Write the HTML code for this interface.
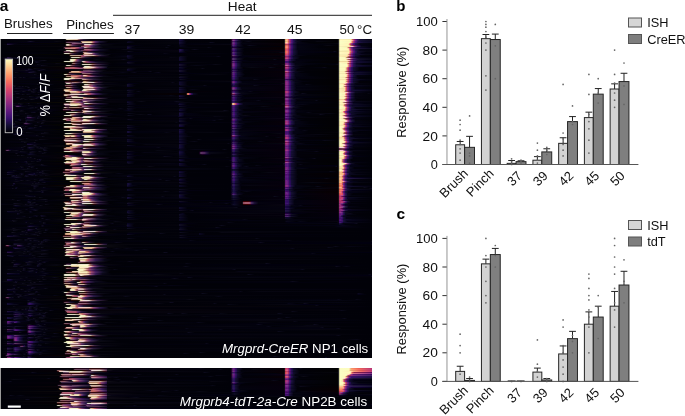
<!DOCTYPE html>
<html><head><meta charset="utf-8"><style>
html,body{margin:0;padding:0;background:#fff}
body{width:685px;height:416px;overflow:hidden;position:relative;font-family:"Liberation Sans",sans-serif}
.hm{position:absolute;overflow:hidden}
.hm i{display:block;height:1px}
svg{position:absolute;left:0;top:0;will-change:transform}
</style></head><body>
<div class="hm" style="left:1px;top:39px;width:371px;height:319px"><i style="background:linear-gradient(90deg,#010108 0.5px,#020209 47.5px,#080716 51.5px,#030309 56.5px,#010108 63.5px,#252119 64.5px,#bbb7aa 65.5px,#dfd7bd 66.5px,#d2c0a8 72.5px,#d1bea6 75.5px,#c7a39a 76.5px,#96726b 77.5px,#593751 79.5px,#21192d 82.5px,#040207 89.5px,#02020d 136.5px,#04030d 177.5px,#140a39 178.5px,#0a0527 181.5px,#02010a 184.5px,#010108 229.5px,#200024 230.5px,#3d1441 231.5px,#520c5f 232.5px,#4c0658 233.5px,#2a094f 234.5px,#050319 238.5px,#010108 250.5px,#050002 282.5px,#221d1f 283.5px,#d49b65 284.5px,#f0b681 285.5px,#ff9484 286.5px,#cd6252 287.5px,#9c3485 288.5px,#841d6e 289.5px,#4d1778 290.5px,#410b6c 291.5px,#21124b 292.5px,#060517 296.5px,#010108 309.5px,#020103 336.5px,#252426 337.5px,#d4ce95 338.5px,#f7f1b8 339.5px,#f4ebae 349.5px,#fab490 350.5px,#c17b56 351.5px,#ad3b75 352.5px,#93215b 353.5px,#591778 354.5px,#4b0a6b 355.5px,#281055 356.5px,#20094d 357.5px,#110b31 358.5px,#030115 366.5px,#020112 370.5px)"></i><i style="background:linear-gradient(90deg,#010108 0.5px,#02010c 13.5px,#020208 63.5px,#1e0b05 70.5px,#250505 77.5px,#180525 80.5px,#030308 99.5px,#05040e 177.5px,#190f3e 178.5px,#0e092b 181.5px,#03020b 184.5px,#010108 229.5px,#27002b 230.5px,#663d6a 231.5px,#813b8d 232.5px,#722c7e 233.5px,#46256a 234.5px,#180f38 237.5px,#060512 240.5px,#050002 282.5px,#252022 283.5px,#e5ac77 284.5px,#ffcb95 285.5px,#ffa797 286.5px,#d96e5e 287.5px,#a33c8d 288.5px,#8a2273 289.5px,#511b7c 290.5px,#430e6e 291.5px,#23154d 292.5px,#070617 296.5px,#010108 309.5px,#02010b 317.5px,#020103 336.5px,#272627 337.5px,#dbd59c 338.5px,#fffac1 339.5px,#fff9bb 349.5px,#ffdab6 350.5px,#f9b38f 351.5px,#d2609a 352.5px,#aa3872 353.5px,#6b298a 354.5px,#581677 355.5px,#30195d 356.5px,#181237 358.5px,#0a091a 370.5px)"></i><i style="background:linear-gradient(90deg,#010108 0.5px,#04040d 25.5px,#15112b 29.5px,#020209 34.5px,#02020d 52.5px,#090812 55.5px,#010106 63.5px,#1f0516 67.5px,#10041e 77.5px,#0c0318 78.5px,#20122c 79.5px,#9c7869 80.5px,#bb9787 81.5px,#be9b78 84.5px,#bc9a76 89.5px,#bd8372 90.5px,#a06555 91.5px,#8d446a 92.5px,#7c345a 93.5px,#592b67 94.5px,#211839 98.5px,#010106 107.5px,#02020a 125.5px,#08051f 127.5px,#010108 133.5px,#03030c 177.5px,#0e082d 178.5px,#010108 186.5px,#010108 229.5px,#1a0029 230.5px,#381646 231.5px,#490f67 232.5px,#430960 233.5px,#250c4d 234.5px,#1d0446 235.5px,#0d082a 236.5px,#010109 242.5px,#090817 247.5px,#010108 251.5px,#040002 282.5px,#211d1f 283.5px,#ce9e69 284.5px,#eaba85 285.5px,#fd9884 286.5px,#ca6551 287.5px,#9e3483 288.5px,#861c6b 289.5px,#4e1778 290.5px,#1a0b44 293.5px,#0f0b2a 294.5px,#010108 301.5px,#020209 313.5px,#070711 316.5px,#020103 336.5px,#262628 337.5px,#d7d89f 338.5px,#fbfcc4 339.5px,#faf4b8 349.5px,#ffac98 350.5px,#d0715d 351.5px,#a43b89 352.5px,#8a216f 353.5px,#501a7a 354.5px,#1c0c48 357.5px,#110b31 360.5px,#08061f 370.5px)"></i><i style="background:linear-gradient(90deg,#010108 0.5px,#030013 27.5px,#02010c 53.5px,#010106 63.5px,#180715 64.5px,#4f3d4a 65.5px,#65435a 66.5px,#64415b 73.5px,#2d2038 78.5px,#2a1c35 79.5px,#5d392d 80.5px,#e4c0af 81.5px,#f4dcb8 82.5px,#f4dab5 89.5px,#efc5b2 90.5px,#cc9180 91.5px,#9f577b 92.5px,#833a60 93.5px,#592b66 94.5px,#191031 98.5px,#010106 106.5px,#03030b 125.5px,#0d0a24 126.5px,#010108 134.5px,#05040d 177.5px,#150f34 178.5px,#0b0824 181.5px,#010109 185.5px,#03020a 207.5px,#0c0b1c 209.5px,#0a091a 211.5px,#010108 214.5px,#010108 229.5px,#1f002d 230.5px,#512f60 231.5px,#662c84 232.5px,#591f77 233.5px,#351c5d 234.5px,#2a1253 235.5px,#181335 236.5px,#03020d 241.5px,#040002 282.5px,#262224 283.5px,#e8b883 284.5px,#ffd9a3 285.5px,#ffb4a0 286.5px,#dd7864 287.5px,#a9408e 288.5px,#8e2573 289.5px,#541d7e 290.5px,#450e6f 291.5px,#25154f 292.5px,#070619 296.5px,#010108 307.5px,#020204 336.5px,#262628 337.5px,#d7d89f 338.5px,#fbfcc4 339.5px,#fef8bb 348.5px,#f5efb3 349.5px,#ffac99 350.5px,#d0715d 351.5px,#a33a88 352.5px,#89216e 353.5px,#501a7a 354.5px,#430d6d 355.5px,#24134f 356.5px,#130e31 362.5px,#0b0922 370.5px)"></i><i style="background:linear-gradient(90deg,#010108 0.5px,#02000a 5.5px,#0a0023 6.5px,#010108 18.5px,#070502 64.5px,#1c1407 67.5px,#2b060a 69.5px,#3b0a2f 70.5px,#7b486d 71.5px,#8b527b 73.5px,#734a5f 79.5px,#523c50 82.5px,#362821 89.5px,#380d1a 91.5px,#260727 93.5px,#040112 99.5px,#020209 126.5px,#04040c 177.5px,#130e2e 178.5px,#01010c 185.5px,#01010b 229.5px,#250032 230.5px,#592e66 231.5px,#73288b 232.5px,#661b7e 233.5px,#3b1a69 234.5px,#300f5e 235.5px,#1a133b 236.5px,#040411 240.5px,#070005 282.5px,#221a20 283.5px,#e27c80 284.5px,#fc9699 285.5px,#f381a5 286.5px,#c55377 287.5px,#843692 288.5px,#6e1f7c 289.5px,#3f1d6c 290.5px,#331160 291.5px,#1d153f 292.5px,#070616 296.5px,#010108 313.5px,#06050c 336.5px,#2a2930 337.5px,#d8d89f 338.5px,#fcfcc3 339.5px,#fcf3b6 347.5px,#ffa8a3 348.5px,#d96f69 349.5px,#a14194 350.5px,#862679 351.5px,#501e7b 352.5px,#23164b 354.5px,#070617 358.5px,#020109 370.5px)"></i><i style="background:linear-gradient(90deg,#010108 0.5px,#07050f 5.5px,#24153e 6.5px,#04030f 13.5px,#03020e 24.5px,#03020e 27.5px,#010106 63.5px,#26241d 64.5px,#c4c2b5 65.5px,#eae2cb 66.5px,#dad2bb 67.5px,#b2888c 68.5px,#83595f 69.5px,#5c284f 71.5px,#360925 75.5px,#1a051a 81.5px,#331d33 82.5px,#cdb7c7 83.5px,#ebdcdd 84.5px,#e6d7ca 88.5px,#c7b9ad 89.5px,#aa7f87 90.5px,#865b65 91.5px,#3d294e 94.5px,#0c0b15 100.5px,#010108 115.5px,#02020b 177.5px,#090424 178.5px,#02010d 184.5px,#070611 229.5px,#280035 230.5px,#4d235a 231.5px,#651a7d 232.5px,#5a0f72 233.5px,#331262 234.5px,#2a0959 235.5px,#140e35 236.5px,#02010e 241.5px,#070005 282.5px,#170f15 283.5px,#a64043 284.5px,#b65053 285.5px,#b54267 286.5px,#9d2b4f 287.5px,#681976 288.5px,#580a67 289.5px,#310f5e 290.5px,#290756 291.5px,#140b36 292.5px,#030213 296.5px,#010108 333.5px,#020108 336.5px,#26252c 337.5px,#d6d59d 338.5px,#faf9c1 339.5px,#fff6ba 346.5px,#f0e7aa 347.5px,#f18782 348.5px,#bd534e 349.5px,#8d2d80 350.5px,#77176a 351.5px,#451470 352.5px,#3b0a66 353.5px,#1e1045 354.5px,#050415 358.5px,#010108 370.5px)"></i><i style="background:linear-gradient(90deg,#010108 0.5px,#020106 63.5px,#281a15 64.5px,#aa9d92 65.5px,#d0b6a1 66.5px,#cab09b 67.5px,#926666 69.5px,#492f50 72.5px,#171123 77.5px,#100a18 79.5px,#2c0717 80.5px,#2b0716 81.5px,#4a0b1e 82.5px,#945266 83.5px,#b45b71 84.5px,#b25a74 87.5px,#a35a83 88.5px,#954c76 89.5px,#6d3b77 90.5px,#3c2259 92.5px,#090816 98.5px,#010108 113.5px,#010109 125.5px,#030017 127.5px,#010108 143.5px,#03020b 165.5px,#0a0919 167.5px,#010108 170.5px,#03020a 177.5px,#09081e 179.5px,#020108 186.5px,#020108 229.5px,#1a002f 230.5px,#45285a 231.5px,#55257d 232.5px,#14102e 236.5px,#020109 242.5px,#03020a 245.5px,#0c0b1c 248.5px,#010108 256.5px,#080003 282.5px,#1e1418 283.5px,#cf5f45 284.5px,#e4745a 285.5px,#e06073 286.5px,#be3f51 287.5px,#7e2784 288.5px,#6a1370 289.5px,#3b146b 290.5px,#320b62 291.5px,#1a113f 292.5px,#040413 296.5px,#010108 321.5px,#080712 326.5px,#020103 336.5px,#262627 337.5px,#dbd59c 338.5px,#fff9c1 339.5px,#fff4b7 347.5px,#fdc89f 348.5px,#c28d64 349.5px,#9b5965 350.5px,#81404b 351.5px,#732052 352.5px,#620f42 353.5px,#400b53 354.5px,#17003b 357.5px,#030215 360.5px,#020109 370.5px)"></i><i style="background:linear-gradient(90deg,#010108 0.5px,#07050a 63.5px,#300707 68.5px,#2e0606 69.5px,#28071d 70.5px,#0c0619 77.5px,#191220 79.5px,#744a5d 80.5px,#a15e72 83.5px,#af576d 85.5px,#a44c67 87.5px,#572562 90.5px,#1e1537 94.5px,#04040d 101.5px,#04040c 125.5px,#120e26 126.5px,#010108 134.5px,#02020a 177.5px,#07061c 179.5px,#010108 187.5px,#010108 229.5px,#3d0c64 232.5px,#17053f 235.5px,#0a0724 236.5px,#010108 243.5px,#010108 281.5px,#080003 282.5px,#21181c 283.5px,#e4755a 284.5px,#fd8e73 285.5px,#f7778a 286.5px,#cc4c5f 287.5px,#87318e 288.5px,#711b77 289.5px,#40186f 290.5px,#350e65 291.5px,#1d1341 292.5px,#050514 296.5px,#010108 319.5px,#020103 336.5px,#252526 337.5px,#d4ce95 338.5px,#f7f1b9 339.5px,#f4e9ad 347.5px,#ffd1a8 349.5px,#ffc3cf 350.5px,#fbb9c5 351.5px,#d380b3 352.5px,#a24f81 353.5px,#6c3880 354.5px,#341d59 356.5px,#0c0a1d 360.5px,#010108 370.5px)"></i><i style="background:linear-gradient(90deg,#010108 0.5px,#010106 61.5px,#1a0614 62.5px,#513e4a 63.5px,#84444c 64.5px,#8c494f 69.5px,#a75b54 70.5px,#ac5d57 73.5px,#9f5577 76.5px,#9a4f72 77.5px,#764177 78.5px,#44225a 81.5px,#4f3a4e 82.5px,#bba6b6 83.5px,#d2afa7 84.5px,#966677 86.5px,#815163 87.5px,#2d1f3f 92.5px,#04040b 102.5px,#04040d 125.5px,#140d34 126.5px,#160f36 127.5px,#02020e 131.5px,#03020a 163.5px,#0a0919 165.5px,#010108 168.5px,#020209 177.5px,#03030f 181.5px,#03020a 205.5px,#090817 207.5px,#010108 211.5px,#010108 229.5px,#240042 232.5px,#01010f 238.5px,#080002 282.5px,#22191d 283.5px,#e7795d 284.5px,#ff9276 285.5px,#fa7a8c 286.5px,#cd4e5f 287.5px,#89328e 288.5px,#731b77 289.5px,#411871 290.5px,#360e66 291.5px,#1d1442 292.5px,#050514 296.5px,#010108 318.5px,#020103 336.5px,#262628 337.5px,#d7d79e 338.5px,#fbfbc3 339.5px,#f7f5b7 345.5px,#f4bc94 346.5px,#be855e 347.5px,#b34672 348.5px,#9a2d59 349.5px,#66227c 350.5px,#59156f 351.5px,#34175c 352.5px,#100630 356.5px,#020013 368.5px,#020012 370.5px)"></i><i style="background:linear-gradient(90deg,#010108 0.5px,#010106 61.5px,#291523 63.5px,#b3747b 64.5px,#ca8a91 65.5px,#cf7f78 73.5px,#9e4759 75.5px,#762b4f 77.5px,#58235a 78.5px,#321049 81.5px,#2b162b 82.5px,#341e34 83.5px,#3e1b19 84.5px,#250725 89.5px,#040211 97.5px,#01000a 124.5px,#04030d 125.5px,#120b32 126.5px,#07041d 129.5px,#010108 135.5px,#010108 229.5px,#150025 230.5px,#3e294e 231.5px,#4c286a 232.5px,#131128 236.5px,#010108 243.5px,#080002 282.5px,#1e1518 283.5px,#cf6144 284.5px,#e4765a 285.5px,#e06172 286.5px,#bf3f51 287.5px,#802884 288.5px,#6b1370 289.5px,#3c146c 290.5px,#330a63 291.5px,#1a103f 292.5px,#040413 296.5px,#010108 327.5px,#020103 336.5px,#262627 337.5px,#d7d69e 338.5px,#fbfbc2 339.5px,#fdfabd 345.5px,#ffe4bc 346.5px,#ffcfa7 347.5px,#e477a3 348.5px,#b34672 349.5px,#74308a 350.5px,#371a5f 352.5px,#1c123c 357.5px,#0c0b1d 370.5px)"></i><i style="background:linear-gradient(90deg,#010108 0.5px,#020207 55.5px,#070710 59.5px,#040207 63.5px,#201b0a 66.5px,#211908 69.5px,#330812 72.5px,#130423 79.5px,#1d051d 81.5px,#3d0a24 82.5px,#8e5973 83.5px,#af647c 84.5px,#a75c76 87.5px,#411b58 93.5px,#130f26 99.5px,#010106 109.5px,#020209 119.5px,#080712 122.5px,#02000b 176.5px,#06040f 177.5px,#1e0e48 178.5px,#22124c 179.5px,#050317 183.5px,#020209 189.5px,#0c0a1c 193.5px,#01010a 198.5px,#010108 229.5px,#190031 230.5px,#3f2057 231.5px,#4f1c7c 232.5px,#451273 233.5px,#271751 234.5px,#1f0e48 235.5px,#110e2b 236.5px,#010108 242.5px,#090005 282.5px,#1c1118 283.5px,#cf4650 284.5px,#e15963 285.5px,#d04d7d 286.5px,#b43262 287.5px,#702486 288.5px,#5d1174 289.5px,#331563 290.5px,#2a0c5a 291.5px,#161037 292.5px,#040413 296.5px,#010108 327.5px,#020103 336.5px,#262628 337.5px,#d9d69d 338.5px,#fefbc2 339.5px,#fff9bc 346.5px,#f7ecb0 347.5px,#f88886 348.5px,#c35350 349.5px,#8d2e86 350.5px,#77186f 351.5px,#431571 352.5px,#380b67 353.5px,#1d1244 354.5px,#060517 358.5px,#02020c 370.5px)"></i><i style="background:linear-gradient(90deg,#010108 0.5px,#030308 55.5px,#03020e 57.5px,#07060a 63.5px,#2b2720 64.5px,#c1bdb1 65.5px,#e3dfc6 66.5px,#dbd3ba 69.5px,#ad8a7b 71.5px,#835560 73.5px,#372346 78.5px,#372246 79.5px,#563855 80.5px,#823750 85.5px,#78335f 89.5px,#441e5c 92.5px,#0d0a21 99.5px,#010106 109.5px,#02010c 137.5px,#06040f 177.5px,#1e0e48 178.5px,#21114b 179.5px,#040317 183.5px,#010108 189.5px,#010108 229.5px,#17002f 230.5px,#35164c 231.5px,#431071 232.5px,#3d0a6a 233.5px,#21104b 234.5px,#190943 235.5px,#0d0a27 236.5px,#010108 243.5px,#02010b 279.5px,#090005 282.5px,#1d1118 283.5px,#d04852 284.5px,#e35b65 285.5px,#d35080 286.5px,#b63363 287.5px,#712688 288.5px,#5e1274 289.5px,#331563 290.5px,#2b0d5b 291.5px,#171037 292.5px,#030211 297.5px,#020103 336.5px,#262527 337.5px,#d5d299 338.5px,#f9f5bd 339.5px,#f7ecaf 347.5px,#ff9a97 348.5px,#d0605e 349.5px,#95368e 350.5px,#7d1e75 351.5px,#471a75 352.5px,#3b0d69 353.5px,#1f1345 354.5px,#060517 358.5px,#03020d 370.5px)"></i><i style="background:linear-gradient(90deg,#010108 0.5px,#010106 61.5px,#1a0714 62.5px,#55424d 63.5px,#7a5567 65.5px,#7d5769 67.5px,#87716f 68.5px,#e1ccc6 69.5px,#e9e3cc 70.5px,#e0dac3 71.5px,#cba79e 72.5px,#9d7972 73.5px,#6a4359 75.5px,#2f2140 78.5px,#1f172a 81.5px,#371313 82.5px,#320809 85.5px,#2b071c 86.5px,#090218 93.5px,#010108 111.5px,#03030b 125.5px,#100d21 127.5px,#010108 133.5px,#05040e 177.5px,#1b123a 178.5px,#0f0b28 181.5px,#03020b 184.5px,#010108 229.5px,#3b0b5e 232.5px,#16033d 235.5px,#0a0623 236.5px,#010108 243.5px,#09000b 282.5px,#1f1422 283.5px,#da5e4c 284.5px,#ef7461 285.5px,#e5617c 286.5px,#c23f59 287.5px,#7e2a89 288.5px,#691574 289.5px,#3a166a 290.5px,#310c61 291.5px,#19113d 292.5px,#030211 297.5px,#03020a 331.5px,#0c0b1c 333.5px,#020103 336.5px,#252325 337.5px,#d2c78e 338.5px,#f4e9b0 339.5px,#f6e8aa 347.5px,#ffc1a2 348.5px,#e18a6c 349.5px,#b4468f 350.5px,#962870 351.5px,#591f81 352.5px,#490f71 353.5px,#271652 354.5px,#1e0d49 355.5px,#110e2c 356.5px,#060512 365.5px,#04040f 370.5px)"></i><i style="background:linear-gradient(90deg,#010108 0.5px,#02010c 9.5px,#020208 57.5px,#010106 61.5px,#2e081d 64.5px,#251011 69.5px,#191406 71.5px,#270505 73.5px,#160520 76.5px,#080213 80.5px,#1c1427 81.5px,#987370 82.5px,#b7928e 83.5px,#ba908c 84.5px,#5b4161 88.5px,#141120 94.5px,#010106 105.5px,#010109 125.5px,#01000f 129.5px,#03020b 177.5px,#0b032b 178.5px,#010108 186.5px,#010108 229.5px,#1a002c 230.5px,#492c5b 231.5px,#5a2a7d 232.5px,#161230 236.5px,#020109 242.5px,#03020a 277.5px,#0b0a1b 280.5px,#120614 282.5px,#271b29 283.5px,#db604d 284.5px,#ef7461 285.5px,#e5617c 286.5px,#c23f59 287.5px,#7d2a89 288.5px,#691574 289.5px,#3a166a 290.5px,#310c61 291.5px,#19113d 292.5px,#030211 297.5px,#01000c 335.5px,#020103 336.5px,#272627 337.5px,#ded39a 338.5px,#fff8bf 339.5px,#fff1b4 347.5px,#ffb394 348.5px,#cc7657 349.5px,#a83a82 350.5px,#8e2068 351.5px,#52187a 352.5px,#450b6d 353.5px,#24134e 354.5px,#1c0a46 355.5px,#0f0b2a 356.5px,#01000d 364.5px,#01010c 370.5px)"></i><i style="background:linear-gradient(90deg,#010108 0.5px,#02020d 30.5px,#010106 61.5px,#23231b 62.5px,#b9b9ac 63.5px,#dadac2 64.5px,#d3d1ba 67.5px,#ba9892 68.5px,#86635f 69.5px,#4b2d47 71.5px,#261733 73.5px,#060409 78.5px,#090207 81.5px,#522518 82.5px,#e8bba9 83.5px,#f3d8b9 84.5px,#f2d1bd 87.5px,#f2d0cd 89.5px,#efc0cb 90.5px,#b58591 91.5px,#864e80 92.5px,#44245d 94.5px,#0f0b23 98.5px,#02010c 105.5px,#02020a 161.5px,#080716 163.5px,#010108 169.5px,#03020e 210.5px,#03020e 213.5px,#010108 229.5px,#1b0031 230.5px,#422158 231.5px,#531c7e 232.5px,#481273 233.5px,#291753 234.5px,#200e4b 235.5px,#120e2d 236.5px,#020109 242.5px,#090006 282.5px,#1d121a 283.5px,#d14858 284.5px,#e45c6b 285.5px,#d25184 286.5px,#b53468 287.5px,#702689 288.5px,#5d1376 289.5px,#331663 290.5px,#2a0d5a 291.5px,#171138 292.5px,#02020f 297.5px,#020103 336.5px,#262627 337.5px,#dbd49b 338.5px,#fff8bf 339.5px,#ffedba 346.5px,#ffe0ad 347.5px,#fb8aa8 348.5px,#c45271 349.5px,#833491 350.5px,#6c1d7b 351.5px,#3c1c6a 352.5px,#31115f 353.5px,#1c143f 354.5px,#020113 360.5px,#01000d 370.5px)"></i><i style="background:linear-gradient(90deg,#010108 0.5px,#050501 62.5px,#131105 67.5px,#2b0908 69.5px,#250722 70.5px,#0e0c11 78.5px,#0e080c 80.5px,#1f191d 81.5px,#946758 82.5px,#b58878 83.5px,#b78775 86.5px,#a67564 87.5px,#6f3f4e 91.5px,#642d60 92.5px,#271b41 96.5px,#090914 103.5px,#0c0a15 107.5px,#010108 110.5px,#02020d 131.5px,#010108 229.5px,#19002f 230.5px,#39184f 231.5px,#491274 232.5px,#420b6d 233.5px,#24124e 234.5px,#1c0946 235.5px,#0e0a29 236.5px,#010108 243.5px,#090005 282.5px,#1b1018 283.5px,#c73e4e 284.5px,#d95060 285.5px,#c8477b 286.5px,#ae2d61 287.5px,#6b2184 288.5px,#590f72 289.5px,#301460 290.5px,#280c58 291.5px,#150f36 292.5px,#02020f 297.5px,#020103 336.5px,#252426 337.5px,#d4cc93 338.5px,#f7efb6 339.5px,#f8efb1 345.5px,#ffdba8 346.5px,#cba572 347.5px,#c3516f 348.5px,#a1304e 349.5px,#6b1c79 350.5px,#5a0b69 351.5px,#31105e 352.5px,#280856 353.5px,#150d38 354.5px,#080715 364.5px,#050511 370.5px)"></i><i style="background:linear-gradient(90deg,#010108 0.5px,#010106 67.5px,#241812 68.5px,#9a8e83 69.5px,#bda58f 70.5px,#c1a08e 78.5px,#b49483 79.5px,#b6687f 80.5px,#a1526a 81.5px,#9c5d76 82.5px,#e3a4ba 83.5px,#e2bcc2 84.5px,#ceb4a6 92.5px,#7c525e 95.5px,#291e3a 100.5px,#010106 108.5px,#030211 125.5px,#0d092a 126.5px,#010108 133.5px,#010109 177.5px,#01010a 183.5px,#010108 229.5px,#1e0125 230.5px,#56395d 231.5px,#6a387b 232.5px,#1b1536 236.5px,#03030e 241.5px,#070009 282.5px,#180e1a 283.5px,#a73876 284.5px,#b74886 285.5px,#a74395 286.5px,#8f2c7e 287.5px,#572480 288.5px,#47146f 289.5px,#271850 290.5px,#080718 294.5px,#010108 306.5px,#020106 336.5px,#262429 337.5px,#d8c991 338.5px,#fbecb3 339.5px,#ffeaad 345.5px,#ffd6b6 346.5px,#ffc6a5 347.5px,#e478a9 348.5px,#b34778 349.5px,#73318d 350.5px,#5e1b77 351.5px,#341b5f 352.5px,#2a1155 353.5px,#191337 354.5px,#04030f 359.5px,#010108 370.5px)"></i><i style="background:linear-gradient(90deg,#010108 0.5px,#010106 67.5px,#2f1609 71.5px,#39190c 79.5px,#8b3c55 80.5px,#94455e 81.5px,#7b3d56 83.5px,#512b37 85.5px,#23120a 91.5px,#28060d 95.5px,#12041f 98.5px,#010108 110.5px,#060514 124.5px,#080716 125.5px,#120d2f 126.5px,#020109 132.5px,#03030a 177.5px,#0e0c1e 179.5px,#010108 187.5px,#03020e 214.5px,#0a0819 217.5px,#010108 220.5px,#010108 229.5px,#370547 232.5px,#160037 235.5px,#030113 238.5px,#010108 279.5px,#130915 283.5px,#8b1c5a 284.5px,#962765 285.5px,#872376 286.5px,#761265 287.5px,#44116d 288.5px,#16073f 291.5px,#0c0825 292.5px,#010108 299.5px,#030207 336.5px,#2a282d 337.5px,#d9ca91 338.5px,#fbecb3 339.5px,#f4dfa2 345.5px,#eca888 346.5px,#b77353 347.5px,#a4396a 348.5px,#8b1f50 349.5px,#561470 350.5px,#4a0763 351.5px,#260d51 352.5px,#1f064a 353.5px,#0f092d 354.5px,#010109 360.5px,#010108 370.5px)"></i><i style="background:linear-gradient(90deg,#010108 0.5px,#080418 5.5px,#291443 6.5px,#2c1847 7.5px,#080717 11.5px,#010106 62.5px,#020104 68.5px,#212122 69.5px,#b8b7a0 70.5px,#d8d6bf 71.5px,#d4d0ba 77.5px,#c4a49b 78.5px,#93736c 79.5px,#603c55 81.5px,#251d35 84.5px,#04030b 91.5px,#03030c 125.5px,#0c0922 126.5px,#010108 134.5px,#020209 167.5px,#070613 169.5px,#04030c 177.5px,#100b2f 178.5px,#010108 186.5px,#010108 229.5px,#2b0449 232.5px,#04011b 237.5px,#020209 245.5px,#04040e 249.5px,#080008 282.5px,#160c16 283.5px,#a62a5a 284.5px,#b43868 285.5px,#a3337c 286.5px,#8f1f68 287.5px,#551879 288.5px,#480b6c 289.5px,#261252 290.5px,#1e0a4a 291.5px,#100c2d 292.5px,#010108 299.5px,#020203 336.5px,#262628 337.5px,#d6d79e 338.5px,#fbfbc3 339.5px,#faf9bc 343.5px,#fed8a8 344.5px,#c49e6d 345.5px,#a0656a 346.5px,#83494e 347.5px,#591e3c 349.5px,#4d0b4a 350.5px,#430240 351.5px,#240343 352.5px,#040119 356.5px,#01000d 370.5px)"></i><i style="background:linear-gradient(90deg,#010108 0.5px,#0d0028 7.5px,#010010 11.5px,#120f27 15.5px,#01010c 24.5px,#040406 68.5px,#22200f 71.5px,#181306 77.5px,#230504 79.5px,#220618 80.5px,#070218 85.5px,#010106 101.5px,#02020b 125.5px,#08061f 127.5px,#010108 133.5px,#04030c 177.5px,#110c30 178.5px,#010108 186.5px,#010108 229.5px,#160027 230.5px,#422b52 231.5px,#512a6f 232.5px,#14112a 236.5px,#010108 243.5px,#080008 282.5px,#190f19 283.5px,#b63a6a 284.5px,#c74b7b 285.5px,#b5448e 286.5px,#9d2c75 287.5px,#5f2284 288.5px,#4e1173 289.5px,#2a1657 290.5px,#220e4f 291.5px,#140f30 292.5px,#020109 298.5px,#020103 336.5px,#262628 337.5px,#d7d79f 338.5px,#fcfcc3 339.5px,#fdfcbf 343.5px,#ffe8b8 345.5px,#ffd5da 346.5px,#fcc0df 348.5px,#c488a6 349.5px,#92508e 350.5px,#753371 351.5px,#492868 352.5px,#1b1139 355.5px,#0e0c23 357.5px,#060512 370.5px)"></i><i style="background:linear-gradient(90deg,#010108 0.5px,#010104 67.5px,#262613 68.5px,#c6c7ae 69.5px,#ebebbd 70.5px,#eae0b3 73.5px,#e49d9b 74.5px,#a55e5f 75.5px,#6e376e 76.5px,#30184c 78.5px,#070612 82.5px,#030208 91.5px,#0a0914 95.5px,#010106 101.5px,#05050e 119.5px,#0d0b1d 122.5px,#01010a 126.5px,#04030d 177.5px,#130d32 178.5px,#010108 186.5px,#010108 229.5px,#180026 230.5px,#462e54 231.5px,#572c72 232.5px,#15122d 236.5px,#020109 242.5px,#03030a 271.5px,#0b0a1a 273.5px,#010108 276.5px,#05000b 282.5px,#100916 283.5px,#721b6e 284.5px,#7c2578 285.5px,#702181 286.5px,#611272 287.5px,#371465 288.5px,#2e0b5c 289.5px,#170f3a 290.5px,#020210 295.5px,#020103 336.5px,#262628 337.5px,#d8d79f 338.5px,#fcfcc3 339.5px,#fff5b9 344.5px,#e9dca0 345.5px,#cf907d 346.5px,#a66754 347.5px,#953f62 348.5px,#7b2548 349.5px,#591262 350.5px,#4d0757 351.5px,#2c0c56 352.5px,#110e2a 358.5px,#080716 370.5px)"></i><i style="background:linear-gradient(90deg,#010108 0.5px,#03020e 36.5px,#0f0d1b 43.5px,#010108 46.5px,#040307 62.5px,#101012 67.5px,#353521 68.5px,#d5d5bc 69.5px,#f9facb 70.5px,#f9f0c3 72.5px,#e0d5a8 73.5px,#cc8584 74.5px,#9f5858 75.5px,#723b72 76.5px,#382154 78.5px,#1f1a33 80.5px,#040309 89.5px,#04030c 177.5px,#100a2f 178.5px,#010108 186.5px,#010108 229.5px,#30054b 232.5px,#110034 235.5px,#05011c 237.5px,#010108 248.5px,#05000b 282.5px,#110a17 283.5px,#792275 284.5px,#852d80 285.5px,#782a8a 286.5px,#671979 287.5px,#3b1869 288.5px,#310e5f 289.5px,#1a123d 290.5px,#030211 295.5px,#020103 336.5px,#262627 337.5px,#d6d69d 338.5px,#fafac1 339.5px,#fff5b9 345.5px,#ffdcc9 346.5px,#ffd1be 347.5px,#f7a1c4 348.5px,#bd678a 349.5px,#853f8f 350.5px,#401f69 352.5px,#0f0b2d 356.5px,#020113 365.5px,#020110 370.5px)"></i><i style="background:linear-gradient(90deg,#010108 0.5px,#010108 3.5px,#1a0014 5.5px,#2c002f 6.5px,#2a002e 7.5px,#09001f 8.5px,#010109 16.5px,#02020a 21.5px,#030112 23.5px,#010109 25.5px,#120f1f 27.5px,#01000a 29.5px,#03030a 33.5px,#0b081d 34.5px,#010108 41.5px,#010106 61.5px,#23231b 62.5px,#b9b9ac 63.5px,#dadac2 64.5px,#e4e1c8 71.5px,#d3b0a3 72.5px,#a38074 73.5px,#6a4158 75.5px,#2b1f3c 78.5px,#241835 79.5px,#3a3537 80.5px,#c1bbb9 81.5px,#f1cbc6 82.5px,#dfb2ad 83.5px,#c17488 84.5px,#9c4e65 85.5px,#4d1d54 88.5px,#0e0523 94.5px,#010106 107.5px,#010109 125.5px,#030019 127.5px,#01010b 137.5px,#010108 229.5px,#1f002e 230.5px,#502d5f 231.5px,#652a84 232.5px,#581d77 233.5px,#331b5d 234.5px,#291153 235.5px,#171234 236.5px,#03020e 241.5px,#04000d 282.5px,#0a0513 283.5px,#440b6b 284.5px,#41136f 286.5px,#390b67 287.5px,#1e1145 288.5px,#050415 292.5px,#010108 312.5px,#030103 336.5px,#232123 337.5px,#ceba82 338.5px,#eedaa2 339.5px,#eed89b 345.5px,#f0b792 346.5px,#bd845f 347.5px,#af446f 348.5px,#922752 349.5px,#5d1773 350.5px,#4f0965 351.5px,#290f54 352.5px,#120a34 355.5px,#07061b 370.5px)"></i><i style="background:linear-gradient(90deg,#010108 0.5px,#010108 3.5px,#20031a 4.5px,#5a3d54 5.5px,#6d3e71 6.5px,#59295d 7.5px,#261b3c 8.5px,#090717 10.5px,#03030a 17.5px,#040213 22.5px,#0c0a1b 23.5px,#010109 25.5px,#010109 33.5px,#0f0c22 35.5px,#010108 39.5px,#050501 62.5px,#121305 69.5px,#1b1807 71.5px,#2f0c07 72.5px,#2b0906 73.5px,#29071a 74.5px,#160524 77.5px,#0a031d 79.5px,#090408 80.5px,#1f1a1d 81.5px,#794c4b 82.5px,#845756 83.5px,#92445b 85.5px,#874371 86.5px,#84416e 87.5px,#4b2e5e 90.5px,#161226 97.5px,#010106 109.5px,#04040c 125.5px,#140f29 126.5px,#010108 134.5px,#02020a 177.5px,#070613 180.5px,#010108 211.5px,#010108 229.5px,#1b002a 230.5px,#391648 231.5px,#4b106a 232.5px,#440963 233.5px,#260d4f 234.5px,#1e0548 235.5px,#0e092b 236.5px,#010109 242.5px,#04000d 282.5px,#0b0614 283.5px,#4a1171 284.5px,#471975 286.5px,#3d0f6b 287.5px,#211548 288.5px,#060516 292.5px,#010108 307.5px,#030103 336.5px,#272527 337.5px,#e4d097 338.5px,#fff4bc 339.5px,#fff3b6 345.5px,#ffe1bc 346.5px,#ffd0ab 347.5px,#e97ea9 348.5px,#b54a75 349.5px,#77318c 350.5px,#611b77 351.5px,#351b60 352.5px,#150e37 355.5px,#07061b 370.5px)"></i><i style="background:linear-gradient(90deg,#010108 0.5px,#03030a 15.5px,#03020e 17.5px,#04030d 19.5px,#0f0c21 20.5px,#020209 23.5px,#04040c 27.5px,#100e1e 28.5px,#010108 31.5px,#03020e 43.5px,#03020a 53.5px,#0a0913 55.5px,#010105 64.5px,#020104 69.5px,#250d0f 70.5px,#7d6563 71.5px,#9d7070 72.5px,#936766 73.5px,#664761 74.5px,#2c213c 76.5px,#0b0b08 80.5px,#1a1707 85.5px,#1c1106 89.5px,#2a0605 91.5px,#150420 96.5px,#010108 111.5px,#03020f 125.5px,#0d0b1e 127.5px,#010108 134.5px,#02010a 177.5px,#05001e 178.5px,#010108 190.5px,#010108 229.5px,#27002a 230.5px,#57295b 231.5px,#732282 232.5px,#661576 233.5px,#3b146a 234.5px,#310a61 235.5px,#18103b 236.5px,#040311 240.5px,#06000b 282.5px,#110a16 283.5px,#7c1f6d 284.5px,#882a78 285.5px,#7b2684 286.5px,#6a1573 287.5px,#3c146b 288.5px,#330b62 289.5px,#1b1140 290.5px,#040413 294.5px,#010108 333.5px,#020108 336.5px,#26252d 337.5px,#d7d89f 338.5px,#fbfcc4 339.5px,#f4f2b5 345.5px,#efa087 346.5px,#ba6b52 347.5px,#9f3479 348.5px,#851a60 349.5px,#4d1572 350.5px,#410967 351.5px,#21104a 352.5px,#090524 355.5px,#02010c 362.5px,#01010a 370.5px)"></i><i style="background:linear-gradient(90deg,#010108 0.5px,#04030c 19.5px,#0d0a1f 20.5px,#010108 23.5px,#04030c 35.5px,#0d0c1a 36.5px,#02020a 40.5px,#040307 64.5px,#0d0c0e 69.5px,#2d0606 73.5px,#1e051c 74.5px,#03010f 79.5px,#232320 80.5px,#b9b9b0 81.5px,#dcdac4 82.5px,#ddd2bc 88.5px,#977069 91.5px,#533551 95.5px,#1f162f 101.5px,#010106 108.5px,#01000e 129.5px,#05040d 177.5px,#1a1232 178.5px,#0f0b23 181.5px,#010108 186.5px,#03020e 210.5px,#0a0915 214.5px,#010108 222.5px,#010108 229.5px,#28002b 230.5px,#5d2f61 231.5px,#7a2989 232.5px,#6c1b7c 233.5px,#3f186e 234.5px,#340d63 235.5px,#1b123e 236.5px,#040412 240.5px,#02020a 271.5px,#080716 273.5px,#010108 279.5px,#130b17 283.5px,#832674 284.5px,#903280 285.5px,#822e8b 286.5px,#6f1b78 287.5px,#40186f 288.5px,#360e64 289.5px,#1d1342 290.5px,#050514 294.5px,#010108 319.5px,#03020e 334.5px,#0b0a11 336.5px,#28272e 337.5px,#d7d89f 338.5px,#fbfcc4 339.5px,#fefbbe 345.5px,#ffd4bb 346.5px,#ee9f86 347.5px,#bd5398 348.5px,#9b3075 349.5px,#5d2482 350.5px,#4b1370 351.5px,#281751 352.5px,#0e0b2a 355.5px,#04030f 361.5px,#02020b 370.5px)"></i><i style="background:linear-gradient(90deg,#010108 0.5px,#050310 39.5px,#100d1f 40.5px,#010108 47.5px,#010106 63.5px,#24221c 64.5px,#bab8ad 65.5px,#dbd9c2 66.5px,#decbb8 68.5px,#ac9988 69.5px,#8b616e 70.5px,#6f4553 71.5px,#2c1e3b 74.5px,#080810 80.5px,#23231d 83.5px,#281608 89.5px,#310706 91.5px,#21061f 94.5px,#050215 103.5px,#010108 111.5px,#02020c 129.5px,#05040d 177.5px,#16102d 178.5px,#010109 186.5px,#070714 195.5px,#010108 206.5px,#010108 229.5px,#28002c 230.5px,#5f3264 231.5px,#7b2c8d 232.5px,#6d1e7f 233.5px,#3f1b6e 234.5px,#340f63 235.5px,#1c143e 236.5px,#050411 240.5px,#060008 282.5px,#1a121c 283.5px,#b2517e 284.5px,#c66491 285.5px,#b7599d 286.5px,#993b7f 287.5px,#602f7d 288.5px,#2d1b53 290.5px,#0a091a 294.5px,#010108 305.5px,#020204 336.5px,#262628 337.5px,#d7d89f 338.5px,#fbfcc4 339.5px,#fdfcbf 345.5px,#ffdfb3 346.5px,#dca377 347.5px,#c24c89 348.5px,#a12b68 349.5px,#602082 350.5px,#4e0e71 351.5px,#291556 352.5px,#150f36 355.5px,#08071a 370.5px)"></i><i style="background:linear-gradient(90deg,#010108 0.5px,#03020f 18.5px,#03030b 20.5px,#03020e 27.5px,#02010e 38.5px,#0b0904 64.5px,#191707 67.5px,#2c0712 71.5px,#1c0521 73.5px,#04030b 80.5px,#05050d 81.5px,#302f29 82.5px,#c8c7bc 83.5px,#e9e9d0 84.5px,#e7e7cc 87.5px,#e4d2b9 88.5px,#9d716d 91.5px,#482f52 96.5px,#0e0c1a 105.5px,#010106 107.5px,#02010a 177.5px,#05001c 179.5px,#010108 189.5px,#010108 229.5px,#25002a 230.5px,#522557 231.5px,#6c1c7e 232.5px,#601172 233.5px,#371266 234.5px,#2e095c 235.5px,#160e39 236.5px,#030310 240.5px,#060008 282.5px,#100711 283.5px,#751341 284.5px,#75175b 286.5px,#680b4e 287.5px,#3d0c5a 288.5px,#090523 292.5px,#010108 300.5px,#020103 336.5px,#262628 337.5px,#d7d79f 338.5px,#fbfcc3 339.5px,#fafabc 345.5px,#ffd9ad 346.5px,#d89f73 347.5px,#bf4a86 348.5px,#9e2966 349.5px,#5e1e81 350.5px,#4d0d70 351.5px,#281455 352.5px,#0f0830 355.5px,#040316 370.5px)"></i><i style="background:linear-gradient(90deg,#010108 0.5px,#060105 62.5px,#130d12 63.5px,#83374b 64.5px,#954258 67.5px,#9d4656 68.5px,#b15a69 69.5px,#b55b68 72.5px,#591b3f 78.5px,#451434 80.5px,#5d2b4b 81.5px,#debaab 82.5px,#f6e1d1 83.5px,#f6e4c0 85.5px,#f5dec0 89.5px,#f5dad3 90.5px,#efc4cb 92.5px,#955c79 95.5px,#553860 98.5px,#161126 105.5px,#05050a 106.5px,#04040c 177.5px,#120e2d 178.5px,#010108 186.5px,#010108 229.5px,#1c0030 230.5px,#452359 231.5px,#571d81 232.5px,#4d1376 233.5px,#2b1756 234.5px,#220e4e 235.5px,#130f2e 236.5px,#020109 242.5px,#080813 250.5px,#010108 266.5px,#0c0b1c 269.5px,#010108 275.5px,#070009 282.5px,#170e19 283.5px,#a63370 284.5px,#b6437f 285.5px,#a53d8f 286.5px,#8f2779 287.5px,#56207f 288.5px,#47106f 289.5px,#261650 290.5px,#070618 294.5px,#010108 305.5px,#03020e 320.5px,#0a0819 323.5px,#010108 326.5px,#020103 336.5px,#262527 337.5px,#d5d39a 338.5px,#f9f7be 339.5px,#faf7b9 343.5px,#ffe4b0 344.5px,#eec08d 345.5px,#dc6492 346.5px,#b33b69 347.5px,#6f2889 348.5px,#5a1475 349.5px,#30175e 350.5px,#260e54 351.5px,#151032 352.5px,#03020b 358.5px,#010108 370.5px)"></i><i style="background:linear-gradient(90deg,#010108 0.5px,#040211 26.5px,#0e0d1b 27.5px,#010108 31.5px,#0a0915 33.5px,#020209 41.5px,#060105 62.5px,#181116 63.5px,#9b4f62 64.5px,#ae6174 65.5px,#b35965 73.5px,#9f597b 77.5px,#8c5b79 80.5px,#7d4c6b 81.5px,#7d594e 82.5px,#a88376 83.5px,#b58e6d 86.5px,#a67b60 89.5px,#5a2e3b 93.5px,#350a34 97.5px,#060217 104.5px,#010106 109.5px,#03020a 125.5px,#0a0919 127.5px,#010108 137.5px,#02020b 177.5px,#080423 178.5px,#07051f 181.5px,#010108 184.5px,#03030a 199.5px,#0b0a1a 201.5px,#010108 204.5px,#010108 229.5px,#1a002f 230.5px,#3c1a50 231.5px,#4d1376 232.5px,#450b6f 233.5px,#251251 234.5px,#1d0a49 235.5px,#0f0b2b 236.5px,#010108 242.5px,#070009 282.5px,#140b16 283.5px,#972460 284.5px,#a3306d 285.5px,#942d7e 286.5px,#811a6b 287.5px,#4c1674 288.5px,#190943 291.5px,#0e0a28 292.5px,#010108 299.5px,#010108 335.5px,#020103 336.5px,#262628 337.5px,#d9d69e 338.5px,#fdfbc2 339.5px,#fefbbd 343.5px,#ffe3af 344.5px,#d9ab77 345.5px,#c8507e 346.5px,#a52d5c 347.5px,#651e80 348.5px,#540d6e 349.5px,#2c1359 350.5px,#230a51 351.5px,#120d2f 352.5px,#01010a 358.5px,#010108 370.5px)"></i><i style="background:linear-gradient(90deg,#010108 0.5px,#03020e 8.5px,#0a0819 11.5px,#010108 14.5px,#09011b 26.5px,#1d162f 27.5px,#140e2b 29.5px,#04030d 32.5px,#040115 38.5px,#100e1d 42.5px,#010108 45.5px,#0d050d 81.5px,#25061f 83.5px,#160524 91.5px,#010107 104.5px,#04040d 125.5px,#130e2f 126.5px,#07061c 129.5px,#010108 135.5px,#02010a 177.5px,#05001e 178.5px,#010108 190.5px,#010108 229.5px,#2d0a55 232.5px,#04021a 237.5px,#010108 246.5px,#05000b 282.5px,#0f0816 283.5px,#6c1a6e 284.5px,#772479 285.5px,#6c2082 286.5px,#5c1172 287.5px,#341463 288.5px,#2b0b5a 289.5px,#160f38 290.5px,#02010a 296.5px,#020103 336.5px,#262627 337.5px,#d6d59c 338.5px,#faf9c1 339.5px,#fbfabc 343.5px,#ffe3b1 344.5px,#e1b381 345.5px,#ce5585 346.5px,#aa3060 347.5px,#672183 348.5px,#540f71 349.5px,#2c145a 350.5px,#230c51 351.5px,#130e30 352.5px,#01010a 358.5px,#010108 370.5px)"></i><i style="background:linear-gradient(90deg,#010108 0.5px,#090814 23.5px,#120f24 25.5px,#05001b 28.5px,#010108 35.5px,#131025 38.5px,#020010 42.5px,#050207 69.5px,#0f090d 78.5px,#160f16 81.5px,#593751 82.5px,#633f5a 87.5px,#1c172b 94.5px,#020106 106.5px,#03020b 125.5px,#0b0627 126.5px,#010108 133.5px,#05040d 177.5px,#1a1232 178.5px,#0f0b23 181.5px,#010108 186.5px,#010108 229.5px,#13002a 230.5px,#37224d 231.5px,#43206b 232.5px,#0a0820 237.5px,#010108 243.5px,#05000b 282.5px,#110a17 283.5px,#732075 284.5px,#7e2c80 285.5px,#732789 286.5px,#621678 287.5px,#381866 288.5px,#2e0e5d 289.5px,#19113a 290.5px,#02020b 296.5px,#020103 336.5px,#262627 337.5px,#d7d69e 338.5px,#fcfbc2 339.5px,#fcfabd 343.5px,#ffe2af 344.5px,#e6b886 345.5px,#d35a89 346.5px,#ac3262 347.5px,#682385 348.5px,#561072 349.5px,#2d155a 350.5px,#240c52 351.5px,#130e31 352.5px,#03020e 357.5px,#010108 370.5px)"></i><i style="background:linear-gradient(90deg,#010108 0.5px,#040014 27.5px,#0f0c22 32.5px,#01010a 35.5px,#050205 67.5px,#260505 68.5px,#421d15 69.5px,#d3a181 70.5px,#ecbd9c 71.5px,#e9b492 77.5px,#ac5d54 79.5px,#8f4268 80.5px,#873a60 81.5px,#7e3e72 83.5px,#623e61 91.5px,#26193a 95.5px,#05040c 102.5px,#03020e 146.5px,#0b091b 149.5px,#010108 151.5px,#05040d 177.5px,#17112e 178.5px,#010108 186.5px,#010108 229.5px,#400d64 232.5px,#39075e 233.5px,#180441 235.5px,#0b0725 236.5px,#010108 243.5px,#070008 282.5px,#1b121c 283.5px,#b9527a 284.5px,#cc658e 285.5px,#be599d 286.5px,#9f3a7e 287.5px,#642d84 288.5px,#2e1a57 290.5px,#0a091b 294.5px,#010108 304.5px,#020103 336.5px,#252426 337.5px,#d4cd94 338.5px,#f7f0b7 339.5px,#fbeeb1 342.5px,#ede0a3 343.5px,#d2937f 344.5px,#a46651 345.5px,#90385e 346.5px,#771f45 347.5px,#531060 348.5px,#480555 349.5px,#25094b 350.5px,#090228 353.5px,#020110 370.5px)"></i><i style="background:linear-gradient(90deg,#010108 0.5px,#04030b 13.5px,#0d0c19 14.5px,#010108 18.5px,#060216 26.5px,#1c1435 28.5px,#02010a 36.5px,#040104 66.5px,#181518 67.5px,#906b60 68.5px,#a78175 69.5px,#bd8b6c 71.5px,#bf8969 77.5px,#ca7b71 78.5px,#bd6d64 79.5px,#9c5075 80.5px,#501950 85.5px,#1c062a 92.5px,#070514 99.5px,#010108 115.5px,#070615 121.5px,#010108 128.5px,#0a0819 133.5px,#010108 136.5px,#010108 151.5px,#0a0819 157.5px,#010108 160.5px,#020109 177.5px,#04001b 179.5px,#010108 190.5px,#010108 203.5px,#03020d 227.5px,#010108 229.5px,#1b002e 230.5px,#492b5c 231.5px,#5b287f 232.5px,#151130 236.5px,#020109 242.5px,#070008 282.5px,#120913 283.5px,#851d46 284.5px,#872265 286.5px,#761155 287.5px,#450f65 288.5px,#0b0727 292.5px,#010109 299.5px,#020103 336.5px,#262627 337.5px,#dbd49b 338.5px,#fff8bf 339.5px,#fff6b9 343.5px,#ffddc8 344.5px,#ffd2bd 345.5px,#f9a1c7 346.5px,#bd658b 347.5px,#823e8f 348.5px,#3c2062 350.5px,#160f34 353.5px,#060615 370.5px)"></i><i style="background:linear-gradient(90deg,#010108 0.5px,#03030a 23.5px,#04030b 41.5px,#0d0c1a 42.5px,#010108 46.5px,#050501 62.5px,#160f05 65.5px,#270505 67.5px,#26061d 68.5px,#100818 75.5px,#0e0810 79.5px,#2b0f1a 80.5px,#755a62 81.5px,#93636a 82.5px,#895d6c 88.5px,#342443 92.5px,#070610 99.5px,#020209 125.5px,#020109 133.5px,#03020e 141.5px,#010109 177.5px,#010010 181.5px,#020209 219.5px,#02010c 223.5px,#010108 229.5px,#1e002f 230.5px,#452057 231.5px,#59197f 232.5px,#4f0f74 233.5px,#2c145a 234.5px,#230b51 235.5px,#120e30 236.5px,#010108 243.5px,#06000a 282.5px,#140b17 283.5px,#8d2670 284.5px,#9a337d 285.5px,#8c2f8a 286.5px,#791c77 287.5px,#471875 288.5px,#3b0c69 289.5px,#1f1346 290.5px,#060516 294.5px,#010108 309.5px,#020103 336.5px,#252426 337.5px,#d3cb92 338.5px,#f5edb5 339.5px,#f4eaac 343.5px,#f3c298 344.5px,#bc8b62 345.5px,#b04a6a 346.5px,#912b4b 347.5px,#611770 348.5px,#530861 349.5px,#2b0e56 350.5px,#23054e 351.5px,#100931 352.5px,#030313 370.5px)"></i><i style="background:linear-gradient(90deg,#010108 0.5px,#040211 32.5px,#0e0d1c 33.5px,#010108 36.5px,#010106 61.5px,#23231b 62.5px,#b9b9ac 63.5px,#dcd5bd 64.5px,#c6bea8 65.5px,#86605f 67.5px,#4a304f 70.5px,#150f19 77.5px,#100a12 79.5px,#380913 83.5px,#2a0611 89.5px,#0f0420 92.5px,#010106 106.5px,#04030b 177.5px,#0f0c21 178.5px,#010108 188.5px,#070611 213.5px,#010108 229.5px,#1e0030 230.5px,#482359 231.5px,#5c1c82 232.5px,#511177 233.5px,#2d155b 234.5px,#240d52 235.5px,#130f31 236.5px,#010108 244.5px,#06000a 282.5px,#130b17 283.5px,#8c246e 284.5px,#98317b 285.5px,#8a2d88 286.5px,#771a75 287.5px,#451774 288.5px,#3a0c69 289.5px,#1e1345 290.5px,#050515 294.5px,#010108 310.5px,#020103 336.5px,#272627 337.5px,#dcd49b 338.5px,#fff9c0 339.5px,#fff8bb 343.5px,#ffddb4 345.5px,#fe98b8 346.5px,#c25c7c 347.5px,#833891 348.5px,#6a2079 349.5px,#3b1d65 350.5px,#150e35 353.5px,#050515 370.5px)"></i><i style="background:linear-gradient(90deg,#010108 0.5px,#030211 16.5px,#03020e 19.5px,#040211 42.5px,#0f0d1c 43.5px,#010108 46.5px,#040307 62.5px,#300d07 66.5px,#2e0806 68.5px,#3d170c 69.5px,#a4564c 70.5px,#b5645a 72.5px,#b55c60 77.5px,#ae5973 78.5px,#aa556f 79.5px,#854673 80.5px,#854773 81.5px,#e9bbaf 82.5px,#f2d0c3 83.5px,#efc5b5 84.5px,#da9e90 85.5px,#b66271 86.5px,#974252 87.5px,#4d1840 90.5px,#0e0322 96.5px,#010106 108.5px,#03020e 118.5px,#03020e 121.5px,#010109 177.5px,#01010a 182.5px,#010108 229.5px,#1a002f 230.5px,#3a184f 231.5px,#4b1275 232.5px,#440b6e 233.5px,#251250 234.5px,#1d0948 235.5px,#0e0b2a 236.5px,#010108 243.5px,#06000a 282.5px,#150c18 283.5px,#932c76 284.5px,#a13a84 285.5px,#923690 286.5px,#7e227c 287.5px,#4a1c78 288.5px,#3d0f6b 289.5px,#211548 290.5px,#060616 294.5px,#010108 309.5px,#020103 336.5px,#262628 337.5px,#d8d79e 338.5px,#fdfbc3 339.5px,#fff5bb 344.5px,#f2e0a7 345.5px,#ee7988 346.5px,#bb4655 347.5px,#7c2987 348.5px,#671471 349.5px,#371566 350.5px,#2d0c5d 351.5px,#171038 352.5px,#040411 356.5px,#010108 370.5px)"></i><i style="background:linear-gradient(90deg,#010108 0.5px,#02010e 19.5px,#03020e 25.5px,#010105 63.5px,#25140e 64.5px,#8e7d74 65.5px,#b28f7e 66.5px,#b79182 69.5px,#df9286 70.5px,#dc8b81 75.5px,#b96064 77.5px,#943f5a 79.5px,#753764 80.5px,#743663 81.5px,#976960 82.5px,#a66b5e 85.5px,#af5a6a 87.5px,#a15b7c 88.5px,#8c577d 90.5px,#3f2a50 94.5px,#0b0b15 102.5px,#010108 114.5px,#020209 134.5px,#03030a 177.5px,#0c0a1d 179.5px,#010108 188.5px,#010108 229.5px,#1c0031 230.5px,#442259 231.5px,#551d80 232.5px,#4b1275 233.5px,#2a1755 234.5px,#210e4c 235.5px,#120e2d 236.5px,#020109 242.5px,#06000a 282.5px,#120a16 283.5px,#841d67 284.5px,#902973 285.5px,#822680 286.5px,#71156f 287.5px,#41136e 288.5px,#370964 289.5px,#1c1042 290.5px,#040414 294.5px,#010108 318.5px,#020103 336.5px,#262627 337.5px,#d6d59c 338.5px,#faf9c0 339.5px,#fff1b7 344.5px,#f3e2a8 345.5px,#f58190 346.5px,#bf4b5a 347.5px,#7f2c8a 348.5px,#691674 349.5px,#381667 350.5px,#2e0c5d 351.5px,#171138 352.5px,#040310 356.5px,#010108 370.5px)"></i><i style="background:linear-gradient(90deg,#010108 0.5px,#050212 12.5px,#100e1d 13.5px,#010108 16.5px,#100d1d 19.5px,#04030e 21.5px,#0f0d20 22.5px,#010108 25.5px,#090915 33.5px,#030213 35.5px,#090818 39.5px,#010108 42.5px,#050501 62.5px,#1e1c08 67.5px,#211b08 68.5px,#3a341f 69.5px,#bea17b 70.5px,#d3b68f 71.5px,#cc9b80 72.5px,#b07f66 73.5px,#995152 75.5px,#60263a 79.5px,#240d36 86.5px,#03020b 99.5px,#020209 125.5px,#050510 128.5px,#04040c 177.5px,#140f2a 178.5px,#010108 187.5px,#010108 229.5px,#160031 230.5px,#33174e 231.5px,#401371 232.5px,#390c6a 233.5px,#1f1246 234.5px,#050413 238.5px,#010108 269.5px,#05000b 282.5px,#110a17 283.5px,#752074 284.5px,#802b7f 285.5px,#752888 286.5px,#641777 287.5px,#391768 288.5px,#2f0d5f 289.5px,#19123c 290.5px,#030211 295.5px,#020103 336.5px,#252526 337.5px,#d4ce95 338.5px,#f8f1b8 339.5px,#f3e9ac 343.5px,#e7ad8d 344.5px,#b47959 345.5px,#a43e69 346.5px,#87214d 347.5px,#56136c 348.5px,#490760 349.5px,#250c4e 350.5px,#1d0546 351.5px,#0d082a 352.5px,#010109 358.5px,#010108 370.5px)"></i><i style="background:linear-gradient(90deg,#010108 0.5px,#070614 7.5px,#02000f 12.5px,#03020c 21.5px,#030013 23.5px,#03020e 26.5px,#020112 35.5px,#010106 61.5px,#25251d 62.5px,#c5c5b8 63.5px,#e9e9ce 64.5px,#e7e1c6 69.5px,#f5e0b8 71.5px,#ecbea3 73.5px,#d99190 74.5px,#c18797 78.5px,#6c406a 83.5px,#2b1d3d 88.5px,#05040c 99.5px,#020109 177.5px,#04001a 179.5px,#010108 191.5px,#010108 229.5px,#160031 230.5px,#351950 231.5px,#421573 232.5px,#3b0e6c 233.5px,#201448 234.5px,#050414 238.5px,#010108 264.5px,#05000b 282.5px,#100916 283.5px,#711c70 284.5px,#7c267a 285.5px,#702383 286.5px,#601373 287.5px,#361466 288.5px,#2d0b5d 289.5px,#18103a 290.5px,#030211 295.5px,#020103 336.5px,#262627 337.5px,#dad49b 338.5px,#fff8bf 339.5px,#fff7ba 343.5px,#ffe2c1 344.5px,#ffd2b2 345.5px,#ed87b2 346.5px,#b6507b 347.5px,#76348c 348.5px,#5f1d76 349.5px,#341c5d 350.5px,#291153 351.5px,#171234 352.5px,#03020d 357.5px,#010108 370.5px)"></i><i style="background:linear-gradient(90deg,#010108 0.5px,#02010f 5.5px,#03020e 19.5px,#010108 37.5px,#100c25 39.5px,#02000e 41.5px,#010106 61.5px,#25251d 62.5px,#c5c5b8 63.5px,#e9e9cf 64.5px,#dfddc4 67.5px,#b99594 68.5px,#896566 69.5px,#503651 71.5px,#211c29 74.5px,#0e0b10 79.5px,#2e1d18 80.5px,#9b8a81 81.5px,#be9d8b 82.5px,#bc948a 84.5px,#a0786f 85.5px,#75495c 87.5px,#2b1e3d 92.5px,#05050d 102.5px,#03030b 177.5px,#100e22 179.5px,#010108 186.5px,#010108 229.5px,#0f0029 230.5px,#2b1a45 231.5px,#34195f 232.5px,#2e1359 233.5px,#1b143b 234.5px,#050410 238.5px,#03020a 251.5px,#0b0a1a 253.5px,#010108 259.5px,#090411 283.5px,#3f0755 284.5px,#350555 287.5px,#16023d 289.5px,#0a0524 290.5px,#010108 298.5px,#020103 336.5px,#242325 337.5px,#d2c48c 338.5px,#f3e6ad 339.5px,#f5e7a9 343.5px,#ffcfa0 344.5px,#d0996a 345.5px,#bd497c 346.5px,#9d285c 347.5px,#5d1b7c 348.5px,#4d0b6d 349.5px,#271253 350.5px,#1f0a4b 351.5px,#100c2e 352.5px,#050511 365.5px,#04040f 370.5px)"></i><i style="background:linear-gradient(90deg,#010108 0.5px,#070614 4.5px,#03030b 11.5px,#03020a 37.5px,#0b0820 38.5px,#010108 46.5px,#050501 62.5px,#141105 67.5px,#250506 68.5px,#230504 69.5px,#17041b 70.5px,#030106 79.5px,#300f08 83.5px,#2f0706 85.5px,#1d051e 89.5px,#02010c 99.5px,#010109 177.5px,#010011 181.5px,#03020a 225.5px,#010108 229.5px,#270c52 232.5px,#22074d 233.5px,#110a31 234.5px,#010109 240.5px,#04000b 282.5px,#0e0a16 283.5px,#5d2573 284.5px,#68307d 285.5px,#4e1d6d 287.5px,#2f1b56 288.5px,#0a091b 292.5px,#010109 301.5px,#020103 336.5px,#272527 337.5px,#dfd199 338.5px,#fff6bd 339.5px,#fff6b8 343.5px,#ffe2b4 344.5px,#f6bf91 345.5px,#d66195 346.5px,#ab376a 347.5px,#682687 348.5px,#541273 349.5px,#2c1758 350.5px,#230e4f 351.5px,#130f30 352.5px,#010010 359.5px,#01010c 370.5px)"></i><i style="background:linear-gradient(90deg,#010108 0.5px,#03020e 10.5px,#03020e 26.5px,#040107 63.5px,#23050e 64.5px,#2a0605 75.5px,#19051a 79.5px,#100309 80.5px,#2e2127 81.5px,#aa8d69 82.5px,#c1a47f 83.5px,#c09b7e 84.5px,#a17b60 85.5px,#4e3b45 88.5px,#2c2527 91.5px,#261310 93.5px,#270617 95.5px,#140421 97.5px,#010108 104.5px,#03020a 133.5px,#03020d 135.5px,#03020b 177.5px,#090524 178.5px,#010108 187.5px,#060610 229.5px,#290033 230.5px,#51265c 231.5px,#691e7f 232.5px,#5d1273 233.5px,#351364 234.5px,#2c0a5b 235.5px,#160f37 236.5px,#02020f 241.5px,#06000b 282.5px,#110916 283.5px,#7a1e6f 284.5px,#85297a 285.5px,#782585 286.5px,#671475 287.5px,#3b146b 288.5px,#310b61 289.5px,#19113d 290.5px,#050415 294.5px,#010108 310.5px,#020103 336.5px,#262628 337.5px,#d7d79f 338.5px,#fcfcc3 339.5px,#fbfabc 343.5px,#ffd6a8 344.5px,#c4986a 345.5px,#b74772 346.5px,#982853 347.5px,#5d1877 348.5px,#4e0968 349.5px,#271053 350.5px,#1f084b 351.5px,#0f0a2c 352.5px,#020109 358.5px,#010108 370.5px)"></i><i style="background:linear-gradient(90deg,#010108 0.5px,#03030b 37.5px,#0b0a17 38.5px,#010108 44.5px,#040106 62.5px,#110e13 63.5px,#6b4554 64.5px,#845d6b 65.5px,#835b6d 68.5px,#724c56 70.5px,#9b767e 71.5px,#a67c76 74.5px,#4e314d 79.5px,#55484d 80.5px,#c9bcbd 81.5px,#f4dbb4 82.5px,#f3d6b8 85.5px,#f3d3d1 86.5px,#ded7d3 91.5px,#ddcbc1 92.5px,#aa978f 93.5px,#855e72 94.5px,#684257 95.5px,#382243 97.5px,#0a0912 102.5px,#010108 118.5px,#03020a 169.5px,#0a0818 171.5px,#010108 174.5px,#04030c 177.5px,#120d2d 178.5px,#010108 186.5px,#01010b 229.5px,#250030 230.5px,#572c62 231.5px,#712687 232.5px,#64197a 233.5px,#3a1868 234.5px,#2f0d5e 235.5px,#19123a 236.5px,#02020f 241.5px,#06000c 282.5px,#120a17 283.5px,#7f2375 284.5px,#8b2f81 285.5px,#7d2b8b 286.5px,#6c1979 287.5px,#3d176d 288.5px,#340d64 289.5px,#1c1340 290.5px,#09081a 294.5px,#010108 301.5px,#020103 336.5px,#262628 337.5px,#d6d79e 338.5px,#fbfbc3 339.5px,#fcfbbe 343.5px,#ffd7a9 345.5px,#ea7aa5 346.5px,#b54570 347.5px,#722d8c 348.5px,#5d1877 349.5px,#31195c 350.5px,#270f53 351.5px,#151132 352.5px,#020109 358.5px,#010108 370.5px)"></i><i style="background:linear-gradient(90deg,#010108 0.5px,#030111 22.5px,#04020f 27.5px,#030206 63.5px,#2b2620 64.5px,#c2bdb2 65.5px,#e4dec8 66.5px,#e2dcc5 67.5px,#dcbeb2 68.5px,#a18378 69.5px,#78526a 70.5px,#362241 73.5px,#0b0912 78.5px,#14130c 82.5px,#2c1b0b 86.5px,#360a0e 89.5px,#230828 92.5px,#03010f 101.5px,#010109 125.5px,#030019 127.5px,#010108 140.5px,#04030c 177.5px,#100a2f 178.5px,#010108 186.5px,#010108 229.5px,#13002d 230.5px,#351f4f 231.5px,#411d6e 232.5px,#391466 233.5px,#221746 234.5px,#060614 238.5px,#010108 261.5px,#02020a 279.5px,#130b1c 283.5px,#822271 284.5px,#8e2e7d 285.5px,#802a88 286.5px,#6e1876 287.5px,#3f166f 288.5px,#350c65 289.5px,#1c1242 290.5px,#050514 294.5px,#010108 303.5px,#020103 336.5px,#252426 337.5px,#d5cb92 338.5px,#f8eeb5 339.5px,#ffdaaa 343.5px,#ffaabf 344.5px,#d07085 345.5px,#914297 346.5px,#75257b 347.5px,#41206a 348.5px,#34135d 349.5px,#1c153c 350.5px,#050412 354.5px,#020109 370.5px)"></i><i style="background:linear-gradient(90deg,#010108 0.5px,#02020b 24.5px,#03020f 32.5px,#04030c 35.5px,#0d0c1a 36.5px,#01010a 40.5px,#04030b 43.5px,#0d0c19 44.5px,#090814 47.5px,#090817 49.5px,#010108 53.5px,#030207 63.5px,#1d1707 67.5px,#270a06 69.5px,#27071c 70.5px,#070213 75.5px,#020106 81.5px,#24231b 82.5px,#bebdb0 83.5px,#e1dfc6 84.5px,#e0cfb9 86.5px,#8e6263 89.5px,#382446 94.5px,#080712 103.5px,#010108 123.5px,#04040c 125.5px,#14102a 126.5px,#010108 133.5px,#04030d 177.5px,#120d31 178.5px,#010108 186.5px,#010108 229.5px,#310d5f 232.5px,#2c0759 233.5px,#170c3b 234.5px,#030211 238.5px,#06000f 282.5px,#120a1b 283.5px,#832371 284.5px,#8f2f7e 285.5px,#812b89 286.5px,#6f1977 287.5px,#401770 288.5px,#360c65 289.5px,#1c1242 290.5px,#050414 294.5px,#02020a 303.5px,#080716 305.5px,#010108 311.5px,#020103 336.5px,#262527 337.5px,#dbd198 338.5px,#fff5bc 339.5px,#fff4b6 341.5px,#ffd7a6 342.5px,#c99b6a 343.5px,#b6556a 344.5px,#943349 345.5px,#69196e 346.5px,#59095e 347.5px,#2e0e58 348.5px,#26054f 349.5px,#100930 350.5px,#02020f 355.5px,#010109 370.5px)"></i><i style="background:linear-gradient(90deg,#010108 0.5px,#010108 9.5px,#120f1f 11.5px,#010109 16.5px,#010108 54.5px,#040105 62.5px,#130f14 63.5px,#754a54 64.5px,#875861 66.5px,#7b5469 70.5px,#382746 72.5px,#080810 76.5px,#050501 80.5px,#2a1a12 82.5px,#68584e 83.5px,#7f5f60 84.5px,#7e5b5c 87.5px,#8d4c57 88.5px,#884752 89.5px,#843e69 90.5px,#7c3560 91.5px,#552762 92.5px,#120b27 96.5px,#020108 104.5px,#04040d 125.5px,#130e31 126.5px,#08061d 129.5px,#010108 135.5px,#03020a 177.5px,#0c0a1d 179.5px,#010108 188.5px,#03030a 201.5px,#0b0a1a 203.5px,#010108 206.5px,#010108 229.5px,#090022 230.5px,#21134a 232.5px,#03020d 238.5px,#03020a 251.5px,#0c0b1c 253.5px,#010108 259.5px,#05000b 282.5px,#0f0815 283.5px,#6d166b 284.5px,#772074 285.5px,#6b1d7e 286.5px,#5c0e6f 287.5px,#341263 288.5px,#2b095a 289.5px,#160e38 290.5px,#020210 295.5px,#020203 336.5px,#262628 337.5px,#d7d79f 338.5px,#fbfcc3 339.5px,#fcfcbe 341.5px,#ffdfb3 343.5px,#ffacc5 344.5px,#ca6d86 345.5px,#8b3e94 346.5px,#712479 347.5px,#3f2068 348.5px,#1b143a 350.5px,#0a091f 353.5px,#04030e 370.5px)"></i><i style="background:linear-gradient(90deg,#010108 0.5px,#050213 12.5px,#0f0d1d 13.5px,#010109 15.5px,#0d0b19 18.5px,#040211 20.5px,#0f0d1c 21.5px,#04030c 23.5px,#0d0b19 24.5px,#01010b 28.5px,#04030b 37.5px,#0c0b18 38.5px,#02010a 42.5px,#110e1f 44.5px,#010108 47.5px,#050106 63.5px,#28060a 64.5px,#32070f 69.5px,#0f041f 73.5px,#010107 79.5px,#23231b 80.5px,#bbbbae 81.5px,#f1e1d3 82.5px,#f5dad6 87.5px,#e9adb5 88.5px,#c2818b 89.5px,#8d4671 91.5px,#663873 92.5px,#301b4a 95.5px,#0b0a15 100.5px,#010108 115.5px,#03020c 125.5px,#0d082a 126.5px,#010108 133.5px,#010109 177.5px,#020110 181.5px,#010108 229.5px,#090022 230.5px,#1d1437 231.5px,#22134a 232.5px,#03030d 238.5px,#05000b 282.5px,#120b18 283.5px,#7c2579 284.5px,#883185 285.5px,#7b2d8e 286.5px,#691b7c 287.5px,#3c1a6b 288.5px,#310f60 289.5px,#1b133e 290.5px,#050513 294.5px,#010108 326.5px,#020203 336.5px,#262628 337.5px,#d7d89f 338.5px,#fbfcc4 339.5px,#f9f9bb 341.5px,#fbcfa3 342.5px,#bf9367 343.5px,#ae5069 344.5px,#8e3049 345.5px,#64176c 346.5px,#55085d 347.5px,#2c0d55 348.5px,#23044c 349.5px,#10092f 350.5px,#040319 353.5px,#01010b 370.5px)"></i><i style="background:linear-gradient(90deg,#010108 0.5px,#030111 13.5px,#030115 19.5px,#010108 25.5px,#110e1f 27.5px,#01000a 29.5px,#04030c 37.5px,#0f0d1c 38.5px,#04030c 41.5px,#0c0a1d 42.5px,#010108 48.5px,#020105 63.5px,#261710 64.5px,#9b8c81 65.5px,#bea38d 66.5px,#bc978d 68.5px,#936e66 69.5px,#513049 71.5px,#281837 73.5px,#05040b 78.5px,#050407 80.5px,#2e2e2f 81.5px,#d6c3b3 82.5px,#f8e7d6 83.5px,#f0c8c3 91.5px,#ad6d7f 93.5px,#763e6e 95.5px,#492a59 97.5px,#161425 102.5px,#010106 108.5px,#04030c 177.5px,#120d2e 178.5px,#02020a 185.5px,#010108 229.5px,#280028 230.5px,#572857 231.5px,#73207d 232.5px,#671471 233.5px,#3c1269 234.5px,#320960 235.5px,#180f3c 236.5px,#040311 240.5px,#05000b 282.5px,#110916 283.5px,#751d71 284.5px,#7f277b 285.5px,#732485 286.5px,#631375 287.5px,#381468 288.5px,#2f0b5f 289.5px,#18103b 290.5px,#020210 295.5px,#020103 336.5px,#272627 337.5px,#ded39a 338.5px,#fff8bf 339.5px,#fbe6aa 343.5px,#ff8e94 344.5px,#c5545a 345.5px,#852f8b 346.5px,#6e1773 347.5px,#3a1769 348.5px,#2f0c5e 349.5px,#181138 350.5px,#040310 354.5px,#010108 370.5px)"></i><i style="background:linear-gradient(90deg,#010108 0.5px,#040211 12.5px,#100d23 15.5px,#010108 25.5px,#05040d 33.5px,#100e1d 34.5px,#010109 37.5px,#03020b 41.5px,#0a081a 42.5px,#010108 50.5px,#0a090d 63.5px,#2c1108 67.5px,#2d0906 69.5px,#24061e 70.5px,#060214 75.5px,#060609 81.5px,#362319 82.5px,#786558 83.5px,#926b66 84.5px,#926663 91.5px,#753549 93.5px,#592152 94.5px,#1b0932 98.5px,#010106 106.5px,#03020b 177.5px,#0b0627 178.5px,#010109 185.5px,#010108 229.5px,#2a002a 230.5px,#643564 231.5px,#822f8c 232.5px,#73207d 233.5px,#441b72 234.5px,#380f66 235.5px,#1d1441 236.5px,#050412 240.5px,#05000b 282.5px,#110a17 283.5px,#782075 284.5px,#842c80 285.5px,#78288a 286.5px,#661778 287.5px,#3b176b 288.5px,#310d61 289.5px,#1a123d 290.5px,#030211 295.5px,#020103 336.5px,#252325 337.5px,#d1c68e 338.5px,#f4e9b0 339.5px,#f1dca0 343.5px,#f58389 344.5px,#bf4e54 345.5px,#822c87 346.5px,#6b1470 347.5px,#381567 348.5px,#2e0b5d 349.5px,#171037 350.5px,#030310 354.5px,#010108 370.5px)"></i><i style="background:linear-gradient(90deg,#010108 0.5px,#030016 26.5px,#131023 28.5px,#01000a 30.5px,#110e23 32.5px,#010108 35.5px,#020209 37.5px,#100d26 39.5px,#02010c 41.5px,#020108 61.5px,#28150a 62.5px,#948172 63.5px,#bb9571 64.5px,#bf916d 67.5px,#cf836f 68.5px,#c67a66 69.5px,#a35572 70.5px,#8c3d5b 71.5px,#663066 72.5px,#261340 76.5px,#120826 79.5px,#0f0b0f 80.5px,#363234 81.5px,#cfcba2 82.5px,#f2efc4 83.5px,#f3d5c3 87.5px,#f4d7d7 88.5px,#ecd1da 92.5px,#caafb9 93.5px,#8f6588 94.5px,#663c61 95.5px,#3c2952 96.5px,#090815 100.5px,#010108 113.5px,#010109 125.5px,#030018 127.5px,#010108 140.5px,#070611 152.5px,#05040d 177.5px,#160f36 178.5px,#0c0926 181.5px,#010108 186.5px,#070615 191.5px,#010108 199.5px,#010108 229.5px,#1c0026 230.5px,#50355a 231.5px,#633479 232.5px,#191433 236.5px,#03030e 241.5px,#05000b 282.5px,#120b18 283.5px,#7d267a 284.5px,#893286 285.5px,#7c2e8e 286.5px,#6a1c7c 287.5px,#3d1a6b 288.5px,#321060 289.5px,#1c143e 290.5px,#050513 294.5px,#020103 336.5px,#252426 337.5px,#d6cc93 338.5px,#f9efb6 339.5px,#f6e2a6 343.5px,#fb8692 344.5px,#c34e5a 345.5px,#802d8b 346.5px,#691674 347.5px,#371766 348.5px,#2d0d5c 349.5px,#17103a 350.5px,#080521 354.5px,#020211 370.5px)"></i><i style="background:linear-gradient(90deg,#010108 0.5px,#04030d 15.5px,#040210 17.5px,#060414 22.5px,#07031a 26.5px,#120e25 27.5px,#03020c 31.5px,#0a071c 32.5px,#010108 36.5px,#0d0a22 39.5px,#02010c 41.5px,#06060d 61.5px,#372419 62.5px,#d1bead 63.5px,#f5e1bb 64.5px,#f4dbb6 66.5px,#eec6a1 67.5px,#c77c67 69.5px,#ac5e7b 70.5px,#9b4d6b 71.5px,#7a4479 72.5px,#271d3b 78.5px,#211836 79.5px,#3b3739 80.5px,#c7c3c0 81.5px,#f3efc4 82.5px,#f3efc4 83.5px,#f2dcb3 84.5px,#b68777 86.5px,#9c6d5e 87.5px,#513744 91.5px,#402634 93.5px,#380e34 95.5px,#1c0933 97.5px,#05050d 102.5px,#04040c 125.5px,#130f28 126.5px,#010108 134.5px,#03020c 177.5px,#0d062d 178.5px,#010108 186.5px,#010108 229.5px,#340549 232.5px,#140036 235.5px,#020112 238.5px,#05000b 282.5px,#0f0815 283.5px,#6c1569 284.5px,#751e72 285.5px,#691c7c 286.5px,#5b0e6e 287.5px,#341162 288.5px,#2b0959 289.5px,#160e38 290.5px,#020110 295.5px,#020103 336.5px,#262527 337.5px,#dad097 338.5px,#fdf3ba 339.5px,#f6e2a6 343.5px,#f07b87 344.5px,#bb4653 345.5px,#7b2887 346.5px,#651271 347.5px,#341464 348.5px,#2b0b5a 349.5px,#171039 350.5px,#050514 370.5px)"></i><i style="background:linear-gradient(90deg,#010108 0.5px,#040213 12.5px,#100e21 14.5px,#030210 20.5px,#110f21 22.5px,#020108 25.5px,#04040c 29.5px,#100d1e 30.5px,#01000d 36.5px,#050313 40.5px,#120f1f 41.5px,#010109 43.5px,#050306 62.5px,#282628 63.5px,#b09985 64.5px,#c9b29e 65.5px,#d4b697 68.5px,#f4dbbb 69.5px,#f2d5b1 74.5px,#da927c 76.5px,#bd7660 77.5px,#ab5867 78.5px,#9a4757 79.5px,#8c4268 80.5px,#a75d82 81.5px,#935f7d 86.5px,#36244a 90.5px,#060510 97.5px,#010109 125.5px,#080718 128.5px,#010108 134.5px,#0a0919 137.5px,#010108 140.5px,#04030c 177.5px,#0f0a2d 178.5px,#040006 186.5px,#010108 229.5px,#16002d 230.5px,#311347 231.5px,#3f0e68 232.5px,#390862 233.5px,#1e0e45 234.5px,#040315 238.5px,#03020e 246.5px,#0a0819 249.5px,#010108 252.5px,#080008 282.5px,#170d18 283.5px,#a62d68 284.5px,#b53c76 285.5px,#a43887 286.5px,#8f2373 287.5px,#551c7d 288.5px,#460d6f 289.5px,#251450 290.5px,#1d0c48 291.5px,#100d2c 292.5px,#020109 298.5px,#020103 336.5px,#262526 337.5px,#d6cf96 338.5px,#faf2ba 339.5px,#ffe8ae 342.5px,#dec48a 343.5px,#ba7770 344.5px,#94504a 345.5px,#7d2e56 346.5px,#671840 347.5px,#480c55 348.5px,#3d024b 349.5px,#1e0642 350.5px,#07061c 354.5px,#03020c 370.5px)"></i><i style="background:linear-gradient(90deg,#010108 0.5px,#020012 23.5px,#010109 29.5px,#0d0b1d 32.5px,#010108 35.5px,#0c0b18 37.5px,#020010 40.5px,#050305 63.5px,#1e0704 64.5px,#220905 67.5px,#3d1f0c 68.5px,#ab8c70 69.5px,#caa682 70.5px,#cea280 75.5px,#de967f 76.5px,#d8917a 77.5px,#ca7785 78.5px,#ab5867 79.5px,#7e345a 81.5px,#430f31 87.5px,#18062d 91.5px,#03020a 98.5px,#03030a 125.5px,#0c0a21 127.5px,#010108 133.5px,#04030c 177.5px,#110c2f 178.5px,#03020a 185.5px,#03020a 191.5px,#010108 229.5px,#19002f 230.5px,#412457 231.5px,#51207b 232.5px,#471670 233.5px,#291950 234.5px,#080718 238.5px,#02010d 247.5px,#080008 282.5px,#170d18 283.5px,#a52d67 284.5px,#b43b76 285.5px,#a33787 286.5px,#8e2272 287.5px,#541b7d 288.5px,#460d6e 289.5px,#251450 290.5px,#1d0c48 291.5px,#100d2c 292.5px,#010109 299.5px,#010108 335.5px,#020103 336.5px,#262527 337.5px,#d8d198 338.5px,#fcf5bc 339.5px,#ffecb2 343.5px,#ffd4cd 344.5px,#ffcbc4 345.5px,#f4a4cd 346.5px,#b66790 347.5px,#7c4089 348.5px,#381f5c 350.5px,#0b091f 354.5px,#01010c 365.5px,#01010a 370.5px)"></i><i style="background:linear-gradient(90deg,#010108 0.5px,#050212 14.5px,#100e1e 15.5px,#120e21 17.5px,#010109 19.5px,#03020b 25.5px,#030112 27.5px,#010108 35.5px,#010106 61.5px,#260505 65.5px,#230e06 68.5px,#382219 69.5px,#735154 70.5px,#7e5b5d 75.5px,#62454b 77.5px,#392c30 79.5px,#261e17 81.5px,#3a231b 82.5px,#796258 83.5px,#996760 84.5px,#a55759 87.5px,#a5506a 88.5px,#a24d68 89.5px,#894775 90.5px,#3c1d58 94.5px,#0b091c 101.5px,#02010b 108.5px,#020109 125.5px,#040018 127.5px,#010108 140.5px,#070002 184.5px,#1e161a 185.5px,#ce6951 186.5px,#db755e 187.5px,#8d3a86 188.5px,#671460 189.5px,#28154f 190.5px,#1b0842 191.5px,#0a091e 192.5px,#010108 197.5px,#010108 229.5px,#2f0122 230.5px,#7e5072 231.5px,#a05091 232.5px,#8c3c7d 233.5px,#593074 234.5px,#291a4b 236.5px,#080715 240.5px,#010108 259.5px,#06000b 282.5px,#120a17 283.5px,#802170 284.5px,#8c2c7c 285.5px,#7e2987 286.5px,#6c1775 287.5px,#3e166e 288.5px,#340c64 289.5px,#1b1140 290.5px,#050413 294.5px,#03030b 299.5px,#0d0b1d 301.5px,#010108 306.5px,#020203 336.5px,#262628 337.5px,#d7d79f 338.5px,#fbfcc3 339.5px,#faf5b8 343.5px,#ffada7 344.5px,#d57069 345.5px,#9a3f94 346.5px,#7d2277 347.5px,#451d71 348.5px,#380f64 349.5px,#1c133f 350.5px,#040411 354.5px,#020209 365.5px,#070714 367.5px,#010108 370.5px)"></i><i style="background:linear-gradient(90deg,#010108 0.5px,#050212 10.5px,#100d1d 11.5px,#02000f 14.5px,#040211 20.5px,#0e0d1b 21.5px,#010109 24.5px,#0c0a1b 26.5px,#010108 30.5px,#050212 36.5px,#100d1d 37.5px,#010109 39.5px,#010106 61.5px,#271611 62.5px,#9a8980 63.5px,#bf9e8c 64.5px,#ba9789 67.5px,#b8a395 68.5px,#e4cebf 69.5px,#f4d4d2 71.5px,#e3d6d4 78.5px,#d2cabd 80.5px,#efd8ca 83.5px,#ecbbb1 85.5px,#be7071 87.5px,#98435e 89.5px,#7b3967 90.5px,#331550 95.5px,#0b0a18 102.5px,#030208 107.5px,#02020d 111.5px,#04040c 125.5px,#120e27 126.5px,#010108 134.5px,#070002 184.5px,#1e161a 185.5px,#ce6951 186.5px,#db755e 187.5px,#8d3a86 188.5px,#671460 189.5px,#28154f 190.5px,#1b0842 191.5px,#0a091e 192.5px,#010108 197.5px,#010108 229.5px,#250018 230.5px,#421435 231.5px,#5b0c4c 232.5px,#540545 233.5px,#30064b 234.5px,#06031b 238.5px,#010108 249.5px,#06000b 282.5px,#120a17 283.5px,#822372 284.5px,#8e2f7e 285.5px,#802b8a 286.5px,#6e1977 287.5px,#3f176f 288.5px,#350c65 289.5px,#1c1341 290.5px,#050414 294.5px,#020203 336.5px,#262628 337.5px,#d7d89f 338.5px,#fbfcc4 339.5px,#f5efb3 343.5px,#f48e88 344.5px,#bb554f 345.5px,#872c81 346.5px,#701469 347.5px,#3c1368 348.5px,#31095e 349.5px,#180f3a 350.5px,#030310 354.5px,#010108 370.5px)"></i><i style="background:linear-gradient(90deg,#010108 0.5px,#010106 61.5px,#261f17 62.5px,#b4ada0 63.5px,#dac9b2 64.5px,#d2c1aa 65.5px,#8d6264 67.5px,#5e3c55 69.5px,#3c2218 74.5px,#320c1c 77.5px,#1f0a29 79.5px,#04030a 94.5px,#03020b 125.5px,#0a0821 126.5px,#010108 134.5px,#03030e 167.5px,#080716 169.5px,#010108 175.5px,#04030d 177.5px,#110932 178.5px,#03020a 185.5px,#03020a 191.5px,#010108 229.5px,#18002a 230.5px,#432a55 231.5px,#532875 232.5px,#14112c 236.5px,#020109 242.5px,#05000b 282.5px,#140c19 283.5px,#872e7e 284.5px,#943c8c 285.5px,#863993 286.5px,#72257f 287.5px,#43216d 288.5px,#0f0d25 292.5px,#050511 298.5px,#020103 336.5px,#262628 337.5px,#d9d69e 338.5px,#fdfbc2 339.5px,#fff2b8 343.5px,#ffc3c5 344.5px,#de8385 345.5px,#a04699 346.5px,#81277a 347.5px,#472171 348.5px,#381262 349.5px,#1e153f 350.5px,#050411 354.5px,#010108 370.5px)"></i><i style="background:linear-gradient(90deg,#010108 0.5px,#03020d 13.5px,#04030c 27.5px,#0f0d1c 28.5px,#010108 33.5px,#0d0c1a 38.5px,#020109 41.5px,#0a0301 62.5px,#221107 65.5px,#2d0607 67.5px,#23061d 68.5px,#3a1833 69.5px,#b58f96 70.5px,#d4aeb4 71.5px,#c5ab9c 75.5px,#785260 77.5px,#533e5b 78.5px,#120e18 83.5px,#030108 95.5px,#03020a 125.5px,#090720 126.5px,#010108 134.5px,#05040e 177.5px,#170f38 178.5px,#0c0827 181.5px,#02020a 184.5px,#010108 229.5px,#350a57 232.5px,#05021e 237.5px,#010108 244.5px,#05000b 282.5px,#0e0613 283.5px,#640c5c 284.5px,#60136d 286.5px,#550862 287.5px,#2f0d59 288.5px,#270551 289.5px,#130935 290.5px,#020110 295.5px,#010108 335.5px,#020103 336.5px,#262527 337.5px,#d5d39a 338.5px,#f9f7be 339.5px,#ffecb2 342.5px,#ddc98f 343.5px,#cf7475 344.5px,#a4494a 345.5px,#7c2275 346.5px,#670d60 347.5px,#361061 348.5px,#2c0657 349.5px,#140b35 350.5px,#03020f 354.5px,#010108 370.5px)"></i><i style="background:linear-gradient(90deg,#010108 0.5px,#040212 14.5px,#131022 16.5px,#02010a 19.5px,#03020a 24.5px,#020015 34.5px,#0e0c1d 36.5px,#01010b 42.5px,#010105 63.5px,#1c0813 64.5px,#5c4750 65.5px,#764e5e 66.5px,#784f60 69.5px,#89726d 70.5px,#e1cac3 71.5px,#e8e5ca 72.5px,#e1d8c1 80.5px,#d2cab4 81.5px,#c58c7c 82.5px,#9a6152 83.5px,#4c2a34 86.5px,#271008 91.5px,#2a0605 93.5px,#13041e 98.5px,#010108 111.5px,#020109 177.5px,#05001b 179.5px,#010108 190.5px,#010108 229.5px,#1a0031 230.5px,#3f1f56 231.5px,#4f1b7c 232.5px,#451172 233.5px,#261650 234.5px,#1e0e48 235.5px,#110d2b 236.5px,#020110 241.5px,#0a0410 283.5px,#4a054b 284.5px,#3e024e 287.5px,#220546 288.5px,#020115 293.5px,#010108 320.5px,#020103 336.5px,#262627 337.5px,#d7d69d 338.5px,#fcfac1 339.5px,#fdf5b9 343.5px,#ffc6b9 344.5px,#e28a7d 345.5px,#a74797 346.5px,#872777 347.5px,#4b2076 348.5px,#3c1167 349.5px,#1f1543 350.5px,#050512 354.5px,#03020a 359.5px,#03020d 361.5px,#010108 370.5px)"></i><i style="background:linear-gradient(90deg,#010108 0.5px,#05050e 19.5px,#110f1f 20.5px,#02020a 24.5px,#070610 33.5px,#120f24 35.5px,#040112 37.5px,#040308 63.5px,#31081b 66.5px,#2b1413 71.5px,#1f1607 80.5px,#372e1d 81.5px,#ce9585 82.5px,#e5ac9a 83.5px,#daa9af 84.5px,#bea89a 91.5px,#936b6a 93.5px,#523450 97.5px,#191526 104.5px,#010107 107.5px,#02020c 129.5px,#04040c 177.5px,#140f2a 178.5px,#010108 187.5px,#010108 229.5px,#18002f 230.5px,#37184e 231.5px,#471273 232.5px,#3f0b6c 233.5px,#22124c 234.5px,#1a0a45 235.5px,#0e0b28 236.5px,#030211 240.5px,#04000b 282.5px,#120c18 283.5px,#773278 284.5px,#843f86 285.5px,#773c87 286.5px,#3e2263 288.5px,#0e0c20 292.5px,#010108 303.5px,#020103 336.5px,#262627 337.5px,#d6d59c 338.5px,#fbf9c0 339.5px,#fff7bb 342.5px,#f2eaae 343.5px,#ea9285 344.5px,#b25a4c 345.5px,#8b2a7b 346.5px,#731363 347.5px,#3d1268 348.5px,#33085e 349.5px,#170d3b 350.5px,#030310 354.5px,#010108 370.5px)"></i><i style="background:linear-gradient(90deg,#010108 0.5px,#040211 18.5px,#0f0d1c 19.5px,#010109 22.5px,#0d0b19 24.5px,#010108 27.5px,#121020 30.5px,#02010a 34.5px,#020104 62.5px,#222223 63.5px,#babaa4 64.5px,#dadac3 65.5px,#d4d2b9 69.5px,#cfaba0 70.5px,#d6a2a7 75.5px,#c49aa5 78.5px,#9e7480 79.5px,#864e74 80.5px,#431b44 86.5px,#070411 98.5px,#010108 148.5px,#01010a 229.5px,#17002f 230.5px,#33154b 231.5px,#420f6d 232.5px,#3c0967 233.5px,#200f49 234.5px,#190842 235.5px,#0c0926 236.5px,#010108 243.5px,#02020d 273.5px,#05000b 282.5px,#120b18 283.5px,#7f287c 284.5px,#8c3589 285.5px,#7f3191 286.5px,#6c1e7e 287.5px,#3e1c6c 288.5px,#331161 289.5px,#1d153f 290.5px,#040311 295.5px,#030103 336.5px,#222022 337.5px,#cbb27a 338.5px,#ebd199 339.5px,#edd194 341.5px,#f3c093 342.5px,#c59365 343.5px,#b54773 344.5px,#942753 345.5px,#591775 346.5px,#4b0966 347.5px,#240f4f 348.5px,#1c0746 349.5px,#0d0928 350.5px,#010108 356.5px,#010108 370.5px)"></i><i style="background:linear-gradient(90deg,#010108 0.5px,#010108 54.5px,#040406 63.5px,#21210e 66.5px,#22200d 69.5px,#411d17 70.5px,#724e46 71.5px,#864f54 72.5px,#754048 75.5px,#421828 79.5px,#4a123a 80.5px,#6f375e 81.5px,#7e4476 82.5px,#5c3e5e 90.5px,#211632 95.5px,#04030b 103.5px,#02020b 229.5px,#1b0033 230.5px,#412359 231.5px,#511f7c 232.5px,#471472 233.5px,#281852 234.5px,#200f49 235.5px,#120f2c 236.5px,#020109 242.5px,#03020e 254.5px,#0a091a 257.5px,#010108 260.5px,#05000b 282.5px,#0f0714 283.5px,#6a1266 284.5px,#731b6f 285.5px,#671979 286.5px,#590b6b 287.5px,#321060 288.5px,#290757 289.5px,#140c36 290.5px,#02010a 296.5px,#03030a 313.5px,#0b0a1b 315.5px,#010108 317.5px,#030103 336.5px,#272527 337.5px,#e7ce96 338.5px,#fff2ba 339.5px,#ffe8bb 342.5px,#ffd9ac 343.5px,#e97ba7 344.5px,#b44672 345.5px,#6f2d8b 346.5px,#591775 347.5px,#2e1959 348.5px,#240f4e 349.5px,#14102f 350.5px,#02020c 355.5px,#010108 370.5px)"></i><i style="background:linear-gradient(90deg,#010108 0.5px,#010109 27.5px,#020106 63.5px,#24221c 64.5px,#bab8ad 65.5px,#dbd9c3 66.5px,#f1cdc4 71.5px,#e6a2a3 72.5px,#c5797b 73.5px,#95405f 75.5px,#371446 80.5px,#4d295a 81.5px,#be9fa8 82.5px,#d5b7be 83.5px,#d1b4af 84.5px,#b49692 85.5px,#865f78 86.5px,#674059 87.5px,#361f43 89.5px,#090610 94.5px,#03020b 125.5px,#090523 126.5px,#010108 134.5px,#0b0a17 140.5px,#010108 145.5px,#03020e 172.5px,#0d0b1e 175.5px,#010108 184.5px,#010108 229.5px,#100029 230.5px,#271341 231.5px,#30115b 232.5px,#2a0b55 233.5px,#180d38 234.5px,#02010a 240.5px,#05000b 282.5px,#100815 283.5px,#6f176c 284.5px,#792176 285.5px,#6d1e7f 286.5px,#5e0f70 287.5px,#351264 288.5px,#2c095b 289.5px,#160e39 290.5px,#020210 295.5px,#020103 336.5px,#272627 337.5px,#dcd59c 338.5px,#fff9c0 339.5px,#fff6ba 341.5px,#ffe0cf 342.5px,#ffddcb 343.5px,#ffc7de 344.5px,#d191a8 345.5px,#995294 346.5px,#783173 347.5px,#462668 348.5px,#160e34 351.5px,#0a081c 353.5px,#04030e 370.5px)"></i><i style="background:linear-gradient(90deg,#010108 0.5px,#0b0904 64.5px,#181607 67.5px,#341d13 68.5px,#7a6357 69.5px,#996a64 70.5px,#a75b5e 73.5px,#a85372 74.5px,#8b5182 78.5px,#7d4475 79.5px,#4d2a5b 81.5px,#4b2c39 82.5px,#412424 85.5px,#220b2f 88.5px,#05030b 96.5px,#04030c 125.5px,#110d2b 126.5px,#010108 133.5px,#02010d 173.5px,#090816 180.5px,#010108 194.5px,#010108 229.5px,#12002c 230.5px,#35214f 231.5px,#40216b 232.5px,#381963 233.5px,#231843 234.5px,#060514 238.5px,#010108 268.5px,#05000b 282.5px,#120a17 283.5px,#7b2478 284.5px,#873084 285.5px,#7b2c8d 286.5px,#691b7c 287.5px,#3c196b 288.5px,#320f61 289.5px,#1b133e 290.5px,#050513 294.5px,#010108 328.5px,#020103 336.5px,#252426 337.5px,#d3cc93 338.5px,#f6efb6 339.5px,#fbecb0 340.5px,#eadb9f 341.5px,#c78e7d 342.5px,#9d6553 343.5px,#83445a 344.5px,#6a2a40 345.5px,#571052 346.5px,#4b0446 347.5px,#260648 348.5px,#040216 352.5px,#01010b 370.5px)"></i><i style="background:linear-gradient(90deg,#010108 0.5px,#080813 11.5px,#050212 16.5px,#100e1e 17.5px,#010108 23.5px,#050212 26.5px,#100e1e 27.5px,#010109 29.5px,#03030b 35.5px,#0c0b18 36.5px,#010108 41.5px,#010106 61.5px,#1c0a0e 62.5px,#5d4b4d 63.5px,#785356 64.5px,#6e4b51 67.5px,#704f43 68.5px,#b29183 69.5px,#c6a17c 70.5px,#c39b78 77.5px,#916059 79.5px,#844063 80.5px,#722e52 81.5px,#654469 82.5px,#d7b5d6 83.5px,#e0dad4 84.5px,#ded5c9 86.5px,#cac2b6 87.5px,#9d7b76 89.5px,#644360 92.5px,#221836 99.5px,#010106 108.5px,#010109 125.5px,#09081e 128.5px,#010108 135.5px,#030210 177.5px,#0b0528 178.5px,#010108 186.5px,#080712 211.5px,#010108 229.5px,#331b05 230.5px,#c1a993 231.5px,#ffb28e 232.5px,#db8b68 233.5px,#b14585 234.5px,#912565 235.5px,#511b78 236.5px,#410c69 237.5px,#201348 238.5px,#050413 242.5px,#010108 279.5px,#100815 283.5px,#74196a 284.5px,#7e2375 285.5px,#71207f 286.5px,#621070 287.5px,#371266 288.5px,#2e095d 289.5px,#170f3b 290.5px,#020211 295.5px,#020103 336.5px,#272627 337.5px,#dcd39a 338.5px,#fff8bf 339.5px,#fff7b9 341.5px,#ffdeb4 343.5px,#ffbbd3 344.5px,#ce7b93 345.5px,#8f4495 346.5px,#712677 347.5px,#3e2166 348.5px,#0b0924 352.5px,#01000e 363.5px,#01010c 370.5px)"></i><i style="background:linear-gradient(90deg,#010108 0.5px,#040212 18.5px,#0e0c1c 19.5px,#010108 22.5px,#010106 61.5px,#2e1d20 62.5px,#c8b7b5 63.5px,#f4d4d3 64.5px,#f4d5d5 67.5px,#f4d9c8 68.5px,#f7e3d1 69.5px,#f7e5be 70.5px,#f5dfba 77.5px,#f3d6ca 78.5px,#f0c8bd 79.5px,#bf7c9d 80.5px,#8b476a 81.5px,#563459 82.5px,#49284e 83.5px,#312b2c 84.5px,#251c17 87.5px,#2d0a0a 89.5px,#170521 94.5px,#0e0422 99.5px,#010106 109.5px,#03030b 125.5px,#0d0a22 126.5px,#010108 135.5px,#03010f 176.5px,#151032 178.5px,#010109 185.5px,#010108 229.5px,#331c05 230.5px,#c1a993 231.5px,#ffb28f 232.5px,#db8c68 233.5px,#b14586 234.5px,#912566 235.5px,#511b78 236.5px,#420c69 237.5px,#201348 238.5px,#050413 242.5px,#010108 279.5px,#130b18 283.5px,#812678 284.5px,#8e3385 285.5px,#812f8e 286.5px,#6e1d7c 287.5px,#3f1a6e 288.5px,#340f63 289.5px,#1c1440 290.5px,#060514 294.5px,#070615 301.5px,#010108 309.5px,#020103 336.5px,#252426 337.5px,#d3ca91 338.5px,#f6edb4 339.5px,#f7ecae 341.5px,#fdd1a6 342.5px,#bd9167 343.5px,#a34f68 344.5px,#833048 345.5px,#5f1566 346.5px,#510657 347.5px,#290b50 348.5px,#0e0b26 352.5px,#04040f 370.5px)"></i><i style="background:linear-gradient(90deg,#010108 0.5px,#03020e 10.5px,#0b0a18 13.5px,#240031 16.5px,#0c0025 19.5px,#020012 21.5px,#04020f 26.5px,#0c0b18 27.5px,#020209 33.5px,#040211 38.5px,#050312 40.5px,#050307 62.5px,#1b181c 63.5px,#67465a 64.5px,#755067 67.5px,#806c6b 68.5px,#dfccc8 69.5px,#eae8cd 70.5px,#ece4ca 74.5px,#dbd4ba 75.5px,#ab8779 77.5px,#7c435e 80.5px,#50143c 85.5px,#180b30 90.5px,#03030b 99.5px,#010109 125.5px,#01000e 129.5px,#02020a 177.5px,#04001a 179.5px,#010108 191.5px,#010108 229.5px,#1c0030 230.5px,#45255a 231.5px,#582080 232.5px,#4e1576 233.5px,#2d1855 234.5px,#080619 238.5px,#010108 248.5px,#070008 282.5px,#110812 283.5px,#7d1647 284.5px,#871f51 285.5px,#7c1a63 286.5px,#6d0c54 287.5px,#3f0d61 288.5px,#0a0624 292.5px,#02010a 299.5px,#020103 336.5px,#252526 337.5px,#d4ce96 338.5px,#f7f2b9 339.5px,#f5eeb0 341.5px,#fcbd98 342.5px,#bc7d58 343.5px,#a43875 344.5px,#871b59 345.5px,#4b1470 346.5px,#3f0764 347.5px,#1d0f44 348.5px,#0a0625 351.5px,#020210 370.5px)"></i><i style="background:linear-gradient(90deg,#010108 0.5px,#02010b 5.5px,#02010e 13.5px,#170128 14.5px,#432c53 15.5px,#572e65 16.5px,#532a60 17.5px,#301e49 18.5px,#0f0c1f 20.5px,#060314 23.5px,#01000d 26.5px,#050312 39.5px,#040211 41.5px,#050207 62.5px,#28071d 64.5px,#261315 69.5px,#1e1c08 73.5px,#211908 75.5px,#2f0a07 77.5px,#2d0711 79.5px,#430b27 80.5px,#925873 81.5px,#aa6485 82.5px,#905479 85.5px,#462d5a 88.5px,#100e1e 94.5px,#010106 107.5px,#03030a 125.5px,#0d0b1e 127.5px,#010108 134.5px,#04030c 177.5px,#120e28 178.5px,#01010a 186.5px,#010108 229.5px,#1a002f 230.5px,#3e1d52 231.5px,#501777 232.5px,#470e6e 233.5px,#281350 234.5px,#070619 238.5px,#010108 248.5px,#03020e 258.5px,#0a0915 262.5px,#010108 270.5px,#070008 282.5px,#1a111b 283.5px,#b24a7c 284.5px,#c45d8e 285.5px,#b5539c 286.5px,#993780 287.5px,#5e2c80 288.5px,#2c1a53 290.5px,#09081a 294.5px,#020108 303.5px,#020103 336.5px,#262627 337.5px,#dbd59c 338.5px,#fffac1 339.5px,#fff9bc 341.5px,#ffe0bb 342.5px,#fbbc97 343.5px,#cf63a0 344.5px,#a33774 345.5px,#5e2783 346.5px,#4a136f 347.5px,#26174d 348.5px,#100c2b 351.5px,#040411 370.5px)"></i><i style="background:linear-gradient(90deg,#010108 0.5px,#02010e 27.5px,#0d0b1a 31.5px,#04030f 33.5px,#100e1f 34.5px,#010108 37.5px,#05040d 41.5px,#100e1e 42.5px,#010108 45.5px,#010106 61.5px,#24201a 62.5px,#b4b0a4 63.5px,#d7bdaf 64.5px,#9b8276 65.5px,#724e62 66.5px,#664257 67.5px,#a07c73 68.5px,#ad897b 72.5px,#a58074 77.5px,#7b515b 79.5px,#533a4e 82.5px,#3a2329 87.5px,#3b0d22 89.5px,#19052a 93.5px,#020109 102.5px,#010109 125.5px,#020110 128.5px,#010109 177.5px,#020111 181.5px,#010108 229.5px,#180031 230.5px,#36184f 231.5px,#441374 232.5px,#3d0c6d 233.5px,#21124b 234.5px,#050515 238.5px,#010108 255.5px,#05000b 282.5px,#140d19 283.5px,#893380 284.5px,#98418e 285.5px,#893f93 286.5px,#752a7e 287.5px,#46246d 288.5px,#100e25 292.5px,#010108 299.5px,#010108 335.5px,#020103 336.5px,#262627 337.5px,#d7d69e 338.5px,#fbfbc2 339.5px,#faf2b6 343.5px,#ffabaa 344.5px,#d06867 345.5px,#8f3791 346.5px,#731c76 347.5px,#3b1a6a 348.5px,#300e5e 349.5px,#181238 350.5px,#040410 354.5px,#010108 370.5px)"></i><i style="background:linear-gradient(90deg,#010108 0.5px,#03030b 25.5px,#09081a 29.5px,#04030e 33.5px,#020206 61.5px,#280e07 64.5px,#240617 67.5px,#290605 69.5px,#27060a 79.5px,#1e0517 81.5px,#351b31 82.5px,#cbb1c1 83.5px,#e6d4d9 84.5px,#e2cbcb 86.5px,#a07284 88.5px,#835668 89.5px,#392349 93.5px,#0b0a14 100.5px,#010108 115.5px,#090817 119.5px,#010108 123.5px,#03030b 125.5px,#0e0c20 126.5px,#010108 135.5px,#03030b 177.5px,#0e0c20 179.5px,#010108 187.5px,#010108 229.5px,#180031 230.5px,#3b1c54 231.5px,#491779 232.5px,#400f70 233.5px,#24154d 234.5px,#060515 238.5px,#010108 253.5px,#03020e 264.5px,#03020e 267.5px,#05000b 282.5px,#0d0512 283.5px,#5e0755 284.5px,#590e63 286.5px,#50055a 287.5px,#2c0a53 288.5px,#06041b 292.5px,#010108 302.5px,#020103 336.5px,#262627 337.5px,#d7d69e 338.5px,#fbfbc2 339.5px,#f4ecb0 343.5px,#ee8685 344.5px,#b54e4d 345.5px,#7f2781 346.5px,#68106a 347.5px,#341363 348.5px,#2a0958 349.5px,#130d33 350.5px,#02020e 355.5px,#010109 370.5px)"></i><i style="background:linear-gradient(90deg,#010108 0.5px,#02020a 17.5px,#030113 19.5px,#010108 35.5px,#110e1f 37.5px,#010109 39.5px,#030213 45.5px,#030106 60.5px,#110d13 61.5px,#643f51 62.5px,#734c5e 65.5px,#3a2241 69.5px,#49192e 70.5px,#0c0320 76.5px,#040112 79.5px,#2d0606 82.5px,#360a0e 85.5px,#280922 86.5px,#05020e 94.5px,#03020d 125.5px,#0a0920 127.5px,#010108 133.5px,#04030c 177.5px,#0f082f 178.5px,#010108 186.5px,#010108 229.5px,#180031 230.5px,#381951 231.5px,#471476 232.5px,#400c6f 233.5px,#23134d 234.5px,#1b0b45 235.5px,#0f0c28 236.5px,#010108 242.5px,#05000b 282.5px,#0e0714 283.5px,#631167 284.5px,#601778 286.5px,#540b6b 287.5px,#2f105c 288.5px,#270855 289.5px,#130c34 290.5px,#02010a 296.5px,#020103 336.5px,#242325 337.5px,#d1c68d 338.5px,#f3e8af 339.5px,#ffe3aa 342.5px,#f4d79f 343.5px,#ed7791 344.5px,#b8435d 345.5px,#722988 346.5px,#5b1272 347.5px,#2d165a 348.5px,#161035 350.5px,#080717 363.5px,#050512 370.5px)"></i><i style="background:linear-gradient(90deg,#010108 0.5px,#010108 17.5px,#100e1d 20.5px,#010108 23.5px,#050411 43.5px,#030213 45.5px,#040107 61.5px,#210510 62.5px,#15041d 68.5px,#250d2d 69.5px,#905f72 70.5px,#9b6a7d 71.5px,#432e53 74.5px,#100d1d 79.5px,#2c151b 80.5px,#7b6567 81.5px,#a67a75 82.5px,#a57979 84.5px,#966a6b 85.5px,#45324f 88.5px,#0c0a15 94.5px,#010108 121.5px,#07051c 127.5px,#010108 133.5px,#05040e 177.5px,#150e35 178.5px,#0b0825 181.5px,#010109 185.5px,#03030b 221.5px,#0c0b1c 223.5px,#010108 228.5px,#010108 229.5px,#190031 230.5px,#3b1b53 231.5px,#4a1679 232.5px,#420e70 233.5px,#24144e 234.5px,#1c0c46 235.5px,#0f0c29 236.5px,#010108 243.5px,#05000b 282.5px,#110b18 283.5px,#78257c 284.5px,#843188 285.5px,#772e8e 286.5px,#651c7d 287.5px,#3a1b67 288.5px,#2f105d 289.5px,#1b143c 290.5px,#030310 295.5px,#020103 336.5px,#272627 337.5px,#ded39a 338.5px,#fff7bf 339.5px,#ffebb3 342.5px,#f0d49b 343.5px,#e16b85 344.5px,#b03b55 345.5px,#6c2383 346.5px,#570e6e 347.5px,#2b1358 348.5px,#220b4f 349.5px,#110c31 350.5px,#020013 357.5px,#01010d 370.5px)"></i><i style="background:linear-gradient(90deg,#010108 0.5px,#04030c 13.5px,#0f0d1b 14.5px,#010108 17.5px,#0c0b18 19.5px,#010108 25.5px,#030113 33.5px,#010108 37.5px,#0c0a1a 40.5px,#03020a 45.5px,#090817 47.5px,#010108 52.5px,#050501 64.5px,#181607 73.5px,#191106 75.5px,#270505 77.5px,#210515 79.5px,#1f0508 80.5px,#47282f 81.5px,#eac0a4 82.5px,#f4dcbf 83.5px,#f5d9d9 84.5px,#ead7dd 87.5px,#d3c8c1 89.5px,#956f70 91.5px,#503657 94.5px,#151322 100.5px,#010106 109.5px,#02020a 125.5px,#05040f 128.5px,#020109 177.5px,#040019 179.5px,#010108 187.5px,#080712 221.5px,#010108 229.5px,#370f66 232.5px,#310960 233.5px,#190e3f 234.5px,#040313 238.5px,#06000b 282.5px,#130b18 283.5px,#81287b 284.5px,#8e3487 285.5px,#803090 286.5px,#6e1e7d 287.5px,#3f1c6d 288.5px,#341062 289.5px,#1d1440 290.5px,#060514 294.5px,#02010c 305.5px,#020103 336.5px,#272627 337.5px,#ded39a 338.5px,#fff8bf 339.5px,#fae6aa 341.5px,#ed8286 342.5px,#b94e53 343.5px,#7e2984 344.5px,#66126c 345.5px,#331460 346.5px,#280a56 347.5px,#130d33 348.5px,#040313 365.5px,#03030f 370.5px)"></i><i style="background:linear-gradient(90deg,#010108 0.5px,#03030b 29.5px,#0a091b 30.5px,#100d20 33.5px,#010109 35.5px,#03020a 37.5px,#100e21 39.5px,#010109 44.5px,#030309 63.5px,#23231c 64.5px,#b9b9ac 65.5px,#dadac2 66.5px,#ddd5bf 74.5px,#c8c0ab 75.5px,#8e6864 77.5px,#633e54 79.5px,#634349 80.5px,#a18285 81.5px,#bf967b 82.5px,#4c3944 86.5px,#2c2120 89.5px,#2e080c 91.5px,#1a0522 94.5px,#010106 106.5px,#010108 131.5px,#04030c 177.5px,#110e26 178.5px,#010108 186.5px,#020209 190.5px,#010108 229.5px,#15002f 230.5px,#371e51 231.5px,#431b72 232.5px,#3b136a 233.5px,#221647 234.5px,#060515 238.5px,#010108 264.5px,#06000b 282.5px,#0f0815 283.5px,#6e1568 284.5px,#781e71 285.5px,#6c1c7b 286.5px,#5d0d6d 287.5px,#341163 288.5px,#2c085a 289.5px,#160d39 290.5px,#020210 295.5px,#02020d 304.5px,#090817 307.5px,#010108 311.5px,#020103 336.5px,#252325 337.5px,#d1c78e 338.5px,#f4e9b0 339.5px,#f5e1a5 341.5px,#ff9ca1 342.5px,#ca5f64 343.5px,#88348e 344.5px,#6e1973 345.5px,#381965 346.5px,#2c0e5a 347.5px,#161035 348.5px,#07061c 354.5px,#02020e 370.5px)"></i><i style="background:linear-gradient(90deg,#010108 0.5px,#040310 11.5px,#030210 13.5px,#04030c 23.5px,#0f0d1b 24.5px,#010108 28.5px,#010108 37.5px,#0e0a22 40.5px,#010108 43.5px,#02010c 51.5px,#040406 64.5px,#27120f 69.5px,#390c08 71.5px,#350910 73.5px,#270926 74.5px,#080511 80.5px,#220f23 82.5px,#523f51 83.5px,#61405c 85.5px,#483150 90.5px,#13111f 98.5px,#010108 113.5px,#03020a 125.5px,#0b0a1b 127.5px,#010108 135.5px,#010108 151.5px,#05040e 177.5px,#1a0f40 178.5px,#0e092d 181.5px,#040314 183.5px,#010108 200.5px,#010108 229.5px,#190030 230.5px,#391950 231.5px,#491376 232.5px,#410b6e 233.5px,#23124e 234.5px,#1b0a45 235.5px,#0e0b29 236.5px,#010108 242.5px,#04000c 282.5px,#0c0614 283.5px,#560d69 284.5px,#531475 286.5px,#490a6b 287.5px,#271054 288.5px,#20084d 289.5px,#100b2e 290.5px,#010109 296.5px,#070611 329.5px,#020103 336.5px,#252526 337.5px,#d4ce95 338.5px,#f7f1b9 339.5px,#f8f1b3 341.5px,#ffe1ad 342.5px,#d9b884 343.5px,#c95979 344.5px,#a03151 345.5px,#621c7a 346.5px,#500b68 347.5px,#261151 348.5px,#1d0848 349.5px,#0e0a29 350.5px,#040410 362.5px,#03020c 370.5px)"></i><i style="background:linear-gradient(90deg,#010108 0.5px,#03020f 10.5px,#04030f 16.5px,#010108 37.5px,#151129 40.5px,#010108 42.5px,#040307 62.5px,#101011 67.5px,#331d1a 68.5px,#8b7670 69.5px,#ab7e76 70.5px,#a07477 72.5px,#885c60 73.5px,#4d2f4a 75.5px,#1b1628 78.5px,#0c0915 81.5px,#1d051a 86.5px,#040214 97.5px,#010109 125.5px,#010109 131.5px,#0a0914 139.5px,#03030a 145.5px,#0d0b1d 147.5px,#0b091b 149.5px,#010108 151.5px,#05040e 177.5px,#180d3e 178.5px,#0d072b 181.5px,#030213 183.5px,#010108 204.5px,#010108 229.5px,#1a0031 230.5px,#3f1f56 231.5px,#4f197d 232.5px,#461073 233.5px,#271651 234.5px,#1e0d49 235.5px,#110e2c 236.5px,#020209 242.5px,#04000c 282.5px,#0f0917 283.5px,#671e7a 284.5px,#712985 285.5px,#561778 287.5px,#30195d 288.5px,#271054 289.5px,#161134 290.5px,#02020a 296.5px,#03020a 317.5px,#0d0b1c 319.5px,#010108 324.5px,#020103 336.5px,#262627 337.5px,#dbd59c 338.5px,#fff9c0 339.5px,#ffeab6 342.5px,#fddca8 343.5px,#f383a3 344.5px,#b9496a 345.5px,#722d8a 346.5px,#5b1573 347.5px,#2d1857 348.5px,#230e4e 349.5px,#120f2e 350.5px,#01010e 356.5px,#01010a 370.5px)"></i><i style="background:linear-gradient(90deg,#010108 0.5px,#030210 12.5px,#100e1d 16.5px,#010108 19.5px,#04030d 25.5px,#100a24 26.5px,#010108 32.5px,#060510 39.5px,#131021 40.5px,#03020f 42.5px,#120f1f 44.5px,#010108 47.5px,#010106 61.5px,#23231b 62.5px,#b9b9ac 63.5px,#dadac2 64.5px,#dad7bf 69.5px,#bc9693 70.5px,#886261 71.5px,#4b2d49 73.5px,#251832 75.5px,#050408 80.5px,#131305 88.5px,#280608 95.5px,#14041e 98.5px,#010108 111.5px,#03030b 125.5px,#0e0c1f 127.5px,#010108 134.5px,#050412 177.5px,#160f35 178.5px,#181237 179.5px,#04030f 183.5px,#010108 229.5px,#150030 230.5px,#32184e 231.5px,#3e1470 232.5px,#380e69 233.5px,#1e1344 234.5px,#050514 238.5px,#0b0a16 244.5px,#010108 250.5px,#04000c 282.5px,#0f0917 283.5px,#64227a 284.5px,#6e2c84 285.5px,#531b74 287.5px,#301a59 288.5px,#0a091c 292.5px,#010108 301.5px,#010109 321.5px,#020103 336.5px,#262527 337.5px,#d4d198 338.5px,#f8f4bb 339.5px,#feeeb3 340.5px,#e6d79b 341.5px,#c98479 342.5px,#9e594e 343.5px,#852968 344.5px,#6d1150 345.5px,#3d0f5d 346.5px,#100433 349.5px,#08061f 352.5px,#02020e 370.5px)"></i><i style="background:linear-gradient(90deg,#010108 0.5px,#03030b 21.5px,#03020e 23.5px,#06050f 25.5px,#150f29 26.5px,#03020a 31.5px,#050312 36.5px,#0f0d1c 37.5px,#02010b 39.5px,#050501 62.5px,#151105 68.5px,#141105 69.5px,#2d0709 71.5px,#240723 72.5px,#0a080d 80.5px,#302e31 81.5px,#c8c9b2 82.5px,#e8e9d1 83.5px,#e0ddc5 91.5px,#d8c2af 92.5px,#9a6f76 94.5px,#82575f 95.5px,#2f203f 100.5px,#100e1c 105.5px,#010106 107.5px,#010109 131.5px,#03010f 176.5px,#0e082d 178.5px,#01000c 183.5px,#020209 211.5px,#070613 213.5px,#010108 229.5px,#140030 230.5px,#31164c 231.5px,#3c126e 232.5px,#360c68 233.5px,#1d1243 234.5px,#030212 239.5px,#04000c 282.5px,#0b0512 283.5px,#4a0860 284.5px,#3f0761 287.5px,#210c4b 288.5px,#050417 292.5px,#010108 307.5px,#020103 336.5px,#262627 337.5px,#dad69d 338.5px,#fefac2 339.5px,#fff5ba 341.5px,#ffd8cd 342.5px,#ffbbaf 343.5px,#c76baa 344.5px,#9b3f7d 345.5px,#5b2d7b 346.5px,#461866 347.5px,#251848 348.5px,#0e0a27 351.5px,#030310 370.5px)"></i><i style="background:linear-gradient(90deg,#010108 0.5px,#010109 23.5px,#17112a 25.5px,#432254 26.5px,#401f52 29.5px,#170d2e 31.5px,#03030d 35.5px,#0a071c 36.5px,#010108 42.5px,#010105 61.5px,#29060c 65.5px,#260505 69.5px,#451f0d 70.5px,#bf997b 71.5px,#e4b089 72.5px,#d9a5aa 76.5px,#d49fa5 77.5px,#bc829b 78.5px,#995f7a 79.5px,#83667a 80.5px,#dbbecf 81.5px,#e8e6d6 82.5px,#ece5d2 88.5px,#dad3c0 89.5px,#b99393 90.5px,#8e686a 91.5px,#3d2b49 94.5px,#0a0812 100.5px,#010108 125.5px,#02010a 177.5px,#020011 180.5px,#010108 229.5px,#2c0953 232.5px,#04021a 237.5px,#010108 246.5px,#05000d 282.5px,#0f0917 283.5px,#63207a 284.5px,#6e2b85 285.5px,#531a75 287.5px,#2f1a59 288.5px,#271151 289.5px,#161233 290.5px,#050412 294.5px,#020103 336.5px,#262628 337.5px,#d9d69d 338.5px,#fefbc2 339.5px,#fff9bc 341.5px,#ffe1cd 342.5px,#ffdcc8 343.5px,#ffcde3 344.5px,#e1a9bf 345.5px,#a7619b 346.5px,#7e3872 347.5px,#4a2969 348.5px,#160e33 351.5px,#050510 354.5px,#010108 370.5px)"></i><i style="background:linear-gradient(90deg,#010108 0.5px,#03020e 10.5px,#04030c 23.5px,#0f0922 24.5px,#07011a 25.5px,#170028 27.5px,#04040e 35.5px,#110e22 36.5px,#01010b 39.5px,#040308 61.5px,#2b151e 62.5px,#715c61 63.5px,#8f626e 64.5px,#855866 67.5px,#896564 68.5px,#b79391 69.5px,#d9b394 71.5px,#e4b089 72.5px,#d5a17a 73.5px,#9c5c52 75.5px,#622945 78.5px,#3c1f35 80.5px,#302e24 83.5px,#1c1509 89.5px,#270506 91.5px,#1d051b 92.5px,#03010b 100.5px,#04030b 177.5px,#100d23 178.5px,#03020a 187.5px,#0a0919 189.5px,#010108 192.5px,#02010b 211.5px,#010108 229.5px,#130029 230.5px,#38234e 231.5px,#44216c 232.5px,#0b0820 237.5px,#010108 243.5px,#02020d 256.5px,#0b0513 283.5px,#4c0863 284.5px,#480f6b 286.5px,#400763 287.5px,#230d4c 288.5px,#1b0645 289.5px,#0d082a 290.5px,#010109 297.5px,#020103 336.5px,#262527 337.5px,#d5d299 338.5px,#f9f5bd 339.5px,#f0e8ac 341.5px,#ce9682 342.5px,#9e6652 343.5px,#7a4157 344.5px,#61293f 345.5px,#560f49 346.5px,#49033c 347.5px,#240443 348.5px,#030114 352.5px,#010108 370.5px)"></i><i style="background:linear-gradient(90deg,#010108 0.5px,#0b0a16 4.5px,#010108 10.5px,#040211 16.5px,#0f0d1c 17.5px,#120d28 19.5px,#05040e 20.5px,#010109 23.5px,#0c0725 26.5px,#02020a 36.5px,#020104 60.5px,#222223 61.5px,#bcbaa5 62.5px,#e0dfc9 63.5px,#efc7bc 64.5px,#ba8e85 65.5px,#9d4e6e 66.5px,#60253e 68.5px,#733750 69.5px,#e8b192 70.5px,#efc8a7 71.5px,#e5a484 73.5px,#b86158 75.5px,#742d43 79.5px,#582c41 80.5px,#6f4357 81.5px,#d0c9a1 82.5px,#e9e2b9 83.5px,#ebd8ae 84.5px,#c7b58c 85.5px,#a77b6f 86.5px,#885d52 87.5px,#642d3c 89.5px,#32103d 92.5px,#070218 98.5px,#0c0a1d 101.5px,#010109 104.5px,#03030b 125.5px,#100d21 127.5px,#010108 133.5px,#03020b 177.5px,#090524 178.5px,#01000b 186.5px,#02020d 216.5px,#090817 219.5px,#010108 223.5px,#010108 229.5px,#22002f 230.5px,#532c60 231.5px,#6b2689 232.5px,#5e197d 233.5px,#351963 234.5px,#2b0f59 235.5px,#181237 236.5px,#02020e 241.5px,#05000b 282.5px,#0c0512 283.5px,#570658 284.5px,#520e64 286.5px,#4a055c 287.5px,#290a51 288.5px,#050319 292.5px,#010108 304.5px,#020103 336.5px,#262628 337.5px,#d7d79f 338.5px,#fbfcc3 339.5px,#fdf1b8 342.5px,#e6daa1 343.5px,#c88176 344.5px,#985147 345.5px,#7f2266 346.5px,#690c50 347.5px,#370d5c 348.5px,#2d0352 349.5px,#120834 350.5px,#02020d 354.5px,#010108 370.5px)"></i><i style="background:linear-gradient(90deg,#010108 0.5px,#02000f 17.5px,#130e29 19.5px,#05040e 20.5px,#03020a 23.5px,#141127 25.5px,#110f24 30.5px,#020109 34.5px,#040212 40.5px,#0f0d1c 42.5px,#010108 45.5px,#040406 61.5px,#131205 63.5px,#3e120d 64.5px,#81544e 65.5px,#a15171 66.5px,#955a71 68.5px,#ad7289 69.5px,#c48e6f 70.5px,#d67f75 75.5px,#c47d90 78.5px,#a77a8d 80.5px,#f0c4d5 81.5px,#f6eec5 82.5px,#f8eabf 85.5px,#f3d3c4 87.5px,#e7b0bb 88.5px,#bd8692 89.5px,#834a72 91.5px,#55325e 93.5px,#1b172c 98.5px,#010106 108.5px,#010109 125.5px,#01000f 129.5px,#04030c 177.5px,#110d2c 178.5px,#010108 185.5px,#03020e 210.5px,#0a091a 213.5px,#010108 215.5px,#010108 229.5px,#1f002d 230.5px,#451d52 231.5px,#5a1679 232.5px,#510c70 233.5px,#2d115b 234.5px,#240852 235.5px,#120c31 236.5px,#010109 242.5px,#05000b 282.5px,#130c19 283.5px,#7e2e80 284.5px,#8c3b8d 285.5px,#7d398f 286.5px,#6a267c 287.5px,#3f2168 288.5px,#0e0c22 292.5px,#010108 300.5px,#020103 336.5px,#262628 337.5px,#d7d79f 338.5px,#fbfcc3 339.5px,#fff7bd 343.5px,#ffd8cd 344.5px,#ffb9ae 345.5px,#c165a8 346.5px,#94377a 347.5px,#522978 348.5px,#3f1564 349.5px,#211742 350.5px,#050410 354.5px,#010108 370.5px)"></i><i style="background:linear-gradient(90deg,#010108 0.5px,#04030c 13.5px,#0e0c1a 14.5px,#010108 18.5px,#02000a 23.5px,#110b25 25.5px,#06030f 26.5px,#0a070b 67.5px,#0c0709 68.5px,#252021 69.5px,#a8887b 70.5px,#c0a091 71.5px,#c0998d 78.5px,#926568 80.5px,#a87c76 82.5px,#9e716f 87.5px,#492e4b 91.5px,#140f20 97.5px,#010106 109.5px,#05040d 177.5px,#17112e 178.5px,#010108 186.5px,#010108 229.5px,#160034 230.5px,#321550 231.5px,#3f106f 232.5px,#390a69 233.5px,#1e1047 234.5px,#050414 238.5px,#010108 261.5px,#070009 282.5px,#150c17 283.5px,#95286e 284.5px,#a3357b 285.5px,#933189 286.5px,#7f1d75 287.5px,#4b1878 288.5px,#3e0c6b 289.5px,#21144a 290.5px,#060516 294.5px,#010108 308.5px,#020103 336.5px,#262526 337.5px,#d7cf96 338.5px,#fbf2b9 339.5px,#ffe4b2 343.5px,#ffcfd8 344.5px,#fbb8c1 345.5px,#bb69a8 346.5px,#8d3b7a 347.5px,#512b72 348.5px,#180f38 351.5px,#040414 354.5px,#010109 370.5px)"></i><i style="background:linear-gradient(90deg,#010108 0.5px,#080710 23.5px,#16102a 24.5px,#04020d 27.5px,#03030b 35.5px,#0d0b1c 36.5px,#010109 39.5px,#0e0c1b 41.5px,#010108 44.5px,#040307 62.5px,#161112 69.5px,#35150b 70.5px,#2d0606 80.5px,#370a0c 87.5px,#240928 90.5px,#03030b 102.5px,#020209 173.5px,#070714 175.5px,#01010a 177.5px,#04001b 179.5px,#010108 190.5px,#03020e 216.5px,#03020e 219.5px,#03020a 229.5px,#1e013c 230.5px,#3c1e59 231.5px,#481978 232.5px,#40116f 233.5px,#24164c 234.5px,#060515 238.5px,#010108 253.5px,#070009 282.5px,#150b17 283.5px,#95286d 284.5px,#a2357b 285.5px,#933189 286.5px,#7f1d75 287.5px,#4b1978 288.5px,#3e0c6b 289.5px,#201349 290.5px,#060516 294.5px,#010108 308.5px,#020103 336.5px,#262526 337.5px,#d8d097 338.5px,#fbf3ba 339.5px,#fdf4b5 341.5px,#ffddac 342.5px,#c59e6c 343.5px,#9d5b64 344.5px,#7d3b44 345.5px,#681656 346.5px,#590746 347.5px,#2e084f 348.5px,#0b012b 351.5px,#050414 354.5px,#02020a 370.5px)"></i><i style="background:linear-gradient(90deg,#010108 0.5px,#010109 11.5px,#120d26 13.5px,#05040c 14.5px,#010108 21.5px,#15011e 22.5px,#3e2a46 23.5px,#522c5e 24.5px,#4f295b 25.5px,#0b071e 29.5px,#010108 32.5px,#05040c 39.5px,#120f20 40.5px,#010108 43.5px,#010106 61.5px,#23231b 62.5px,#b9b9ac 63.5px,#dadac2 64.5px,#d7d6be 69.5px,#d5b69b 70.5px,#9c6962 72.5px,#86534c 73.5px,#4a2f38 76.5px,#361a1d 79.5px,#582c2e 80.5px,#dfb4b1 81.5px,#f3d3d1 82.5px,#dcd9cd 91.5px,#ddd0c1 92.5px,#896064 95.5px,#322242 100.5px,#100e1d 105.5px,#010106 107.5px,#010109 177.5px,#04001a 179.5px,#010108 191.5px,#010108 229.5px,#18002c 230.5px,#412856 231.5px,#512676 232.5px,#13102c 236.5px,#010108 244.5px,#06000a 282.5px,#160d19 283.5px,#9a3279 284.5px,#a94188 285.5px,#993d94 286.5px,#84277f 287.5px,#4e2179 288.5px,#24174a 290.5px,#070617 294.5px,#010108 308.5px,#020103 336.5px,#262527 337.5px,#d8d198 338.5px,#fcf5bc 339.5px,#fef4b6 341.5px,#ffcfb4 342.5px,#e39479 343.5px,#aa4795 344.5px,#882472 345.5px,#461d72 346.5px,#370f64 347.5px,#1b133c 348.5px,#040314 352.5px,#01010a 370.5px)"></i><i style="background:linear-gradient(90deg,#010108 0.5px,#04040c 11.5px,#110c26 12.5px,#010109 15.5px,#010108 21.5px,#1b0026 25.5px,#01010b 30.5px,#050501 62.5px,#131205 69.5px,#43240e 70.5px,#c7a88d 71.5px,#ecbab0 72.5px,#d6bbc0 77.5px,#d2b6b4 78.5px,#9e7272 80.5px,#41323c 86.5px,#22150d 93.5px,#2c060b 95.5px,#180521 98.5px,#020206 109.5px,#05040c 177.5px,#16102c 178.5px,#010108 187.5px,#010108 229.5px,#360b5b 232.5px,#05021e 237.5px,#010108 246.5px,#06000a 282.5px,#110915 283.5px,#80185f 284.5px,#8a236a 285.5px,#7d2078 286.5px,#6c1067 287.5px,#3e1069 288.5px,#340760 289.5px,#1a0e41 290.5px,#040414 294.5px,#010108 319.5px,#020103 336.5px,#262526 337.5px,#d7d097 338.5px,#faf3ba 339.5px,#f7edaf 341.5px,#feaf93 342.5px,#bf7055 343.5px,#963280 344.5px,#791664 345.5px,#3d1469 346.5px,#31085e 347.5px,#160e37 348.5px,#080718 352.5px,#02020b 370.5px)"></i><i style="background:linear-gradient(90deg,#010108 0.5px,#010108 11.5px,#030019 15.5px,#010109 32.5px,#100d1d 34.5px,#010108 37.5px,#030013 39.5px,#050501 62.5px,#141205 68.5px,#251b09 73.5px,#330b07 75.5px,#2f081c 76.5px,#0c071b 84.5px,#010106 102.5px,#02020d 111.5px,#04030b 125.5px,#0f0c22 126.5px,#010108 134.5px,#05040e 177.5px,#1b103f 178.5px,#0f0a2c 181.5px,#03020b 184.5px,#010108 229.5px,#1d002e 230.5px,#431f55 231.5px,#56197c 232.5px,#4c0f72 233.5px,#2a1457 234.5px,#220b4f 235.5px,#120d2e 236.5px,#01010b 242.5px,#04000e 282.5px,#0c0817 283.5px,#45116e 284.5px,#421970 286.5px,#380f66 287.5px,#201445 288.5px,#060515 292.5px,#010108 308.5px,#020103 336.5px,#252426 337.5px,#d3ca91 338.5px,#f5edb4 339.5px,#ffdfa9 342.5px,#eec691 343.5px,#d45f90 344.5px,#a63162 345.5px,#5c2180 346.5px,#490e6d 347.5px,#22144a 348.5px,#080521 351.5px,#01010e 361.5px,#01010b 370.5px)"></i><i style="background:linear-gradient(90deg,#010108 0.5px,#020109 11.5px,#19142e 14.5px,#060511 19.5px,#0f0d1c 20.5px,#05040d 23.5px,#110e1f 24.5px,#010108 27.5px,#02020a 37.5px,#110f22 39.5px,#010109 41.5px,#010106 61.5px,#25241c 62.5px,#c3c3b5 63.5px,#e7e6cc 64.5px,#e8dec4 72.5px,#d3c9b0 73.5px,#9b726a 75.5px,#4d314d 79.5px,#140f23 85.5px,#010106 96.5px,#020109 125.5px,#040117 127.5px,#010108 142.5px,#04030d 177.5px,#140938 178.5px,#0a0527 181.5px,#02010a 184.5px,#010108 229.5px,#1d002f 230.5px,#462258 231.5px,#5a1c7f 232.5px,#4f1174 233.5px,#2c1559 234.5px,#230d50 235.5px,#130e30 236.5px,#02010d 241.5px,#03000e 282.5px,#0a0514 283.5px,#400b69 284.5px,#340b62 287.5px,#1c1041 288.5px,#050414 292.5px,#010108 315.5px,#020103 336.5px,#272627 337.5px,#ddd49b 338.5px,#fff9c0 339.5px,#fff9bb 341.5px,#ffe8b3 342.5px,#e5be89 343.5px,#cb5787 344.5px,#a12d5d 345.5px,#591e7d 346.5px,#470c6b 347.5px,#211348 348.5px,#0c0925 351.5px,#03030e 370.5px)"></i><i style="background:linear-gradient(90deg,#010108 0.5px,#03020e 10.5px,#100d1e 12.5px,#02010a 21.5px,#070417 23.5px,#010109 25.5px,#07051f 29.5px,#050214 32.5px,#100e1f 33.5px,#01000e 36.5px,#010106 61.5px,#261b14 62.5px,#a99d92 63.5px,#ceb7a0 64.5px,#dab696 68.5px,#e2bd9d 69.5px,#dc9785 71.5px,#cf8c94 73.5px,#ae8484 79.5px,#4d304f 83.5px,#1c152b 87.5px,#050307 94.5px,#04040c 125.5px,#130f28 126.5px,#010108 134.5px,#010108 229.5px,#380b56 232.5px,#15013a 235.5px,#090522 236.5px,#010108 244.5px,#05000b 282.5px,#120b18 283.5px,#7a297d 284.5px,#863689 285.5px,#78338c 286.5px,#66227a 287.5px,#3c1e65 288.5px,#0d0b25 292.5px,#010108 298.5px,#020203 336.5px,#262628 337.5px,#d7d89f 338.5px,#fbfcc4 339.5px,#fff3ba 341.5px,#ffc6cf 342.5px,#da808a 343.5px,#944499 344.5px,#732378 345.5px,#3b1f64 346.5px,#2d1157 347.5px,#171333 348.5px,#04030e 352.5px,#010108 370.5px)"></i><i style="background:linear-gradient(90deg,#010108 0.5px,#02010d 18.5px,#04030c 21.5px,#0f0d1f 22.5px,#010109 25.5px,#100d28 28.5px,#02010e 34.5px,#010106 61.5px,#200905 65.5px,#200905 67.5px,#45210d 68.5px,#bc9778 69.5px,#ce8877 70.5px,#ad6758 71.5px,#6d3343 74.5px,#3b1014 79.5px,#1e0c2d 84.5px,#040309 103.5px,#020109 125.5px,#040019 127.5px,#010108 139.5px,#010108 229.5px,#190029 230.5px,#472d57 231.5px,#582b77 232.5px,#16112f 236.5px,#02020c 241.5px,#05000b 282.5px,#0c0613 283.5px,#5b0a5e 284.5px,#56116a 286.5px,#4d0861 287.5px,#2a0c53 288.5px,#0b0823 292.5px,#010108 298.5px,#020203 336.5px,#262628 337.5px,#d7d89f 338.5px,#fbfcc4 339.5px,#fff0b7 340.5px,#d9c68d 341.5px,#c26871 342.5px,#963c46 343.5px,#6a1a6f 344.5px,#58085d 345.5px,#290d53 346.5px,#20044a 347.5px,#0d0828 348.5px,#010109 354.5px,#010108 370.5px)"></i><i style="background:linear-gradient(90deg,#010108 0.5px,#03030f 13.5px,#0a081e 14.5px,#030210 17.5px,#030211 19.5px,#03020f 34.5px,#050501 62.5px,#121305 67.5px,#363316 68.5px,#cdcaa7 69.5px,#efe8ba 70.5px,#e8e1b6 73.5px,#e5cfa7 74.5px,#996f5d 77.5px,#775051 79.5px,#86555b 80.5px,#eab9bb 81.5px,#eadcc5 82.5px,#f1e3cb 83.5px,#ebebbd 86.5px,#eceabc 89.5px,#f3d6ba 91.5px,#f3d1cf 92.5px,#e8c5c3 93.5px,#ac7989 95.5px,#644265 98.5px,#1b132c 105.5px,#06050c 106.5px,#03020a 125.5px,#0a0819 127.5px,#010108 137.5px,#060411 177.5px,#180f3b 178.5px,#0d0929 181.5px,#03020b 184.5px,#010108 229.5px,#260c51 232.5px,#21074b 233.5px,#110931 234.5px,#02010e 239.5px,#07000a 282.5px,#130b17 283.5px,#8c236b 284.5px,#993078 285.5px,#892c85 286.5px,#771a72 287.5px,#451672 288.5px,#3a0b67 289.5px,#1e1246 290.5px,#050415 294.5px,#02010c 301.5px,#020203 336.5px,#262628 337.5px,#d7d89f 338.5px,#fbfcc4 339.5px,#fff8bd 340.5px,#ebe2a7 341.5px,#d37e78 342.5px,#a04b45 343.5px,#772071 344.5px,#620a5b 345.5px,#300f59 346.5px,#26054f 347.5px,#0f092d 348.5px,#020212 352.5px,#01010a 370.5px)"></i><i style="background:linear-gradient(90deg,#010108 0.5px,#02010e 12.5px,#08061b 15.5px,#010109 27.5px,#050412 35.5px,#010106 61.5px,#23231b 62.5px,#b9b9ac 63.5px,#dadac2 64.5px,#e9e6c3 69.5px,#f5e0b7 75.5px,#f3d1ce 78.5px,#edc6c4 79.5px,#905f64 81.5px,#837461 82.5px,#ebdcc5 83.5px,#f9facb 84.5px,#f1f0c1 89.5px,#a68268 91.5px,#643143 94.5px,#2c0a30 98.5px,#070219 105.5px,#010107 107.5px,#010109 131.5px,#040310 177.5px,#120935 178.5px,#090525 181.5px,#01010a 185.5px,#010108 229.5px,#0f0028 230.5px,#2b1a44 231.5px,#33195e 232.5px,#2d1358 233.5px,#1c143b 234.5px,#050411 238.5px,#07000a 282.5px,#140b18 283.5px,#912870 284.5px,#9e357d 285.5px,#8f328a 286.5px,#7c1e77 287.5px,#491976 288.5px,#3c0d69 289.5px,#201447 290.5px,#060515 294.5px,#02020d 300.5px,#090817 303.5px,#010108 307.5px,#020203 336.5px,#262628 337.5px,#d7d89f 338.5px,#fbfcc4 339.5px,#fff8bd 341.5px,#ffcdc8 342.5px,#e9948e 343.5px,#a44d9e 344.5px,#802879 345.5px,#42216c 346.5px,#33125d 347.5px,#1a1438 348.5px,#07061a 351.5px,#040311 366.5px,#02020b 370.5px)"></i><i style="background:linear-gradient(90deg,#010108 0.5px,#050213 18.5px,#100e1e 19.5px,#010109 21.5px,#040307 62.5px,#110f15 71.5px,#0f090d 80.5px,#2d282a 81.5px,#e3bd9f 82.5px,#f6e3c4 83.5px,#f4d7c6 91.5px,#f0c8cc 92.5px,#ca969c 93.5px,#9b5c88 94.5px,#7c3d6b 95.5px,#552e6a 96.5px,#241241 99.5px,#0a081a 102.5px,#010106 109.5px,#04030d 125.5px,#140c36 126.5px,#160e37 127.5px,#02020f 131.5px,#05040e 177.5px,#1a0f3f 178.5px,#0e092c 181.5px,#03020c 184.5px,#010108 229.5px,#13002c 230.5px,#36204e 231.5px,#421e6e 232.5px,#3a1565 233.5px,#231747 234.5px,#060614 238.5px,#010108 258.5px,#04000d 282.5px,#0b0614 283.5px,#480e6f 284.5px,#451774 286.5px,#3c0d6a 287.5px,#201347 288.5px,#060516 292.5px,#010108 307.5px,#020105 336.5px,#26262a 337.5px,#dcd59c 338.5px,#fff9c1 339.5px,#fff9bb 341.5px,#ffe6c3 342.5px,#ffd4b1 343.5px,#df7bb0 344.5px,#a74278 345.5px,#602c82 346.5px,#49166c 347.5px,#251848 348.5px,#08071d 351.5px,#010108 358.5px,#010108 370.5px)"></i><i style="background:linear-gradient(90deg,#010108 0.5px,#040210 24.5px,#0d0c1a 25.5px,#010108 34.5px,#03020f 42.5px,#0c0b18 43.5px,#010108 48.5px,#040307 63.5px,#110f15 71.5px,#080205 80.5px,#1e181b 81.5px,#9f7a5e 82.5px,#b59073 83.5px,#b48c6c 89.5px,#75424a 93.5px,#6b2c5a 94.5px,#5f204f 95.5px,#431c59 96.5px,#110f20 102.5px,#010106 109.5px,#04030d 125.5px,#140c36 126.5px,#160e38 127.5px,#02020f 131.5px,#02020d 162.5px,#080716 165.5px,#010108 171.5px,#05030e 177.5px,#160b3b 178.5px,#0b0629 181.5px,#02020b 184.5px,#060610 209.5px,#010108 229.5px,#300c5c 232.5px,#2b0656 233.5px,#160a3a 234.5px,#030211 238.5px,#04000d 282.5px,#0b0614 283.5px,#470d6e 284.5px,#441572 286.5px,#3b0d6a 287.5px,#201347 288.5px,#060516 292.5px,#010108 307.5px,#040307 336.5px,#27262a 337.5px,#d4cd94 338.5px,#f6efb7 339.5px,#f4ebae 341.5px,#f2bd9a 342.5px,#b17b58 343.5px,#9a366b 344.5px,#7d194e 345.5px,#441167 346.5px,#38055b 347.5px,#170b3b 348.5px,#02020e 352.5px,#010108 370.5px)"></i><i style="background:linear-gradient(90deg,#010108 0.5px,#030012 13.5px,#0f0c25 16.5px,#04001b 18.5px,#0d0a24 19.5px,#01010a 22.5px,#03020b 30.5px,#04040c 39.5px,#0f0d1c 40.5px,#010108 49.5px,#020103 62.5px,#222122 63.5px,#bbb9a6 64.5px,#dcdac6 65.5px,#d8d5c0 69.5px,#cdb4a0 70.5px,#976a6f 72.5px,#82555b 73.5px,#342244 78.5px,#151119 88.5px,#010108 114.5px,#04030c 177.5px,#100c2c 178.5px,#010108 186.5px,#010108 229.5px,#14002f 230.5px,#32184c 231.5px,#3e146c 232.5px,#370e66 233.5px,#1f1344 234.5px,#050413 238.5px,#010108 268.5px,#080712 278.5px,#04000c 282.5px,#0b0614 283.5px,#4d0c6b 284.5px,#4a1374 286.5px,#410a6b 287.5px,#22114c 288.5px,#050417 292.5px,#010108 305.5px,#020103 336.5px,#252527 337.5px,#d4cf96 338.5px,#f7f2b9 339.5px,#efe5a9 341.5px,#cf9280 342.5px,#9b5e4c 343.5px,#80305b 344.5px,#671742 345.5px,#410c57 346.5px,#160639 348.5px,#02010d 352.5px,#010108 370.5px)"></i><i style="background:linear-gradient(90deg,#010108 0.5px,#010108 11.5px,#141129 14.5px,#14102b 19.5px,#02020b 23.5px,#03020d 33.5px,#040305 62.5px,#2a281c 66.5px,#211e0f 69.5px,#31070d 73.5px,#1a0522 76.5px,#130a23 81.5px,#010106 109.5px,#03020b 177.5px,#0b0727 178.5px,#010108 187.5px,#010108 229.5px,#14002f 230.5px,#32184c 231.5px,#3e156c 232.5px,#370e66 233.5px,#1f1244 234.5px,#050514 238.5px,#010108 266.5px,#04000c 282.5px,#0d0816 283.5px,#581877 284.5px,#561f80 286.5px,#200f4b 289.5px,#130f2e 290.5px,#020109 296.5px,#070611 317.5px,#020103 336.5px,#262628 337.5px,#dbd59d 338.5px,#fffac1 339.5px,#fff8bc 341.5px,#ffdfcd 342.5px,#ffd3c1 343.5px,#f2a2cd 344.5px,#af5f8a 345.5px,#6e3984 346.5px,#541f69 347.5px,#2b1b4e 348.5px,#060511 352.5px,#010108 370.5px)"></i><i style="background:linear-gradient(90deg,#010108 0.5px,#050212 34.5px,#100e1d 35.5px,#010108 38.5px,#010106 61.5px,#241811 62.5px,#9c9085 63.5px,#cbb38b 64.5px,#cfb58c 67.5px,#daa58b 69.5px,#cfb48d 71.5px,#d6aa88 72.5px,#b98e6d 73.5px,#a05673 74.5px,#853b59 75.5px,#572d67 76.5px,#24153f 79.5px,#373136 80.5px,#b4aeaf 81.5px,#d5cead 82.5px,#e3dcad 87.5px,#e4cfa2 89.5px,#e29987 90.5px,#ba6f5f 91.5px,#9a4b6e 92.5px,#87375b 93.5px,#642d66 94.5px,#281344 98.5px,#010106 107.5px,#03030b 125.5px,#0d0b22 126.5px,#010108 134.5px,#04030c 177.5px,#100a30 178.5px,#010108 187.5px,#010108 229.5px,#2c0028 230.5px,#73456e 231.5px,#914391 232.5px,#803280 233.5px,#502a71 234.5px,#1c103d 237.5px,#070614 240.5px,#02010b 252.5px,#06000b 282.5px,#130b18 283.5px,#852777 284.5px,#923483 285.5px,#842f8e 286.5px,#711d7b 287.5px,#411a70 288.5px,#360f65 289.5px,#1d1442 290.5px,#060514 294.5px,#010108 316.5px,#020103 336.5px,#262627 337.5px,#dad69d 338.5px,#fefac2 339.5px,#ffeabc 341.5px,#ffc2d8 342.5px,#cd7b92 343.5px,#8a4695 344.5px,#6a2674 345.5px,#361f5c 346.5px,#16112e 348.5px,#03030b 352.5px,#010108 370.5px)"></i><i style="background:linear-gradient(90deg,#010108 0.5px,#040210 40.5px,#0e0c1a 41.5px,#010108 44.5px,#020206 61.5px,#0e0202 62.5px,#352921 63.5px,#d8c098 64.5px,#f5e0b6 65.5px,#f2d8ae 67.5px,#b17b63 69.5px,#e8cea5 70.5px,#f5dfb6 71.5px,#f1d2ae 72.5px,#d6ab89 73.5px,#a85d7b 74.5px,#823857 75.5px,#502661 76.5px,#1c0c37 79.5px,#140e15 80.5px,#181118 81.5px,#3d361a 82.5px,#d9d3b1 83.5px,#fbf5c6 84.5px,#f7e9bb 88.5px,#dfca9d 89.5px,#df9483 90.5px,#be7463 91.5px,#a55578 92.5px,#944468 93.5px,#733c74 94.5px,#251b3d 100.5px,#0e0c1c 105.5px,#010106 107.5px,#020109 125.5px,#050219 127.5px,#010108 136.5px,#04040d 177.5px,#140e34 178.5px,#090819 183.5px,#010108 192.5px,#010108 229.5px,#24001f 230.5px,#42143e 231.5px,#590c5a 232.5px,#530553 233.5px,#2f0950 234.5px,#05031b 238.5px,#010108 249.5px,#03020a 263.5px,#0a0818 265.5px,#010108 268.5px,#06000b 282.5px,#110916 283.5px,#791b6b 284.5px,#842575 285.5px,#762280 286.5px,#661270 287.5px,#3a1369 288.5px,#31095f 289.5px,#190f3d 290.5px,#040312 294.5px,#020103 336.5px,#252527 337.5px,#d4d098 338.5px,#f8f4bb 339.5px,#ffdcae 340.5px,#bc996b 341.5px,#a45369 342.5px,#812f46 343.5px,#581463 344.5px,#4a0554 345.5px,#210a47 346.5px,#030211 350.5px,#010108 370.5px)"></i><i style="background:linear-gradient(90deg,#010108 0.5px,#03020b 60.5px,#0a040d 63.5px,#34070c 64.5px,#2d070f 75.5px,#1c051d 77.5px,#070218 81.5px,#272122 82.5px,#bbb4b1 83.5px,#ded5bf 84.5px,#dcd2b8 89.5px,#dcc4af 90.5px,#946875 92.5px,#794c5a 93.5px,#332344 96.5px,#07060f 103.5px,#03030c 177.5px,#0e0a29 178.5px,#010108 186.5px,#02010b 229.5px,#150030 230.5px,#32164d 231.5px,#3f1270 232.5px,#390b6a 233.5px,#1f1246 234.5px,#050414 238.5px,#010108 273.5px,#070614 277.5px,#080008 282.5px,#160c17 283.5px,#a42c66 284.5px,#b23a75 285.5px,#a13686 286.5px,#8d2171 287.5px,#541b7c 288.5px,#460d6e 289.5px,#251450 290.5px,#1d0c48 291.5px,#100d2c 292.5px,#010108 299.5px,#030102 336.5px,#252224 337.5px,#d7be85 338.5px,#f9dfa6 339.5px,#f6d99c 341.5px,#ffb59f 342.5px,#c9745e 343.5px,#933589 344.5px,#76186b 345.5px,#381666 346.5px,#2c0a5a 347.5px,#140e33 348.5px,#020012 354.5px,#01010c 370.5px)"></i><i style="background:linear-gradient(90deg,#010108 0.5px,#040311 24.5px,#0d0c1a 25.5px,#010108 28.5px,#060109 62.5px,#1c161e 63.5px,#875a5d 64.5px,#99696b 66.5px,#8f626d 74.5px,#382647 78.5px,#1c1618 82.5px,#2c2527 83.5px,#291f0c 88.5px,#2d1508 91.5px,#2d0711 93.5px,#1b0520 95.5px,#02010e 101.5px,#03030b 177.5px,#0d0928 178.5px,#010108 186.5px,#01010b 229.5px,#160031 230.5px,#371a51 231.5px,#441675 232.5px,#3c0f6d 233.5px,#221549 234.5px,#060515 238.5px,#010108 271.5px,#080008 282.5px,#170d18 283.5px,#a62e68 284.5px,#b53c77 285.5px,#a33888 286.5px,#8f2373 287.5px,#551c7d 288.5px,#470d6f 289.5px,#251450 290.5px,#070618 294.5px,#010108 305.5px,#030102 336.5px,#252325 337.5px,#dbc289 338.5px,#fde4ab 339.5px,#ffe3a6 341.5px,#ffc1ab 342.5px,#cf7b64 343.5px,#96398c 344.5px,#781a6d 345.5px,#391867 346.5px,#2d0b5a 347.5px,#161035 348.5px,#090818 358.5px,#04040f 370.5px)"></i><i style="background:linear-gradient(90deg,#010108 0.5px,#05040c 17.5px,#110e20 18.5px,#03020a 23.5px,#04030f 25.5px,#04030b 37.5px,#0c0b18 38.5px,#010108 48.5px,#010106 61.5px,#230c0b 62.5px,#755e5a 63.5px,#9b6c66 64.5px,#44313a 71.5px,#361a17 75.5px,#270727 78.5px,#170526 81.5px,#2e2135 82.5px,#c2b5c3 83.5px,#ded9d1 84.5px,#d4d0be 91.5px,#b69394 92.5px,#7f5c60 93.5px,#553b5a 94.5px,#1d132d 97.5px,#030308 102.5px,#04030c 125.5px,#100c2b 126.5px,#010108 133.5px,#04040d 177.5px,#130e30 178.5px,#010108 186.5px,#03020a 195.5px,#0a0918 197.5px,#010108 201.5px,#050410 229.5px,#0e022a 230.5px,#231740 231.5px,#281753 232.5px,#23124d 233.5px,#161132 234.5px,#02020d 239.5px,#05000b 282.5px,#0e0714 283.5px,#611067 284.5px,#5e1776 286.5px,#520b6a 287.5px,#2e105a 288.5px,#250852 289.5px,#130c33 290.5px,#02010a 296.5px,#010108 335.5px,#020103 336.5px,#252426 337.5px,#d3cc93 338.5px,#f6efb6 339.5px,#f8efb1 341.5px,#ffd2ae 342.5px,#e6a27f 343.5px,#b14c95 344.5px,#8b256e 345.5px,#461d72 346.5px,#370e62 347.5px,#1a123a 348.5px,#04030e 352.5px,#010108 370.5px)"></i><i style="background:linear-gradient(90deg,#010108 0.5px,#04030b 33.5px,#0d0b19 34.5px,#010109 37.5px,#010106 61.5px,#331c1a 62.5px,#cfb8b1 63.5px,#f3d4cb 64.5px,#eedbde 71.5px,#e7dbd5 73.5px,#e0c3bb 74.5px,#9f7080 76.5px,#865667 77.5px,#462f54 80.5px,#3b2e41 82.5px,#423548 83.5px,#28261a 88.5px,#1e190e 91.5px,#26060a 93.5px,#1b0521 94.5px,#020109 101.5px,#0c0b13 107.5px,#03020e 111.5px,#03020b 125.5px,#0b0726 126.5px,#010108 133.5px,#03020b 177.5px,#0b0628 178.5px,#010108 187.5px,#01010c 229.5px,#1e0d49 232.5px,#1a0944 233.5px,#0e092a 234.5px,#010108 241.5px,#05000b 282.5px,#110a17 283.5px,#74247a 284.5px,#802f86 285.5px,#732d8c 286.5px,#621b7a 287.5px,#381b64 288.5px,#2e115a 289.5px,#1a133b 290.5px,#030310 295.5px,#02020d 320.5px,#090817 323.5px,#020103 336.5px,#272627 337.5px,#dcd59c 338.5px,#fff9c0 339.5px,#fff7b9 341.5px,#ffcaa6 342.5px,#c78360 343.5px,#a03a84 344.5px,#7f1a63 345.5px,#3f166a 346.5px,#32095d 347.5px,#160e36 348.5px,#02020c 352.5px,#010108 370.5px)"></i><i style="background:linear-gradient(90deg,#010108 0.5px,#03020e 10.5px,#03030b 19.5px,#0c0b18 20.5px,#010108 29.5px,#010108 54.5px,#060207 62.5px,#201c1f 63.5px,#845a61 64.5px,#96686f 66.5px,#9b6b6f 75.5px,#8a5f70 76.5px,#2f223d 80.5px,#443751 81.5px,#c2bfae 82.5px,#dddbc8 83.5px,#ded7c1 86.5px,#cec6b1 87.5px,#8e6764 89.5px,#482f50 92.5px,#161124 97.5px,#020206 107.5px,#04040c 125.5px,#130f28 126.5px,#010108 134.5px,#04030c 177.5px,#110931 178.5px,#010108 186.5px,#090817 193.5px,#010108 197.5px,#010108 229.5px,#24064b 232.5px,#02010d 238.5px,#020209 255.5px,#080716 259.5px,#010108 264.5px,#060009 282.5px,#180f1b 283.5px,#a43f7c 284.5px,#b54f8d 285.5px,#a44998 286.5px,#8d3180 287.5px,#552979 288.5px,#201146 291.5px,#0d0a25 293.5px,#010109 299.5px,#020203 336.5px,#262628 337.5px,#d7d89f 338.5px,#fbfcc4 339.5px,#fff4bf 342.5px,#f8e6b1 343.5px,#f78ca6 344.5px,#b84c66 345.5px,#6d2b88 346.5px,#551370 347.5px,#281750 348.5px,#090524 351.5px,#010010 359.5px,#01010c 370.5px)"></i><i style="background:linear-gradient(90deg,#010108 0.5px,#040211 22.5px,#0f0d1c 23.5px,#010108 26.5px,#070416 32.5px,#120f20 33.5px,#010009 35.5px,#050106 63.5px,#280609 64.5px,#34070a 71.5px,#270611 77.5px,#16041e 79.5px,#0d031c 81.5px,#121005 82.5px,#1b1407 87.5px,#2b0605 89.5px,#26061b 90.5px,#0d031f 95.5px,#010106 107.5px,#010109 125.5px,#030018 127.5px,#010108 140.5px,#05040d 177.5px,#160e36 178.5px,#0c0827 181.5px,#010108 186.5px,#010108 229.5px,#110027 230.5px,#332049 231.5px,#3d1f64 232.5px,#0a081d 237.5px,#010108 244.5px,#07000a 282.5px,#100713 283.5px,#76104e 284.5px,#7f1956 285.5px,#721665 286.5px,#650a59 287.5px,#390d5d 288.5px,#090521 292.5px,#03020a 299.5px,#02010c 303.5px,#020203 336.5px,#262628 337.5px,#d7d89f 338.5px,#fbfcc4 339.5px,#feecb6 342.5px,#e5d39d 343.5px,#d26680 344.5px,#a1354f 345.5px,#5e1d79 346.5px,#4b0a66 347.5px,#21114a 348.5px,#0f0b2a 351.5px,#04040f 370.5px)"></i><i style="background:linear-gradient(90deg,#010108 0.5px,#010108 17.5px,#010109 25.5px,#06001e 26.5px,#010109 40.5px,#03020f 43.5px,#010106 63.5px,#311d0e 64.5px,#c6b29e 65.5px,#f0cca7 66.5px,#eec4b5 69.5px,#e4bcad 70.5px,#836260 72.5px,#4a3941 74.5px,#1c180e 79.5px,#200b05 81.5px,#2c1711 82.5px,#634e46 83.5px,#785455 84.5px,#7c5051 89.5px,#8a414f 91.5px,#883b63 92.5px,#82365d 93.5px,#5f2a63 94.5px,#1d0d36 98.5px,#020106 106.5px,#02020d 129.5px,#02010a 177.5px,#06001e 179.5px,#010108 189.5px,#03020a 225.5px,#090817 227.5px,#010108 229.5px,#3b0d64 232.5px,#060320 237.5px,#010109 243.5px,#060610 281.5px,#1a1123 283.5px,#982d74 284.5px,#a53a81 285.5px,#95368e 286.5px,#81227a 287.5px,#4c1c79 288.5px,#3f0f6b 289.5px,#22154a 290.5px,#060616 294.5px,#090818 299.5px,#010108 304.5px,#020203 336.5px,#262628 337.5px,#d7d89f 338.5px,#fbfcc4 339.5px,#ffe8b4 340.5px,#c9ae7a 341.5px,#a9656c 342.5px,#864148 343.5px,#68195f 344.5px,#57084d 345.5px,#280a4d 346.5px,#0d072c 349.5px,#070614 357.5px,#03020c 370.5px)"></i><i style="background:linear-gradient(90deg,#010108 0.5px,#04040c 25.5px,#180e30 26.5px,#1b1134 29.5px,#0a0819 32.5px,#020109 41.5px,#010106 63.5px,#2a1508 64.5px,#9a8674 65.5px,#c39a76 66.5px,#be9571 67.5px,#8c5c51 69.5px,#8e655a 70.5px,#f1cdbd 71.5px,#f7e1db 72.5px,#f4e3e5 75.5px,#e1ddcc 79.5px,#bda999 81.5px,#ead5c8 82.5px,#f7e4d6 83.5px,#f4d6d3 88.5px,#edc0bd 89.5px,#be7580 91.5px,#92466c 93.5px,#713c75 94.5px,#2f1f48 98.5px,#010106 107.5px,#020209 141.5px,#070611 144.5px,#05040d 177.5px,#181130 178.5px,#0e0a21 181.5px,#010108 186.5px,#010108 229.5px,#18002e 230.5px,#422658 231.5px,#52237a 232.5px,#13102d 236.5px,#020109 242.5px,#070010 282.5px,#130a1c 283.5px,#8c2168 284.5px,#982e75 285.5px,#8a2a82 286.5px,#771870 287.5px,#451571 288.5px,#3a0a67 289.5px,#1e1146 290.5px,#050415 294.5px,#010108 327.5px,#020203 336.5px,#262628 337.5px,#d7d89f 338.5px,#fbfcc4 339.5px,#ffefba 341.5px,#ffd2d8 342.5px,#eba7ad 343.5px,#a8599f 344.5px,#7e2f75 345.5px,#422466 346.5px,#110b30 349.5px,#020112 353.5px,#01010a 370.5px)"></i><i style="background:linear-gradient(90deg,#010108 0.5px,#04030c 31.5px,#110e23 33.5px,#010109 36.5px,#0b090c 65.5px,#1f0b06 69.5px,#4d2b12 70.5px,#eac8a9 71.5px,#f7e9bd 72.5px,#f5dfbd 75.5px,#edbdb9 76.5px,#db9b98 77.5px,#a65f7e 79.5px,#875181 80.5px,#8a5485 81.5px,#cbb1b3 82.5px,#dcc2c4 83.5px,#d5c1ad 90.5px,#cab6a3 91.5px,#7f565e 93.5px,#472b4b 95.5px,#191626 98.5px,#020106 106.5px,#04030b 125.5px,#100d23 126.5px,#010108 135.5px,#05040e 177.5px,#170e3b 178.5px,#0b0728 181.5px,#02020a 184.5px,#010108 229.5px,#220029 230.5px,#461b4e 231.5px,#5d1372 232.5px,#540a69 233.5px,#300f5c 234.5px,#280753 235.5px,#130b33 236.5px,#01010d 241.5px,#05000c 282.5px,#100917 283.5px,#6f1f79 284.5px,#792a83 285.5px,#6e278a 286.5px,#5d167a 287.5px,#341863 288.5px,#2b0f5a 289.5px,#181238 290.5px,#02020a 296.5px,#010108 315.5px,#020103 336.5px,#272627 337.5px,#ddd49b 338.5px,#fff8bf 339.5px,#fff6ba 341.5px,#ffded1 342.5px,#ffcdc0 343.5px,#d37cb4 344.5px,#9a427b 345.5px,#562d76 346.5px,#401761 347.5px,#201740 348.5px,#040312 352.5px,#010108 370.5px)"></i><i style="background:linear-gradient(90deg,#010108 0.5px,#03020b 21.5px,#0f0d20 23.5px,#03020b 25.5px,#050311 27.5px,#0a0917 35.5px,#01010b 40.5px,#0c0a0d 65.5px,#0f0b0d 67.5px,#321e18 68.5px,#9e8a80 69.5px,#c3a184 70.5px,#d0af85 73.5px,#cea585 74.5px,#b18869 75.5px,#8e4e4e 77.5px,#7f3858 78.5px,#70294b 79.5px,#4f194b 81.5px,#3f252d 82.5px,#221207 89.5px,#270609 93.5px,#19051f 94.5px,#010108 102.5px,#010109 125.5px,#020010 128.5px,#05040e 177.5px,#160d3a 178.5px,#0b0728 181.5px,#02020a 184.5px,#010108 229.5px,#26002e 230.5px,#5f3466 231.5px,#792f8e 232.5px,#6b2180 233.5px,#3f1e6b 234.5px,#33125e 235.5px,#1c143d 236.5px,#03020f 241.5px,#05000c 282.5px,#0e0715 283.5px,#63146d 284.5px,#611a7e 286.5px,#540d70 287.5px,#2e125d 288.5px,#260a54 289.5px,#130d33 290.5px,#02010a 296.5px,#020103 336.5px,#252425 337.5px,#d2c990 338.5px,#f5ecb3 339.5px,#ecdea2 341.5px,#c88a7d 342.5px,#96594b 343.5px,#7d265e 344.5px,#650e46 345.5px,#340b55 346.5px,#0b022b 349.5px,#050413 352.5px,#020109 370.5px)"></i><i style="background:linear-gradient(90deg,#010108 0.5px,#050312 19.5px,#110e1f 20.5px,#020209 23.5px,#010108 25.5px,#1b1436 28.5px,#03030d 34.5px,#0e0c1a 36.5px,#040212 38.5px,#0f0d1d 39.5px,#040210 42.5px,#0d0b19 43.5px,#010108 47.5px,#010106 61.5px,#150804 63.5px,#441b0c 64.5px,#b0886c 65.5px,#d39b77 66.5px,#e19a88 71.5px,#d498a2 72.5px,#cf949d 73.5px,#663f60 77.5px,#2e1e3e 81.5px,#332024 83.5px,#350d14 85.5px,#140422 91.5px,#010107 105.5px,#03020e 154.5px,#0a0819 157.5px,#010108 160.5px,#050411 177.5px,#171038 178.5px,#0d0926 181.5px,#02020a 184.5px,#010108 229.5px,#200028 230.5px,#401748 231.5px,#55106a 232.5px,#4e0963 233.5px,#2c0d55 234.5px,#23044c 235.5px,#10082f 236.5px,#010109 242.5px,#05000c 282.5px,#100917 283.5px,#6f1e76 284.5px,#7a2981 285.5px,#6e2589 286.5px,#5e1578 287.5px,#341664 288.5px,#2b0e5b 289.5px,#181138 290.5px,#02020a 296.5px,#040006 336.5px,#262228 337.5px,#e2b4c3 338.5px,#ffd7e5 339.5px,#ffd4e4 341.5px,#ffc1d9 342.5px,#d890a9 343.5px,#974c9a 344.5px,#712774 345.5px,#39205e 346.5px,#2a1250 347.5px,#15112e 348.5px,#03030d 352.5px,#010107 370.5px)"></i><i style="background:linear-gradient(90deg,#010108 0.5px,#040211 18.5px,#030012 21.5px,#010108 25.5px,#0c0528 28.5px,#01010b 34.5px,#0e0c1b 40.5px,#010108 49.5px,#010106 61.5px,#261913 62.5px,#a2958b 63.5px,#d4ab8e 64.5px,#e8b08b 67.5px,#e6ad87 69.5px,#d7907e 70.5px,#a76050 71.5px,#7c404d 72.5px,#440f27 75.5px,#180524 79.5px,#100420 80.5px,#2a1a3a 81.5px,#b6a4a3 82.5px,#c7b4b3 83.5px,#966f72 85.5px,#503353 89.5px,#1c152c 95.5px,#010106 107.5px,#02010e 176.5px,#080714 177.5px,#0f072f 178.5px,#010109 185.5px,#010108 229.5px,#25002d 230.5px,#5e3566 231.5px,#77328c 232.5px,#69247d 233.5px,#3e1f67 234.5px,#0c0b20 238.5px,#010108 246.5px,#05000c 282.5px,#0f0815 283.5px,#691870 284.5px,#73227a 285.5px,#671e82 286.5px,#581073 287.5px,#311361 288.5px,#290b58 289.5px,#150f36 290.5px,#02010a 296.5px,#030005 336.5px,#100c12 337.5px,#673948 338.5px,#764454 341.5px,#833b54 342.5px,#7c344c 343.5px,#601663 344.5px,#500553 345.5px,#230a49 346.5px,#1a0140 347.5px,#090522 348.5px,#01010a 354.5px,#010107 370.5px)"></i><i style="background:linear-gradient(90deg,#010108 0.5px,#010108 3.5px,#1d0022 7.5px,#06001b 8.5px,#02000f 13.5px,#050212 20.5px,#100d1d 21.5px,#02020b 23.5px,#040310 28.5px,#0c0b18 29.5px,#010108 35.5px,#04040d 41.5px,#100c24 42.5px,#010108 46.5px,#010106 61.5px,#200a13 62.5px,#6b555c 63.5px,#8a5e69 64.5px,#8a5e6b 67.5px,#af5468 70.5px,#843252 73.5px,#4f1537 76.5px,#2c0721 81.5px,#120420 87.5px,#010106 107.5px,#03020b 177.5px,#08061f 179.5px,#010108 186.5px,#060513 193.5px,#010108 220.5px,#0a0919 223.5px,#010108 226.5px,#010108 229.5px,#12002e 230.5px,#30194c 231.5px,#3a176a 232.5px,#341164 233.5px,#1d1441 234.5px,#050413 238.5px,#06000a 282.5px,#120916 283.5px,#821d68 284.5px,#8d2873 285.5px,#7f247f 286.5px,#6e136e 287.5px,#3f126d 288.5px,#360963 289.5px,#1b0f41 290.5px,#040414 294.5px,#010108 321.5px,#030005 336.5px,#0e0a11 337.5px,#603042 338.5px,#6c364a 341.5px,#66194f 342.5px,#560a3f 343.5px,#2d0749 344.5px,#080025 347.5px,#01000d 350.5px,#000007 370.5px)"></i><i style="background:linear-gradient(90deg,#010108 0.5px,#010108 3.5px,#1c031b 4.5px,#50374f 5.5px,#603765 6.5px,#4d2452 7.5px,#211936 8.5px,#060612 10.5px,#0f0d1b 15.5px,#010109 18.5px,#01010a 41.5px,#100d24 43.5px,#010108 47.5px,#010106 61.5px,#340817 64.5px,#370b1b 67.5px,#561326 68.5px,#9f5c6c 69.5px,#be6376 70.5px,#985e7d 77.5px,#62425f 83.5px,#292035 88.5px,#03030a 98.5px,#02020a 153.5px,#080813 156.5px,#010108 174.5px,#03020b 177.5px,#0a0820 178.5px,#010108 187.5px,#010108 229.5px,#11002d 230.5px,#2a1446 231.5px,#341164 232.5px,#2e0b5f 233.5px,#190f3c 234.5px,#040312 238.5px,#06000a 282.5px,#140c18 283.5px,#902b76 284.5px,#9e3984 285.5px,#8f3590 286.5px,#7b217c 287.5px,#491c76 288.5px,#3c0f69 289.5px,#201547 290.5px,#060616 294.5px,#010108 310.5px,#040006 336.5px,#252127 337.5px,#dbacbd 338.5px,#fcccde 339.5px,#f6bfd3 341.5px,#94487d 343.5px,#553072 344.5px,#3e195b 345.5px,#20173d 346.5px,#080618 349.5px,#020209 370.5px)"></i><i style="background:linear-gradient(90deg,#010108 0.5px,#050212 18.5px,#100e1e 19.5px,#0b0a18 21.5px,#010108 27.5px,#0c0a1d 31.5px,#010109 36.5px,#100e1d 38.5px,#010108 41.5px,#010106 61.5px,#23231b 62.5px,#b9b9ac 63.5px,#dadac2 64.5px,#e0dec6 69.5px,#e0cdb7 70.5px,#aa7d7d 72.5px,#926566 73.5px,#7b5469 76.5px,#4d304f 79.5px,#594543 80.5px,#c6b2ac 81.5px,#e0cea4 82.5px,#d7c59d 87.5px,#c69485 88.5px,#915f52 89.5px,#6c3263 90.5px,#541b4c 91.5px,#2c1746 92.5px,#060510 96.5px,#04030c 125.5px,#120e25 126.5px,#010108 134.5px,#04030d 177.5px,#140b39 178.5px,#0a0627 181.5px,#02010a 184.5px,#010108 197.5px,#1e0026 201.5px,#0b0026 205.5px,#01000e 209.5px,#010108 229.5px,#0d0025 230.5px,#271a3f 231.5px,#2e1a56 232.5px,#281450 233.5px,#191334 234.5px,#03030e 239.5px,#05000c 282.5px,#0f0916 283.5px,#6a1a73 284.5px,#74247e 285.5px,#692185 286.5px,#5a1276 287.5px,#321561 288.5px,#290c58 289.5px,#161036 290.5px,#02010a 296.5px,#03020e 312.5px,#0a0819 315.5px,#010108 318.5px,#020103 336.5px,#252425 337.5px,#d2ca91 338.5px,#f5ecb3 339.5px,#f6ecae 341.5px,#ffd6b2 342.5px,#f8c29d 343.5px,#c862a2 344.5px,#963170 345.5px,#4d2375 346.5px,#3a1063 347.5px,#1b143b 348.5px,#04030e 352.5px,#010108 370.5px)"></i><i style="background:linear-gradient(90deg,#010108 0.5px,#060415 23.5px,#010108 27.5px,#110e1f 29.5px,#010108 35.5px,#040211 42.5px,#0d0c1a 43.5px,#01000b 46.5px,#050501 62.5px,#141205 68.5px,#2b060b 74.5px,#18051c 79.5px,#362121 80.5px,#d6c1bb 81.5px,#f7e8bd 82.5px,#f6e5bc 87.5px,#f1ccbb 88.5px,#ce9c8d 89.5px,#8e5584 90.5px,#6a3161 91.5px,#392453 92.5px,#080813 96.5px,#010108 112.5px,#010109 125.5px,#030017 127.5px,#010108 139.5px,#060513 143.5px,#010108 175.5px,#05040e 177.5px,#19103e 178.5px,#0e092b 181.5px,#03020b 184.5px,#010108 197.5px,#17021f 198.5px,#442f4c 199.5px,#5b3063 200.5px,#4c255a 203.5px,#261441 205.5px,#080816 208.5px,#010108 229.5px,#1b0642 232.5px,#16023e 233.5px,#0a0526 234.5px,#010109 241.5px,#05000c 282.5px,#0f0816 283.5px,#691a73 284.5px,#73247d 285.5px,#682184 286.5px,#591175 287.5px,#311561 288.5px,#290c58 289.5px,#150f36 290.5px,#02020a 296.5px,#020103 336.5px,#272627 337.5px,#ddd49b 338.5px,#fff8c0 339.5px,#fff7b9 341.5px,#ffd2ad 342.5px,#bd8662 343.5px,#9c3776 344.5px,#7c1757 345.5px,#3c1365 346.5px,#300658 347.5px,#130c32 348.5px,#02010c 352.5px,#010108 370.5px)"></i><i style="background:linear-gradient(90deg,#010108 0.5px,#010108 13.5px,#110e1f 15.5px,#010009 17.5px,#030112 27.5px,#0a0723 29.5px,#010109 34.5px,#040210 40.5px,#0d0c19 41.5px,#010108 45.5px,#030308 79.5px,#23131b 80.5px,#625258 81.5px,#7b5a5f 82.5px,#693a48 85.5px,#3d184a 89.5px,#0c091e 94.5px,#010106 109.5px,#02020a 125.5px,#080421 126.5px,#010108 134.5px,#05040d 177.5px,#160e37 178.5px,#0b0825 181.5px,#010109 185.5px,#010108 197.5px,#17021f 198.5px,#442f4c 199.5px,#5b3063 200.5px,#4c255a 203.5px,#261441 205.5px,#090815 208.5px,#010108 226.5px,#010108 229.5px,#1d0544 232.5px,#02010c 238.5px,#05000c 282.5px,#100916 283.5px,#6b1c76 284.5px,#762780 285.5px,#6b2488 286.5px,#5b1478 287.5px,#321661 288.5px,#290d59 289.5px,#171137 290.5px,#02020a 296.5px,#02010c 331.5px,#020103 336.5px,#262628 337.5px,#d7d79f 338.5px,#fcfcc3 339.5px,#f2ebaf 341.5px,#df7c86 342.5px,#a6424c 343.5px,#672079 344.5px,#520a63 345.5px,#24104b 346.5px,#1a0641 347.5px,#0b0822 348.5px,#01010a 354.5px,#010108 370.5px)"></i><i style="background:linear-gradient(90deg,#010108 0.5px,#010108 25.5px,#100d28 28.5px,#010108 36.5px,#030308 71.5px,#010106 79.5px,#2d1d25 80.5px,#c7b7ba 81.5px,#f4d7d7 82.5px,#f4d5d6 83.5px,#ecbcc6 84.5px,#bf909b 85.5px,#9c628a 86.5px,#522d5e 89.5px,#1e1536 93.5px,#0a0917 97.5px,#010108 110.5px,#04030c 125.5px,#110d2a 126.5px,#010108 133.5px,#04030d 177.5px,#110a33 178.5px,#080523 181.5px,#010109 185.5px,#010108 197.5px,#1e0026 201.5px,#0b0026 205.5px,#01010a 210.5px,#010108 229.5px,#0e0025 230.5px,#2a1b41 231.5px,#321b59 232.5px,#2c1553 233.5px,#0c0b1e 236.5px,#010108 244.5px,#05000c 282.5px,#0f0815 283.5px,#661770 284.5px,#6f207a 285.5px,#641d81 286.5px,#560f73 287.5px,#2f145f 288.5px,#270b56 289.5px,#150f35 290.5px,#02010a 296.5px,#020103 336.5px,#262628 337.5px,#d6d79e 338.5px,#fbfbc2 339.5px,#fbf4b8 341.5px,#ffabb5 342.5px,#c9656f 343.5px,#803992 344.5px,#621a73 345.5px,#2e1a55 346.5px,#220e49 347.5px,#100d27 348.5px,#03030d 352.5px,#010108 370.5px)"></i><i style="background:linear-gradient(90deg,#010108 0.5px,#04030c 15.5px,#0f0d1b 16.5px,#04040c 19.5px,#100e1d 20.5px,#010109 24.5px,#04030f 27.5px,#040107 61.5px,#350f23 63.5px,#b36970 64.5px,#c77c83 65.5px,#b86880 66.5px,#974761 67.5px,#6f3163 68.5px,#3b184e 70.5px,#0a041c 75.5px,#06020c 80.5px,#1e1922 81.5px,#734e61 82.5px,#82586b 84.5px,#6a445b 87.5px,#291f3a 90.5px,#05050c 96.5px,#03020b 104.5px,#03020b 107.5px,#020109 125.5px,#030017 127.5px,#010108 146.5px,#01000c 167.5px,#03030b 177.5px,#0e0b26 178.5px,#010108 186.5px,#010108 229.5px,#18103a 232.5px,#02020b 238.5px,#05000c 282.5px,#0f0916 283.5px,#671d78 284.5px,#712782 285.5px,#561677 287.5px,#30185d 288.5px,#280f54 289.5px,#161135 290.5px,#02020a 296.5px,#020103 336.5px,#252325 337.5px,#d2c78e 338.5px,#f4e9b0 339.5px,#f5e9ab 341.5px,#ffd0a3 343.5px,#ffa8ca 344.5px,#bc6385 345.5px,#713789 346.5px,#551b6d 347.5px,#291a4c 348.5px,#08061c 351.5px,#02010c 356.5px,#01010a 370.5px)"></i><i style="background:linear-gradient(90deg,#010108 0.5px,#03030b 39.5px,#03020f 41.5px,#030106 60.5px,#100d12 61.5px,#623c4e 62.5px,#714b5d 63.5px,#984e56 64.5px,#9a4a63 67.5px,#87497b 68.5px,#7b3d6f 69.5px,#5b376c 70.5px,#161220 77.5px,#0b0610 81.5px,#250615 82.5px,#230616 87.5px,#09031b 91.5px,#010106 102.5px,#04030b 125.5px,#100d24 126.5px,#010108 135.5px,#03030a 161.5px,#0d0b1d 163.5px,#010108 172.5px,#02020a 177.5px,#080520 178.5px,#010108 188.5px,#010108 229.5px,#160e38 232.5px,#02020a 238.5px,#05000c 282.5px,#0d0714 283.5px,#5a106b 284.5px,#581778 286.5px,#4d0c6d 287.5px,#2a1157 288.5px,#21094e 289.5px,#110c2f 290.5px,#02010a 296.5px,#020103 336.5px,#272527 337.5px,#ded39a 338.5px,#fff7be 339.5px,#fff7b9 341.5px,#ffdcaf 342.5px,#c49467 343.5px,#a1486a 344.5px,#7d2446 345.5px,#4b1162 346.5px,#3d0355 347.5px,#18093b 348.5px,#030117 351.5px,#010109 368.5px,#03030c 370.5px)"></i><i style="background:linear-gradient(90deg,#010108 0.5px,#04030b 25.5px,#0d0c1a 26.5px,#050213 28.5px,#120f1f 29.5px,#010109 31.5px,#02010b 45.5px,#0a0409 62.5px,#1e191c 63.5px,#956c5b 64.5px,#b28978 65.5px,#b78b6e 69.5px,#b49e7b 70.5px,#f0dab4 71.5px,#eeeec0 72.5px,#efe2b6 74.5px,#b68372 76.5px,#966354 77.5px,#8a4458 78.5px,#783247 79.5px,#602455 80.5px,#381e3b 82.5px,#39203c 83.5px,#2a2622 84.5px,#18160a 89.5px,#290609 93.5px,#15041d 97.5px,#010108 111.5px,#03030c 125.5px,#0e0b27 126.5px,#010108 133.5px,#04030b 177.5px,#0f0c22 178.5px,#010108 188.5px,#020209 223.5px,#070611 226.5px,#010108 229.5px,#160030 230.5px,#35174e 231.5px,#421372 232.5px,#3b0c6b 233.5px,#201248 234.5px,#050414 238.5px,#010108 261.5px,#05000a 282.5px,#140d19 283.5px,#86367c 284.5px,#94458a 285.5px,#86428c 286.5px,#712e78 287.5px,#462669 288.5px,#100e24 292.5px,#010108 299.5px,#010108 335.5px,#030103 336.5px,#262425 337.5px,#dac78e 338.5px,#fdeab1 339.5px,#ffeaac 341.5px,#ffccaa 342.5px,#d88d6b 343.5px,#9e3f8e 344.5px,#7b1b6a 345.5px,#391865 346.5px,#2c0b58 347.5px,#130f2f 348.5px,#02020a 352.5px,#010108 370.5px)"></i><i style="background:linear-gradient(90deg,#010108 0.5px,#03020d 23.5px,#050212 32.5px,#100e1d 33.5px,#010109 35.5px,#03020a 54.5px,#090308 63.5px,#542b1c 64.5px,#eec5b1 65.5px,#f6e1c2 66.5px,#f9f0c9 71.5px,#faf3c7 74.5px,#f9efc3 75.5px,#f3d3c1 76.5px,#ecbaa8 77.5px,#ad677a 79.5px,#8c507f 80.5px,#7b3f6f 81.5px,#705671 82.5px,#d3b9d1 83.5px,#dcd9cf 84.5px,#d6d5c2 89.5px,#cdb4a4 90.5px,#956a71 92.5px,#7f555d 93.5px,#332242 98.5px,#010106 108.5px,#03020b 125.5px,#0a0623 126.5px,#010108 134.5px,#010109 177.5px,#020112 180.5px,#010108 229.5px,#170031 230.5px,#371a51 231.5px,#441574 232.5px,#3d0e6d 233.5px,#211449 234.5px,#050514 238.5px,#010108 258.5px,#0b0410 283.5px,#54044a 284.5px,#4f0b56 286.5px,#47034e 287.5px,#27064a 288.5px,#050319 292.5px,#010108 305.5px,#03020e 310.5px,#0b091b 313.5px,#010108 315.5px,#030103 336.5px,#252325 337.5px,#d7c48b 338.5px,#f9e6ad 339.5px,#f7e0a3 341.5px,#ffbf9d 342.5px,#cf8462 343.5px,#993a89 344.5px,#771867 345.5px,#361663 346.5px,#2a0957 347.5px,#110d2d 348.5px,#02010a 352.5px,#010108 370.5px)"></i><i style="background:linear-gradient(90deg,#010108 0.5px,#02020d 13.5px,#03020e 18.5px,#04030c 35.5px,#0f0c1d 36.5px,#080516 37.5px,#120e28 38.5px,#010109 41.5px,#020104 62.5px,#222223 63.5px,#bcbca5 64.5px,#e7e6ce 65.5px,#eee9cf 69.5px,#f8eabe 72.5px,#f5dfb6 74.5px,#e6bb93 75.5px,#b6726f 76.5px,#8f4c4a 77.5px,#6b2d51 78.5px,#3a143d 80.5px,#310b34 81.5px,#380b10 82.5px,#3a0c0b 85.5px,#250824 89.5px,#04030e 99.5px,#04030d 177.5px,#110934 178.5px,#080424 181.5px,#02010a 184.5px,#01000e 229.5px,#180035 230.5px,#391a56 231.5px,#481577 232.5px,#400d6f 233.5px,#23144d 234.5px,#1b0c44 235.5px,#0f0c28 236.5px,#010108 243.5px,#04000c 282.5px,#0b0513 283.5px,#490a67 284.5px,#45116e 286.5px,#3d0866 287.5px,#200f4a 288.5px,#050416 292.5px,#010108 306.5px,#020103 336.5px,#262628 337.5px,#d6d79e 338.5px,#fbfbc2 339.5px,#ffd7b6 340.5px,#d1916f 341.5px,#a14391 342.5px,#7d1f6d 343.5px,#3b1a66 344.5px,#2c0c58 345.5px,#130e2f 346.5px,#02020a 350.5px,#010108 370.5px)"></i><i style="background:linear-gradient(90deg,#010108 0.5px,#020010 37.5px,#0c0821 39.5px,#03030b 40.5px,#040406 63.5px,#201f0b 66.5px,#1e1908 68.5px,#332e1a 69.5px,#b2956f 70.5px,#d0b38b 71.5px,#d8ad85 75.5px,#e19d99 76.5px,#d89490 77.5px,#ab6d8f 78.5px,#8d4f72 79.5px,#674169 80.5px,#633d64 81.5px,#996c6f 82.5px,#a97b76 84.5px,#a47671 85.5px,#523450 89.5px,#161023 95.5px,#010106 107.5px,#05040e 177.5px,#180f3a 178.5px,#0d0929 181.5px,#03020b 184.5px,#020209 227.5px,#080715 229.5px,#1e003a 230.5px,#391a56 231.5px,#471476 232.5px,#3f0d6f 233.5px,#22134c 234.5px,#1a0b44 235.5px,#0e0b27 236.5px,#010108 243.5px,#04000c 282.5px,#0d0816 283.5px,#591a77 284.5px,#622381 285.5px,#491472 287.5px,#291853 288.5px,#21104b 289.5px,#13102f 290.5px,#020109 296.5px,#020103 336.5px,#262628 337.5px,#d7d79f 338.5px,#fcfcc3 339.5px,#ffd7b5 340.5px,#cb8a69 341.5px,#983a88 342.5px,#771967 343.5px,#371662 344.5px,#2a0a55 345.5px,#110d2d 346.5px,#020109 350.5px,#010108 370.5px)"></i><i style="background:linear-gradient(90deg,#010108 0.5px,#030011 15.5px,#03020e 22.5px,#120e26 25.5px,#05040d 26.5px,#04030b 29.5px,#0d0b19 30.5px,#010109 34.5px,#0e0c1a 36.5px,#010108 40.5px,#050501 62.5px,#0f0f08 63.5px,#362c10 64.5px,#b8ae8e 65.5px,#dcc39a 66.5px,#c4ac84 67.5px,#a4796d 68.5px,#885d53 69.5px,#866e5a 70.5px,#dfc7b0 71.5px,#eee0b2 72.5px,#f1d0ab 75.5px,#f0c7bf 76.5px,#eec0b9 77.5px,#d899af 78.5px,#a6677e 79.5px,#79477d 80.5px,#633269 81.5px,#603857 82.5px,#9a728e 83.5px,#ad8081 84.5px,#a2767a 90.5px,#8d6166 91.5px,#684867 92.5px,#2c1b40 95.5px,#07070e 100.5px,#03020b 125.5px,#090524 126.5px,#010108 134.5px,#03020a 177.5px,#0b091b 179.5px,#010108 189.5px,#020109 229.5px,#120028 230.5px,#34214a 231.5px,#3f1f66 232.5px,#0a081e 237.5px,#010108 244.5px,#06000a 282.5px,#0c0511 283.5px,#5f0647 284.5px,#5a0d58 286.5px,#52054f 287.5px,#2d084f 288.5px,#06031c 292.5px,#010108 302.5px,#020103 336.5px,#262628 337.5px,#d8d79f 338.5px,#fbfac1 339.5px,#ffcfac 340.5px,#bb805d 341.5px,#93347c 342.5px,#74155d 343.5px,#35145d 344.5px,#290751 345.5px,#120a2c 346.5px,#01000d 351.5px,#010108 370.5px)"></i><i style="background:linear-gradient(90deg,#010108 0.5px,#050213 14.5px,#120f1f 15.5px,#010109 17.5px,#050118 24.5px,#0c0920 25.5px,#01000a 27.5px,#010106 61.5px,#23231b 62.5px,#babaad 63.5px,#eae0be 64.5px,#f4eac8 65.5px,#f6e5bb 67.5px,#f4d7c8 69.5px,#f7e5cd 71.5px,#f5e6b9 73.5px,#e6be99 74.5px,#ba916e 75.5px,#87524e 77.5px,#793a53 78.5px,#682943 79.5px,#4e1c54 80.5px,#3a1332 82.5px,#391131 83.5px,#3c0e13 84.5px,#2c0608 91.5px,#230625 92.5px,#140528 95.5px,#02010d 98.5px,#04030c 125.5px,#110d2b 126.5px,#010108 133.5px,#010109 177.5px,#01010a 183.5px,#010108 229.5px,#27074d 232.5px,#030117 237.5px,#010108 245.5px,#02020d 253.5px,#06000b 282.5px,#170f1b 283.5px,#953c7d 284.5px,#a54c8d 285.5px,#954893 286.5px,#7f327c 287.5px,#4e2970 288.5px,#1e1140 291.5px,#080716 294.5px,#010108 310.5px,#020103 336.5px,#262627 337.5px,#d7d69e 338.5px,#fbfbc2 339.5px,#ffdfbb 340.5px,#ecb18d 341.5px,#b658a0 342.5px,#8e3078 343.5px,#4a2972 344.5px,#391760 345.5px,#1c1536 346.5px,#060517 349.5px,#010108 370.5px)"></i><i style="background:linear-gradient(90deg,#010108 0.5px,#02020a 23.5px,#090817 25.5px,#010108 36.5px,#060207 62.5px,#201c20 63.5px,#865c62 64.5px,#986b71 66.5px,#9d6b70 69.5px,#be6569 70.5px,#b65f6c 72.5px,#81354f 75.5px,#461b4e 78.5px,#411649 79.5px,#30282c 80.5px,#25110a 85.5px,#2c060d 87.5px,#170522 90.5px,#010109 103.5px,#03030b 125.5px,#0e0c1f 127.5px,#010108 133.5px,#060513 166.5px,#04030f 177.5px,#140d34 178.5px,#0a0723 181.5px,#010109 185.5px,#010108 229.5px,#180030 230.5px,#3b1d53 231.5px,#4a1878 232.5px,#410f6f 233.5px,#24154d 234.5px,#060616 238.5px,#010108 250.5px,#03020a 281.5px,#171027 283.5px,#611875 284.5px,#5e1d81 286.5px,#501073 287.5px,#2c1559 288.5px,#230d50 289.5px,#130e31 290.5px,#02010a 296.5px,#020203 336.5px,#262628 337.5px,#d7d89f 338.5px,#fbfcc4 339.5px,#ffe2b4 343.5px,#ffc1d3 344.5px,#d58c9e 345.5px,#8c4a93 346.5px,#67256e 347.5px,#321e55 348.5px,#120f28 350.5px,#03020c 354.5px,#010108 370.5px)"></i><i style="background:linear-gradient(90deg,#010108 0.5px,#040211 26.5px,#0d0b19 27.5px,#010108 31.5px,#05040d 39.5px,#120f20 40.5px,#010108 43.5px,#050105 63.5px,#270506 64.5px,#2f0706 68.5px,#44131b 69.5px,#b55c60 70.5px,#c56c70 71.5px,#b1647d 75.5px,#9a5884 76.5px,#6a3f71 78.5px,#764b7c 79.5px,#c9c1c0 80.5px,#dfd7d5 81.5px,#dad7ca 83.5px,#d5c1b3 84.5px,#9b7078 86.5px,#835861 87.5px,#322143 92.5px,#06060d 102.5px,#010109 125.5px,#010109 131.5px,#04030f 177.5px,#100930 178.5px,#010108 186.5px,#03020e 200.5px,#0a091a 203.5px,#010108 206.5px,#010108 229.5px,#17002f 230.5px,#36184e 231.5px,#441372 232.5px,#3e0c6b 233.5px,#22124b 234.5px,#1a0a43 235.5px,#0d0a27 236.5px,#010108 243.5px,#010108 281.5px,#0f071f 283.5px,#5f1673 284.5px,#5d1d80 286.5px,#500f73 287.5px,#2c1559 288.5px,#230d50 289.5px,#130e31 290.5px,#02010a 296.5px,#0a0818 299.5px,#010108 302.5px,#020203 336.5px,#262628 337.5px,#d7d89f 338.5px,#fbfcc4 339.5px,#fbfabd 341.5px,#ffe0b2 342.5px,#c5a577 343.5px,#9f5668 344.5px,#793042 345.5px,#54125b 346.5px,#45034c 347.5px,#1c0840 348.5px,#06041c 350.5px,#010109 358.5px,#010108 370.5px)"></i><i style="background:linear-gradient(90deg,#010108 0.5px,#03020e 24.5px,#03020e 38.5px,#0b0a1c 41.5px,#010108 47.5px,#010106 67.5px,#24100f 68.5px,#826e69 69.5px,#a87a7b 70.5px,#906364 71.5px,#422747 75.5px,#1c1527 79.5px,#242213 84.5px,#181607 89.5px,#28060f 93.5px,#19051e 95.5px,#02010b 103.5px,#04030c 177.5px,#120e25 178.5px,#010108 187.5px,#010108 229.5px,#20002f 230.5px,#4d275c 231.5px,#622185 232.5px,#561579 233.5px,#30175e 234.5px,#270e55 235.5px,#151033 236.5px,#02020e 241.5px,#02020a 253.5px,#080716 255.5px,#010108 261.5px,#050010 282.5px,#130c1e 283.5px,#5d1776 284.5px,#5a1d81 286.5px,#4d0f74 287.5px,#2a1557 288.5px,#210d4e 289.5px,#130e30 290.5px,#02010a 296.5px,#020010 335.5px,#020104 336.5px,#272628 337.5px,#ded39b 338.5px,#fff8bf 339.5px,#ffeeb7 340.5px,#edd098 341.5px,#d06290 342.5px,#9f315f 343.5px,#521e78 344.5px,#3f0c65 345.5px,#1a113b 346.5px,#040316 349.5px,#010108 370.5px)"></i><i style="background:linear-gradient(90deg,#010108 0.5px,#04020f 18.5px,#0c0b18 19.5px,#010108 23.5px,#050214 26.5px,#151124 28.5px,#080417 29.5px,#0a0819 31.5px,#010108 34.5px,#01000c 43.5px,#010106 67.5px,#310707 71.5px,#29071d 72.5px,#0d0518 79.5px,#090610 80.5px,#28252e 81.5px,#bfbdac 82.5px,#dedccb 83.5px,#dcdac4 89.5px,#dbc7b6 90.5px,#ac9989 91.5px,#8e6471 92.5px,#744a59 93.5px,#332343 96.5px,#070710 103.5px,#010108 145.5px,#0b0a16 148.5px,#010108 154.5px,#010109 177.5px,#030017 179.5px,#010108 196.5px,#020209 223.5px,#070613 225.5px,#010108 229.5px,#1e002e 230.5px,#441f54 231.5px,#59177c 232.5px,#4f0e72 233.5px,#2c135a 234.5px,#230a51 235.5px,#120d30 236.5px,#02010d 241.5px,#0a091a 245.5px,#010108 248.5px,#04000f 282.5px,#0d0718 283.5px,#5a1372 284.5px,#581a7e 286.5px,#4b0d72 287.5px,#281455 288.5px,#200c4d 289.5px,#120d2f 290.5px,#02020a 296.5px,#03020a 333.5px,#0a0919 335.5px,#040305 336.5px,#252326 337.5px,#d2c78f 338.5px,#f4eab1 339.5px,#ffe4ac 340.5px,#f1d49c 341.5px,#d46694 342.5px,#a03160 343.5px,#531f78 344.5px,#3f0c65 345.5px,#1a113c 346.5px,#040316 349.5px,#010108 370.5px)"></i><i style="background:linear-gradient(90deg,#010108 0.5px,#05040d 19.5px,#100d21 20.5px,#010109 23.5px,#05040d 29.5px,#100e1d 30.5px,#010108 33.5px,#020104 69.5px,#2e0814 70.5px,#866069 71.5px,#b2667a 72.5px,#af6479 77.5px,#9b5a80 78.5px,#623467 81.5px,#262333 88.5px,#030308 100.5px,#010108 229.5px,#13002e 230.5px,#2d1448 231.5px,#381168 232.5px,#320b62 233.5px,#1b1040 234.5px,#040312 238.5px,#05000b 282.5px,#100916 283.5px,#721d72 284.5px,#7d277d 285.5px,#712486 286.5px,#601376 287.5px,#371567 288.5px,#2e0c5e 289.5px,#18113a 290.5px,#040413 294.5px,#01000f 301.5px,#030103 336.5px,#262325 337.5px,#ddc48b 338.5px,#ffe7ae 339.5px,#ffe3a6 341.5px,#ffadac 342.5px,#c16261 343.5px,#7a2e8a 344.5px,#5d126d 345.5px,#281651 346.5px,#1d0b46 347.5px,#0c0a23 348.5px,#010108 353.5px,#010108 370.5px)"></i><i style="background:linear-gradient(90deg,#010108 0.5px,#03020a 12.5px,#040115 20.5px,#04040c 25.5px,#100e21 26.5px,#01010a 29.5px,#050212 34.5px,#100e1e 35.5px,#010109 37.5px,#030307 63.5px,#100e11 69.5px,#350f1c 70.5px,#6e4852 71.5px,#93475c 72.5px,#8e4359 77.5px,#311643 82.5px,#05020e 95.5px,#050511 188.5px,#010108 229.5px,#14002f 230.5px,#321a4d 231.5px,#3e176e 232.5px,#360f66 233.5px,#1f1444 234.5px,#050514 238.5px,#010108 268.5px,#05000b 282.5px,#100916 283.5px,#741e74 284.5px,#7e297e 285.5px,#722588 286.5px,#621477 287.5px,#371568 288.5px,#2f0d5f 289.5px,#19113b 290.5px,#040413 294.5px,#070615 301.5px,#010108 308.5px,#030103 336.5px,#242224 337.5px,#d5bc83 338.5px,#f6dda4 339.5px,#f3d497 341.5px,#f99a99 342.5px,#b55655 343.5px,#732883 344.5px,#590e69 345.5px,#25144f 346.5px,#1b0944 347.5px,#0b0922 348.5px,#010108 353.5px,#010108 370.5px)"></i><i style="background:linear-gradient(90deg,#010108 0.5px,#01000e 13.5px,#03020f 18.5px,#0c0b18 22.5px,#010109 34.5px,#040104 62.5px,#221e21 63.5px,#ce9c95 64.5px,#ebbab2 65.5px,#eab0ab 66.5px,#b67f89 68.5px,#ecb7bf 69.5px,#f3d6c4 71.5px,#f3d7b2 73.5px,#f2d1b7 75.5px,#f2cfd3 78.5px,#e7c3c8 79.5px,#864b6f 81.5px,#6e5072 82.5px,#d5b8d5 83.5px,#e0d8d6 84.5px,#d6d3c5 89.5px,#c4a5a2 90.5px,#90706f 91.5px,#553451 93.5px,#1e182e 96.5px,#020208 103.5px,#050512 178.5px,#010108 229.5px,#140c35 232.5px,#02010a 238.5px,#05000c 282.5px,#110a18 283.5px,#70257d 284.5px,#7b3088 285.5px,#5e1d7a 287.5px,#361c61 288.5px,#2c1257 289.5px,#1a1439 290.5px,#02020a 296.5px,#020103 336.5px,#252426 337.5px,#d4cb92 338.5px,#f6eeb5 339.5px,#ffdaa8 340.5px,#c7a16f 341.5px,#ad4d72 342.5px,#85244a 343.5px,#491368 344.5px,#3a0459 345.5px,#160b38 346.5px,#050418 349.5px,#020109 370.5px)"></i><i style="background:linear-gradient(90deg,#010108 0.5px,#04030e 11.5px,#0d0c1a 12.5px,#010108 16.5px,#03020d 30.5px,#04030c 35.5px,#0d0c1a 36.5px,#010108 39.5px,#0a0915 41.5px,#010108 51.5px,#040104 62.5px,#151114 63.5px,#804f4a 64.5px,#905e59 65.5px,#945553 67.5px,#7d4652 69.5px,#775548 70.5px,#b99787 71.5px,#cca480 72.5px,#c2937b 74.5px,#aa7b64 75.5px,#68434d 79.5px,#5b2146 81.5px,#402245 82.5px,#422447 83.5px,#30282c 85.5px,#211e16 89.5px,#29090c 91.5px,#230621 92.5px,#070218 97.5px,#010106 109.5px,#010108 229.5px,#1a123c 232.5px,#02020b 238.5px,#05000c 282.5px,#0c0613 283.5px,#550a62 284.5px,#51116e 286.5px,#480864 287.5px,#270d52 288.5px,#20054b 289.5px,#0f092e 290.5px,#010109 296.5px,#020103 336.5px,#262627 337.5px,#dcd39a 338.5px,#fff7bf 339.5px,#ffe3b0 341.5px,#f998be 342.5px,#b25177 343.5px,#642f83 344.5px,#4a1469 345.5px,#211743 346.5px,#060419 349.5px,#01010a 360.5px,#010108 370.5px)"></i><i style="background:linear-gradient(90deg,#010108 0.5px,#020109 5.5px,#04001a 7.5px,#010108 21.5px,#04040c 23.5px,#0f0d1d 24.5px,#020109 31.5px,#050214 40.5px,#110e20 41.5px,#010109 43.5px,#050106 61.5px,#27060d 62.5px,#310813 65.5px,#2f0711 67.5px,#461124 68.5px,#ab7686 69.5px,#c68797 70.5px,#bc7d8e 71.5px,#633e70 74.5px,#261c3c 78.5px,#05050b 86.5px,#020209 125.5px,#02020c 129.5px,#04030c 177.5px,#100832 178.5px,#010108 186.5px,#010108 229.5px,#12002f 230.5px,#2d154a 231.5px,#371269 232.5px,#310c63 233.5px,#1b113f 234.5px,#050515 238.5px,#010108 253.5px,#05000c 282.5px,#0f0917 283.5px,#691e79 284.5px,#732984 285.5px,#672688 286.5px,#581678 287.5px,#31185e 288.5px,#280f55 289.5px,#171135 290.5px,#02020a 296.5px,#03020a 327.5px,#0a0919 329.5px,#040002 336.5px,#262223 337.5px,#e5b780 338.5px,#ffd8a1 339.5px,#ffc398 341.5px,#da75a8 342.5px,#a13c6f 343.5px,#532778 344.5px,#3e1163 345.5px,#1b143b 346.5px,#030212 350.5px,#010109 370.5px)"></i><i style="background:linear-gradient(90deg,#010108 0.5px,#05040d 5.5px,#17112d 6.5px,#010108 14.5px,#040212 34.5px,#0b0a18 36.5px,#060413 37.5px,#131025 38.5px,#010108 44.5px,#040105 60.5px,#130f14 61.5px,#744a57 62.5px,#885866 64.5px,#743f50 69.5px,#66273b 71.5px,#551b48 72.5px,#160d2d 78.5px,#0a0816 82.5px,#100f12 92.5px,#010108 120.5px,#05040e 177.5px,#170f38 178.5px,#0c0927 181.5px,#02020a 184.5px,#010108 229.5px,#13002f 230.5px,#2f174c 231.5px,#39146b 232.5px,#330e65 233.5px,#1c1341 234.5px,#050414 238.5px,#010108 258.5px,#080712 267.5px,#05000c 282.5px,#0d0714 283.5px,#5a106b 284.5px,#571678 286.5px,#4c0b6d 287.5px,#2a1157 288.5px,#21094f 289.5px,#110c30 290.5px,#02010a 296.5px,#010108 335.5px,#040002 336.5px,#221e20 337.5px,#d1a36c 338.5px,#efc18a 339.5px,#f6b086 340.5px,#ca855a 341.5px,#a64074 342.5px,#821d50 343.5px,#401465 344.5px,#320557 345.5px,#130b33 346.5px,#070616 351.5px,#02020a 370.5px)"></i><i style="background:linear-gradient(90deg,#010108 0.5px,#02010a 5.5px,#040019 7.5px,#010108 17.5px,#0d091f 20.5px,#010108 23.5px,#06011b 31.5px,#110c2c 33.5px,#040313 34.5px,#050213 40.5px,#100e1e 41.5px,#010108 48.5px,#0d090b 63.5px,#2b0906 64.5px,#2b0713 67.5px,#100420 70.5px,#070511 78.5px,#06050f 81.5px,#24231e 82.5px,#b9b9ae 83.5px,#dadac3 84.5px,#dadac2 91.5px,#dbc9b7 92.5px,#a08d7e 93.5px,#755368 94.5px,#58374c 95.5px,#372747 96.5px,#0b0a14 100.5px,#010108 113.5px,#080716 117.5px,#010108 123.5px,#03020b 177.5px,#090622 178.5px,#010108 187.5px,#010108 229.5px,#1b002e 230.5px,#3c194e 231.5px,#4e1273 232.5px,#460a6c 233.5px,#261052 234.5px,#1f084a 235.5px,#0f0b2c 236.5px,#010108 242.5px,#04000c 282.5px,#0e0816 283.5px,#5f1b79 284.5px,#692583 285.5px,#4e1475 287.5px,#2c1857 288.5px,#24104f 289.5px,#151031 290.5px,#020209 296.5px,#050002 336.5px,#231f20 337.5px,#dca46e 338.5px,#fac38c 339.5px,#fcbd83 341.5px,#ff9b9d 342.5px,#ca6063 343.5px,#7b328c 344.5px,#5e146f 345.5px,#281750 346.5px,#1d0c45 347.5px,#0d0b24 348.5px,#02010e 355.5px,#010109 370.5px)"></i><i style="background:linear-gradient(90deg,#010108 0.5px,#05040d 5.5px,#151029 6.5px,#02020a 12.5px,#050411 19.5px,#120f25 20.5px,#010108 23.5px,#060216 26.5px,#1c1434 28.5px,#0b0727 33.5px,#070515 35.5px,#070205 62.5px,#2a2526 63.5px,#b08e80 64.5px,#b29083 65.5px,#7c5261 67.5px,#3d2e4c 70.5px,#090714 78.5px,#070602 82.5px,#131305 89.5px,#1a0804 93.5px,#1e0513 95.5px,#140526 97.5px,#02010b 100.5px,#02020a 125.5px,#050510 128.5px,#04030c 177.5px,#0e0b28 178.5px,#010108 186.5px,#010108 229.5px,#1e0030 230.5px,#4a275c 231.5px,#5e2283 232.5px,#521678 233.5px,#2e185a 234.5px,#250f50 235.5px,#141031 236.5px,#020109 242.5px,#04000c 282.5px,#0b0613 283.5px,#500c6a 284.5px,#4c1373 286.5px,#43096a 287.5px,#24104f 288.5px,#1c0847 289.5px,#0f0a2b 290.5px,#010108 297.5px,#050002 336.5px,#231f20 337.5px,#dca56e 338.5px,#fbc38d 339.5px,#fabb81 341.5px,#ee8587 342.5px,#b34a4c 343.5px,#6c237d 344.5px,#540b65 345.5px,#23124b 346.5px,#180740 347.5px,#0a0820 348.5px,#02020b 367.5px,#02020a 370.5px)"></i><i style="background:linear-gradient(90deg,#010108 0.5px,#010108 9.5px,#141029 12.5px,#06021a 14.5px,#120e26 15.5px,#070515 16.5px,#04030b 23.5px,#0e0a21 24.5px,#03020e 28.5px,#0e0c1b 31.5px,#05040e 33.5px,#100d1d 34.5px,#010108 37.5px,#090814 39.5px,#03030b 43.5px,#0b0a17 44.5px,#010108 49.5px,#010106 61.5px,#23231b 62.5px,#babaae 63.5px,#e5e3c9 64.5px,#dcdbc3 73.5px,#ddc8b7 74.5px,#9d8879 75.5px,#724e64 76.5px,#492f50 78.5px,#2a1a26 82.5px,#2e1f2a 83.5px,#2a180d 86.5px,#27060b 89.5px,#1b0521 90.5px,#020108 98.5px,#040410 125.5px,#06021f 127.5px,#010108 133.5px,#03030c 177.5px,#0e082c 178.5px,#010108 186.5px,#010108 229.5px,#350c5d 232.5px,#06031d 237.5px,#010108 244.5px,#03020e 257.5px,#04000c 282.5px,#0c0714 283.5px,#56106f 284.5px,#54177b 286.5px,#480b6f 287.5px,#271254 288.5px,#1f0a4c 289.5px,#110c2e 290.5px,#02010a 296.5px,#040002 336.5px,#262123 337.5px,#e6b57e 338.5px,#ffd6a0 339.5px,#ffc6a9 340.5px,#f7a789 341.5px,#b0539f 342.5px,#832673 343.5px,#3d1f67 344.5px,#2d0f57 345.5px,#14102e 346.5px,#02020a 350.5px,#010108 370.5px)"></i><i style="background:linear-gradient(90deg,#010108 0.5px,#010108 9.5px,#100d23 11.5px,#010109 22.5px,#120e25 25.5px,#03010e 28.5px,#050501 62.5px,#221f0d 67.5px,#20200e 73.5px,#261107 75.5px,#28071c 76.5px,#1a0a29 81.5px,#372833 82.5px,#b7a8af 83.5px,#d7c4b8 84.5px,#d2c0af 87.5px,#bd9a9c 88.5px,#8c686c 89.5px,#4b3150 91.5px,#181423 94.5px,#020207 102.5px,#040310 125.5px,#130f2d 126.5px,#010108 133.5px,#03020a 171.5px,#090817 173.5px,#01000a 176.5px,#04040d 177.5px,#130d31 178.5px,#010108 186.5px,#010108 229.5px,#16002b 230.5px,#3c2452 231.5px,#4a2272 232.5px,#110f29 236.5px,#010108 243.5px,#04000c 282.5px,#0e0816 283.5px,#5e1876 284.5px,#5c2083 286.5px,#4e1175 287.5px,#2b1658 288.5px,#230e50 289.5px,#140f31 290.5px,#02010a 296.5px,#040002 336.5px,#221e1f 337.5px,#d1a069 338.5px,#eebd87 339.5px,#f6a689 340.5px,#bc6c4f 341.5px,#8a2d79 342.5px,#6c0f5c 343.5px,#30115a 344.5px,#24054e 345.5px,#0d0927 346.5px,#010109 351.5px,#010108 370.5px)"></i><i style="background:linear-gradient(90deg,#02010a 0.5px,#050314 12.5px,#16112c 15.5px,#02020b 21.5px,#010106 63.5px,#262210 64.5px,#bbb79f 65.5px,#e0d8aa 66.5px,#e1d7a9 71.5px,#eec8a2 73.5px,#eab3ae 74.5px,#d19390 75.5px,#9a5473 77.5px,#7b4777 78.5px,#855180 79.5px,#d2c4b2 80.5px,#efe1ce 81.5px,#f5e7b9 82.5px,#f9f0c0 87.5px,#f5debd 89.5px,#f1cbce 90.5px,#915576 93.5px,#6c4670 94.5px,#2a1e3e 98.5px,#010106 107.5px,#020209 125.5px,#030210 129.5px,#010109 177.5px,#01010a 183.5px,#010108 229.5px,#12002e 230.5px,#301a4c 231.5px,#3a186b 232.5px,#341164 233.5px,#1e1441 234.5px,#09071f 237.5px,#030210 241.5px,#04000f 282.5px,#0d0718 283.5px,#561475 284.5px,#551b7f 286.5px,#480f72 287.5px,#271553 288.5px,#1f0d4b 289.5px,#120e2e 290.5px,#020109 296.5px,#010108 335.5px,#050002 336.5px,#231e20 337.5px,#d5a36c 338.5px,#f3c08a 339.5px,#ffb386 340.5px,#de9265 341.5px,#a74189 342.5px,#811b62 343.5px,#3b1569 344.5px,#100135 347.5px,#05001d 354.5px,#01000f 370.5px)"></i><i style="background:linear-gradient(90deg,#01010a 0.5px,#030011 13.5px,#01000d 19.5px,#03020f 38.5px,#0a0915 44.5px,#010108 51.5px,#010106 63.5px,#2b2714 64.5px,#d5d1b8 65.5px,#fbf6c6 66.5px,#f9efc0 71.5px,#e9c29c 72.5px,#bc9471 73.5px,#a66866 74.5px,#8e504f 75.5px,#7e3857 76.5px,#6e2848 77.5px,#531f50 78.5px,#4b1849 79.5px,#524436 80.5px,#c3b5a3 81.5px,#dfd2a4 82.5px,#e5d5a6 87.5px,#e0be9e 88.5px,#ac8b6c 89.5px,#8c5c62 90.5px,#724249 91.5px,#53173a 93.5px,#200932 96.5px,#02010e 103.5px,#03020e 164.5px,#03020e 167.5px,#03020a 177.5px,#0b091a 179.5px,#020109 187.5px,#010108 229.5px,#321063 232.5px,#2d0a5d 233.5px,#180e3b 234.5px,#040217 238.5px,#010108 249.5px,#050010 282.5px,#100a1b 283.5px,#541172 284.5px,#51177b 286.5px,#460c70 287.5px,#261352 288.5px,#1e0c4a 289.5px,#100c2c 290.5px,#010109 297.5px,#02020d 322.5px,#090817 325.5px,#010108 329.5px,#050002 336.5px,#252022 337.5px,#e2b079 338.5px,#ffd099 339.5px,#ffc397 340.5px,#f3a77b 341.5px,#b34d95 342.5px,#872269 343.5px,#40196d 344.5px,#25164a 346.5px,#090818 368.5px,#080716 370.5px)"></i><i style="background:linear-gradient(90deg,#010108 0.5px,#03030b 13.5px,#0b0a18 14.5px,#02010d 17.5px,#02000f 21.5px,#03020f 32.5px,#0b0a17 33.5px,#010109 37.5px,#0b081d 39.5px,#100e1f 41.5px,#02010a 43.5px,#010106 63.5px,#25251d 64.5px,#c5c5b8 65.5px,#e9e9cf 66.5px,#eae5ca 70.5px,#dad5bb 71.5px,#a78476 73.5px,#7f525e 75.5px,#372443 80.5px,#392645 81.5px,#4e4647 82.5px,#cfc6c3 83.5px,#ebe6cb 84.5px,#e3dec4 85.5px,#cea99d 86.5px,#a27e73 87.5px,#6e455c 89.5px,#312141 92.5px,#05050c 100.5px,#010109 125.5px,#01000f 129.5px,#03020e 156.5px,#0b091b 159.5px,#010108 161.5px,#01000d 167.5px,#05040d 177.5px,#160f35 178.5px,#0b0824 181.5px,#010109 185.5px,#010108 229.5px,#150031 230.5px,#34194f 231.5px,#401571 232.5px,#390e6b 233.5px,#1f1446 234.5px,#050413 238.5px,#010108 269.5px,#04000c 282.5px,#0d0715 283.5px,#58106e 284.5px,#56177b 286.5px,#4a0b6f 287.5px,#281255 288.5px,#200a4d 289.5px,#110c2f 290.5px,#020109 296.5px,#050002 336.5px,#252022 337.5px,#e3ab75 338.5px,#ffc993 339.5px,#ffa194 340.5px,#c45f52 341.5px,#7d2b81 342.5px,#600f65 343.5px,#291351 344.5px,#0f0b2a 346.5px,#03020e 352.5px,#020109 370.5px)"></i><i style="background:linear-gradient(90deg,#010108 0.5px,#040214 18.5px,#100e1d 20.5px,#010108 23.5px,#0e0c1a 26.5px,#010108 30.5px,#04040c 37.5px,#0f0c21 38.5px,#010108 45.5px,#050501 64.5px,#231e0a 71.5px,#331008 73.5px,#21092a 78.5px,#170524 81.5px,#150c10 82.5px,#1d1518 83.5px,#1f1a08 85.5px,#2f0a07 87.5px,#300820 88.5px,#100421 93.5px,#010106 104.5px,#03030b 125.5px,#100d21 127.5px,#010108 133.5px,#03020a 163.5px,#0c0b1c 165.5px,#010108 170.5px,#03020c 177.5px,#0e072d 178.5px,#010108 186.5px,#010108 229.5px,#150030 230.5px,#31164d 231.5px,#3d126e 232.5px,#370c68 233.5px,#1e1244 234.5px,#040413 238.5px,#010108 281.5px,#0e0816 283.5px,#621b78 284.5px,#6c2482 285.5px,#521377 287.5px,#2d175a 288.5px,#240e52 289.5px,#151032 290.5px,#02020a 296.5px,#050002 336.5px,#221d1f 337.5px,#d59d67 338.5px,#f3ba84 339.5px,#ff9f91 340.5px,#d46f62 341.5px,#8c3b91 342.5px,#6b1a70 343.5px,#301a58 344.5px,#100b2a 346.5px,#04030f 352.5px,#020109 370.5px)"></i><i style="background:linear-gradient(90deg,#010108 0.5px,#03020f 12.5px,#0d0b1a 15.5px,#020209 19.5px,#040211 32.5px,#0e0c1a 33.5px,#010109 35.5px,#020013 43.5px,#010106 67.5px,#23231b 68.5px,#b9b9ac 69.5px,#dadac2 70.5px,#dbd6bf 78.5px,#ccc7af 79.5px,#a18071 81.5px,#a57b72 89.5px,#513756 92.5px,#1d182b 96.5px,#030308 104.5px,#020109 177.5px,#05001c 179.5px,#010108 189.5px,#010108 229.5px,#0d002a 230.5px,#241441 231.5px,#2a135a 232.5px,#250e54 233.5px,#150f34 234.5px,#02020e 239.5px,#05000c 282.5px,#0f0816 283.5px,#671973 284.5px,#71237d 285.5px,#662084 286.5px,#571175 287.5px,#30155f 288.5px,#280c57 289.5px,#150f35 290.5px,#020109 296.5px,#050002 336.5px,#231e20 337.5px,#da9e68 338.5px,#f8bc86 339.5px,#ffa987 341.5px,#ee92b6 342.5px,#bf6387 343.5px,#703c85 344.5px,#511d66 345.5px,#261949 346.5px,#07051f 349.5px,#01010d 358.5px,#01010a 370.5px)"></i><i style="background:linear-gradient(90deg,#010108 0.5px,#050212 36.5px,#100e1e 37.5px,#010109 39.5px,#100d21 43.5px,#010109 45.5px,#050501 68.5px,#121305 75.5px,#151005 79.5px,#330b07 82.5px,#2f0606 89.5px,#17051e 93.5px,#01010a 101.5px,#020209 125.5px,#050510 128.5px,#05040d 177.5px,#16102d 178.5px,#010108 186.5px,#010108 229.5px,#0d002a 230.5px,#241441 231.5px,#2b135a 232.5px,#250e55 233.5px,#151035 234.5px,#02020e 239.5px,#05000c 282.5px,#0f0816 283.5px,#671973 284.5px,#71237d 285.5px,#662084 286.5px,#571175 287.5px,#30155f 288.5px,#280c57 289.5px,#150f35 290.5px,#020109 296.5px,#080813 311.5px,#050002 336.5px,#231e20 337.5px,#dea26c 338.5px,#fcc08b 339.5px,#ffab89 340.5px,#c6704e 341.5px,#95395d 342.5px,#761a3d 343.5px,#420e57 344.5px,#150838 346.5px,#080817 352.5px,#03030c 370.5px)"></i><i style="background:linear-gradient(90deg,#010108 0.5px,#05040d 11.5px,#16102e 12.5px,#150f2d 13.5px,#05040c 14.5px,#060513 23.5px,#040211 30.5px,#0d0c1a 31.5px,#03030c 33.5px,#0d0b1d 34.5px,#010108 41.5px,#020107 79.5px,#251411 80.5px,#918079 81.5px,#c48d81 82.5px,#da8c83 85.5px,#d6867f 87.5px,#bb6577 88.5px,#953f53 89.5px,#672858 90.5px,#321242 92.5px,#07021a 97.5px,#010106 109.5px,#04040d 125.5px,#140d37 126.5px,#160f39 127.5px,#02020f 131.5px,#03020a 177.5px,#0c0a1c 179.5px,#010108 188.5px,#010108 229.5px,#1c0845 232.5px,#180441 233.5px,#0b0627 234.5px,#010108 241.5px,#05000c 282.5px,#0f0816 283.5px,#671a75 284.5px,#71247f 285.5px,#662185 286.5px,#571276 287.5px,#30165f 288.5px,#280d57 289.5px,#161035 290.5px,#02020a 296.5px,#010108 335.5px,#070002 336.5px,#20181b 337.5px,#d97a50 338.5px,#f2936a 339.5px,#f58083 340.5px,#ca5457 341.5px,#782d89 342.5px,#5b106d 343.5px,#26164d 344.5px,#1a0a41 345.5px,#0b0920 346.5px,#020109 352.5px,#010108 370.5px)"></i><i style="background:linear-gradient(90deg,#010108 0.5px,#04030c 11.5px,#090321 12.5px,#010109 15.5px,#090815 37.5px,#010108 48.5px,#040307 68.5px,#0d0c0f 73.5px,#06040a 79.5px,#190806 81.5px,#460f0a 82.5px,#915a50 83.5px,#b2635c 84.5px,#b2625c 87.5px,#b15c6e 88.5px,#ae586b 89.5px,#935482 90.5px,#814271 91.5px,#5b3a69 92.5px,#211b33 96.5px,#04040a 104.5px,#04040d 125.5px,#150d37 126.5px,#160f39 127.5px,#02020f 131.5px,#03020a 155.5px,#03020d 157.5px,#010108 229.5px,#0c0025 230.5px,#26193f 231.5px,#2d1956 232.5px,#281351 233.5px,#191335 234.5px,#03020d 239.5px,#05000c 282.5px,#0e0815 283.5px,#641772 284.5px,#6d207b 285.5px,#621d82 286.5px,#540f74 287.5px,#2e145d 288.5px,#260c55 289.5px,#140e33 290.5px,#02010a 296.5px,#070002 336.5px,#221a1d 337.5px,#e18259 338.5px,#fc9d73 339.5px,#fc878a 340.5px,#c54f52 341.5px,#722884 342.5px,#580d69 343.5px,#23144b 344.5px,#180840 345.5px,#0a081f 346.5px,#010108 352.5px,#010108 370.5px)"></i><i style="background:linear-gradient(90deg,#010108 0.5px,#050213 10.5px,#110e1f 11.5px,#010109 13.5px,#04030b 29.5px,#0d0b19 30.5px,#0b091c 35.5px,#010108 38.5px,#0b0201 64.5px,#1c0c05 67.5px,#3d2d11 68.5px,#d3c3a2 69.5px,#f4e5b8 70.5px,#f2e2b5 71.5px,#eec6a0 72.5px,#cea37d 73.5px,#c67072 74.5px,#ac565a 75.5px,#8e446e 76.5px,#813761 77.5px,#471f5e 80.5px,#471d4f 82.5px,#754c7b 83.5px,#875475 85.5px,#80526a 91.5px,#2e2042 96.5px,#020206 106.5px,#05040d 125.5px,#150f32 126.5px,#08061c 129.5px,#010108 137.5px,#03030b 177.5px,#0d0a28 178.5px,#010108 186.5px,#010108 229.5px,#0d0028 230.5px,#281943 231.5px,#2f185c 232.5px,#2a1357 233.5px,#191338 234.5px,#03020f 239.5px,#060610 247.5px,#06000b 282.5px,#120a17 283.5px,#7f2273 284.5px,#8a2e7f 285.5px,#7e2b89 286.5px,#6c1978 287.5px,#3e176d 288.5px,#340d63 289.5px,#1b1240 290.5px,#050413 294.5px,#010108 313.5px,#080002 336.5px,#20171a 337.5px,#da6d4c 338.5px,#f28564 339.5px,#fa7c6e 340.5px,#ea6c5e 341.5px,#933b90 342.5px,#6f176c 343.5px,#2f185a 344.5px,#220b4d 345.5px,#0f0b2c 346.5px,#020113 352.5px,#01010b 370.5px)"></i><i style="background:linear-gradient(90deg,#010108 0.5px,#02000e 31.5px,#120e24 33.5px,#010108 38.5px,#08070b 63.5px,#2c231c 64.5px,#b2a89d 65.5px,#d4c4ad 66.5px,#e5d5a9 71.5px,#eec59f 72.5px,#d4a983 73.5px,#cd7779 74.5px,#b25c60 75.5px,#944974 76.5px,#863b66 77.5px,#4a2362 80.5px,#4c2254 83.5px,#40102a 88.5px,#070219 99.5px,#010108 111.5px,#03020b 125.5px,#0c0629 126.5px,#01010b 132.5px,#03030b 177.5px,#0d0927 178.5px,#010108 187.5px,#010108 229.5px,#240d51 232.5px,#1f074b 233.5px,#100a2e 234.5px,#010109 240.5px,#06000b 282.5px,#110a16 283.5px,#7b1f70 284.5px,#862a7b 285.5px,#7a2785 286.5px,#681574 287.5px,#3b156b 288.5px,#320b61 289.5px,#1a113e 290.5px,#040413 294.5px,#05050e 307.5px,#03020a 313.5px,#0b0a1a 316.5px,#010108 321.5px,#080003 336.5px,#21171b 337.5px,#de7150 338.5px,#f68968 339.5px,#fb7d6f 340.5px,#db5d4f 341.5px,#893286 342.5px,#6a1267 343.5px,#2c1557 344.5px,#130f2f 346.5px,#04030e 370.5px)"></i><i style="background:linear-gradient(90deg,#010108 0.5px,#01010a 13.5px,#0b0820 15.5px,#010109 17.5px,#03020d 23.5px,#010108 31.5px,#0a081a 33.5px,#01000c 36.5px,#04040c 41.5px,#0f0d1f 42.5px,#020109 45.5px,#010106 61.5px,#200912 62.5px,#695257 63.5px,#8b5b65 64.5px,#92656c 71.5px,#3a2245 77.5px,#2c1434 80.5px,#493150 81.5px,#dbb7bb 82.5px,#f3d3d7 83.5px,#f0cacb 87.5px,#b2707f 89.5px,#7e3e6e 91.5px,#3d2259 94.5px,#0c0a1d 101.5px,#010106 109.5px,#010108 196.5px,#010108 229.5px,#21114d 232.5px,#1c0c48 233.5px,#100c2d 234.5px,#010108 240.5px,#04000c 282.5px,#0a0513 283.5px,#450a64 284.5px,#3a0961 287.5px,#1e0e47 288.5px,#050416 292.5px,#010108 307.5px,#090209 336.5px,#272027 337.5px,#ea986c 338.5px,#ffb488 339.5px,#ff9a89 340.5px,#c65a49 341.5px,#87286e 342.5px,#6b0c52 343.5px,#2d0f54 344.5px,#220349 345.5px,#0c0826 346.5px,#02010b 351.5px,#03030b 361.5px,#0b091a 363.5px,#01010a 367.5px,#020012 370.5px)"></i><i style="background:linear-gradient(90deg,#010108 0.5px,#040211 10.5px,#0f0d1c 11.5px,#03030c 13.5px,#0d0a22 14.5px,#0d0b22 15.5px,#03030b 16.5px,#010108 31.5px,#0c0a1c 33.5px,#01010a 35.5px,#040114 42.5px,#010106 61.5px,#30070d 64.5px,#2d071c 73.5px,#0f0420 79.5px,#1f0727 80.5px,#563e5c 81.5px,#76525a 82.5px,#7c565b 87.5px,#894858 88.5px,#7d3c4d 89.5px,#6c2c5c 90.5px,#21143d 96.5px,#020206 106.5px,#020209 125.5px,#050510 128.5px,#010108 229.5px,#0a0025 230.5px,#20153b 231.5px,#251551 232.5px,#20104c 233.5px,#130f30 234.5px,#020109 240.5px,#04000c 282.5px,#0d0816 283.5px,#561b74 284.5px,#5f247d 285.5px,#46156e 287.5px,#281750 288.5px,#080719 292.5px,#010108 303.5px,#070611 319.5px,#060006 336.5px,#1f181f 337.5px,#cf7d51 338.5px,#e8966a 339.5px,#f68a79 340.5px,#eb7f6e 341.5px,#b7589e 342.5px,#8c2d73 343.5px,#412268 344.5px,#161230 346.5px,#03020c 350.5px,#03030c 367.5px,#0c0b1d 370.5px)"></i><i style="background:linear-gradient(90deg,#010108 0.5px,#03020e 43.5px,#010106 61.5px,#270e11 63.5px,#8b3a4a 64.5px,#944663 67.5px,#8b7562 68.5px,#e5cfb8 69.5px,#ebebbd 70.5px,#eee8ba 72.5px,#e0daac 73.5px,#a68164 75.5px,#743b4f 78.5px,#652c40 79.5px,#551d51 80.5px,#4d1c54 82.5px,#703f76 83.5px,#6f4a6a 88.5px,#281d3b 94.5px,#020206 106.5px,#04030c 125.5px,#0e0b28 126.5px,#010108 133.5px,#03030b 177.5px,#0e0c21 178.5px,#010108 188.5px,#010108 229.5px,#090023 230.5px,#21134b 232.5px,#1c0e46 233.5px,#110d2c 234.5px,#02010c 240.5px,#03000f 282.5px,#0b0716 283.5px,#2f095b 284.5px,#260852 287.5px,#130c34 288.5px,#02010a 294.5px,#080003 336.5px,#1e1418 337.5px,#d35a46 338.5px,#e8705b 339.5px,#e46667 340.5px,#c44748 341.5px,#7d2675 342.5px,#620b5b 343.5px,#291052 344.5px,#100d26 348.5px,#04040f 370.5px)"></i><i style="background:linear-gradient(90deg,#010108 0.5px,#03020d 23.5px,#05040d 27.5px,#110e1e 28.5px,#010108 31.5px,#04030c 39.5px,#0e0c1b 40.5px,#010108 47.5px,#010106 61.5px,#250c0f 62.5px,#7b6263 63.5px,#b76774 64.5px,#a25470 66.5px,#a65875 67.5px,#ddc7b1 68.5px,#f6e1c9 69.5px,#f5f5c6 71.5px,#f7f1c3 73.5px,#f4dcbc 75.5px,#f4d5d0 76.5px,#f2cec9 77.5px,#dda4b3 78.5px,#ad7486 79.5px,#713a6c 81.5px,#370d34 86.5px,#0a051e 96.5px,#010106 108.5px,#03020b 125.5px,#0a0724 126.5px,#010108 134.5px,#020109 177.5px,#030112 180.5px,#010108 229.5px,#20134b 232.5px,#040315 237.5px,#010108 277.5px,#090615 283.5px,#381264 284.5px,#2f115c 287.5px,#1b143c 288.5px,#030311 293.5px,#080003 336.5px,#20161b 337.5px,#e06753 338.5px,#f77f6a 339.5px,#f7797a 340.5px,#eb6e6f 341.5px,#9e4797 342.5px,#782271 343.5px,#351c5f 344.5px,#120d30 346.5px,#020014 351.5px,#01010c 370.5px)"></i><i style="background:linear-gradient(90deg,#010108 0.5px,#03020d 26.5px,#0f0d1d 29.5px,#03020d 32.5px,#0d0b19 38.5px,#050218 40.5px,#0e0b21 41.5px,#01000a 43.5px,#0a070c 63.5px,#110f13 69.5px,#44211a 70.5px,#c19d92 71.5px,#e5a394 72.5px,#d28375 73.5px,#a24e5c 75.5px,#581c43 79.5px,#39213a 80.5px,#3a223a 81.5px,#2b2721 82.5px,#181608 87.5px,#230508 89.5px,#17051e 90.5px,#010107 98.5px,#03020a 161.5px,#0b0a1a 164.5px,#010108 169.5px,#04030c 177.5px,#110d2b 178.5px,#010108 186.5px,#010108 229.5px,#1d1047 232.5px,#190b42 233.5px,#090624 235.5px,#010108 240.5px,#080716 245.5px,#010108 251.5px,#02010b 259.5px,#04000c 282.5px,#0a0513 283.5px,#490865 284.5px,#3e0865 287.5px,#200e4a 288.5px,#190743 289.5px,#0d0928 290.5px,#010108 297.5px,#080002 336.5px,#1f1519 337.5px,#d76249 338.5px,#eb765d 339.5px,#d15880 340.5px,#a93057 341.5px,#531f77 342.5px,#3f0c64 343.5px,#191139 344.5px,#060518 347.5px,#020109 370.5px)"></i><i style="background:linear-gradient(90deg,#010108 0.5px,#01000d 39.5px,#110d24 41.5px,#01000a 43.5px,#070509 69.5px,#320f08 70.5px,#8e6b61 71.5px,#bf7163 72.5px,#bc6e61 73.5px,#bb6774 74.5px,#9e6287 78.5px,#84496e 79.5px,#70586f 80.5px,#dec6d9 81.5px,#ebe8db 82.5px,#e0ddc9 87.5px,#856367 89.5px,#452d4b 91.5px,#13111d 94.5px,#040309 99.5px,#020209 125.5px,#02020d 129.5px,#02020a 177.5px,#080321 178.5px,#010108 188.5px,#010108 229.5px,#090023 230.5px,#1e1538 231.5px,#23154c 232.5px,#1d1047 233.5px,#070718 236.5px,#010108 243.5px,#04000c 282.5px,#0e0916 283.5px,#5d1d79 284.5px,#672783 285.5px,#4d1774 287.5px,#2c1956 288.5px,#23114d 289.5px,#151131 290.5px,#020209 296.5px,#080002 336.5px,#20171b 337.5px,#e06a52 338.5px,#f57f67 339.5px,#da6188 340.5px,#ac335b 341.5px,#542078 342.5px,#400c64 343.5px,#191139 344.5px,#040317 347.5px,#010108 370.5px)"></i><i style="background:linear-gradient(90deg,#010108 0.5px,#02010b 61.5px,#1d0814 62.5px,#5e4952 63.5px,#7a4f5f 64.5px,#6c4457 67.5px,#472e43 70.5px,#4a373f 72.5px,#27221b 79.5px,#4b3d25 80.5px,#dfd1b4 81.5px,#fbf9c8 82.5px,#f7edc0 89.5px,#f2d2b8 90.5px,#e3b198 91.5px,#ba6c87 92.5px,#954663 93.5px,#67326d 94.5px,#371953 96.5px,#0a061d 101.5px,#010106 109.5px,#010108 120.5px,#010109 177.5px,#030018 179.5px,#010108 193.5px,#010108 229.5px,#370d5f 232.5px,#090621 236.5px,#010108 244.5px,#05000c 282.5px,#0f0816 283.5px,#661a75 284.5px,#70247f 285.5px,#652186 286.5px,#561277 287.5px,#30165e 288.5px,#270d55 289.5px,#151034 290.5px,#02010d 296.5px,#090004 336.5px,#1d1219 337.5px,#d54e51 338.5px,#e96365 339.5px,#e85a6f 340.5px,#d34459 341.5px,#792b85 342.5px,#5c0e68 343.5px,#24144d 344.5px,#190841 345.5px,#0a081e 346.5px,#010108 352.5px,#010108 370.5px)"></i><i style="background:linear-gradient(90deg,#010108 0.5px,#03030b 13.5px,#03020f 15.5px,#03020f 22.5px,#04040c 24.5px,#03030a 39.5px,#03020e 41.5px,#03020a 58.5px,#0a0913 61.5px,#17040e 63.5px,#2f0716 64.5px,#230622 69.5px,#3f273b 70.5px,#d5bdcc 71.5px,#f1dee1 72.5px,#e0dbce 79.5px,#d7c9ac 81.5px,#f2efbf 82.5px,#f6ecc0 88.5px,#e2d8ac 89.5px,#d3a188 90.5px,#ad7b63 91.5px,#9f516d 92.5px,#8c3e5b 93.5px,#67336e 94.5px,#261b40 98.5px,#010106 107.5px,#03020a 125.5px,#090818 127.5px,#020209 135.5px,#04040c 177.5px,#130f28 178.5px,#010108 187.5px,#010108 229.5px,#17002c 230.5px,#3f2554 231.5px,#4d2375 232.5px,#120f2a 236.5px,#020108 242.5px,#05000c 282.5px,#0e0815 283.5px,#621671 284.5px,#601c80 286.5px,#520f73 287.5px,#2d145c 288.5px,#250b54 289.5px,#140e33 290.5px,#03020f 295.5px,#090004 336.5px,#1d1118 337.5px,#d0494c 338.5px,#e45d60 339.5px,#e6586d 340.5px,#da4b60 341.5px,#7f318b 342.5px,#60126c 343.5px,#27164f 344.5px,#1b0a43 345.5px,#0b091f 346.5px,#010108 351.5px,#010108 370.5px)"></i><i style="background:linear-gradient(90deg,#010108 0.5px,#05040d 23.5px,#100d20 24.5px,#020014 28.5px,#03020a 39.5px,#03020a 58.5px,#0a0913 61.5px,#040206 62.5px,#1c1a1c 63.5px,#a18978 64.5px,#baa290 65.5px,#c7ae97 71.5px,#c5a293 72.5px,#a88477 73.5px,#805764 75.5px,#45304f 79.5px,#58424b 80.5px,#bda8ad 81.5px,#ecbaac 82.5px,#e8aba1 85.5px,#cf8a9d 86.5px,#b46e83 87.5px,#834f77 89.5px,#41284e 93.5px,#100e1d 101.5px,#010106 109.5px,#03020a 125.5px,#0a091a 127.5px,#010108 135.5px,#05040e 177.5px,#160f38 178.5px,#0c0826 181.5px,#02020a 184.5px,#010108 229.5px,#1c133e 232.5px,#02020b 238.5px,#04000c 282.5px,#0b0513 283.5px,#4d0a67 284.5px,#4a1170 286.5px,#420967 287.5px,#230f4e 288.5px,#1c0746 289.5px,#0e0a2a 290.5px,#010109 296.5px,#080007 336.5px,#1a0f19 337.5px,#b93a68 338.5px,#ca4b79 339.5px,#b84d8d 340.5px,#b24787 341.5px,#723d82 342.5px,#541f64 343.5px,#271a46 344.5px,#0c0b1d 346.5px,#040410 350.5px,#010108 370.5px)"></i><i style="background:linear-gradient(90deg,#010108 0.5px,#01010a 23.5px,#110f23 28.5px,#070517 32.5px,#110f21 33.5px,#010109 35.5px,#050206 63.5px,#1e0704 64.5px,#330f08 73.5px,#1f0b2b 78.5px,#230e2f 79.5px,#27111c 80.5px,#39232d 81.5px,#965b50 82.5px,#a8665e 84.5px,#a26159 85.5px,#874258 86.5px,#6e2940 87.5px,#4f1b45 88.5px,#1c062b 92.5px,#02010c 103.5px,#03020a 159.5px,#0a0919 161.5px,#010108 164.5px,#04030d 177.5px,#120a34 178.5px,#090523 181.5px,#010109 185.5px,#010108 229.5px,#160d39 232.5px,#02010a 238.5px,#03020e 254.5px,#03020e 257.5px,#03020a 271.5px,#0c0b1c 273.5px,#010108 279.5px,#0e0916 283.5px,#601d79 284.5px,#6a2783 285.5px,#501775 287.5px,#2d1958 288.5px,#24104f 289.5px,#151132 290.5px,#02020a 296.5px,#080007 336.5px,#180d17 337.5px,#ae2e5d 338.5px,#b83866 339.5px,#8c2262 340.5px,#750b4b 341.5px,#400b50 342.5px,#330043 343.5px,#10042f 344.5px,#01010b 348.5px,#010108 370.5px)"></i><i style="background:linear-gradient(90deg,#010108 0.5px,#03030a 15.5px,#03020e 17.5px,#04030b 37.5px,#0d0c1a 38.5px,#010108 42.5px,#010106 67.5px,#331d18 68.5px,#cfb8ae 69.5px,#f2d1be 70.5px,#f2d1c9 77.5px,#eed1d3 79.5px,#e6bac2 80.5px,#b88c96 81.5px,#d07c7b 82.5px,#c9757a 85.5px,#a45b81 86.5px,#8f466c 87.5px,#703a74 88.5px,#291646 93.5px,#090817 99.5px,#010108 113.5px,#03020a 119.5px,#0a0919 121.5px,#04040d 125.5px,#140d35 126.5px,#160e37 127.5px,#02020f 131.5px,#04030f 177.5px,#110d29 178.5px,#010108 189.5px,#010108 229.5px,#171234 232.5px,#010109 239.5px,#04000c 282.5px,#0b0513 283.5px,#490c6a 284.5px,#471371 286.5px,#3e0a69 287.5px,#21114a 288.5px,#050417 292.5px,#010108 305.5px,#080007 336.5px,#180e18 337.5px,#b43160 338.5px,#c34170 339.5px,#bf386d 341.5px,#7c2f89 342.5px,#60136d 343.5px,#27164e 344.5px,#1a0a42 345.5px,#0b0a21 346.5px,#02020a 370.5px)"></i><i style="background:linear-gradient(90deg,#010108 0.5px,#010106 67.5px,#250e0a 68.5px,#7b645d 69.5px,#9e7161 70.5px,#9c6f60 75.5px,#61454b 79.5px,#6b3f4b 81.5px,#b05c5d 82.5px,#b66268 84.5px,#aa565c 85.5px,#90466d 86.5px,#80375e 87.5px,#401c5a 90.5px,#0d0a1f 97.5px,#010108 110.5px,#04030d 125.5px,#130c34 126.5px,#07051f 129.5px,#010108 134.5px,#04030f 177.5px,#07031f 179.5px,#010108 192.5px,#010108 229.5px,#0b0628 232.5px,#010108 241.5px,#04000c 282.5px,#0d0715 283.5px,#531674 284.5px,#521e7c 286.5px,#1e0e47 289.5px,#120e2c 290.5px,#010108 297.5px,#080007 336.5px,#190e18 337.5px,#b63462 338.5px,#ca4277 340.5px,#c43c72 341.5px,#762983 342.5px,#5a0d67 343.5px,#24134b 344.5px,#180840 345.5px,#09071f 346.5px,#01010c 358.5px,#010109 370.5px)"></i><i style="background:linear-gradient(90deg,#010108 0.5px,#040210 10.5px,#0d0c19 11.5px,#010109 14.5px,#030212 26.5px,#0c0a1b 27.5px,#010108 30.5px,#100e1d 33.5px,#010109 35.5px,#110f20 44.5px,#010108 47.5px,#0b090c 69.5px,#201607 71.5px,#230d06 77.5px,#2b0712 78.5px,#461d2d 79.5px,#d1b6bb 80.5px,#f2d7da 81.5px,#f4ddba 82.5px,#f1d2af 86.5px,#e1ae8c 87.5px,#c06d75 88.5px,#9c4953 89.5px,#723468 90.5px,#3f1a56 92.5px,#080517 98.5px,#010108 117.5px,#010108 229.5px,#13102a 232.5px,#010108 239.5px,#070411 283.5px,#2e095b 284.5px,#240952 287.5px,#130c33 288.5px,#02020a 294.5px,#010108 311.5px,#080007 336.5px,#190f19 337.5px,#b73869 338.5px,#c8497a 339.5px,#b64c8e 340.5px,#ae4386 341.5px,#62337a 342.5px,#46175e 343.5px,#20163d 344.5px,#070516 347.5px,#020109 370.5px)"></i><i style="background:linear-gradient(90deg,#010108 0.5px,#05040c 15.5px,#110e1f 16.5px,#010108 20.5px,#020111 26.5px,#03020b 64.5px,#0c0a15 67.5px,#050206 68.5px,#232123 69.5px,#c0b6a1 70.5px,#e0d6c0 71.5px,#dbc6b4 76.5px,#8e6572 78.5px,#724958 79.5px,#61464f 80.5px,#6e535b 81.5px,#bd9776 82.5px,#cca681 84.5px,#d09e7c 87.5px,#d48189 88.5px,#b4616a 89.5px,#87497d 90.5px,#31204c 94.5px,#080713 101.5px,#010108 123.5px,#070613 135.5px,#010108 155.5px,#020012 230.5px,#04011b 233.5px,#010108 242.5px,#03000c 282.5px,#090612 283.5px,#361163 284.5px,#2c115a 287.5px,#1a133b 288.5px,#030210 293.5px,#080007 336.5px,#170d17 337.5px,#ac2d5d 338.5px,#b63868 339.5px,#760b4e 341.5px,#3c0e54 342.5px,#11072d 344.5px,#01010e 348.5px,#010108 370.5px)"></i><i style="background:linear-gradient(90deg,#010108 0.5px,#010109 25.5px,#0f0c24 27.5px,#010109 31.5px,#04040c 43.5px,#0f0d1c 44.5px,#010108 47.5px,#010106 61.5px,#260505 65.5px,#280505 67.5px,#210516 68.5px,#310d26 69.5px,#a96567 70.5px,#bf7b7d 71.5px,#9b5855 73.5px,#653243 76.5px,#441132 79.5px,#512e45 80.5px,#d9b6c8 81.5px,#f6dcde 82.5px,#e9ded9 87.5px,#e1c9c0 88.5px,#91626c 91.5px,#3e284f 96.5px,#010106 107.5px,#04040c 177.5px,#140f29 178.5px,#010108 187.5px,#010108 229.5px,#08061f 233.5px,#050007 240.5px,#060008 241.5px,#360003 242.5px,#3b0003 247.5px,#2f0011 249.5px,#16002a 250.5px,#01000c 257.5px,#03000d 282.5px,#080512 283.5px,#340a65 284.5px,#2b0c5c 287.5px,#171039 288.5px,#020210 293.5px,#080008 336.5px,#170d17 337.5px,#a62c66 338.5px,#b73776 340.5px,#b53575 341.5px,#9a3a8a 342.5px,#933383 343.5px,#502b71 344.5px,#39145a 345.5px,#1a1434 346.5px,#040311 349.5px,#010108 370.5px)"></i><i style="background:linear-gradient(90deg,#010108 0.5px,#02020a 25.5px,#0b0820 27.5px,#120f25 29.5px,#05040d 30.5px,#100e1e 33.5px,#010109 35.5px,#010106 61.5px,#241410 62.5px,#918078 63.5px,#be9e8c 64.5px,#b48c89 66.5px,#956c6b 67.5px,#664158 69.5px,#854145 70.5px,#d28e8f 71.5px,#de9b96 73.5px,#c794a2 76.5px,#7f4c6b 79.5px,#6c495e 80.5px,#745166 81.5px,#423638 87.5px,#41121f 91.5px,#170528 97.5px,#010106 109.5px,#03020e 118.5px,#03020e 121.5px,#020209 125.5px,#090716 127.5px,#010108 140.5px,#010109 177.5px,#040019 179.5px,#010108 193.5px,#03020a 207.5px,#0a0818 209.5px,#01010a 212.5px,#020112 230.5px,#08061f 233.5px,#050007 240.5px,#161018 241.5px,#8f4b5d 242.5px,#a45a6d 244.5px,#a45a6d 247.5px,#965777 248.5px,#7c3d5d 249.5px,#4c2b60 250.5px,#191032 253.5px,#04030f 257.5px,#03000d 282.5px,#090513 283.5px,#370d67 284.5px,#2d0e5e 287.5px,#19113b 288.5px,#030210 293.5px,#080008 336.5px,#170d18 337.5px,#a92f68 338.5px,#bc3c7b 340.5px,#b83777 341.5px,#852575 342.5px,#6b0b5b 343.5px,#320d53 344.5px,#260147 345.5px,#0c0626 346.5px,#010109 350.5px,#010108 370.5px)"></i><i style="background:linear-gradient(90deg,#01010c 0.5px,#010108 11.5px,#100d1e 13.5px,#010109 22.5px,#080717 31.5px,#02000f 34.5px,#040305 62.5px,#2b2a2b 63.5px,#d0beb2 64.5px,#f4e2d5 65.5px,#f2ccce 68.5px,#b0777d 70.5px,#67474c 73.5px,#582339 75.5px,#2a0f3a 78.5px,#240833 79.5px,#37293f 80.5px,#c6b9c9 81.5px,#e1dcd4 82.5px,#dadac6 89.5px,#dac9b6 90.5px,#9b7176 92.5px,#80565d 93.5px,#2b1e3c 98.5px,#010106 108.5px,#04040c 125.5px,#140f29 126.5px,#010108 133.5px,#01000c 159.5px,#03020e 222.5px,#0a091a 225.5px,#010108 228.5px,#090623 233.5px,#050007 240.5px,#161018 241.5px,#8f4b5d 242.5px,#a45a6d 244.5px,#a45a6d 247.5px,#965777 248.5px,#7c3d5d 249.5px,#4c2b60 250.5px,#191032 253.5px,#04030f 257.5px,#03000c 282.5px,#0a0613 283.5px,#3d1368 284.5px,#3b1b69 286.5px,#321260 287.5px,#1d153f 288.5px,#040311 293.5px,#070009 336.5px,#140b16 337.5px,#8d256c 338.5px,#993178 339.5px,#82368a 340.5px,#7d3185 341.5px,#4b2b6b 342.5px,#191432 344.5px,#040310 347.5px,#010108 370.5px)"></i><i style="background:linear-gradient(90deg,#050410 0.5px,#05040c 23.5px,#110e1f 24.5px,#020109 27.5px,#0d0c1b 29.5px,#02010a 33.5px,#0f0d1c 35.5px,#010108 38.5px,#03030b 43.5px,#0c0b18 44.5px,#010108 49.5px,#070608 63.5px,#33211a 64.5px,#6a5850 65.5px,#7f5d5f 66.5px,#84565c 69.5px,#9e656b 70.5px,#efc3c7 71.5px,#f7e0df 72.5px,#f4d5d5 73.5px,#a36e82 75.5px,#4c315b 78.5px,#302238 80.5px,#33263b 81.5px,#201e16 84.5px,#151507 89.5px,#280607 93.5px,#13041e 96.5px,#010108 111.5px,#020109 125.5px,#040019 127.5px,#010108 139.5px,#03020e 154.5px,#0c0a1c 157.5px,#010108 162.5px,#020209 177.5px,#04030e 181.5px,#010108 229.5px,#110e2b 232.5px,#010108 239.5px,#060008 241.5px,#360003 242.5px,#3b0003 247.5px,#2f0011 249.5px,#16002a 250.5px,#01000c 257.5px,#080411 283.5px,#31085d 284.5px,#270755 287.5px,#140b35 288.5px,#020110 293.5px,#070009 336.5px,#170e19 337.5px,#9a3279 338.5px,#922a71 339.5px,#62166a 340.5px,#510458 341.5px,#270747 342.5px,#080321 344.5px,#01010a 349.5px,#010108 370.5px)"></i><i style="background:linear-gradient(90deg,#010108 0.5px,#010108 11.5px,#16122d 14.5px,#02020b 20.5px,#0b091c 29.5px,#010108 37.5px,#0f0d1c 39.5px,#010108 42.5px,#020103 62.5px,#232122 63.5px,#bdb9a5 64.5px,#e0ddc8 65.5px,#e8e8ce 73.5px,#e9d9c2 74.5px,#a3787d 76.5px,#855a60 77.5px,#432d4e 80.5px,#100f1b 86.5px,#010106 101.5px,#03030a 125.5px,#0c0a1c 127.5px,#010108 135.5px,#03020e 210.5px,#03020e 213.5px,#020110 230.5px,#08071b 233.5px,#010108 241.5px,#070510 283.5px,#24124c 284.5px,#1e1144 287.5px,#080717 290.5px,#03020e 296.5px,#0a0819 299.5px,#010108 302.5px,#07000a 336.5px,#140b17 337.5px,#90276f 338.5px,#992f78 339.5px,#62095e 341.5px,#3a084c 342.5px,#2e0040 343.5px,#0f022c 344.5px,#01010a 348.5px,#010108 370.5px)"></i><i style="background:linear-gradient(90deg,#010108 0.5px,#010108 11.5px,#03001a 15.5px,#03030c 21.5px,#03020f 23.5px,#030307 61.5px,#1a1708 65.5px,#131305 73.5px,#280606 77.5px,#1e051a 78.5px,#01010a 89.5px,#01000f 230.5px,#02010f 235.5px,#05030e 283.5px,#180640 284.5px,#110437 287.5px,#030313 290.5px,#07000a 336.5px,#140b17 337.5px,#902770 338.5px,#9e357d 339.5px,#8e3489 341.5px,#6c3b7f 342.5px,#271b45 344.5px,#060515 347.5px,#010108 360.5px,#010108 370.5px)"></i><i style="background:linear-gradient(90deg,#010108 0.5px,#010108 27.5px,#141123 30.5px,#010108 33.5px,#03020e 37.5px,#020104 60.5px,#1e1d1e 61.5px,#af9e80 62.5px,#ccbb9b 63.5px,#825c4d 65.5px,#49313a 67.5px,#221e14 70.5px,#1c180e 71.5px,#250505 73.5px,#13041d 76.5px,#020104 90.5px,#02010b 155.5px,#04030c 177.5px,#0f0a2b 178.5px,#010108 186.5px,#060511 231.5px,#0b0a1c 235.5px,#010109 237.5px,#050310 283.5px,#1a0542 284.5px,#130439 287.5px,#06031f 289.5px,#010108 296.5px,#070009 336.5px,#170d19 337.5px,#9c3478 338.5px,#ab4286 339.5px,#88397e 341.5px,#4b2c68 342.5px,#18132f 344.5px,#03030f 347.5px,#010108 370.5px)"></i><i style="background:linear-gradient(90deg,#010108 0.5px,#04030b 11.5px,#0e0c1a 12.5px,#010108 16.5px,#030012 31.5px,#03020f 34.5px,#040306 61.5px,#3d2c12 62.5px,#decdad 63.5px,#f6e1ce 64.5px,#f5ddca 65.5px,#f5dde0 66.5px,#e0dbcb 71.5px,#ceaca3 72.5px,#9d7b74 73.5px,#674258 75.5px,#2f243b 78.5px,#16151d 83.5px,#07050c 99.5px,#05040a 102.5px,#04030c 177.5px,#0f0b2c 178.5px,#010108 186.5px,#03030f 231.5px,#04020f 282.5px,#070512 283.5px,#27124f 284.5px,#201146 287.5px,#0e0a27 289.5px,#020209 294.5px,#070009 336.5px,#140b16 337.5px,#892165 338.5px,#841b5f 339.5px,#5d0f54 340.5px,#4f0045 341.5px,#22033e 342.5px,#04001b 345.5px,#020109 350.5px,#010108 370.5px)"></i><i style="background:linear-gradient(90deg,#010108 0.5px,#02000f 19.5px,#03030a 23.5px,#0b0a1a 25.5px,#010108 27.5px,#0b0920 33.5px,#010108 38.5px,#010106 61.5px,#261f1d 62.5px,#b5ada7 63.5px,#dac7b0 64.5px,#c8b69f 65.5px,#946c6b 67.5px,#6c4a5f 69.5px,#6d5056 70.5px,#ae9194 71.5px,#bf9d8b 72.5px,#b48f85 78.5px,#775365 80.5px,#785365 81.5px,#e7bcb3 82.5px,#f2d1c7 83.5px,#e3d5d5 89.5px,#d9d3c9 91.5px,#cdb3a8 92.5px,#966a75 94.5px,#815560 95.5px,#342344 100.5px,#131021 105.5px,#05040a 106.5px,#010109 131.5px,#020109 177.5px,#040018 179.5px,#01000d 188.5px,#04030e 283.5px,#16063d 284.5px,#100534 287.5px,#040313 290.5px,#06000a 336.5px,#120a17 337.5px,#83216e 338.5px,#8e2b79 339.5px,#83277c 340.5px,#6d1166 341.5px,#3e0d57 342.5px,#31004a 343.5px,#130835 344.5px,#090717 351.5px,#03020b 370.5px)"></i><i style="background:linear-gradient(90deg,#010108 0.5px,#05040d 13.5px,#100e1d 14.5px,#04040c 17.5px,#0f0d1c 18.5px,#010108 21.5px,#020011 31.5px,#131022 34.5px,#010108 37.5px,#030308 61.5px,#1c1514 63.5px,#290605 66.5px,#1f0514 69.5px,#260505 73.5px,#270505 79.5px,#2e091e 81.5px,#825751 82.5px,#996d67 83.5px,#865d59 85.5px,#45373c 88.5px,#29231f 91.5px,#2a0f0a 93.5px,#230620 97.5px,#040112 105.5px,#010108 112.5px,#03030b 125.5px,#0e0c1f 127.5px,#010108 134.5px,#04030c 177.5px,#120e26 178.5px,#010108 187.5px,#0b091b 191.5px,#010108 193.5px,#060510 283.5px,#221248 284.5px,#1b103f 287.5px,#070716 290.5px,#010108 305.5px,#06000a 336.5px,#130b17 337.5px,#882673 338.5px,#8e3287 340.5px,#8b2f84 341.5px,#64347d 342.5px,#4b1b64 343.5px,#221744 344.5px,#06031c 347.5px,#01010a 370.5px)"></i><i style="background:linear-gradient(90deg,#010108 0.5px,#04040c 5.5px,#120e27 6.5px,#010108 25.5px,#02020a 27.5px,#0d0b20 29.5px,#010109 31.5px,#060502 62.5px,#141105 67.5px,#1c0c05 70.5px,#220504 79.5px,#220615 81.5px,#3a0d2c 82.5px,#946783 83.5px,#ad7987 84.5px,#a17579 88.5px,#432a49 93.5px,#110f1e 99.5px,#010108 110.5px,#03030c 125.5px,#0e082c 126.5px,#010108 133.5px,#02010d 230.5px,#06050f 283.5px,#1d1240 284.5px,#170f37 287.5px,#060513 290.5px,#020108 317.5px,#06000b 336.5px,#110916 337.5px,#741a6c 338.5px,#791f71 339.5px,#541366 340.5px,#460557 341.5px,#1d0a3f 342.5px,#07041a 344.5px,#010108 354.5px,#010108 370.5px)"></i><i style="background:linear-gradient(90deg,#010108 0.5px,#010109 5.5px,#030017 7.5px,#040311 18.5px,#0d0c1a 19.5px,#010108 23.5px,#010108 27.5px,#08061a 29.5px,#010108 32.5px,#070614 46.5px,#010106 61.5px,#23221b 62.5px,#b6b6aa 63.5px,#d8d6be 64.5px,#d5d2ba 67.5px,#b39c89 69.5px,#cfbea6 70.5px,#d3c2aa 77.5px,#d0b1a4 78.5px,#a18176 79.5px,#633e54 81.5px,#461224 85.5px,#2f070b 89.5px,#16041e 93.5px,#010108 104.5px,#04040d 125.5px,#140e32 126.5px,#07061d 129.5px,#010108 135.5px,#06050f 209.5px,#04030f 231.5px,#03020c 283.5px,#100533 284.5px,#0c042c 287.5px,#030210 290.5px,#06000b 336.5px,#130b18 337.5px,#802678 338.5px,#8d3385 339.5px,#763688 340.5px,#632274 341.5px,#2f1c51 342.5px,#0e0c21 344.5px,#03030d 348.5px,#010108 370.5px)"></i><i style="background:linear-gradient(90deg,#010108 0.5px,#04040d 15.5px,#120e26 16.5px,#03030c 19.5px,#040307 62.5px,#101011 67.5px,#1d0b05 68.5px,#433128 69.5px,#eac8a0 70.5px,#f7e6bd 71.5px,#f5dec0 75.5px,#f1cdc9 76.5px,#da9f9d 77.5px,#ae678d 78.5px,#8e476e 79.5px,#65356e 80.5px,#55255e 81.5px,#3f303a 82.5px,#181708 88.5px,#151206 91.5px,#280505 92.5px,#13041f 97.5px,#010106 106.5px,#03030b 125.5px,#0e0c1f 127.5px,#010108 134.5px,#010109 177.5px,#07051d 181.5px,#010108 184.5px,#060610 249.5px,#06020d 283.5px,#25003c 284.5px,#1e003c 287.5px,#030017 291.5px,#010108 306.5px,#05000c 336.5px,#0f0816 337.5px,#641974 338.5px,#652184 340.5px,#561275 341.5px,#26164e 342.5px,#1a0941 343.5px,#0a091e 344.5px,#0b0a19 347.5px,#0b091a 349.5px,#020109 352.5px,#010108 370.5px)"></i><i style="background:linear-gradient(90deg,#010108 0.5px,#03030c 15.5px,#0a061f 16.5px,#010109 19.5px,#040406 64.5px,#101011 67.5px,#34221a 68.5px,#9f8d81 69.5px,#ceac85 70.5px,#cca980 73.5px,#8d5253 77.5px,#823b63 78.5px,#762e57 79.5px,#5a2a63 80.5px,#73437b 81.5px,#d7c9ce 82.5px,#f0e2e6 83.5px,#e0dcc5 91.5px,#c8a59b 92.5px,#99756e 93.5px,#643f56 95.5px,#2a1f3b 98.5px,#020206 106.5px,#010109 125.5px,#01000e 129.5px,#04030b 177.5px,#100d24 178.5px,#09071f 181.5px,#010108 185.5px,#03000b 282.5px,#0c0813 283.5px,#47215e 284.5px,#482767 286.5px,#120f26 290.5px,#010108 297.5px,#05000c 336.5px,#0e0815 337.5px,#621772 338.5px,#621e81 340.5px,#541073 341.5px,#26154d 342.5px,#190941 343.5px,#0a081d 344.5px,#010108 356.5px,#010108 370.5px)"></i><i style="background:linear-gradient(90deg,#010108 0.5px,#02020d 9.5px,#020209 31.5px,#0a081b 34.5px,#01000a 38.5px,#0f0c23 40.5px,#010108 45.5px,#010106 63.5px,#24221b 64.5px,#bab8ac 65.5px,#dcd9c1 66.5px,#e5e2c9 69.5px,#f6decc 71.5px,#d37a84 74.5px,#b9606b 75.5px,#944061 77.5px,#75386e 78.5px,#692c63 79.5px,#664267 80.5px,#caa7c8 81.5px,#dfcec8 82.5px,#dec9b4 90.5px,#bda894 91.5px,#9d737b 92.5px,#7f545e 93.5px,#382747 96.5px,#080713 103.5px,#010108 115.5px,#03030a 125.5px,#0d0b1e 127.5px,#010108 134.5px,#03020b 177.5px,#0a0820 178.5px,#010108 187.5px,#07040f 283.5px,#31054a 284.5px,#280249 287.5px,#07041d 290.5px,#010108 299.5px,#04000c 336.5px,#0d0815 337.5px,#561875 338.5px,#5c1e7b 339.5px,#381e5f 340.5px,#290f51 341.5px,#120f29 342.5px,#01010b 346.5px,#010108 370.5px)"></i><i style="background:linear-gradient(90deg,#010108 0.5px,#03020e 20.5px,#0b091b 23.5px,#010108 25.5px,#040215 34.5px,#0d0a1d 35.5px,#010109 37.5px,#04030c 39.5px,#0e0a21 40.5px,#010108 46.5px,#070602 64.5px,#1c1a08 66.5px,#1c1807 69.5px,#391e12 70.5px,#7e6355 71.5px,#a5635d 72.5px,#ac525e 75.5px,#a55071 76.5px,#a04c6d 77.5px,#7b3e74 78.5px,#4a274c 80.5px,#462348 81.5px,#372726 82.5px,#1c1206 88.5px,#270609 93.5px,#1a051b 95.5px,#04030f 102.5px,#010109 125.5px,#01010e 129.5px,#02020a 177.5px,#09071f 179.5px,#010108 186.5px,#03000b 282.5px,#0c0814 283.5px,#4c2165 284.5px,#4d276e 286.5px,#130f29 290.5px,#010108 297.5px,#04000c 336.5px,#0d0715 337.5px,#50126f 338.5px,#4c0e6a 339.5px,#280e50 340.5px,#1d0344 341.5px,#090621 342.5px,#03020b 350.5px,#010108 370.5px)"></i><i style="background:linear-gradient(90deg,#010108 0.5px,#03020f 16.5px,#04040c 27.5px,#100e1e 28.5px,#010108 31.5px,#010108 54.5px,#010106 63.5px,#230e0e 64.5px,#796461 65.5px,#9b706a 66.5px,#976b6e 68.5px,#84595c 69.5px,#392645 74.5px,#120c1a 81.5px,#29071d 82.5px,#200517 91.5px,#08021a 95.5px,#010106 108.5px,#04030c 125.5px,#120e26 126.5px,#010108 134.5px,#04030b 177.5px,#0f0c26 178.5px,#010108 187.5px,#03020b 283.5px,#0d0825 284.5px,#0f0a28 287.5px,#03030d 290.5px,#03000d 336.5px,#0b0714 337.5px,#491272 338.5px,#451b72 340.5px,#370d65 341.5px,#171136 342.5px,#030212 345.5px,#010108 370.5px)"></i><i style="background:linear-gradient(90deg,#010108 0.5px,#040211 14.5px,#0e0c1a 15.5px,#010108 25.5px,#010108 39.5px,#110e1f 41.5px,#01010a 43.5px,#040408 63.5px,#370c0a 66.5px,#350910 69.5px,#250b2c 72.5px,#0c0514 80.5px,#1f1927 81.5px,#724d64 82.5px,#80576d 84.5px,#714d66 90.5px,#211732 95.5px,#04040c 101.5px,#010109 125.5px,#030017 127.5px,#010108 141.5px,#02020a 177.5px,#07041f 179.5px,#010108 187.5px,#03030b 283.5px,#0e0926 284.5px,#0a0624 287.5px,#010108 293.5px,#03000d 336.5px,#0a0513 337.5px,#410a69 338.5px,#3d136a 340.5px,#340a62 341.5px,#150f34 342.5px,#030212 345.5px,#010108 370.5px)"></i><i style="background:linear-gradient(90deg,#010108 0.5px,#020209 15.5px,#03030a 43.5px,#0d0b1d 45.5px,#010108 50.5px,#0a0912 62.5px,#2a2931 63.5px,#bbbba6 64.5px,#dadac4 65.5px,#dcd4bc 74.5px,#c4bca5 75.5px,#957068 77.5px,#6f4758 79.5px,#7b5656 80.5px,#e5bfbc 81.5px,#f4d7c5 82.5px,#eec0c6 84.5px,#985e7a 87.5px,#593c61 90.5px,#1e192e 96.5px,#010106 109.5px,#03020a 125.5px,#0a0818 127.5px,#010108 138.5px,#03020b 177.5px,#0a0821 178.5px,#010108 187.5px,#020111 230.5px,#02020d 240.5px,#090817 243.5px,#010108 247.5px,#020209 283.5px,#050414 286.5px,#010108 314.5px,#04000d 336.5px,#0b0614 337.5px,#470d6f 338.5px,#4d1375 339.5px,#2f075d 341.5px,#120c31 342.5px,#060518 351.5px,#02020b 370.5px)"></i><i style="background:linear-gradient(90deg,#010108 0.5px,#040211 10.5px,#0f0d1c 11.5px,#010108 17.5px,#03020e 26.5px,#04030c 63.5px,#121305 68.5px,#160e05 75.5px,#260505 77.5px,#24060f 79.5px,#350f12 80.5px,#916c6b 81.5px,#a77b6d 82.5px,#63323d 85.5px,#390e34 88.5px,#060216 96.5px,#010108 118.5px,#03020a 177.5px,#090720 178.5px,#010108 188.5px,#03020e 228.5px,#030212 231.5px,#020209 283.5px,#050414 286.5px,#010108 309.5px,#04000d 336.5px,#0b0614 337.5px,#480f70 338.5px,#501677 339.5px,#380f66 341.5px,#191238 342.5px,#08061f 345.5px,#02010a 370.5px)"></i><i style="background:linear-gradient(90deg,#010108 0.5px,#05040d 11.5px,#0e0c1b 12.5px,#010108 16.5px,#03020b 22.5px,#030014 25.5px,#02020c 28.5px,#03020f 33.5px,#04030c 37.5px,#0c0b1b 38.5px,#010109 41.5px,#0b070b 81.5px,#270618 85.5px,#050215 95.5px,#010108 111.5px,#0a0915 114.5px,#010108 122.5px,#02020a 283.5px,#0a081b 285.5px,#010108 295.5px,#070615 299.5px,#010108 307.5px,#080512 337.5px,#360961 338.5px,#2f105e 341.5px,#181237 342.5px,#020113 346.5px,#01010a 370.5px)"></i><i style="background:linear-gradient(90deg,#010108 0.5px,#03030b 23.5px,#110e23 25.5px,#04040c 26.5px,#03020b 37.5px,#020112 39.5px,#04040c 41.5px,#100e1d 42.5px,#010108 45.5px,#040308 69.5px,#101012 78.5px,#0a060a 81.5px,#210a19 82.5px,#5b4451 83.5px,#724a61 84.5px,#623e57 87.5px,#281d39 92.5px,#04040b 104.5px,#02020a 225.5px,#080716 227.5px,#010108 234.5px,#020109 283.5px,#020113 287.5px,#010108 335.5px,#0a0614 337.5px,#40136b 338.5px,#451870 339.5px,#260855 341.5px,#120c31 342.5px,#080717 351.5px,#02020b 370.5px)"></i><i style="background:linear-gradient(90deg,#010108 0.5px,#040210 28.5px,#0d0c19 29.5px,#010108 33.5px,#04030d 41.5px,#0f0d1f 42.5px,#010108 45.5px,#050501 62.5px,#131305 68.5px,#32321f 69.5px,#cac89e 70.5px,#eae8bd 71.5px,#f2d2b9 75.5px,#f3d0d1 76.5px,#e9d1d7 78.5px,#dbc4cb 79.5px,#a97a93 80.5px,#784a64 81.5px,#5b2336 83.5px,#320809 87.5px,#27071c 88.5px,#080218 93.5px,#03020b 108.5px,#0b091b 111.5px,#010108 113.5px,#02020b 125.5px,#080522 126.5px,#010108 134.5px,#010109 177.5px,#030016 179.5px,#010108 197.5px,#050412 337.5px,#181136 338.5px,#171035 339.5px,#04040f 342.5px,#040213 352.5px,#0c0a1c 355.5px,#010109 357.5px,#010108 370.5px)"></i><i style="background:linear-gradient(90deg,#010108 0.5px,#03020f 36.5px,#03030c 41.5px,#020012 43.5px,#010106 61.5px,#23231b 62.5px,#b9b9ac 63.5px,#dadac2 64.5px,#dcdcc3 69.5px,#f5ecc0 72.5px,#e3daae 73.5px,#9e765f 75.5px,#533c47 78.5px,#481a36 80.5px,#51233e 81.5px,#aa7282 82.5px,#c48c9c 83.5px,#bb918d 86.5px,#aa807d 87.5px,#4d3958 90.5px,#100d17 96.5px,#020109 109.5px,#04040c 125.5px,#100c29 126.5px,#010108 133.5px,#04030b 177.5px,#110e24 178.5px,#02010a 186.5px,#020209 333.5px,#040311 337.5px,#0e072c 338.5px,#01010b 344.5px,#010109 357.5px,#010108 370.5px)"></i><i style="background:linear-gradient(90deg,#010108 0.5px,#010108 25.5px,#060020 29.5px,#010109 39.5px,#0f0c20 41.5px,#01010a 43.5px,#040307 62.5px,#251f0d 66.5px,#2d0a15 69.5px,#381136 70.5px,#754f71 71.5px,#845875 73.5px,#69435d 75.5px,#341f3f 77.5px,#181024 79.5px,#200611 80.5px,#220813 81.5px,#592720 82.5px,#ecbcaf 83.5px,#f4d9c1 84.5px,#f3d5c0 89.5px,#ecd4d9 93.5px,#e4c7cc 94.5px,#865d78 96.5px,#4b3358 98.5px,#161324 102.5px,#010106 108.5px,#02010e 124.5px,#0a0916 125.5px,#140f32 126.5px,#020109 132.5px,#04030c 177.5px,#110e25 178.5px,#010108 187.5px,#03020a 217.5px,#0c0b1c 220.5px,#010108 225.5px,#030212 337.5px,#09071c 341.5px,#02020b 350.5px,#010108 370.5px)"></i><i style="background:linear-gradient(90deg,#010108 0.5px,#020209 25.5px,#20163a 28.5px,#0b0a1b 33.5px,#02020a 39.5px,#09061a 41.5px,#02020b 43.5px,#010105 63.5px,#23231a 64.5px,#b9b9ab 65.5px,#dcd6be 66.5px,#c5bea7 67.5px,#96727a 68.5px,#74515a 69.5px,#4a1e3d 72.5px,#210d2d 76.5px,#0e071a 79.5px,#2b111c 80.5px,#7c626a 81.5px,#a47268 82.5px,#ab7b69 88.5px,#966d69 90.5px,#4f3741 93.5px,#3a1e29 95.5px,#190528 99.5px,#02010b 105.5px,#03020f 125.5px,#0d082b 126.5px,#010108 133.5px,#010109 177.5px,#030017 179.5px,#010108 194.5px,#02020a 333.5px,#060419 338.5px,#010108 361.5px,#010108 370.5px)"></i><i style="background:linear-gradient(90deg,#010108 0.5px,#040311 24.5px,#050313 27.5px,#02010b 33.5px,#040018 35.5px,#010108 39.5px,#010106 61.5px,#2c0821 66.5px,#2b0720 67.5px,#482233 68.5px,#dbb5c1 69.5px,#f1d7dc 70.5px,#d5d1c0 77.5px,#bf9d96 78.5px,#95726d 79.5px,#7b5265 80.5px,#774e62 81.5px,#9a6b71 82.5px,#684259 85.5px,#251e32 90.5px,#03030a 99.5px,#010109 125.5px,#020110 128.5px,#02020a 177.5px,#08061d 179.5px,#010108 186.5px,#03030a 213.5px,#0d0b1d 215.5px,#010108 220.5px,#010108 320.5px,#03020e 346.5px,#03020e 349.5px,#010108 370.5px)"></i><i style="background:linear-gradient(90deg,#010108 0.5px,#02010e 10.5px,#100e1d 12.5px,#020109 15.5px,#030111 27.5px,#04030d 33.5px,#120e26 34.5px,#141028 35.5px,#05050e 36.5px,#010106 61.5px,#180615 62.5px,#4f3e4b 63.5px,#6c475f 64.5px,#754f5f 69.5px,#28241d 75.5px,#1e1a0f 77.5px,#270505 79.5px,#260614 81.5px,#2c0607 83.5px,#16041d 87.5px,#010108 99.5px,#03030b 125.5px,#0e0c21 126.5px,#010108 135.5px,#03020a 177.5px,#0a0920 179.5px,#010108 186.5px,#01000d 217.5px,#010108 370.5px)"></i><i style="background:linear-gradient(90deg,#010108 0.5px,#0b0a16 15.5px,#020109 22.5px,#01000d 25.5px,#0b0023 26.5px,#211639 27.5px,#04030f 34.5px,#0e0c1a 36.5px,#010108 40.5px,#03020b 43.5px,#0a081d 44.5px,#010108 48.5px,#050107 62.5px,#161218 63.5px,#70475c 64.5px,#7c5367 65.5px,#402848 69.5px,#4c3e45 70.5px,#bcaeb1 71.5px,#d5c2ad 72.5px,#82585c 75.5px,#2a1d3c 80.5px,#090811 87.5px,#03020a 111.5px,#0a0818 113.5px,#010108 116.5px,#04040c 177.5px,#130f28 178.5px,#010108 187.5px,#010108 370.5px)"></i><i style="background:linear-gradient(90deg,#010108 0.5px,#05040d 11.5px,#110e1f 12.5px,#010108 17.5px,#03030b 23.5px,#0c0b18 24.5px,#04020f 25.5px,#170b2f 27.5px,#01010d 32.5px,#04040d 43.5px,#0f0d22 44.5px,#010108 47.5px,#060108 63.5px,#290718 64.5px,#2a0723 67.5px,#200829 69.5px,#1d0f18 70.5px,#25171f 71.5px,#2a1809 73.5px,#33090f 75.5px,#180523 78.5px,#12111a 89.5px,#181721 93.5px,#09060b 97.5px,#010109 177.5px,#030018 179.5px,#010108 194.5px,#010108 370.5px)"></i><i style="background:linear-gradient(90deg,#010108 0.5px,#010108 19.5px,#120f20 21.5px,#030011 24.5px,#040211 36.5px,#0e0c1a 37.5px,#010108 41.5px,#010108 57.5px,#010105 63.5px,#24231a 64.5px,#bab9ab 65.5px,#dbdac1 66.5px,#eeeabc 74.5px,#e4e0b3 75.5px,#926e57 77.5px,#5b373e 79.5px,#52212f 80.5px,#643340 81.5px,#e2b6ae 82.5px,#f2d0c7 83.5px,#e5d4d8 89.5px,#d9d3cb 93.5px,#caaca6 94.5px,#a2857f 95.5px,#744a5e 97.5px,#271c39 102.5px,#130f21 105.5px,#040409 106.5px,#010109 177.5px,#060610 233.5px,#010108 370.5px)"></i><i style="background:linear-gradient(90deg,#010108 0.5px,#010108 9.5px,#121020 11.5px,#03030a 15.5px,#03020e 17.5px,#070415 24.5px,#100e1f 25.5px,#010009 27.5px,#04030b 33.5px,#0d0b19 34.5px,#010108 41.5px,#0d0c1a 43.5px,#010109 46.5px,#080813 53.5px,#030307 63.5px,#1f1e0b 66.5px,#1f1e0b 67.5px,#404021 68.5px,#d6d6b2 69.5px,#f8f7c8 70.5px,#f7f3c5 75.5px,#f5dec3 77.5px,#f4d6d8 78.5px,#af7e89 81.5px,#916560 83.5px,#43323b 89.5px,#282320 93.5px,#2d100e 95.5px,#140424 100.5px,#020106 109.5px,#020209 125.5px,#05050f 128.5px,#03030a 177.5px,#0d0c1e 179.5px,#010108 188.5px,#020209 217.5px,#080712 220.5px,#010108 300.5px,#010108 370.5px)"></i><i style="background:linear-gradient(90deg,#010108 0.5px,#040213 30.5px,#05040d 37.5px,#110e1f 38.5px,#010108 41.5px,#040102 62.5px,#201c1d 63.5px,#c49673 64.5px,#e0b28e 65.5px,#ecbf96 69.5px,#e5cb9e 72.5px,#e0c79a 73.5px,#d3ac86 74.5px,#cda581 77.5px,#c2947e 78.5px,#a97b66 79.5px,#a86c5f 80.5px,#ca8f80 81.5px,#d48a8c 83.5px,#c38a99 85.5px,#ac838d 88.5px,#875e69 89.5px,#342548 92.5px,#07070f 98.5px,#05050b 109.5px,#02010c 117.5px,#010109 125.5px,#030015 127.5px,#010108 146.5px,#03020a 157.5px,#0c0b1c 159.5px,#010108 165.5px,#03020b 197.5px,#0a0721 198.5px,#010108 204.5px,#010108 370.5px)"></i><i style="background:linear-gradient(90deg,#010108 0.5px,#040211 18.5px,#0e0c1b 19.5px,#03030c 23.5px,#0c0b19 24.5px,#010108 28.5px,#100e21 33.5px,#02010b 37.5px,#040102 62.5px,#1e1a1a 63.5px,#b58865 64.5px,#cfa17d 65.5px,#daaa82 69.5px,#f4ddaf 70.5px,#f3d8b2 77.5px,#eec1b0 80.5px,#a75d61 82.5px,#8b4146 83.5px,#5b2235 85.5px,#310816 89.5px,#230729 90.5px,#030210 97.5px,#04030b 125.5px,#0f0c22 126.5px,#010109 134.5px,#020209 177.5px,#03020e 181.5px,#03020b 197.5px,#0b0822 198.5px,#020108 204.5px,#02020d 276.5px,#010108 370.5px)"></i><i style="background:linear-gradient(90deg,#010108 0.5px,#02010a 5.5px,#070021 6.5px,#06021c 11.5px,#100d26 12.5px,#01010a 18.5px,#05040d 35.5px,#120f1f 36.5px,#010108 39.5px,#03020a 44.5px,#050106 61.5px,#280505 62.5px,#36080e 68.5px,#4c1b23 69.5px,#c48288 70.5px,#db999e 71.5px,#d394a4 72.5px,#92567f 75.5px,#583d69 78.5px,#4b1b29 83.5px,#230731 87.5px,#050411 93.5px,#010108 125.5px,#03030b 177.5px,#0f0c20 179.5px,#010108 186.5px,#02020d 205.5px,#02010b 237.5px,#010108 370.5px)"></i><i style="background:linear-gradient(90deg,#010108 0.5px,#06050e 5.5px,#1e1338 6.5px,#020109 20.5px,#040105 60.5px,#141115 61.5px,#7d5357 62.5px,#916267 64.5px,#89585e 69.5px,#86444c 71.5px,#6b2c3f 73.5px,#3f1646 76.5px,#260b38 79.5px,#3e1937 80.5px,#95708a 81.5px,#b1808b 82.5px,#996c83 84.5px,#7a4d65 85.5px,#41264e 87.5px,#161326 90.5px,#010106 98.5px,#020209 125.5px,#02020d 129.5px,#010109 177.5px,#020010 181.5px,#03020f 198.5px,#010108 370.5px)"></i><i style="background:linear-gradient(90deg,#010108 0.5px,#020012 26.5px,#030207 61.5px,#1c1908 65.5px,#272213 69.5px,#6c4b4e 70.5px,#765558 71.5px,#81465a 72.5px,#703549 73.5px,#592154 74.5px,#1e0b36 78.5px,#020209 91.5px,#010109 131.5px,#03030b 177.5px,#0f0d21 179.5px,#010108 187.5px,#010108 370.5px)"></i><i style="background:linear-gradient(90deg,#010108 0.5px,#010108 25.5px,#161326 27.5px,#010108 36.5px,#020105 61.5px,#24221b 62.5px,#bbb8ac 63.5px,#dcd9c1 64.5px,#ded9c3 69.5px,#f3d2d1 70.5px,#f0cfcd 71.5px,#e2a7b8 72.5px,#a66b7e 73.5px,#733b6d 75.5px,#36234c 78.5px,#110d1c 84.5px,#010106 99.5px,#03030a 125.5px,#0c0a1c 127.5px,#010108 135.5px,#010109 177.5px,#010010 181.5px,#03020a 253.5px,#090817 255.5px,#010108 259.5px,#010108 370.5px)"></i><i style="background:linear-gradient(90deg,#010108 0.5px,#040211 15.5px,#0d0b1d 17.5px,#010109 22.5px,#0d0a1d 24.5px,#080713 27.5px,#040116 29.5px,#03020c 31.5px,#040215 33.5px,#010109 41.5px,#0d0a21 44.5px,#010108 49.5px,#040307 62.5px,#101012 71.5px,#010108 115.5px,#010108 370.5px)"></i><i style="background:linear-gradient(90deg,#010108 0.5px,#050214 12.5px,#0e0c1b 14.5px,#010109 22.5px,#0c091c 24.5px,#01010c 27.5px,#110e23 29.5px,#02010b 31.5px,#0e0c20 33.5px,#010108 39.5px,#03030b 41.5px,#0c0a21 42.5px,#03030d 50.5px,#02020a 187.5px,#080716 189.5px,#010108 195.5px,#06050f 253.5px,#02020d 284.5px,#090817 287.5px,#010108 291.5px,#020109 370.5px)"></i><i style="background:linear-gradient(90deg,#010108 0.5px,#050313 36.5px,#110e1f 37.5px,#04030e 39.5px,#0e0b20 40.5px,#05040e 43.5px,#0f0d1c 44.5px,#010108 47.5px,#040107 63.5px,#200513 64.5px,#210513 69.5px,#171106 71.5px,#290c06 72.5px,#0e031f 79.5px,#0e0207 80.5px,#24050b 85.5px,#15041c 87.5px,#010109 94.5px,#02010d 113.5px,#02010d 257.5px,#02020a 369.5px,#080716 370.5px)"></i><i style="background:linear-gradient(90deg,#010108 0.5px,#05040f 39.5px,#0f0c21 40.5px,#03020d 43.5px,#030106 62.5px,#0f0d12 63.5px,#5f3c50 64.5px,#764e63 66.5px,#724f62 68.5px,#825f71 69.5px,#d2ccb7 70.5px,#e3dcc7 71.5px,#d7baab 72.5px,#aa8d80 73.5px,#8c6271 74.5px,#754b5b 75.5px,#362546 78.5px,#2e1c3d 79.5px,#403237 80.5px,#aa9d9d 81.5px,#c7b09d 82.5px,#b49d8a 83.5px,#906973 84.5px,#714955 85.5px,#2a1f3a 88.5px,#06060d 94.5px,#03020e 112.5px,#0c0a1c 115.5px,#010108 122.5px,#03020e 256.5px,#0d0b1e 259.5px,#010108 264.5px,#01000f 370.5px)"></i><i style="background:linear-gradient(90deg,#010108 0.5px,#010108 11.5px,#0f0924 13.5px,#01010a 25.5px,#100d21 28.5px,#010108 31.5px,#050213 38.5px,#100d1e 39.5px,#010108 42.5px,#030207 63.5px,#3c0c10 64.5px,#9c6c6d 65.5px,#c67381 66.5px,#b18187 70.5px,#ad7e82 72.5px,#462f52 76.5px,#191524 80.5px,#151506 88.5px,#1a0c05 95.5px,#280605 97.5px,#11041f 102.5px,#09031a 105.5px,#020108 107.5px,#01000e 370.5px)"></i><i style="background:linear-gradient(90deg,#010108 0.5px,#010108 11.5px,#18132d 13.5px,#040310 22.5px,#04030d 25.5px,#0b091c 27.5px,#020109 31.5px,#0b0a16 33.5px,#040210 36.5px,#0e0c1a 37.5px,#010108 45.5px,#07060b 63.5px,#3b0b0f 64.5px,#8d5d5e 65.5px,#a65462 66.5px,#682941 68.5px,#380911 72.5px,#33070d 73.5px,#26071e 74.5px,#09031c 79.5px,#040110 81.5px,#252320 82.5px,#bbb9b1 83.5px,#dcdac6 84.5px,#d9d9c2 93.5px,#d9cbb5 94.5px,#8b6160 97.5px,#3a2647 102.5px,#201530 105.5px,#07060d 106.5px,#020209 369.5px,#070613 370.5px)"></i><i style="background:linear-gradient(90deg,#010108 0.5px,#010108 3.5px,#250416 4.5px,#664658 5.5px,#7d476d 6.5px,#653056 7.5px,#2b1e41 8.5px,#080714 10.5px,#0c0814 15.5px,#412050 16.5px,#422658 18.5px,#0f0a24 21.5px,#040310 23.5px,#030110 27.5px,#030210 30.5px,#010106 61.5px,#1b0714 62.5px,#57444e 63.5px,#734b5d 64.5px,#7e5b5c 70.5px,#4a2434 75.5px,#431035 77.5px,#1a0732 81.5px,#131218 88.5px,#010108 126.5px,#020108 370.5px)"></i><i style="background:linear-gradient(90deg,#010108 0.5px,#010108 3.5px,#290019 6.5px,#270018 7.5px,#0a001f 8.5px,#02010a 13.5px,#03000c 15.5px,#160026 16.5px,#120028 19.5px,#02010e 23.5px,#0d0b1b 27.5px,#010109 29.5px,#100e20 32.5px,#04040d 36.5px,#020106 61.5px,#30081d 64.5px,#31081e 67.5px,#512934 68.5px,#e7bfc5 69.5px,#f6dfdc 70.5px,#f4d8dc 73.5px,#ecc6d1 74.5px,#9a6689 76.5px,#7f4b6f 77.5px,#38254f 80.5px,#121016 89.5px,#010108 128.5px,#03020a 331.5px,#0b0a1a 334.5px,#010108 339.5px,#060513 349.5px,#010108 370.5px)"></i><i style="background:linear-gradient(90deg,#010108 0.5px,#03030a 11.5px,#0f0529 12.5px,#090028 15.5px,#020013 18.5px,#0a081e 23.5px,#01000b 25.5px,#090816 33.5px,#04030c 35.5px,#0e0c1d 36.5px,#04040d 39.5px,#100e1e 40.5px,#010108 43.5px,#05050b 61.5px,#262621 62.5px,#b9b9af 63.5px,#dadac2 64.5px,#ebe2c8 70.5px,#cfc6ad 71.5px,#b38c89 72.5px,#906867 73.5px,#392342 77.5px,#1a1423 80.5px,#2e2837 81.5px,#b69a7f 82.5px,#d7bb9f 83.5px,#e0ba90 87.5px,#e3b292 91.5px,#dda4a8 92.5px,#c1878c 93.5px,#8b5371 95.5px,#523759 98.5px,#181227 105.5px,#06050b 106.5px,#03020e 152.5px,#03020e 155.5px,#03020a 325.5px,#0b0a1a 327.5px,#020209 333.5px,#010108 370.5px)"></i><i style="background:linear-gradient(90deg,#010108 0.5px,#010109 11.5px,#090024 12.5px,#231742 14.5px,#09071d 20.5px,#020109 29.5px,#0e0c1b 31.5px,#01010a 35.5px,#050501 62.5px,#21210e 67.5px,#251c09 71.5px,#320b0d 73.5px,#290922 74.5px,#0f041e 79.5px,#0a0414 81.5px,#3f230d 82.5px,#bb9f84 83.5px,#deb78e 84.5px,#ddb78d 89.5px,#dcaa8a 90.5px,#af7d5f 91.5px,#6d343c 93.5px,#330c30 96.5px,#060216 104.5px,#010108 110.5px,#080716 115.5px,#010108 121.5px,#070615 125.5px,#010108 133.5px,#03020a 179.5px,#03020d 181.5px,#02010c 245.5px,#03020e 288.5px,#0a0819 291.5px,#010108 294.5px,#020209 322.5px,#010108 370.5px)"></i><i style="background:linear-gradient(90deg,#010108 0.5px,#03030f 17.5px,#050214 22.5px,#0d0c1a 24.5px,#010108 27.5px,#0a0819 31.5px,#010108 34.5px,#030213 40.5px,#040208 63.5px,#3f1e2b 64.5px,#d3b3bb 65.5px,#f3d2ce 66.5px,#f3d2ce 69.5px,#f1d1b3 73.5px,#f2cfc5 76.5px,#efc5bb 77.5px,#c5859d 78.5px,#90506a 79.5px,#663065 80.5px,#3c1642 82.5px,#03020e 97.5px,#02020d 140.5px,#080716 143.5px,#010108 148.5px,#03030a 317.5px,#03020e 319.5px,#010108 370.5px)"></i><i style="background:linear-gradient(90deg,#010108 0.5px,#040211 20.5px,#040214 22.5px,#03030b 39.5px,#0a081a 40.5px,#0f0d1f 43.5px,#010108 48.5px,#030107 62.5px,#0f0c12 63.5px,#5f3e4a 64.5px,#7d5c67 65.5px,#90685a 70.5px,#b08879 71.5px,#b2846b 75.5px,#9e726b 76.5px,#865a54 77.5px,#85455f 78.5px,#85455f 79.5px,#7a4478 80.5px,#593858 87.5px,#201930 92.5px,#020208 103.5px,#02020d 132.5px,#090817 135.5px,#010108 139.5px,#020109 370.5px)"></i><i style="background:linear-gradient(90deg,#010108 0.5px,#02000a 5.5px,#0d0027 6.5px,#0c0027 9.5px,#01000c 13.5px,#080715 17.5px,#020209 21.5px,#0f0d1c 23.5px,#04040d 25.5px,#100e1e 26.5px,#010108 30.5px,#090814 34.5px,#010108 48.5px,#050407 63.5px,#392e15 64.5px,#bdb295 65.5px,#e5caa1 66.5px,#ebba9b 69.5px,#eab2a9 70.5px,#e7a89f 71.5px,#9c4f6e 73.5px,#733c76 74.5px,#4f2246 76.5px,#67395c 77.5px,#eac2a1 78.5px,#f4dbb9 79.5px,#f1cfad 83.5px,#e39986 84.5px,#bb715f 85.5px,#8d404e 87.5px,#6d2f61 88.5px,#261642 92.5px,#050410 99.5px,#03020a 108.5px,#0a091a 111.5px,#010108 114.5px,#010108 167.5px,#03020a 369.5px,#090817 370.5px)"></i><i style="background:linear-gradient(90deg,#010108 0.5px,#07050f 5.5px,#291443 6.5px,#271443 9.5px,#070612 12.5px,#020104 62.5px,#222123 63.5px,#c5ba9c 64.5px,#f2e7c8 65.5px,#eacfa6 67.5px,#bd8769 69.5px,#9e5c55 71.5px,#914464 72.5px,#833756 73.5px,#652e68 74.5px,#5a235e 75.5px,#5e3154 76.5px,#ab7d9e 77.5px,#c79f7f 78.5px,#c49a79 83.5px,#d58b78 84.5px,#d28875 85.5px,#cc7f8b 86.5px,#be717d 87.5px,#8f5182 88.5px,#77396b 89.5px,#522d69 90.5px,#19142e 94.5px,#020207 102.5px,#010108 130.5px,#03030a 161.5px,#0d0b1d 163.5px,#0b091b 165.5px,#010108 167.5px,#01000f 370.5px)"></i><i style="background:linear-gradient(90deg,#010108 0.5px,#04030f 21.5px,#0e0c1a 22.5px,#010109 26.5px,#080619 29.5px,#010108 32.5px,#0c0b18 43.5px,#010108 48.5px,#040307 63.5px,#321115 64.5px,#725153 65.5px,#9a515c 66.5px,#964869 69.5px,#ad607d 71.5px,#9b5984 72.5px,#5e2f67 75.5px,#613957 76.5px,#a67e99 77.5px,#ba908d 78.5px,#b58a88 79.5px,#835666 81.5px,#3e284a 85.5px,#0a0713 93.5px,#010108 122.5px,#02020d 309.5px,#090817 311.5px,#010108 315.5px,#010108 370.5px)"></i><i style="background:linear-gradient(90deg,#010108 0.5px,#03020e 14.5px,#04030c 27.5px,#0e0c1f 28.5px,#02020a 31.5px,#04030c 39.5px,#0f0d1c 40.5px,#010108 48.5px,#040307 63.5px,#3d1b1f 64.5px,#ad8c8c 65.5px,#db939b 66.5px,#9e5071 69.5px,#883b5a 71.5px,#481952 75.5px,#411938 76.5px,#411938 77.5px,#441a1c 78.5px,#2e0e2e 83.5px,#05030d 95.5px,#03020e 322.5px,#03020e 325.5px,#010108 370.5px)"></i><i style="background:linear-gradient(90deg,#010108 0.5px,#04040c 5.5px,#130f28 6.5px,#08051c 11.5px,#010109 16.5px,#0b0a17 18.5px,#040213 23.5px,#040214 25.5px,#040210 30.5px,#0e0c1a 31.5px,#010109 35.5px,#01010a 43.5px,#020104 62.5px,#222223 63.5px,#bcbba5 64.5px,#e3e3cb 65.5px,#e0d1be 72.5px,#966d6a 75.5px,#915e61 77.5px,#8b6d5a 78.5px,#e7cab3 79.5px,#f3e5b9 80.5px,#f2d3be 83.5px,#eed3d5 84.5px,#dfd1d2 87.5px,#d3bab3 88.5px,#8f6574 90.5px,#774d5e 91.5px,#321f40 95.5px,#07060f 103.5px,#03020a 183.5px,#020209 317.5px,#02010c 321.5px,#010108 370.5px)"></i><i style="background:linear-gradient(90deg,#010108 0.5px,#010109 5.5px,#030018 7.5px,#0f0c24 11.5px,#01000c 13.5px,#020113 25.5px,#03020a 35.5px,#0d0c1a 38.5px,#010108 49.5px,#040406 63.5px,#1c1709 70.5px,#1c0e05 73.5px,#2a0605 75.5px,#49171c 76.5px,#ce9c9c 77.5px,#dfc1ab 78.5px,#ded0a4 80.5px,#d5c79c 81.5px,#8b6554 83.5px,#3e3037 86.5px,#2c1312 89.5px,#09031a 96.5px,#010108 113.5px,#010108 370.5px)"></i><i style="background:linear-gradient(90deg,#010108 0.5px,#03020c 31.5px,#0a0818 33.5px,#010109 35.5px,#010106 67.5px,#200a12 68.5px,#685257 69.5px,#7c5668 70.5px,#341f3f 73.5px,#14121c 76.5px,#23210e 80.5px,#1c1106 85.5px,#290605 87.5px,#14041f 93.5px,#020106 108.5px,#070611 181.5px,#010108 370.5px)"></i><i style="background:linear-gradient(90deg,#010108 0.5px,#03020e 26.5px,#070615 29.5px,#050312 36.5px,#070612 39.5px,#030207 57.5px,#030207 60.5px,#010106 67.5px,#220511 71.5px,#12041d 73.5px,#03010b 76.5px,#24222c 77.5px,#c5c3ae 78.5px,#e7e4cf 79.5px,#e9dfc7 84.5px,#d4cab3 85.5px,#a47e74 87.5px,#7c505f 89.5px,#332344 94.5px,#020207 106.5px,#010108 370.5px)"></i><i style="background:linear-gradient(90deg,#010108 0.5px,#02010f 25.5px,#03020f 32.5px,#03020f 42.5px,#030104 76.5px,#1d1b1d 77.5px,#ae9476 78.5px,#d3b899 79.5px,#dab98d 83.5px,#e6a688 84.5px,#d28e70 85.5px,#c06578 86.5px,#ab5064 87.5px,#8a4374 88.5px,#2f194f 94.5px,#070615 103.5px,#010108 111.5px,#06050f 261.5px,#010108 370.5px)"></i><i style="background:linear-gradient(90deg,#010108 0.5px,#04040c 11.5px,#0f0d1d 12.5px,#01000b 15.5px,#02010f 25.5px,#040310 37.5px,#0e0c1b 38.5px,#010108 41.5px,#03020e 45.5px,#050205 77.5px,#42280e 78.5px,#e2c7a8 79.5px,#f7e8bb 80.5px,#f3d7ab 83.5px,#cd896c 85.5px,#bb6174 86.5px,#a84e61 87.5px,#894273 88.5px,#301a4f 94.5px,#080716 103.5px,#010108 110.5px,#010108 370.5px)"></i><i style="background:linear-gradient(90deg,#010108 0.5px,#02010b 21.5px,#040119 26.5px,#141127 28.5px,#040310 32.5px,#03030c 35.5px,#0b091a 36.5px,#010109 39.5px,#080519 43.5px,#010108 48.5px,#010106 75.5px,#100310 77.5px,#3d1225 78.5px,#b98f9d 79.5px,#d7a8b0 80.5px,#cca7a9 83.5px,#a2767a 85.5px,#553657 89.5px,#1e172f 95.5px,#010106 107.5px,#02020d 119.5px,#03020a 125.5px,#0a0919 128.5px,#010108 134.5px,#010108 370.5px)"></i><i style="background:linear-gradient(90deg,#010108 0.5px,#010108 9.5px,#120f1f 11.5px,#03020d 13.5px,#03020f 15.5px,#010108 23.5px,#120f20 25.5px,#03020c 35.5px,#030112 37.5px,#040211 40.5px,#0f0c20 43.5px,#01010a 45.5px,#010106 75.5px,#160616 76.5px,#483947 77.5px,#663c4d 78.5px,#390d15 85.5px,#150523 91.5px,#010108 104.5px,#020209 329.5px,#010108 370.5px)"></i><i style="background:linear-gradient(90deg,#010108 0.5px,#020209 11.5px,#080021 15.5px,#010109 21.5px,#04030d 25.5px,#08051d 26.5px,#010108 32.5px,#060316 37.5px,#120e24 38.5px,#02020a 41.5px,#010105 63.5px,#1b0518 67.5px,#12041b 69.5px,#111005 70.5px,#161105 87.5px,#290605 88.5px,#270505 89.5px,#1d051a 90.5px,#060217 95.5px,#010108 110.5px,#02020a 183.5px,#080716 185.5px,#010108 191.5px,#03030b 263.5px,#0d0b1d 265.5px,#010108 270.5px,#010108 370.5px)"></i><i style="background:linear-gradient(90deg,#010108 0.5px,#010108 11.5px,#0a011b 12.5px,#201731 13.5px,#191032 15.5px,#03020a 20.5px,#05040e 25.5px,#110e25 26.5px,#010109 31.5px,#010108 35.5px,#120f21 37.5px,#010108 42.5px,#07060f 55.5px,#040307 62.5px,#251523 64.5px,#594854 65.5px,#6b4d65 66.5px,#4e3b55 68.5px,#5c4963 69.5px,#cfceb8 70.5px,#e9e8d2 71.5px,#e4e3c9 75.5px,#d7cfb7 76.5px,#eae8d0 78.5px,#ebe5cd 86.5px,#d9d3bb 87.5px,#b9918f 88.5px,#8c6464 89.5px,#3c294a 92.5px,#0a0912 98.5px,#010108 123.5px,#01000d 267.5px,#010108 370.5px)"></i><i style="background:linear-gradient(90deg,#010108 0.5px,#010109 11.5px,#0b071e 13.5px,#020109 19.5px,#080716 25.5px,#01000a 34.5px,#04040d 35.5px,#110e27 36.5px,#010108 40.5px,#070710 55.5px,#010106 61.5px,#23231b 62.5px,#b9b9ac 63.5px,#dbdac4 64.5px,#e2dfc8 69.5px,#f8eabf 70.5px,#f7e8bb 74.5px,#f4ddb1 75.5px,#fbfac9 79.5px,#fafaca 85.5px,#f9eec0 86.5px,#d6c89b 87.5px,#bb8c7b 88.5px,#996b5b 89.5px,#743847 91.5px,#622452 92.5px,#250e3c 96.5px,#040211 103.5px,#010108 123.5px,#01000d 337.5px,#010108 370.5px)"></i><i style="background:linear-gradient(90deg,#010108 0.5px,#05040c 11.5px,#110d24 12.5px,#0f0c21 15.5px,#010109 17.5px,#0d0c1a 20.5px,#010108 23.5px,#04030d 35.5px,#0e0a24 36.5px,#01010a 39.5px,#050501 62.5px,#1d1a10 67.5px,#161306 68.5px,#2d2a19 69.5px,#b19a71 70.5px,#cab289 71.5px,#d4bc90 77.5px,#f1f0c0 78.5px,#faf4c5 86.5px,#f2d1be 89.5px,#e8adb7 90.5px,#bf838f 91.5px,#854773 93.5px,#573063 95.5px,#24183b 99.5px,#010106 107.5px,#02020d 127.5px,#03020a 181.5px,#0b0a1a 184.5px,#010108 189.5px,#02020d 258.5px,#03030a 333.5px,#0d0b1d 335.5px,#010108 340.5px,#080716 345.5px,#010108 350.5px,#010108 370.5px)"></i><i style="background:linear-gradient(90deg,#010108 0.5px,#030011 27.5px,#01000c 33.5px,#010106 63.5px,#2b0608 66.5px,#1c0625 71.5px,#100b1a 75.5px,#180d07 76.5px,#40362e 77.5px,#e2d2a5 78.5px,#faf1c3 79.5px,#f6e0c7 85.5px,#f3d1cf 86.5px,#dba7a6 87.5px,#b16e94 88.5px,#924f76 89.5px,#6a3c77 90.5px,#32184e 93.5px,#090717 98.5px,#010108 114.5px,#03020e 216.5px,#03020e 219.5px,#010108 370.5px)"></i><i style="background:linear-gradient(90deg,#010108 0.5px,#05040d 21.5px,#120f21 22.5px,#01000c 25.5px,#15112b 29.5px,#03020c 35.5px,#040211 40.5px,#0e0c1b 41.5px,#010108 46.5px,#010106 63.5px,#230c0f 64.5px,#755f5f 65.5px,#93676d 66.5px,#36203f 71.5px,#171221 75.5px,#3d332b 76.5px,#b8ada1 77.5px,#e3d3a5 78.5px,#e7cfa3 82.5px,#a27862 85.5px,#824d50 87.5px,#78355d 88.5px,#6b2851 89.5px,#4f215d 90.5px,#151128 96.5px,#010106 108.5px,#060610 239.5px,#010108 370.5px)"></i><i style="background:linear-gradient(90deg,#010108 0.5px,#03020a 5.5px,#0c0a1b 7.5px,#040311 12.5px,#04030c 21.5px,#0e0b1f 22.5px,#010108 25.5px,#030015 31.5px,#050213 34.5px,#100d1e 35.5px,#010109 37.5px,#05050e 41.5px,#110f1f 42.5px,#010108 45.5px,#030305 74.5px,#232324 75.5px,#c0c09e 76.5px,#f3f2cf 77.5px,#f9f7c6 81.5px,#f7e7bb 83.5px,#f1cebb 84.5px,#cf8191 86.5px,#b26375 87.5px,#934f7f 88.5px,#311e4e 94.5px,#070610 104.5px,#03020a 111.5px,#090817 113.5px,#010108 117.5px,#03020e 230.5px,#0b091b 233.5px,#010109 235.5px,#03020e 298.5px,#0a091a 301.5px,#010108 304.5px,#010108 370.5px)"></i><i style="background:linear-gradient(90deg,#010108 0.5px,#04030c 15.5px,#0d0c19 16.5px,#01010a 20.5px,#0d0a1e 22.5px,#010108 25.5px,#110e23 31.5px,#03020e 33.5px,#040308 70.5px,#121213 75.5px,#404022 76.5px,#d8d8b5 77.5px,#faf9c8 78.5px,#f5f3c2 81.5px,#ebd1a6 82.5px,#c9ae84 83.5px,#a76c5d 85.5px,#9e5062 86.5px,#8f4053 87.5px,#773264 88.5px,#34134e 93.5px,#0a081a 100.5px,#010108 110.5px,#010108 243.5px,#010108 370.5px)"></i><i style="background:linear-gradient(90deg,#010108 0.5px,#050214 18.5px,#120f20 19.5px,#01010a 21.5px,#040216 26.5px,#110f24 28.5px,#040310 33.5px,#040018 35.5px,#01010a 37.5px,#0b091a 41.5px,#010108 44.5px,#010106 63.5px,#28060d 67.5px,#290605 69.5px,#491f0f 70.5px,#dbb29c 71.5px,#f1d0af 72.5px,#eed8bd 76.5px,#f8e7cc 77.5px,#f8eebe 78.5px,#e9d8a9 80.5px,#e0cc9f 85.5px,#deaf8d 86.5px,#bc8d6d 87.5px,#b56169 88.5px,#a14d55 89.5px,#873d6a 90.5px,#7a315e 91.5px,#411c5b 94.5px,#0c0b1d 102.5px,#010106 109.5px,#020209 233.5px,#060513 237.5px,#010108 271.5px,#010108 370.5px)"></i><i style="background:linear-gradient(90deg,#010108 0.5px,#040310 16.5px,#02020c 25.5px,#040218 28.5px,#03030f 33.5px,#130f27 35.5px,#04040d 36.5px,#030213 41.5px,#010106 63.5px,#1e0913 64.5px,#634d54 65.5px,#805462 66.5px,#855b5e 68.5px,#9e7475 69.5px,#a87e6a 70.5px,#b28570 74.5px,#9a6e59 75.5px,#8c765f 76.5px,#edd7bc 77.5px,#faf2c1 78.5px,#f8ebbe 85.5px,#ebbc9b 87.5px,#db878e 88.5px,#bc686f 89.5px,#9a507d 90.5px,#8a406d 91.5px,#4c2665 94.5px,#130f28 101.5px,#010106 108.5px,#06050f 295.5px,#010108 370.5px)"></i><i style="background:linear-gradient(90deg,#010108 0.5px,#06040e 5.5px,#1c1235 6.5px,#08061b 15.5px,#0b0820 17.5px,#03030c 19.5px,#03020e 25.5px,#04020f 29.5px,#03020e 40.5px,#0d0b1d 44.5px,#010108 48.5px,#050501 62.5px,#1d1a08 69.5px,#211708 73.5px,#320807 74.5px,#2f0706 75.5px,#491422 76.5px,#b9858e 77.5px,#d1ae8a 78.5px,#caa682 85.5px,#9f7062 87.5px,#884151 89.5px,#713164 90.5px,#2d144b 95.5px,#0b091a 101.5px,#010108 110.5px,#02020a 129.5px,#080712 132.5px,#01010c 151.5px,#03020a 177.5px,#090817 179.5px,#010108 183.5px,#010109 370.5px)"></i><i style="background:linear-gradient(90deg,#010108 0.5px,#02010a 5.5px,#06001f 6.5px,#030117 12.5px,#030017 17.5px,#02010c 20.5px,#020012 45.5px,#010106 61.5px,#25251d 62.5px,#c5c5b8 63.5px,#eae8cf 64.5px,#ede2c9 72.5px,#d6cbb2 73.5px,#966b67 75.5px,#844f5b 76.5px,#915d67 77.5px,#efcca6 78.5px,#f7e6bf 79.5px,#f4ddb7 85.5px,#f3d4c2 86.5px,#f0c9b8 87.5px,#da93a1 88.5px,#b06878 89.5px,#8b4b7d 90.5px,#361d54 94.5px,#090718 101.5px,#010108 111.5px,#02020d 150.5px,#080813 154.5px,#010108 172.5px,#03020a 245.5px,#0c0b1c 247.5px,#010108 253.5px,#02020d 366.5px,#090817 369.5px,#03020a 370.5px)"></i><i style="background:linear-gradient(90deg,#010108 0.5px,#03020d 17.5px,#03020f 37.5px,#0f0d20 43.5px,#010109 45.5px,#010106 61.5px,#25251c 62.5px,#c5c4b6 63.5px,#e9e8cc 64.5px,#e4e0c6 73.5px,#d7b7a7 74.5px,#aa8a7b 75.5px,#8b5f71 76.5px,#774b5d 77.5px,#746467 78.5px,#dbcbcb 79.5px,#ebdec8 80.5px,#91686a 83.5px,#372845 88.5px,#080710 96.5px,#010108 273.5px,#020011 370.5px)"></i><i style="background:linear-gradient(90deg,#010108 0.5px,#02020a 5.5px,#060612 8.5px,#03020e 34.5px,#070702 62.5px,#1a1a11 63.5px,#1f1b08 73.5px,#2a0906 75.5px,#2b0713 77.5px,#16060d 78.5px,#1b0e05 81.5px,#290605 83.5px,#1e0517 85.5px,#02010c 95.5px,#03020e 328.5px,#03020e 331.5px,#03020b 369.5px,#0b0a1b 370.5px)"></i><i style="background:linear-gradient(90deg,#010108 0.5px,#03030b 11.5px,#03020f 13.5px,#03020e 23.5px,#0b091a 25.5px,#010108 27.5px,#040211 40.5px,#0e0c1a 41.5px,#03020b 43.5px,#03020e 50.5px,#0c0a1c 53.5px,#020106 58.5px,#010106 61.5px,#241c15 62.5px,#a79f93 63.5px,#cab9a3 64.5px,#cbbaa4 65.5px,#e1b3af 66.5px,#e3b0ae 71.5px,#c7898c 73.5px,#954c6c 75.5px,#753f75 76.5px,#2d1845 81.5px,#090814 88.5px,#010108 113.5px,#01000c 175.5px,#03020a 185.5px,#0c0b1c 187.5px,#0a091a 189.5px,#010108 192.5px,#060610 229.5px,#020109 370.5px)"></i><i style="background:linear-gradient(90deg,#010108 0.5px,#040210 18.5px,#0d0b19 19.5px,#04030f 22.5px,#020109 55.5px,#0c0502 62.5px,#1f1810 63.5px,#372614 65.5px,#805251 66.5px,#8a5859 69.5px,#915358 73.5px,#8a4162 74.5px,#7b3253 75.5px,#5e275f 76.5px,#2c1744 80.5px,#050410 89.5px,#010108 169.5px,#0c0a1c 173.5px,#010108 178.5px,#010108 370.5px)"></i><i style="background:linear-gradient(90deg,#010108 0.5px,#06040f 5.5px,#1f1145 6.5px,#1a103c 9.5px,#090718 12.5px,#030011 23.5px,#04030b 35.5px,#0d0c1a 36.5px,#010109 40.5px,#0f0d1b 42.5px,#010108 46.5px,#080710 55.5px,#010106 61.5px,#321c1d 62.5px,#ccb7b2 63.5px,#f2d0c9 64.5px,#f3d4cf 67.5px,#f0c6c6 68.5px,#d59a9b 69.5px,#b38092 70.5px,#efbfcf 71.5px,#e9d7d7 72.5px,#d6c5c5 73.5px,#9a7375 75.5px,#6f465d 77.5px,#663f56 78.5px,#785168 79.5px,#805262 83.5px,#231735 89.5px,#04040b 96.5px,#02020d 342.5px,#010108 370.5px)"></i><i style="background:linear-gradient(90deg,#010108 0.5px,#04030e 5.5px,#16083c 6.5px,#0d022e 9.5px,#020111 12.5px,#050213 22.5px,#110e1f 23.5px,#010109 25.5px,#0f0d1c 28.5px,#010108 31.5px,#010106 61.5px,#210c0e 62.5px,#705a59 63.5px,#906561 64.5px,#905458 69.5px,#633045 71.5px,#3e2d32 72.5px,#2e070d 75.5px,#260617 77.5px,#2d0713 83.5px,#0c031e 89.5px,#010106 102.5px,#010108 370.5px)"></i><i style="background:linear-gradient(90deg,#02020d 0.5px,#090814 4.5px,#040311 13.5px,#0f0b23 14.5px,#010109 17.5px,#05040d 37.5px,#120f1f 38.5px,#02020d 42.5px,#010106 61.5px,#230a11 62.5px,#71585d 63.5px,#936169 64.5px,#83586b 66.5px,#2f203e 70.5px,#0b0a14 75.5px,#151509 77.5px,#3e1a0c 78.5px,#896555 79.5px,#b66067 80.5px,#a8535a 81.5px,#8a446f 82.5px,#7d3762 83.5px,#44215e 86.5px,#120e24 93.5px,#010106 106.5px,#03020e 288.5px,#0c0a1c 291.5px,#010108 298.5px,#02010c 335.5px,#010108 370.5px)"></i><i style="background:linear-gradient(90deg,#01000c 0.5px,#03030b 11.5px,#120e26 15.5px,#05040c 16.5px,#040311 28.5px,#0e0c1b 29.5px,#010109 31.5px,#120f1f 33.5px,#010109 35.5px,#010108 47.5px,#010106 61.5px,#360810 64.5px,#1d0623 69.5px,#04030d 74.5px,#24222c 75.5px,#bbbba9 76.5px,#dadac8 77.5px,#eecab6 78.5px,#cda996 79.5px,#c87278 80.5px,#ab555d 81.5px,#89436e 82.5px,#7a345f 83.5px,#3e1b58 86.5px,#090718 94.5px,#010108 113.5px,#02010d 289.5px,#010108 370.5px)"></i><i style="background:linear-gradient(90deg,#010108 0.5px,#040210 20.5px,#0d0c19 21.5px,#010108 25.5px,#080712 30.5px,#040210 36.5px,#040210 38.5px,#010107 61.5px,#241413 62.5px,#8f7f7a 63.5px,#b39280 64.5px,#b18983 68.5px,#926964 69.5px,#3d294a 72.5px,#1c152c 75.5px,#321f12 78.5px,#270805 83.5px,#22061c 84.5px,#04030f 90.5px,#09080f 99.5px,#03020a 161.5px,#0a0818 163.5px,#010108 166.5px,#010108 370.5px)"></i><i style="background:linear-gradient(90deg,#010108 0.5px,#0b0917 39.5px,#010108 45.5px,#05050b 61.5px,#311108 65.5px,#2d0606 69.5px,#23061c 70.5px,#080218 75.5px,#261c1e 76.5px,#a59b98 77.5px,#c7b5a2 78.5px,#c7a99c 82.5px,#a08276 83.5px,#6f4e66 84.5px,#2f223f 86.5px,#080712 90.5px,#010106 109.5px,#010108 370.5px)"></i><i style="background:linear-gradient(90deg,#010108 0.5px,#04030c 11.5px,#0f0d1b 12.5px,#010108 16.5px,#05040c 25.5px,#120f21 26.5px,#010108 32.5px,#030104 62.5px,#1e1d1f 63.5px,#ae9e7f 64.5px,#d4c4a4 65.5px,#d9be95 66.5px,#865c52 69.5px,#422e38 73.5px,#3e1126 76.5px,#2d0e33 79.5px,#04020d 87.5px,#03020e 166.5px,#050413 169.5px,#010108 191.5px,#010108 370.5px)"></i><i style="background:linear-gradient(90deg,#010108 0.5px,#030012 27.5px,#040306 63.5px,#3c2d11 64.5px,#dccdac 65.5px,#f8e9c0 66.5px,#f5dbcc 69.5px,#f6dddd 71.5px,#efd9d7 74.5px,#ccb7b6 75.5px,#a7798b 76.5px,#825467 77.5px,#332345 80.5px,#080711 86.5px,#010108 145.5px,#03020e 152.5px,#0b091b 155.5px,#010108 157.5px,#010108 370.5px)"></i><i style="background:linear-gradient(90deg,#010108 0.5px,#02010e 11.5px,#030017 13.5px,#010109 15.5px,#0e0d1b 17.5px,#010109 19.5px,#03020f 29.5px,#130e28 31.5px,#03030b 35.5px,#03020e 37.5px,#010106 63.5px,#261a14 64.5px,#a79b90 65.5px,#ccb59e 66.5px,#cfb69d 69.5px,#e7ba90 70.5px,#e2af87 75.5px,#8f4f48 77.5px,#663742 78.5px,#381216 81.5px,#0f0420 87.5px,#010106 103.5px,#010108 370.5px)"></i><i style="background:linear-gradient(90deg,#010108 0.5px,#03020f 10.5px,#120f27 13.5px,#04040c 14.5px,#03020a 22.5px,#050311 29.5px,#120d27 30.5px,#010109 34.5px,#050213 42.5px,#100e1d 44.5px,#010108 47.5px,#010106 63.5px,#200905 67.5px,#240b06 68.5px,#472e1a 69.5px,#d0a47a 70.5px,#eabd93 71.5px,#e5b28a 75.5px,#daabb2 78.5px,#b7908f 81.5px,#774d61 83.5px,#472c4e 85.5px,#161325 91.5px,#020206 104.5px,#020209 225.5px,#02010c 229.5px,#010108 370.5px)"></i><i style="background:linear-gradient(90deg,#010108 0.5px,#05040d 5.5px,#191131 6.5px,#02010a 18.5px,#120f20 20.5px,#010108 23.5px,#040213 26.5px,#0b091c 28.5px,#010108 31.5px,#0a0915 33.5px,#020209 43.5px,#010106 67.5px,#262614 68.5px,#c8c8b0 69.5px,#f7f4c5 70.5px,#f9eec1 72.5px,#e0d3a6 73.5px,#c9827f 74.5px,#9f5756 75.5px,#8c536a 76.5px,#d89eb3 77.5px,#dcb6b9 78.5px,#d1b6ae 81.5px,#c7a2a1 82.5px,#957071 83.5px,#583453 85.5px,#2e1b3e 87.5px,#07070f 92.5px,#03020e 348.5px,#03020e 351.5px,#010108 370.5px)"></i><i style="background:linear-gradient(90deg,#010108 0.5px,#02010a 5.5px,#05001d 7.5px,#02010a 19.5px,#050314 27.5px,#030113 29.5px,#02020a 35.5px,#010106 67.5px,#262513 68.5px,#c4c3ac 69.5px,#eae7b9 70.5px,#e9dbae 73.5px,#e39c98 74.5px,#af6765 75.5px,#834a62 76.5px,#442926 81.5px,#391317 83.5px,#2c0829 84.5px,#050310 90.5px,#020209 153.5px,#010108 370.5px)"></i><i style="background:linear-gradient(90deg,#010108 0.5px,#05040c 11.5px,#110e23 12.5px,#010109 15.5px,#040212 22.5px,#0f0d1f 24.5px,#050313 26.5px,#0f0d1c 27.5px,#010108 30.5px,#010109 33.5px,#100d22 35.5px,#02010a 37.5px,#030307 59.5px,#0b0a14 61.5px,#131205 65.5px,#210504 67.5px,#220928 70.5px,#0d071a 75.5px,#2b2729 76.5px,#bfbcb9 77.5px,#e0dcca 78.5px,#dfd1bc 82.5px,#83575c 85.5px,#362042 89.5px,#080811 96.5px,#02010b 130.5px,#02020d 210.5px,#03020e 224.5px,#03020e 227.5px,#03020a 237.5px,#0a0818 239.5px,#010108 242.5px,#070611 259.5px,#010108 370.5px)"></i><i style="background:linear-gradient(90deg,#010108 0.5px,#020109 11.5px,#0a071c 13.5px,#020109 15.5px,#03030b 33.5px,#0a071b 34.5px,#010108 39.5px,#02010b 61.5px,#23231f 62.5px,#b9b8af 63.5px,#dbdac2 64.5px,#d5d4bc 65.5px,#c5a79a 66.5px,#997a6f 67.5px,#674153 69.5px,#2d203c 72.5px,#151114 76.5px,#211e10 80.5px,#2d060a 85.5px,#22061d 86.5px,#03020b 96.5px,#010108 370.5px)"></i><i style="background:linear-gradient(90deg,#010108 0.5px,#020109 5.5px,#04001a 7.5px,#040211 14.5px,#01000e 19.5px,#040210 24.5px,#0d0c1b 32.5px,#010108 35.5px,#040307 62.5px,#300716 66.5px,#0d031b 70.5px,#060108 76.5px,#18131a 77.5px,#8a625d 78.5px,#9d746f 79.5px,#996a67 83.5px,#422b4d 88.5px,#100e1d 96.5px,#010108 111.5px,#02010b 169.5px,#03020a 199.5px,#0c0b1c 201.5px,#010108 207.5px,#03020a 355.5px,#0b091e 357.5px,#010108 363.5px,#010108 370.5px)"></i><i style="background:linear-gradient(90deg,#010108 0.5px,#05040c 5.5px,#16102c 6.5px,#100c24 9.5px,#01010d 13.5px,#110e21 16.5px,#010108 22.5px,#070217 26.5px,#16122b 28.5px,#010108 35.5px,#0f0d1c 37.5px,#010108 40.5px,#010105 63.5px,#240d11 64.5px,#7c6565 65.5px,#956c77 66.5px,#7c535f 67.5px,#472e4d 69.5px,#0f0c16 74.5px,#0b050d 77.5px,#2c0605 78.5px,#320706 83.5px,#160522 88.5px,#010107 104.5px,#03020a 161.5px,#0a0919 163.5px,#010109 165.5px,#020109 355.5px,#050318 357.5px,#010108 366.5px,#010108 370.5px)"></i><i style="background:linear-gradient(90deg,#010108 0.5px,#030011 17.5px,#100d22 19.5px,#01000c 21.5px,#0e0c1c 24.5px,#03020a 28.5px,#03030a 35.5px,#04030f 37.5px,#02020a 51.5px,#070615 53.5px,#010106 59.5px,#010106 63.5px,#25231c 64.5px,#c0bfb2 65.5px,#e3e0c9 66.5px,#dcd9c9 69.5px,#e4bab0 70.5px,#c69c93 71.5px,#c36d7c 72.5px,#ab5665 73.5px,#88385b 75.5px,#693952 76.5px,#65354e 77.5px,#645544 78.5px,#cfc0ac 79.5px,#dfc49b 80.5px,#bda27b 81.5px,#b77368 82.5px,#9f5b51 83.5px,#91435f 84.5px,#843552 85.5px,#692d60 86.5px,#21123d 92.5px,#03030d 102.5px,#06050f 133.5px,#010108 370.5px)"></i><i style="background:linear-gradient(90deg,#010108 0.5px,#04040d 11.5px,#03020f 13.5px,#010108 15.5px,#120f20 17.5px,#040311 22.5px,#020011 25.5px,#060401 64.5px,#1d1b11 69.5px,#441a16 70.5px,#7d534d 71.5px,#a44f5e 72.5px,#9a4b6d 75.5px,#98687f 76.5px,#efc2d6 77.5px,#f4e5d0 78.5px,#f9ecd7 79.5px,#f5e0b7 81.5px,#d38f83 83.5px,#b66883 84.5px,#a0526e 85.5px,#814477 86.5px,#2a1b45 92.5px,#06060f 102.5px,#03020a 121.5px,#0a0919 124.5px,#010108 130.5px,#02020a 213.5px,#080716 217.5px,#010108 222.5px,#010108 370.5px)"></i><i style="background:linear-gradient(90deg,#010108 0.5px,#010108 3.5px,#1e031a 4.5px,#543a51 5.5px,#663a68 6.5px,#532754 7.5px,#231a38 8.5px,#0a071a 10.5px,#100e21 11.5px,#010109 13.5px,#050214 16.5px,#131021 17.5px,#02010a 19.5px,#040313 23.5px,#040212 28.5px,#050205 65.5px,#250505 66.5px,#1c1707 75.5px,#472b10 76.5px,#bea383 77.5px,#e8ad96 78.5px,#e7ab94 79.5px,#e19caa 80.5px,#b16c7c 81.5px,#7f487f 82.5px,#41245b 84.5px,#100c21 88.5px,#020207 98.5px,#020209 107.5px,#010108 370.5px)"></i><i style="background:linear-gradient(90deg,#010108 0.5px,#010108 3.5px,#200021 7.5px,#07001c 8.5px,#010108 15.5px,#050312 27.5px,#040211 29.5px,#04040c 31.5px,#100e1e 32.5px,#010108 36.5px,#040104 64.5px,#181518 65.5px,#8f6b62 66.5px,#a48075 67.5px,#a88075 69.5px,#af9987 70.5px,#e8d1be 71.5px,#e7e3ca 73.5px,#e7e3ca 75.5px,#f3d9b8 76.5px,#dcc1a0 77.5px,#d08e79 78.5px,#b1705b 79.5px,#995465 80.5px,#833e4f 81.5px,#632c64 82.5px,#211739 86.5px,#04040b 94.5px,#010108 370.5px)"></i><i style="background:linear-gradient(90deg,#010108 0.5px,#03020a 5.5px,#080716 7.5px,#010108 23.5px,#030014 27.5px,#04030d 33.5px,#0d0b1d 34.5px,#020209 39.5px,#0c0a0d 67.5px,#0e090b 68.5px,#241f21 69.5px,#a18071 70.5px,#bb9a8a 71.5px,#bd9b89 75.5px,#bbaa95 76.5px,#e8d6c0 77.5px,#ede7c5 79.5px,#dcbba1 80.5px,#9d7b64 81.5px,#71525b 82.5px,#40303b 84.5px,#2a1613 89.5px,#30070f 91.5px,#130422 96.5px,#010108 110.5px,#03020e 184.5px,#0a0915 188.5px,#010108 196.5px,#02020e 335.5px,#070617 337.5px,#010108 341.5px,#02020a 353.5px,#080716 355.5px,#010108 361.5px,#010108 370.5px)"></i><i style="background:linear-gradient(90deg,#010108 0.5px,#03020e 25.5px,#110e22 27.5px,#010109 29.5px,#060610 36.5px,#070104 69.5px,#240504 70.5px,#1f0d06 77.5px,#3d371b 78.5px,#d4cead 79.5px,#f6e0c5 80.5px,#f5dcc2 81.5px,#f5d8dd 82.5px,#e0d9d4 87.5px,#dac6bc 88.5px,#8e636a 91.5px,#3e294b 96.5px,#010106 107.5px,#010109 211.5px,#050512 335.5px,#010108 370.5px)"></i><i style="background:linear-gradient(90deg,#010108 0.5px,#010108 25.5px,#04001b 29.5px,#100d24 32.5px,#01010b 35.5px,#010106 61.5px,#240612 65.5px,#0c031c 69.5px,#050107 76.5px,#120d14 77.5px,#6a4253 78.5px,#825a6a 79.5px,#7a5165 85.5px,#2c223a 90.5px,#06050d 99.5px,#010108 370.5px)"></i><i style="background:linear-gradient(90deg,#010108 0.5px,#03020f 10.5px,#03030b 17.5px,#03020e 19.5px,#010108 25.5px,#1a1431 28.5px,#010109 37.5px,#010106 61.5px,#1c0814 62.5px,#5a4650 63.5px,#744c5f 64.5px,#714a5d 65.5px,#271937 69.5px,#07060e 74.5px,#0d080f 77.5px,#2a0715 78.5px,#290717 85.5px,#0b031a 91.5px,#010108 112.5px,#03020e 142.5px,#03020e 145.5px,#03030a 167.5px,#0d0b1d 169.5px,#0b091b 171.5px,#010108 173.5px,#050511 337.5px,#010108 370.5px)"></i><i style="background:linear-gradient(90deg,#010108 0.5px,#04030d 5.5px,#130c34 6.5px,#020012 13.5px,#010108 25.5px,#0f002c 26.5px,#281545 27.5px,#331264 28.5px,#311163 29.5px,#0f0b2b 33.5px,#02020a 40.5px,#07060b 63.5px,#1c1407 68.5px,#26060e 73.5px,#1c0519 75.5px,#340929 76.5px,#805273 77.5px,#9b5e7e 78.5px,#8e6171 84.5px,#362446 90.5px,#07060f 101.5px,#03020e 152.5px,#0a0915 156.5px,#010108 164.5px,#03020a 211.5px,#0a0919 213.5px,#010108 216.5px,#01010b 285.5px,#060517 287.5px,#010108 295.5px,#03030a 301.5px,#0d0b1d 303.5px,#010108 308.5px,#020209 350.5px,#010108 370.5px)"></i><i style="background:linear-gradient(90deg,#010108 0.5px,#04040d 5.5px,#140d35 6.5px,#0b0a1c 12.5px,#0b091a 15.5px,#010108 18.5px,#010108 25.5px,#0f002c 26.5px,#271443 27.5px,#301061 28.5px,#07051b 34.5px,#010108 48.5px,#020106 63.5px,#24211c 64.5px,#b8b5aa 65.5px,#d9d6c1 66.5px,#cbc3af 69.5px,#c6a296 70.5px,#a78479 71.5px,#5a3a55 75.5px,#49142e 80.5px,#320818 85.5px,#0a031d 92.5px,#010108 110.5px,#020209 225.5px,#070714 227.5px,#010108 238.5px,#070611 285.5px,#070612 288.5px,#020012 302.5px,#010108 370.5px)"></i><i style="background:linear-gradient(90deg,#010108 0.5px,#020011 26.5px,#020110 31.5px,#040114 34.5px,#0b091c 35.5px,#010108 38.5px,#040406 64.5px,#101011 67.5px,#1b0f06 68.5px,#42362b 69.5px,#e4cba0 70.5px,#f7e8bb 71.5px,#f4dbb0 73.5px,#e2948f 74.5px,#b36461 75.5px,#874475 76.5px,#723061 77.5px,#4d2662 78.5px,#17122a 82.5px,#040106 90.5px,#010108 139.5px,#03030a 313.5px,#0b0a1a 315.5px,#010108 318.5px,#010108 370.5px)"></i><i style="background:linear-gradient(90deg,#010108 0.5px,#03030b 11.5px,#0c0b18 12.5px,#03020a 15.5px,#080713 25.5px,#0f0c24 29.5px,#03020d 33.5px,#0d0a1d 35.5px,#01010a 37.5px,#040308 63.5px,#101011 67.5px,#33271c 68.5px,#ada192 69.5px,#ddc499 70.5px,#dbbe94 73.5px,#d68783 74.5px,#af605d 75.5px,#884676 76.5px,#7b396a 77.5px,#59326e 78.5px,#262139 82.5px,#0a070c 92.5px,#03020a 355.5px,#03020d 357.5px,#010108 370.5px)"></i><i style="background:linear-gradient(90deg,#010108 0.5px,#05040f 27.5px,#120d26 28.5px,#010108 31.5px,#100e1d 33.5px,#010109 37.5px,#0d0c1a 40.5px,#010108 49.5px,#020104 62.5px,#222223 63.5px,#babaa3 64.5px,#dcdcc4 65.5px,#f5f5c7 69.5px,#f3d6c6 73.5px,#d18884 75.5px,#c07c7f 76.5px,#edbcbc 77.5px,#f3d3c9 78.5px,#f0c8c0 88.5px,#a86174 91.5px,#8b4d7b 92.5px,#2f1d4b 98.5px,#0c0a1b 105.5px,#010106 107.5px,#090814 116.5px,#010108 126.5px,#03020d 324.5px,#010108 370.5px)"></i><i style="background:linear-gradient(90deg,#010108 0.5px,#070611 13.5px,#03030b 23.5px,#0b0a17 24.5px,#05040e 27.5px,#110d26 28.5px,#010108 31.5px,#100e1f 35.5px,#010109 37.5px,#01000e 41.5px,#040406 63.5px,#101005 64.5px,#323220 65.5px,#cacba0 66.5px,#eaebbf 67.5px,#ebebbd 69.5px,#eedab1 70.5px,#b5a17a 71.5px,#9a6c61 72.5px,#93655a 73.5px,#a15855 75.5px,#92675e 85.5px,#8b5652 89.5px,#7c3549 91.5px,#682959 92.5px,#241240 98.5px,#010106 108.5px,#030213 115.5px,#010108 144.5px,#010108 233.5px,#01010a 269.5px,#010108 370.5px)"></i><i style="background:linear-gradient(90deg,#010108 0.5px,#03020a 5.5px,#080617 7.5px,#020109 13.5px,#090719 15.5px,#010108 19.5px,#100e1e 21.5px,#040311 23.5px,#100e1e 24.5px,#040016 26.5px,#0d0529 28.5px,#010010 32.5px,#130f2a 35.5px,#04040f 36.5px,#010109 47.5px,#01000e 51.5px,#040107 63.5px,#200513 64.5px,#240927 68.5px,#0b0611 78.5px,#010108 260.5px,#03020a 317.5px,#03020d 319.5px,#010108 370.5px)"></i><i style="background:linear-gradient(90deg,#010108 0.5px,#02020a 13.5px,#0e0c1f 15.5px,#01010a 17.5px,#09011b 26.5px,#1d1630 27.5px,#181034 29.5px,#070616 33.5px,#06021d 35.5px,#03020d 37.5px,#0d0c1b 39.5px,#010108 42.5px,#03030a 47.5px,#0d0b1e 49.5px,#010108 53.5px,#030106 62.5px,#100d12 63.5px,#603c51 64.5px,#724d63 66.5px,#2b1f35 72.5px,#06030a 82.5px,#03020a 337.5px,#0a0919 340.5px,#010108 346.5px,#010108 370.5px)"></i><i style="background:linear-gradient(90deg,#010108 0.5px,#06050e 5.5px,#1d1236 6.5px,#0f082a 12.5px,#0c062a 15.5px,#02020e 21.5px,#0c0b1b 31.5px,#010108 35.5px,#020206 63.5px,#290d16 64.5px,#765a60 65.5px,#b35b6d 66.5px,#a85571 74.5px,#984461 75.5px,#6d396f 76.5px,#271a3a 80.5px,#07050e 87.5px,#03020a 289.5px,#0b0a1a 291.5px,#010108 297.5px,#010108 370.5px)"></i><i style="background:linear-gradient(90deg,#010108 0.5px,#02010a 5.5px,#070020 6.5px,#020016 11.5px,#181236 14.5px,#050511 21.5px,#050314 28.5px,#06050e 43.5px,#120f20 44.5px,#010108 47.5px,#010106 63.5px,#2a0d16 65.5px,#984054 66.5px,#a94e62 68.5px,#a24e6a 74.5px,#974360 75.5px,#643067 76.5px,#4e1a52 77.5px,#1c1030 80.5px,#08050f 87.5px,#010108 370.5px)"></i><i style="background:linear-gradient(90deg,#010108 0.5px,#010010 11.5px,#10002c 15.5px,#120b30 18.5px,#06021f 20.5px,#120d2b 21.5px,#020012 23.5px,#08011d 26.5px,#20153d 28.5px,#080616 32.5px,#050214 37.5px,#100c23 38.5px,#02020e 40.5px,#0f0d21 43.5px,#010109 45.5px,#050507 65.5px,#1a1809 67.5px,#240e06 76.5px,#341d0e 77.5px,#9e614f 78.5px,#ae715e 79.5px,#b76460 81.5px,#b06075 82.5px,#a25e80 84.5px,#3c2750 90.5px,#0a0913 100.5px,#03030d 114.5px,#03020a 165.5px,#0c0b1c 167.5px,#010108 173.5px,#03020a 179.5px,#0b0a1a 181.5px,#010108 187.5px,#020209 217.5px,#070714 219.5px,#010108 227.5px,#03020a 275.5px,#0c0b1c 277.5px,#0a091a 279.5px,#010108 282.5px,#010108 370.5px)"></i><i style="background:linear-gradient(90deg,#010108 0.5px,#0f0d21 8.5px,#090717 11.5px,#2f184b 14.5px,#080618 24.5px,#0a0027 29.5px,#020111 33.5px,#100d23 38.5px,#02010d 41.5px,#020104 64.5px,#222123 65.5px,#bbb9a4 66.5px,#dbd9c3 67.5px,#d8d4bd 73.5px,#c5b39d 75.5px,#c9b29e 77.5px,#e8ae99 78.5px,#eab49e 79.5px,#e1918b 80.5px,#c16e69 81.5px,#672247 85.5px,#311240 88.5px,#050213 96.5px,#010108 130.5px,#060610 229.5px,#010108 370.5px)"></i><i style="background:linear-gradient(90deg,#010108 0.5px,#020109 11.5px,#0e002b 15.5px,#130f29 18.5px,#02010d 21.5px,#040112 25.5px,#0c001f 26.5px,#231836 27.5px,#2c184b 28.5px,#2a1649 29.5px,#090816 32.5px,#04030f 39.5px,#110d24 42.5px,#010108 45.5px,#040406 65.5px,#101011 73.5px,#11100f 77.5px,#3e3e20 78.5px,#d6d6b2 79.5px,#f8f4c5 80.5px,#ebe4b9 83.5px,#98725e 85.5px,#5d3e48 87.5px,#3a2630 89.5px,#350c18 91.5px,#0d031f 97.5px,#010106 109.5px,#06050f 175.5px,#020209 193.5px,#02010c 197.5px,#010108 370.5px)"></i><i style="background:linear-gradient(90deg,#010108 0.5px,#020109 11.5px,#0d001f 12.5px,#251837 13.5px,#22123f 15.5px,#02020b 22.5px,#110e1f 25.5px,#08001c 27.5px,#120032 29.5px,#05001b 30.5px,#010108 37.5px,#050313 41.5px,#110c24 42.5px,#010108 45.5px,#010108 54.5px,#040308 63.5px,#101011 72.5px,#111010 76.5px,#31302f 77.5px,#cdcca9 78.5px,#f7f6d1 79.5px,#f6f0c4 83.5px,#f4d9c2 85.5px,#f5d7db 86.5px,#e9d4d9 88.5px,#d5c0c5 89.5px,#936b73 91.5px,#41284a 95.5px,#100e1c 101.5px,#010106 109.5px,#020209 199.5px,#080712 202.5px,#02020d 210.5px,#010108 370.5px)"></i><i style="background:linear-gradient(90deg,#010108 0.5px,#05040e 5.5px,#190d3f 6.5px,#080420 12.5px,#0a081d 19.5px,#01010a 23.5px,#05040e 25.5px,#100c24 26.5px,#02010a 29.5px,#04030c 37.5px,#0f0d1c 38.5px,#010108 48.5px,#020104 62.5px,#222123 63.5px,#bbb9a4 64.5px,#dcd9c3 65.5px,#dcddc3 77.5px,#e3e0c6 79.5px,#d0b49e 80.5px,#b78b86 82.5px,#9e726e 83.5px,#4e3858 88.5px,#13111f 96.5px,#010108 111.5px,#020209 135.5px,#070614 137.5px,#010108 154.5px,#03020a 283.5px,#0b0a1a 285.5px,#010108 291.5px,#010108 370.5px)"></i><i style="background:linear-gradient(90deg,#010108 0.5px,#05040e 5.5px,#1a0e40 6.5px,#150d37 9.5px,#08051f 11.5px,#171132 15.5px,#02020b 23.5px,#02010a 25.5px,#120e26 27.5px,#05040d 28.5px,#04040c 31.5px,#100e1d 32.5px,#010108 35.5px,#0b0a1b 41.5px,#010108 44.5px,#07070f 55.5px,#050507 63.5px,#1b1909 65.5px,#1f1c08 79.5px,#330707 82.5px,#150420 89.5px,#010106 107.5px,#03020e 238.5px,#03020e 241.5px,#03020a 275.5px,#0c0b1c 277.5px,#010108 282.5px,#03020e 340.5px,#0a091a 343.5px,#010108 346.5px,#010108 370.5px)"></i><i style="background:linear-gradient(90deg,#010108 0.5px,#02010a 11.5px,#181329 13.5px,#070517 17.5px,#020209 23.5px,#0c0920 27.5px,#010108 39.5px,#040103 62.5px,#161315 63.5px,#8a6051 64.5px,#9c7263 65.5px,#9f7261 69.5px,#a5876a 70.5px,#edcfaf 71.5px,#f3d4be 73.5px,#f0d4d5 74.5px,#e1d2d4 77.5px,#d6bdb6 78.5px,#b59c96 79.5px,#a77d7f 82.5px,#8d6266 83.5px,#352343 88.5px,#070710 97.5px,#03020a 135.5px,#0c0b1c 137.5px,#0a091a 139.5px,#010108 142.5px,#070611 265.5px,#070611 271.5px,#010108 370.5px)"></i><i style="background:linear-gradient(90deg,#010108 0.5px,#040212 18.5px,#040212 24.5px,#110e25 27.5px,#01010c 30.5px,#04030f 33.5px,#0f0d1d 34.5px,#010108 38.5px,#0e0c1a 42.5px,#010108 46.5px,#040103 62.5px,#252224 63.5px,#ddb3a2 64.5px,#f2d3c0 65.5px,#f3d6b7 70.5px,#e1c3a4 71.5px,#8d6755 73.5px,#45363e 76.5px,#482f2d 78.5px,#34110d 81.5px,#2e070b 83.5px,#18051f 86.5px,#010109 99.5px,#03020a 155.5px,#0b0a1a 157.5px,#010108 163.5px,#06050f 257.5px,#02020d 342.5px,#010108 370.5px)"></i><i style="background:linear-gradient(90deg,#010108 0.5px,#0d0715 5.5px,#551771 6.5px,#5c1e78 7.5px,#26134b 11.5px,#340d62 15.5px,#1e1443 16.5px,#06041b 19.5px,#010109 32.5px,#04040c 33.5px,#100d24 34.5px,#05040c 39.5px,#110e1f 40.5px,#010108 46.5px,#040307 63.5px,#110f13 70.5px,#08030a 75.5px,#2a231f 76.5px,#c1bab0 77.5px,#efc6b3 78.5px,#d89d8b 79.5px,#b45f73 80.5px,#943f54 81.5px,#622e68 82.5px,#2e1a4b 84.5px,#0b0a17 88.5px,#010106 100.5px,#03020a 291.5px,#090817 293.5px,#010108 297.5px,#010108 370.5px)"></i><i style="background:linear-gradient(90deg,#010108 0.5px,#0d0715 5.5px,#53146f 6.5px,#4f116b 7.5px,#18053d 10.5px,#200040 12.5px,#452464 13.5px,#40196e 14.5px,#330c61 15.5px,#1b103f 16.5px,#040310 20.5px,#020109 33.5px,#0d0921 35.5px,#010109 39.5px,#060514 45.5px,#010106 61.5px,#0f0805 76.5px,#2b241f 77.5px,#a46959 78.5px,#b27767 79.5px,#ba6579 80.5px,#a75267 81.5px,#6e3b74 82.5px,#301c4c 84.5px,#080714 88.5px,#010106 101.5px,#080811 105.5px,#010108 118.5px,#060610 153.5px,#02020d 194.5px,#090818 197.5px,#010108 205.5px,#02020a 255.5px,#080813 258.5px,#010108 275.5px,#03020e 322.5px,#03020e 325.5px,#010108 370.5px)"></i><i style="background:linear-gradient(90deg,#010108 0.5px,#090614 5.5px,#371a4f 6.5px,#3a1e53 7.5px,#070616 11.5px,#02000e 27.5px,#03020a 33.5px,#040214 35.5px,#020010 42.5px,#010109 61.5px,#1f0913 62.5px,#634d55 63.5px,#815562 64.5px,#7a5365 66.5px,#4c2f43 69.5px,#542f32 70.5px,#785355 71.5px,#8a5854 73.5px,#945a57 81.5px,#794448 83.5px,#3c2326 86.5px,#310911 89.5px,#180523 92.5px,#010109 102.5px,#020209 129.5px,#080712 132.5px,#010108 212.5px,#02010d 255.5px,#010108 370.5px)"></i><i style="background:linear-gradient(90deg,#010108 0.5px,#050211 5.5px,#14002d 6.5px,#02000b 13.5px,#03020e 17.5px,#03030a 25.5px,#100e1e 28.5px,#020209 31.5px,#040214 34.5px,#120f21 37.5px,#02010a 39.5px,#050213 42.5px,#100e1e 43.5px,#010109 45.5px,#04040c 61.5px,#28060c 65.5px,#230511 67.5px,#35182d 68.5px,#bda0b0 69.5px,#e4bebd 70.5px,#f0c7bf 72.5px,#ebb6b6 83.5px,#cab1af 87.5px,#926b6f 89.5px,#4b3355 92.5px,#191429 97.5px,#020106 106.5px,#03020e 254.5px,#0d0b1e 257.5px,#010109 262.5px,#03030a 311.5px,#0d0b1d 313.5px,#010108 318.5px,#010108 370.5px)"></i><i style="background:linear-gradient(90deg,#010108 0.5px,#020015 9.5px,#01010c 25.5px,#360346 28.5px,#280144 31.5px,#090026 34.5px,#08041e 37.5px,#130f2c 38.5px,#01000d 41.5px,#040305 68.5px,#0e0c0e 69.5px,#33271e 70.5px,#b0a496 71.5px,#d4b5a2 72.5px,#926469 75.5px,#704b62 77.5px,#766058 78.5px,#dac5b9 79.5px,#eee1b3 80.5px,#ecdfb1 81.5px,#e7c6a3 82.5px,#b79675 83.5px,#a66069 84.5px,#8d4751 85.5px,#6f3361 86.5px,#27123e 90.5px,#050311 97.5px,#020209 111.5px,#02010c 115.5px,#02020d 198.5px,#02020d 301.5px,#060513 305.5px,#010108 339.5px,#010108 370.5px)"></i><i style="background:linear-gradient(90deg,#010108 0.5px,#090815 4.5px,#060512 5.5px,#16102c 6.5px,#0a061c 12.5px,#17122c 14.5px,#03030e 24.5px,#060511 25.5px,#1c0129 26.5px,#4e335b 27.5px,#663476 28.5px,#461f62 31.5px,#130f29 36.5px,#020108 46.5px,#040307 64.5px,#100f10 69.5px,#2f070a 74.5px,#230617 77.5px,#3a251f 78.5px,#dbc6ba 79.5px,#f9eebf 80.5px,#f2d5b2 83.5px,#df99a0 84.5px,#b56f77 85.5px,#8d507e 86.5px,#37224d 90.5px,#070710 98.5px,#010108 166.5px,#080712 229.5px,#02020d 264.5px,#090817 267.5px,#010108 271.5px,#070611 301.5px,#010108 370.5px)"></i><i style="background:linear-gradient(90deg,#010108 0.5px,#050213 10.5px,#0e0923 13.5px,#03010e 15.5px,#010109 25.5px,#1d002a 26.5px,#3e184b 27.5px,#51126c 28.5px,#120036 33.5px,#020112 38.5px,#050106 63.5px,#451719 64.5px,#d0a29e 65.5px,#edbdaf 66.5px,#eab2ad 70.5px,#ca8c88 71.5px,#9e5d83 72.5px,#834369 73.5px,#5c3869 74.5px,#2c1a42 77.5px,#402734 78.5px,#8f7580 79.5px,#a77d81 80.5px,#8b6166 81.5px,#4e334f 83.5px,#1a1624 86.5px,#030207 94.5px,#03020f 318.5px,#0b091b 321.5px,#010108 323.5px,#010108 370.5px)"></i><i style="background:linear-gradient(90deg,#010108 0.5px,#050213 11.5px,#15102a 13.5px,#04020f 15.5px,#010109 25.5px,#21002e 26.5px,#532d5f 27.5px,#6a2a85 28.5px,#2a174e 32.5px,#070614 40.5px,#040105 62.5px,#130f14 63.5px,#7a4c4c 64.5px,#936564 65.5px,#995a58 71.5px,#804066 72.5px,#6c2c53 73.5px,#4b2658 74.5px,#27153d 77.5px,#2c1220 78.5px,#320810 81.5px,#200622 82.5px,#03010c 89.5px,#03020a 183.5px,#090817 185.5px,#03030d 188.5px,#030210 334.5px,#0a0819 337.5px,#010108 340.5px,#010108 370.5px)"></i><i style="background:linear-gradient(90deg,#010108 0.5px,#0d0a13 5.5px,#4f2957 6.5px,#37194f 9.5px,#251441 11.5px,#2e0b4e 12.5px,#3b185b 13.5px,#490f70 14.5px,#290756 17.5px,#0b0727 20.5px,#020111 25.5px,#150126 27.5px,#260849 28.5px,#200143 29.5px,#0b0222 30.5px,#02010b 37.5px,#0c0b1a 41.5px,#04040d 43.5px,#0f0d1c 44.5px,#010108 47.5px,#0c070b 69.5px,#2d2822 70.5px,#c2bdb2 71.5px,#e0ddc8 72.5px,#ddddc5 77.5px,#ecebc0 79.5px,#efe2b7 80.5px,#cdbf96 81.5px,#b57b71 82.5px,#8f554d 83.5px,#77345c 84.5px,#65214a 85.5px,#421951 86.5px,#0d0623 91.5px,#010107 99.5px,#03020e 216.5px,#0a0819 219.5px,#010108 222.5px,#06050f 315.5px,#010108 370.5px)"></i><i style="background:linear-gradient(90deg,#010108 0.5px,#04000a 5.5px,#1d0025 6.5px,#0b0027 11.5px,#1c003c 12.5px,#3e1c5e 13.5px,#521979 14.5px,#501778 15.5px,#1e1144 19.5px,#080717 24.5px,#060515 25.5px,#160328 26.5px,#362247 27.5px,#3f2062 28.5px,#341557 29.5px,#1e1535 30.5px,#04020f 35.5px,#040312 38.5px,#040312 40.5px,#040307 62.5px,#110e11 67.5px,#151406 76.5px,#353523 77.5px,#d1cfa6 78.5px,#f2f0c5 79.5px,#f6e9be 81.5px,#efc6ba 82.5px,#d1978d 83.5px,#a66289 84.5px,#8a466e 85.5px,#623970 86.5px,#201936 90.5px,#04040c 97.5px,#02020d 204.5px,#010108 370.5px)"></i><i style="background:linear-gradient(90deg,#010108 0.5px,#05040d 5.5px,#1a1133 6.5px,#1b1233 9.5px,#070512 13.5px,#010108 25.5px,#23002e 26.5px,#593163 27.5px,#762d89 28.5px,#702784 29.5px,#4e2770 30.5px,#1b1533 34.5px,#04030f 41.5px,#010106 61.5px,#25221b 62.5px,#bcb9ad 63.5px,#f2d1c4 64.5px,#edbdb1 67.5px,#ae6673 69.5px,#8a4c7a 70.5px,#3a2152 74.5px,#27183b 76.5px,#2e1f42 77.5px,#734c67 78.5px,#78526c 81.5px,#301e3f 85.5px,#06060e 92.5px,#03020a 275.5px,#0a0919 277.5px,#010108 284.5px,#010108 370.5px)"></i><i style="background:linear-gradient(90deg,#010108 0.5px,#02010a 5.5px,#06001e 6.5px,#05030e 17.5px,#100d1e 18.5px,#010109 21.5px,#010108 25.5px,#1f002a 26.5px,#40184b 27.5px,#59106c 28.5px,#530a67 29.5px,#320a54 30.5px,#06001e 34.5px,#02020e 41.5px,#0f0d21 43.5px,#010109 45.5px,#070401 62.5px,#201d16 63.5px,#815950 64.5px,#96655d 66.5px,#944c5a 68.5px,#833c4a 69.5px,#6d2e5d 70.5px,#692b5a 71.5px,#321a4b 75.5px,#211235 77.5px,#2e0824 79.5px,#030110 89.5px,#03030a 135.5px,#0b0a1a 137.5px,#010108 140.5px,#03020a 185.5px,#0c0b1c 187.5px,#010108 193.5px,#010108 370.5px)"></i><i style="background:linear-gradient(90deg,#010108 0.5px,#01000f 25.5px,#100831 30.5px,#0b0827 33.5px,#010011 35.5px,#03030a 51.5px,#0d0b1d 53.5px,#010106 58.5px,#111009 63.5px,#1d1607 65.5px,#2e0809 66.5px,#2b0606 67.5px,#230620 68.5px,#21061e 69.5px,#341c30 70.5px,#baa2b2 71.5px,#d4c2b9 72.5px,#d3bdae 74.5px,#bca698 75.5px,#b2707b 76.5px,#9b5964 77.5px,#9e4b69 78.5px,#5c1a43 81.5px,#250726 87.5px,#03010d 96.5px,#02020d 161.5px,#02020a 329.5px,#010108 370.5px)"></i><i style="background:linear-gradient(90deg,#010108 0.5px,#060413 10.5px,#0d0a19 12.5px,#070712 23.5px,#0c021f 26.5px,#211633 27.5px,#271744 28.5px,#080718 36.5px,#0e0c1e 39.5px,#04040e 41.5px,#0d0b19 42.5px,#010108 46.5px,#010109 55.5px,#010106 61.5px,#25241c 62.5px,#c3c1b4 63.5px,#e8e1ca 64.5px,#dfd8c0 65.5px,#c49d99 66.5px,#8f6866 67.5px,#53314e 69.5px,#422a3e 71.5px,#34221e 73.5px,#2c160d 75.5px,#510e1c 76.5px,#914f5a 77.5px,#a95674 78.5px,#a05e84 81.5px,#8a5b76 85.5px,#372747 90.5px,#080710 99.5px,#03020e 128.5px,#03020e 131.5px,#06050f 325.5px,#010108 370.5px)"></i><i style="background:linear-gradient(90deg,#010108 0.5px,#0a0412 5.5px,#45065d 6.5px,#3e0865 9.5px,#250a54 11.5px,#2d0d4a 12.5px,#4d2e6a 13.5px,#5e2e71 14.5px,#17122f 20.5px,#050410 27.5px,#060314 32.5px,#110e1f 33.5px,#02010b 35.5px,#030213 39.5px,#010106 61.5px,#271712 62.5px,#9d8e84 63.5px,#b89089 64.5px,#9b736d 65.5px,#553753 68.5px,#543653 69.5px,#936567 70.5px,#9a6d6f 74.5px,#734a5e 77.5px,#725b5f 78.5px,#cab3b3 79.5px,#d8ccb5 80.5px,#d5c5b0 88.5px,#c5b6a2 89.5px,#906866 91.5px,#452c4a 95.5px,#141122 101.5px,#020207 107.5px,#03020e 334.5px,#0a091a 337.5px,#010108 340.5px,#010108 370.5px)"></i><i style="background:linear-gradient(90deg,#010108 0.5px,#0f0917 5.5px,#612279 6.5px,#6a2b82 7.5px,#2e125c 11.5px,#2c0c49 13.5px,#350547 15.5px,#0d002d 19.5px,#01010e 24.5px,#03020d 35.5px,#0f0d21 37.5px,#010108 43.5px,#02020a 49.5px,#080813 52.5px,#010106 61.5px,#180904 63.5px,#340c09 64.5px,#340c0a 65.5px,#2f081e 66.5px,#220622 69.5px,#310708 70.5px,#2d0606 75.5px,#260613 77.5px,#1a0e05 81.5px,#1b0c05 89.5px,#270505 91.5px,#16041d 95.5px,#010106 107.5px,#020209 217.5px,#02010c 221.5px,#010108 370.5px)"></i><i style="background:linear-gradient(90deg,#010108 0.5px,#0f0917 5.5px,#672079 6.5px,#712a83 7.5px,#591c7a 9.5px,#3d1d69 10.5px,#351561 11.5px,#430f5b 12.5px,#592571 13.5px,#701e7d 14.5px,#6c1a79 15.5px,#4a1876 16.5px,#1f1048 19.5px,#0b0a1d 22.5px,#050412 25.5px,#0d0324 26.5px,#291745 28.5px,#080716 33.5px,#120f21 34.5px,#02010c 40.5px,#030013 44.5px,#020105 62.5px,#222124 63.5px,#bdbd9d 64.5px,#e7e8c6 65.5px,#e7e6b9 67.5px,#eaba97 68.5px,#be8d6c 69.5px,#ae5969 70.5px,#984253 71.5px,#753365 72.5px,#421552 75.5px,#350924 79.5px,#20061c 85.5px,#02010c 92.5px,#070611 149.5px,#010108 370.5px)"></i><i style="background:linear-gradient(90deg,#010108 0.5px,#0c0613 5.5px,#540d66 6.5px,#5a136c 7.5px,#250450 11.5px,#36024e 12.5px,#5d2975 13.5px,#782685 14.5px,#742280 15.5px,#4b1977 16.5px,#1f0f47 18.5px,#040215 22.5px,#030210 25.5px,#0d0324 26.5px,#0b0027 29.5px,#01000f 33.5px,#080717 37.5px,#01010c 41.5px,#110f21 44.5px,#010108 50.5px,#040407 63.5px,#313116 64.5px,#c9caa9 65.5px,#ecebbd 66.5px,#e8e7ba 67.5px,#edc09d 68.5px,#d2a17f 69.5px,#c77180 70.5px,#af5969 71.5px,#8c4a7b 72.5px,#562965 75.5px,#532b59 76.5px,#734b78 77.5px,#875973 79.5px,#7f5368 83.5px,#281e39 88.5px,#06050e 95.5px,#010108 370.5px)"></i><i style="background:linear-gradient(90deg,#010108 0.5px,#03020a 11.5px,#2b002a 12.5px,#633261 13.5px,#852b85 14.5px,#7a207a 15.5px,#4b1773 16.5px,#1d0d44 18.5px,#030213 22.5px,#050212 26.5px,#0c091a 27.5px,#04010d 29.5px,#02000b 33.5px,#0f0b22 35.5px,#02010a 37.5px,#040406 64.5px,#101011 67.5px,#2c151f 68.5px,#6e575e 69.5px,#8a5b6c 70.5px,#785268 72.5px,#392242 75.5px,#321f2a 76.5px,#4a3842 77.5px,#bd8e6b 78.5px,#cc9e7a 79.5px,#a76e5a 81.5px,#6f2a47 85.5px,#591f56 86.5px,#170d30 92.5px,#020209 102.5px,#020209 345.5px,#080716 355.5px,#010108 360.5px,#010108 370.5px)"></i><i style="background:linear-gradient(90deg,#010108 0.5px,#010109 11.5px,#2a0028 12.5px,#5e2e5d 13.5px,#812781 14.5px,#7c227c 15.5px,#521e7b 16.5px,#27174e 18.5px,#0a091a 22.5px,#06040f 33.5px,#100c23 34.5px,#02010a 37.5px,#0f0d1c 39.5px,#010108 42.5px,#040406 64.5px,#210a14 68.5px,#38091d 71.5px,#1e0728 75.5px,#3a2732 76.5px,#c1aeb4 77.5px,#f0cba6 78.5px,#eec4ad 81.5px,#eebfbc 82.5px,#e7aead 83.5px,#a6617c 85.5px,#854c81 86.5px,#392454 90.5px,#0a0916 98.5px,#010108 116.5px,#02020d 226.5px,#010108 370.5px)"></i><i style="background:linear-gradient(90deg,#010108 0.5px,#06050e 5.5px,#1e1335 6.5px,#03020e 11.5px,#21153b 14.5px,#04040f 25.5px,#29043e 26.5px,#4d2962 27.5px,#591b7e 28.5px,#330d63 31.5px,#21134a 32.5px,#070618 38.5px,#050501 62.5px,#0f0f08 63.5px,#333417 64.5px,#c9caa8 65.5px,#ebebbd 66.5px,#efe2b4 70.5px,#d8cb9e 71.5px,#eec4a1 72.5px,#efc9ca 77.5px,#e3cccc 81.5px,#dbbab8 82.5px,#996a80 84.5px,#815369 85.5px,#392349 89.5px,#0c0b15 96.5px,#010108 118.5px,#020209 303.5px,#010108 370.5px)"></i><i style="background:linear-gradient(90deg,#010108 0.5px,#03010b 5.5px,#0a0022 6.5px,#03020e 11.5px,#11052b 14.5px,#02010d 25.5px,#1d0032 26.5px,#3c1751 27.5px,#4e1173 28.5px,#320c62 31.5px,#1f1148 32.5px,#040315 38.5px,#010106 61.5px,#23231b 62.5px,#b9b9ac 63.5px,#dddebb 64.5px,#f9facb 67.5px,#faf3c4 70.5px,#efe2b4 71.5px,#bc8f6f 73.5px,#7c565a 76.5px,#3f282e 81.5px,#39191c 83.5px,#160527 89.5px,#010109 99.5px,#010108 370.5px)"></i><i style="background:linear-gradient(90deg,#010108 0.5px,#0b0812 5.5px,#442252 6.5px,#2f1648 9.5px,#1c113b 11.5px,#2b103c 12.5px,#4d325e 13.5px,#623462 14.5px,#15112a 22.5px,#0d0b1f 25.5px,#20083c 26.5px,#1d0035 29.5px,#02020d 34.5px,#03030b 43.5px,#0b0a17 44.5px,#010108 49.5px,#040307 62.5px,#101011 64.5px,#303030 65.5px,#c8c9b1 66.5px,#e9e9d0 67.5px,#f6ded9 71.5px,#f1caca 76.5px,#b16b8c 78.5px,#934e6f 79.5px,#6d4272 80.5px,#2e2041 84.5px,#090712 92.5px,#010108 131.5px,#03020a 203.5px,#0a0818 205.5px,#010108 208.5px,#010108 370.5px)"></i><i style="background:linear-gradient(90deg,#010108 0.5px,#03000a 5.5px,#180026 6.5px,#090028 10.5px,#200531 12.5px,#160027 13.5px,#190029 16.5px,#040216 25.5px,#210a3e 26.5px,#3e265a 27.5px,#46215e 29.5px,#0f0d22 32.5px,#040311 36.5px,#0d0b1a 37.5px,#010108 41.5px,#040405 65.5px,#121305 67.5px,#2b1a11 68.5px,#6c5b50 69.5px,#866261 70.5px,#8b595d 77.5px,#8b4667 78.5px,#763153 79.5px,#512657 80.5px,#1f1132 84.5px,#05030e 93.5px,#020209 131.5px,#02010c 135.5px,#02010c 210.5px,#010108 370.5px)"></i><i style="background:linear-gradient(90deg,#010108 0.5px,#080712 8.5px,#030110 14.5px,#040116 17.5px,#23001f 21.5px,#140030 22.5px,#1e043a 23.5px,#060219 24.5px,#020016 25.5px,#2a134b 27.5px,#260f53 29.5px,#191239 30.5px,#050417 35.5px,#0f0d1e 39.5px,#010109 41.5px,#010106 63.5px,#141406 67.5px,#363216 68.5px,#c8c3a2 69.5px,#f3d7b2 70.5px,#e7ccd3 76.5px,#dadac7 85.5px,#dcd3bf 86.5px,#c0b7a4 87.5px,#876060 89.5px,#3a2443 93.5px,#0a0913 100.5px,#010108 122.5px,#010108 370.5px)"></i><i style="background:linear-gradient(90deg,#010108 0.5px,#030210 15.5px,#1f0520 18.5px,#4f3651 19.5px,#683864 20.5px,#643460 21.5px,#3e255a 22.5px,#141027 24.5px,#0c0920 25.5px,#1d063e 26.5px,#331c54 27.5px,#210a4e 29.5px,#110a31 30.5px,#030214 34.5px,#020011 39.5px,#010106 63.5px,#23231b 64.5px,#b9b9ac 65.5px,#dadac3 66.5px,#e7e2c0 69.5px,#e8c4a0 70.5px,#bf9b78 71.5px,#8e5b56 73.5px,#3a2d33 78.5px,#18180b 85.5px,#191006 87.5px,#270505 89.5px,#1e0516 91.5px,#050214 97.5px,#02010a 116.5px,#010108 370.5px)"></i><i style="background:linear-gradient(90deg,#010108 0.5px,#02000b 5.5px,#0c0027 6.5px,#020016 11.5px,#280d57 14.5px,#0f0a23 20.5px,#030212 25.5px,#0d0220 26.5px,#231837 27.5px,#251442 29.5px,#060612 34.5px,#040307 64.5px,#1e1b1e 69.5px,#68465a 70.5px,#67455f 76.5px,#342528 83.5px,#371017 85.5px,#160527 90.5px,#010107 104.5px,#03020a 283.5px,#0a0919 285.5px,#010108 300.5px,#010108 370.5px)"></i><i style="background:linear-gradient(90deg,#010108 0.5px,#080610 5.5px,#291644 6.5px,#100d23 11.5px,#180739 12.5px,#2b194c 13.5px,#321761 14.5px,#0b071f 20.5px,#030212 25.5px,#0d002b 29.5px,#01010d 35.5px,#040106 69.5px,#1f0513 70.5px,#25061f 77.5px,#3f253b 78.5px,#d5bbcb 79.5px,#f0dee2 80.5px,#ecddd9 82.5px,#dbccc9 83.5px,#a17a7d 85.5px,#754a64 87.5px,#2b1e3e 92.5px,#05050c 102.5px,#02010c 356.5px,#010108 370.5px)"></i><i style="background:linear-gradient(90deg,#010108 0.5px,#05040d 5.5px,#191131 6.5px,#060513 11.5px,#170433 12.5px,#321f4e 13.5px,#401c6a 14.5px,#291450 17.5px,#0e0c24 20.5px,#040215 24.5px,#140122 26.5px,#362344 27.5px,#47235a 28.5px,#301d4a 30.5px,#040310 34.5px,#0e0b20 36.5px,#010108 39.5px,#020110 43.5px,#050306 65.5px,#270608 68.5px,#250505 69.5px,#17041b 70.5px,#05010f 75.5px,#261114 76.5px,#8b7675 77.5px,#b0897d 78.5px,#bb9289 82.5px,#4c3455 86.5px,#191525 90.5px,#020207 99.5px,#02010d 325.5px,#010108 370.5px)"></i><i style="background:linear-gradient(90deg,#010108 0.5px,#02010a 5.5px,#06001f 6.5px,#02010f 11.5px,#2c0856 14.5px,#16013d 17.5px,#0a0427 18.5px,#01000d 23.5px,#110e21 25.5px,#11001f 27.5px,#1b002e 29.5px,#0f0c25 32.5px,#04030f 35.5px,#0d0b1f 36.5px,#010108 39.5px,#090817 42.5px,#010108 47.5px,#040205 64.5px,#2a282a 65.5px,#c6bda8 66.5px,#d0c7b2 67.5px,#aa8387 68.5px,#855e63 69.5px,#4d3450 71.5px,#1f1a28 74.5px,#200b0f 76.5px,#300a07 80.5px,#2c0606 83.5px,#160521 86.5px,#010107 96.5px,#03020e 236.5px,#03020e 239.5px,#060610 269.5px,#03020e 324.5px,#0d0b1e 327.5px,#010108 332.5px,#010108 370.5px)"></i><i style="background:linear-gradient(90deg,#010108 0.5px,#06050e 5.5px,#20123b 6.5px,#0d0b1f 11.5px,#120829 12.5px,#271a42 14.5px,#060612 18.5px,#040112 25.5px,#1f002f 26.5px,#452056 27.5px,#5e197c 28.5px,#581476 29.5px,#3a1269 30.5px,#310a60 31.5px,#1c0f43 32.5px,#050419 36.5px,#01010a 52.5px,#010106 63.5px,#250d0f 64.5px,#7e6665 65.5px,#ab7c77 66.5px,#a88e80 68.5px,#e6ccbc 69.5px,#f1e9c1 70.5px,#e1d9b2 71.5px,#c7a083 72.5px,#af886c 73.5px,#b37a6c 74.5px,#a06759 75.5px,#944868 76.5px,#8a3e5f 77.5px,#955378 78.5px,#8a587a 80.5px,#322245 84.5px,#090811 90.5px,#010108 139.5px,#03020a 227.5px,#0a0919 229.5px,#010108 232.5px,#03030a 343.5px,#0d0b1d 345.5px,#0b091b 347.5px,#010108 349.5px,#010108 370.5px)"></i><i style="background:linear-gradient(90deg,#010108 0.5px,#03010b 5.5px,#0c0026 6.5px,#020014 11.5px,#080023 15.5px,#01000c 19.5px,#050213 24.5px,#110e1f 25.5px,#220033 26.5px,#49245a 27.5px,#621d80 28.5px,#5b1679 29.5px,#3e166d 30.5px,#370f66 31.5px,#22154a 32.5px,#09081d 37.5px,#0e0c20 39.5px,#02020a 42.5px,#020206 63.5px,#320706 66.5px,#250a06 68.5px,#492e24 69.5px,#d5cda6 70.5px,#f3ebc3 71.5px,#f0cab9 74.5px,#dfa696 75.5px,#af6382 76.5px,#8b4060 77.5px,#47163a 80.5px,#130427 84.5px,#010108 92.5px,#03020a 197.5px,#0b0a1a 199.5px,#010108 205.5px,#02010c 287.5px,#010108 370.5px)"></i><i style="background:linear-gradient(90deg,#010108 0.5px,#0f0715 5.5px,#60156a 6.5px,#5a0f64 7.5px,#1c013c 10.5px,#01010a 20.5px,#070516 23.5px,#02020b 25.5px,#0c0026 26.5px,#25193f 27.5px,#2b1854 28.5px,#0b0919 34.5px,#010106 55.5px,#030106 62.5px,#100d12 63.5px,#623e51 64.5px,#714a5e 67.5px,#793852 72.5px,#702f49 73.5px,#5c2859 74.5px,#411e3c 77.5px,#3d201f 78.5px,#2f0712 83.5px,#210626 84.5px,#02010b 92.5px,#02020a 181.5px,#080716 183.5px,#010108 189.5px,#020209 317.5px,#03030c 322.5px,#010108 370.5px)"></i><i style="background:linear-gradient(90deg,#010108 0.5px,#06000c 4.5px,#150c1b 5.5px,#6f2479 6.5px,#782d82 7.5px,#311652 11.5px,#2e1648 12.5px,#3a2254 13.5px,#0f0c22 17.5px,#02020c 21.5px,#0c0b1c 23.5px,#01010a 25.5px,#1e0c47 28.5px,#030116 32.5px,#040311 37.5px,#110e22 38.5px,#010109 41.5px,#040107 63.5px,#200511 64.5px,#220513 69.5px,#3b0920 70.5px,#946176 71.5px,#af6e86 72.5px,#a5647c 73.5px,#6a3666 75.5px,#63405c 76.5px,#b18fa8 77.5px,#c9aca6 79.5px,#c4a79e 81.5px,#875c67 83.5px,#38274a 86.5px,#090912 92.5px,#010108 121.5px,#010108 370.5px)"></i><i style="background:linear-gradient(90deg,#010108 0.5px,#010108 3.5px,#18021d 4.5px,#452f4a 5.5px,#5a3166 6.5px,#4a2156 7.5px,#241837 8.5px,#060312 11.5px,#010109 25.5px,#08041b 29.5px,#010109 31.5px,#0a0201 68.5px,#231507 73.5px,#241708 77.5px,#4b200e 78.5px,#9f745e 79.5px,#c07f68 80.5px,#bc7b65 81.5px,#56303d 86.5px,#3f1a25 89.5px,#1b062c 93.5px,#020209 100.5px,#010108 370.5px)"></i><i style="background:linear-gradient(90deg,#010108 0.5px,#010108 3.5px,#20002c 7.5px,#0b001e 9.5px,#06030f 14.5px,#05040d 21.5px,#0f0d1f 22.5px,#03030b 25.5px,#18132c 27.5px,#02010a 31.5px,#03020d 48.5px,#09060c 67.5px,#2b231d 68.5px,#b4aca1 69.5px,#d6c9b2 70.5px,#cec2ab 77.5px,#d6ab93 78.5px,#e7aa92 81.5px,#d0aab3 86.5px,#c9a5aa 88.5px,#673f5d 91.5px,#382148 93.5px,#0a0914 98.5px,#010108 115.5px,#03020a 271.5px,#0c0b1c 273.5px,#010108 279.5px,#010108 370.5px)"></i><i style="background:linear-gradient(90deg,#010108 0.5px,#110a16 5.5px,#7a206b 6.5px,#80297f 8.5px,#731c73 9.5px,#40186b 10.5px,#310951 12.5px,#481f68 13.5px,#59197b 14.5px,#340c64 17.5px,#150f35 20.5px,#060419 25.5px,#190039 26.5px,#331852 27.5px,#220b4e 29.5px,#110d2c 30.5px,#010108 36.5px,#020110 41.5px,#010106 63.5px,#290719 64.5px,#694256 65.5px,#904268 66.5px,#994f76 70.5px,#90476e 71.5px,#5f2d64 73.5px,#3d2155 75.5px,#17131d 80.5px,#020106 108.5px,#03020b 323.5px,#0b0822 324.5px,#0b0822 325.5px,#03020b 326.5px,#010108 370.5px)"></i></div>
<div class="hm" style="left:1px;top:368px;width:371px;height:41px"><i style="background:linear-gradient(90deg,#010108 0.5px,#010106 71.5px,#220514 75.5px,#17041c 87.5px,#290608 88.5px,#28060a 99.5px,#15041c 105.5px,#03010a 107.5px,#02020d 196.5px,#080716 199.5px,#010108 204.5px,#010108 229.5px,#20002e 230.5px,#492156 231.5px,#601a7f 232.5px,#561075 233.5px,#2f145c 234.5px,#250a52 235.5px,#120d30 236.5px,#0c0a22 239.5px,#01010b 241.5px,#080007 282.5px,#180d16 283.5px,#b33055 284.5px,#c34065 285.5px,#b33b7c 286.5px,#9b2363 287.5px,#571a7b 288.5px,#470b6c 289.5px,#22124c 290.5px,#1a0943 291.5px,#0d0a26 292.5px,#03020c 297.5px,#0a0919 299.5px,#010108 302.5px,#020203 336.5px,#262628 337.5px,#d7d89f 338.5px,#fbfcc4 339.5px,#fcfdbf 347.5px,#ffe8ae 348.5px,#e9c187 349.5px,#fa9869 350.5px,#ed6355 357.5px,#b93675 370.5px)"></i><i style="background:linear-gradient(90deg,#010108 0.5px,#07050f 62.5px,#0d0c15 66.5px,#020106 71.5px,#1a0715 72.5px,#55424e 73.5px,#6d485d 74.5px,#62425c 84.5px,#4b314e 87.5px,#83575f 88.5px,#9c6e72 91.5px,#956a73 98.5px,#422947 105.5px,#0f0d17 106.5px,#02010d 124.5px,#03020e 216.5px,#0a091a 219.5px,#010108 222.5px,#010108 229.5px,#21002f 230.5px,#50285d 231.5px,#682287 232.5px,#5d167b 233.5px,#321860 234.5px,#280d55 235.5px,#140f32 236.5px,#010108 242.5px,#02020a 249.5px,#080813 252.5px,#010108 270.5px,#080007 282.5px,#1b1019 283.5px,#c23f64 284.5px,#d55177 285.5px,#c44c8d 286.5px,#a72f6f 287.5px,#5f2284 288.5px,#4d1071 289.5px,#261650 290.5px,#1d0d47 291.5px,#100d29 292.5px,#02010b 297.5px,#020203 336.5px,#262628 337.5px,#d7d89f 338.5px,#fbfcc4 339.5px,#fcfdbf 347.5px,#ffe8ad 348.5px,#ecc48a 349.5px,#ffa474 350.5px,#f86e60 357.5px,#be3b7a 370.5px)"></i><i style="background:linear-gradient(90deg,#010108 0.5px,#050006 54.5px,#141115 55.5px,#7c5255 56.5px,#8f6567 57.5px,#9a6e64 58.5px,#372d32 64.5px,#22150a 69.5px,#1b1707 79.5px,#2e0606 83.5px,#1f0622 88.5px,#3e2040 89.5px,#d1bac4 90.5px,#f1dae2 91.5px,#e5ded0 98.5px,#dad3c6 99.5px,#a5777e 102.5px,#674057 105.5px,#18141f 106.5px,#04030d 112.5px,#010108 229.5px,#21002c 230.5px,#492054 231.5px,#60187b 232.5px,#570f72 233.5px,#30135d 234.5px,#250952 235.5px,#110c2e 236.5px,#02020c 240.5px,#080006 282.5px,#1d121b 283.5px,#cc4e68 284.5px,#e0637c 285.5px,#d25b93 286.5px,#af3870 287.5px,#672888 288.5px,#531373 289.5px,#2a1855 290.5px,#210e4b 291.5px,#110e2b 292.5px,#010108 298.5px,#020103 336.5px,#262628 337.5px,#d7d89f 338.5px,#fbfcc4 339.5px,#faf9bc 347.5px,#fbdba1 348.5px,#d9b97f 349.5px,#e9a070 350.5px,#e05c55 359.5px,#bb376f 370.5px)"></i><i style="background:linear-gradient(90deg,#010108 0.5px,#050106 55.5px,#280505 56.5px,#461c21 57.5px,#dfb3a6 58.5px,#f2d1c3 59.5px,#edd8de 63.5px,#e3d9ce 66.5px,#cbbead 68.5px,#e7dac8 69.5px,#e7e2ca 79.5px,#e7d8c2 80.5px,#a27871 83.5px,#623e5a 87.5px,#241d16 99.5px,#30070d 103.5px,#250617 105.5px,#05010d 106.5px,#06050f 173.5px,#010108 229.5px,#23002e 230.5px,#542c60 231.5px,#6e2689 232.5px,#621a7d 233.5px,#361963 234.5px,#2a0e57 235.5px,#151032 236.5px,#03030d 240.5px,#080006 282.5px,#180d16 283.5px,#af314b 284.5px,#bf415b 285.5px,#b23b73 286.5px,#9a235b 287.5px,#571878 288.5px,#480969 289.5px,#23114d 290.5px,#1a0845 291.5px,#0c0926 292.5px,#010108 299.5px,#020204 336.5px,#262628 337.5px,#d7d89f 338.5px,#fbfcc4 339.5px,#fff1b7 348.5px,#ffeeb4 349.5px,#ffa57d 352.5px,#ee6469 361.5px,#c44078 370.5px)"></i><i style="background:linear-gradient(90deg,#010108 0.5px,#03030a 29.5px,#0d0b1d 31.5px,#010108 36.5px,#040308 57.5px,#1d191c 61.5px,#5d3f56 62.5px,#755569 67.5px,#b79786 68.5px,#c6a792 70.5px,#c6a391 78.5px,#936668 81.5px,#503354 86.5px,#462c4e 89.5px,#1e172e 93.5px,#010106 109.5px,#03020a 201.5px,#0b0a1b 203.5px,#010108 209.5px,#010108 229.5px,#16002b 230.5px,#311446 231.5px,#400e68 232.5px,#3b0963 233.5px,#1e0d46 234.5px,#16053e 235.5px,#090721 236.5px,#010108 243.5px,#090005 282.5px,#1c1118 283.5px,#cb4351 284.5px,#de5664 285.5px,#cf4f7f 286.5px,#b13160 287.5px,#672284 288.5px,#530e70 289.5px,#2a1556 290.5px,#210c4d 291.5px,#110d2c 292.5px,#010108 298.5px,#06060b 336.5px,#27262b 337.5px,#d7d89f 338.5px,#fbfcc4 339.5px,#fff9bf 348.5px,#f7edb3 349.5px,#f68b7f 350.5px,#c2574b 351.5px,#9e3658 352.5px,#8c2446 353.5px,#5d0d5c 370.5px)"></i><i style="background:linear-gradient(90deg,#010108 0.5px,#01000d 33.5px,#030306 59.5px,#23061e 63.5px,#26061d 67.5px,#2e0e07 68.5px,#35080d 81.5px,#330822 82.5px,#040113 95.5px,#010108 135.5px,#010108 229.5px,#19002e 230.5px,#432659 231.5px,#55237d 232.5px,#4b1973 233.5px,#2b1952 234.5px,#210f48 235.5px,#110e29 236.5px,#02010a 241.5px,#02020d 274.5px,#090005 282.5px,#1c1119 283.5px,#ce4653 284.5px,#e15966 285.5px,#d25281 286.5px,#b23261 287.5px,#682385 288.5px,#540f71 289.5px,#2a1557 290.5px,#210c4d 291.5px,#110d2c 292.5px,#010108 298.5px,#020106 336.5px,#26262b 337.5px,#d7d89f 338.5px,#fbfcc4 339.5px,#fff5bb 348.5px,#f2e8ae 349.5px,#ff9589 350.5px,#e67c70 351.5px,#d66e90 352.5px,#953c88 367.5px,#893887 370.5px)"></i><i style="background:linear-gradient(90deg,#010108 0.5px,#040104 58.5px,#1a1619 59.5px,#a07273 60.5px,#b98b8b 61.5px,#c17f94 68.5px,#9b6079 70.5px,#cc91a9 71.5px,#d0a1aa 73.5px,#c0a1a2 81.5px,#af8492 82.5px,#895e6d 83.5px,#39264f 86.5px,#1c1430 89.5px,#211d18 90.5px,#250605 93.5px,#250619 94.5px,#040113 101.5px,#010108 120.5px,#03020a 135.5px,#090817 137.5px,#010108 141.5px,#03020a 173.5px,#0a0818 175.5px,#010108 178.5px,#010108 229.5px,#23002e 230.5px,#542a5e 231.5px,#6e2487 232.5px,#62187c 233.5px,#361864 234.5px,#2b0d59 235.5px,#151032 236.5px,#03020c 240.5px,#03020e 258.5px,#030210 261.5px,#0a0112 282.5px,#180f20 283.5px,#992e73 284.5px,#a73c81 285.5px,#9a398f 286.5px,#832278 287.5px,#471c74 288.5px,#3a0e66 289.5px,#1d1441 290.5px,#040411 294.5px,#020203 336.5px,#262628 337.5px,#d7d89f 338.5px,#fbfcc4 339.5px,#fffabe 345.5px,#ffe0cc 346.5px,#ffd5c1 347.5px,#fa92b8 348.5px,#c35b81 349.5px,#943589 350.5px,#5c156c 352.5px,#320a57 370.5px)"></i><i style="background:linear-gradient(90deg,#010108 0.5px,#0a070a 59.5px,#390a0f 60.5px,#633538 61.5px,#753747 63.5px,#693946 72.5px,#3b1123 83.5px,#2f0d35 84.5px,#130c28 88.5px,#332b46 89.5px,#c2beb3 90.5px,#dbd6cb 91.5px,#ccaca5 92.5px,#9c7d77 93.5px,#674159 95.5px,#2d203d 98.5px,#020207 106.5px,#020209 213.5px,#070613 215.5px,#010108 229.5px,#22002d 230.5px,#4e2458 231.5px,#671d81 232.5px,#5d1276 233.5px,#321461 234.5px,#280a56 235.5px,#120d30 236.5px,#01010b 241.5px,#020209 262.5px,#06000e 282.5px,#130a1a 283.5px,#8c2266 284.5px,#992e73 285.5px,#8c2b81 286.5px,#78176d 287.5px,#40156d 288.5px,#350a62 289.5px,#19103d 290.5px,#030310 294.5px,#020209 311.5px,#020203 336.5px,#262628 337.5px,#d7d89f 338.5px,#fbfcc4 339.5px,#fef8bd 344.5px,#eee8ad 345.5px,#d0937e 346.5px,#a0624e 347.5px,#a23a5f 348.5px,#9a3258 349.5px,#8a2b80 350.5px,#682b7d 355.5px,#451d69 370.5px)"></i><i style="background:linear-gradient(90deg,#010108 0.5px,#010106 57.5px,#1a0715 58.5px,#56434e 59.5px,#70495e 60.5px,#724b61 65.5px,#231a32 74.5px,#04040c 87.5px,#150619 88.5px,#3e2f40 89.5px,#733b4b 90.5px,#732f49 95.5px,#63265c 98.5px,#240b3a 105.5px,#06040f 106.5px,#02020d 190.5px,#02020d 206.5px,#090817 209.5px,#010108 213.5px,#010108 229.5px,#1c0031 230.5px,#452259 231.5px,#591c81 232.5px,#4f1378 233.5px,#2b1756 234.5px,#210d4c 235.5px,#100d2a 236.5px,#01010a 241.5px,#080006 282.5px,#1c111a 283.5px,#c74665 284.5px,#da5a78 285.5px,#cb538e 286.5px,#ab336e 287.5px,#632585 288.5px,#501172 289.5px,#281652 290.5px,#1f0e49 291.5px,#110e2a 292.5px,#010108 298.5px,#0b0a16 302.5px,#010108 308.5px,#020203 336.5px,#262628 337.5px,#d7d89f 338.5px,#fbfcc4 339.5px,#f9f8ba 343.5px,#ffc39d 344.5px,#c28560 345.5px,#ac3d79 346.5px,#8e205b 347.5px,#541677 348.5px,#38136a 351.5px,#1e1245 370.5px)"></i><i style="background:linear-gradient(90deg,#010108 0.5px,#010106 57.5px,#230614 61.5px,#110422 73.5px,#03020b 87.5px,#251628 89.5px,#ab7381 90.5px,#c38c99 91.5px,#c07b93 94.5px,#7c3f74 99.5px,#371e4d 105.5px,#0c0a14 106.5px,#04030d 111.5px,#0a0819 115.5px,#010108 118.5px,#03030a 131.5px,#0d0b1d 133.5px,#0b091b 135.5px,#010108 137.5px,#010108 229.5px,#1b0030 230.5px,#3e1b52 231.5px,#51147a 232.5px,#490d72 233.5px,#271352 234.5px,#1d0948 235.5px,#0e0b27 236.5px,#010108 242.5px,#080006 282.5px,#180d16 283.5px,#b23250 284.5px,#c24260 285.5px,#b43c78 286.5px,#9b245f 287.5px,#591a7a 288.5px,#490a6b 289.5px,#23124d 290.5px,#1b0945 291.5px,#0d0a27 292.5px,#010108 298.5px,#020203 336.5px,#262628 337.5px,#d7d89f 338.5px,#fbfcc4 339.5px,#fcfbbe 343.5px,#ffddb7 344.5px,#f6ba94 345.5px,#ce609b 346.5px,#a33570 347.5px,#622485 348.5px,#351067 350.5px,#1a0e41 370.5px)"></i><i style="background:linear-gradient(90deg,#010108 0.5px,#03020a 45.5px,#0a0818 47.5px,#010108 50.5px,#050106 61.5px,#270506 62.5px,#370811 67.5px,#8a3850 68.5px,#99445d 71.5px,#62306a 76.5px,#261a3e 84.5px,#18142a 89.5px,#47374f 91.5px,#503555 93.5px,#120f1d 105.5px,#020107 107.5px,#010108 118.5px,#010108 229.5px,#10002d 230.5px,#2b1748 231.5px,#341566 232.5px,#2f1061 233.5px,#1a123b 234.5px,#03030e 238.5px,#05000c 282.5px,#100917 283.5px,#6e2079 284.5px,#792b84 285.5px,#6f298a 286.5px,#5d1778 287.5px,#30195c 288.5px,#260f52 289.5px,#141030 290.5px,#02020c 295.5px,#020203 336.5px,#262628 337.5px,#d7d89f 338.5px,#fbfcc4 339.5px,#fff9bd 341.5px,#ffdfcd 342.5px,#ffd2bf 343.5px,#e386b9 344.5px,#ad5184 345.5px,#6e3688 346.5px,#561e70 347.5px,#2f1c55 348.5px,#1a1435 352.5px,#100e23 370.5px)"></i><i style="background:linear-gradient(90deg,#010108 0.5px,#02020a 9.5px,#080813 12.5px,#010108 27.5px,#040105 60.5px,#141014 61.5px,#7a5056 62.5px,#8c5f65 64.5px,#8f5e66 67.5px,#a9576e 68.5px,#b66279 71.5px,#431d58 78.5px,#0a061c 88.5px,#14041f 95.5px,#010108 111.5px,#0a0819 117.5px,#010108 120.5px,#020209 165.5px,#070714 167.5px,#02010b 174.5px,#010108 229.5px,#0f002c 230.5px,#271344 231.5px,#301162 232.5px,#2b0c5d 233.5px,#171039 234.5px,#03020d 238.5px,#05000c 282.5px,#0d0714 283.5px,#5f116a 284.5px,#5f197a 286.5px,#510c6c 287.5px,#291155 288.5px,#20084b 289.5px,#0f0b2b 290.5px,#010108 296.5px,#020203 336.5px,#262628 337.5px,#d7d89f 338.5px,#fbfcc4 339.5px,#fff9bd 340.5px,#eee7ab 341.5px,#ce8f7c 342.5px,#9d5e4c 343.5px,#8a2d60 344.5px,#721548 345.5px,#460e60 346.5px,#3c0456 347.5px,#1c0942 348.5px,#060020 352.5px,#020015 370.5px)"></i><i style="background:linear-gradient(90deg,#010108 0.5px,#010108 15.5px,#010106 57.5px,#2b060d 61.5px,#28071c 65.5px,#120421 69.5px,#31272d 70.5px,#c8bdbf 71.5px,#f3d6c5 72.5px,#f2d2c1 73.5px,#d29191 75.5px,#a05675 77.5px,#84477c 78.5px,#2e1c4b 84.5px,#211635 87.5px,#341816 88.5px,#2a0605 101.5px,#1a0519 105.5px,#03010b 106.5px,#02020d 196.5px,#010108 229.5px,#0d0029 230.5px,#251541 231.5px,#2c135b 232.5px,#270f56 233.5px,#160f35 234.5px,#03020d 238.5px,#03020a 269.5px,#0a0919 272.5px,#010108 278.5px,#070009 282.5px,#150b17 283.5px,#972668 284.5px,#a53476 285.5px,#973185 286.5px,#821c70 287.5px,#461773 288.5px,#3a0b66 289.5px,#1c1141 290.5px,#040311 294.5px,#020203 336.5px,#262628 337.5px,#d7d89f 338.5px,#fbfcc4 339.5px,#f3e8ad 341.5px,#ed788b 342.5px,#b84456 343.5px,#772887 344.5px,#611270 345.5px,#321560 346.5px,#280b56 347.5px,#130e31 348.5px,#020111 353.5px,#01010b 370.5px)"></i><i style="background:linear-gradient(90deg,#010108 0.5px,#03020e 6.5px,#0b091b 9.5px,#010109 11.5px,#010106 57.5px,#1f0912 58.5px,#654f56 59.5px,#875966 60.5px,#875765 63.5px,#2d1f3b 68.5px,#231920 70.5px,#372d33 71.5px,#97695b 72.5px,#a17365 73.5px,#8f4e51 75.5px,#873c5b 76.5px,#7b3151 77.5px,#66295f 78.5px,#251443 84.5px,#1d1131 86.5px,#362b49 87.5px,#b0938d 88.5px,#c6a9a3 89.5px,#c0a391 99.5px,#986d6a 101.5px,#4e314b 105.5px,#110e18 106.5px,#02020a 117.5px,#080813 120.5px,#010108 138.5px,#020209 207.5px,#080712 210.5px,#010108 229.5px,#0d0029 230.5px,#251642 231.5px,#2d145c 232.5px,#270f56 233.5px,#150f34 234.5px,#03030d 238.5px,#070009 282.5px,#160c18 283.5px,#9d2c6e 284.5px,#ab3a7d 285.5px,#9d388c 286.5px,#872175 287.5px,#4a1b76 288.5px,#3c0d68 289.5px,#1e1343 290.5px,#040411 294.5px,#020203 336.5px,#262628 337.5px,#d7d89f 338.5px,#fbfcc4 339.5px,#f4e9ae 341.5px,#f27d90 342.5px,#bd495c 343.5px,#7b2b8a 344.5px,#631473 345.5px,#331761 346.5px,#290c57 347.5px,#140f32 348.5px,#060615 352.5px,#04030e 370.5px)"></i><i style="background:linear-gradient(90deg,#01010a 0.5px,#040108 58.5px,#110e14 59.5px,#422a48 60.5px,#402a4b 70.5px,#100e1c 85.5px,#2f191c 86.5px,#836d6d 87.5px,#b78c70 88.5px,#bc8f72 95.5px,#c38269 97.5px,#ba6476 98.5px,#a75164 99.5px,#844475 100.5px,#31164c 105.5px,#090711 106.5px,#010108 229.5px,#1a002a 230.5px,#4a2f5a 231.5px,#5c2e7a 232.5px,#51226f 233.5px,#301c54 234.5px,#070715 238.5px,#010108 257.5px,#06000a 282.5px,#130b18 283.5px,#882876 284.5px,#963684 285.5px,#8a338f 286.5px,#751e7a 287.5px,#3f1a6d 288.5px,#330e61 289.5px,#1a133b 290.5px,#040310 294.5px,#020203 336.5px,#262628 337.5px,#d7d89f 338.5px,#fbfcc4 339.5px,#fbfcbe 341.5px,#ffe6b2 342.5px,#ddbb87 343.5px,#ce5880 344.5px,#a73059 345.5px,#641f80 346.5px,#520d6e 347.5px,#291355 348.5px,#200a4c 349.5px,#100c2b 350.5px,#020110 357.5px,#01010d 370.5px)"></i><i style="background:linear-gradient(90deg,#02010a 0.5px,#040107 59.5px,#15041c 61.5px,#02010f 85.5px,#140303 86.5px,#382225 87.5px,#e2b699 88.5px,#f2d4b6 89.5px,#f2d2b2 95.5px,#d39279 97.5px,#b76173 98.5px,#9e485b 99.5px,#7a3a6b 100.5px,#290e45 105.5px,#07050f 106.5px,#020209 151.5px,#070611 154.5px,#010108 229.5px,#380a56 232.5px,#330551 233.5px,#130037 235.5px,#07041f 236.5px,#010108 244.5px,#06000a 282.5px,#110916 283.5px,#7c1c6a 284.5px,#872775 285.5px,#7c2581 286.5px,#69126f 287.5px,#381366 288.5px,#2e095c 289.5px,#150e37 290.5px,#03030f 294.5px,#020203 336.5px,#262628 337.5px,#d7d89f 338.5px,#fbfcc4 339.5px,#fcfcbf 341.5px,#f4d29e 343.5px,#e26b93 344.5px,#b13b63 345.5px,#6b2687 346.5px,#571273 347.5px,#2c1658 348.5px,#220d4e 349.5px,#120e2e 350.5px,#080717 358.5px,#050512 370.5px)"></i><i style="background:linear-gradient(90deg,#010108 0.5px,#010106 55.5px,#1d0518 60.5px,#18051d 71.5px,#120420 83.5px,#0c031f 87.5px,#1b0d11 88.5px,#24161a 89.5px,#2d1909 91.5px,#2a0a06 99.5px,#280719 100.5px,#140422 103.5px,#010106 108.5px,#010108 193.5px,#010108 229.5px,#190a41 232.5px,#15063d 233.5px,#0b0724 234.5px,#010108 240.5px,#05000b 282.5px,#0c0613 283.5px,#580a60 284.5px,#56126c 286.5px,#4b0762 287.5px,#260c50 288.5px,#1e0447 289.5px,#0d0829 290.5px,#010108 296.5px,#020103 336.5px,#272627 337.5px,#ded39a 338.5px,#fff8bf 339.5px,#fff0b2 341.5px,#f7b392 342.5px,#bd7a58 343.5px,#a43c6c 344.5px,#871f50 345.5px,#51136d 346.5px,#440761 347.5px,#210c4b 348.5px,#080024 352.5px,#030016 370.5px)"></i><i style="background:linear-gradient(90deg,#010108 0.5px,#010106 55.5px,#150616 56.5px,#473746 57.5px,#5d3e58 59.5px,#61435e 64.5px,#3a2446 69.5px,#402544 70.5px,#5b405d 71.5px,#64425d 76.5px,#271b39 87.5px,#403235 88.5px,#aa9c9b 89.5px,#ceb9a0 90.5px,#cdad9e 98.5px,#663f55 101.5px,#351f42 103.5px,#191129 105.5px,#05040a 106.5px,#02020d 208.5px,#090817 211.5px,#010108 215.5px,#010108 229.5px,#0a0023 230.5px,#21173a 231.5px,#27184f 232.5px,#22134a 233.5px,#15112f 234.5px,#02010a 239.5px,#05000b 282.5px,#110b18 283.5px,#77287e 284.5px,#83348a 285.5px,#78338e 286.5px,#641f7a 287.5px,#361d60 288.5px,#2b1255 289.5px,#181334 290.5px,#04030e 294.5px,#020103 336.5px,#242325 337.5px,#d1c68d 338.5px,#f3e8b0 339.5px,#f6e7a9 341.5px,#ffbf9d 343.5px,#e27aaa 344.5px,#ae4677 345.5px,#6c2f89 346.5px,#571973 347.5px,#2f1a59 348.5px,#1d1539 352.5px,#110e25 370.5px)"></i><i style="background:linear-gradient(90deg,#010108 0.5px,#0b0408 58.5px,#221c1e 59.5px,#ab7e7d 60.5px,#c59896 61.5px,#cc919d 63.5px,#76486d 69.5px,#291e3c 80.5px,#16111c 88.5px,#2e2933 89.5px,#9f776e 90.5px,#b4897d 92.5px,#b1837e 94.5px,#513353 101.5px,#291939 105.5px,#090810 106.5px,#010108 229.5px,#0b0028 230.5px,#22143f 231.5px,#281357 232.5px,#230e52 233.5px,#130e31 234.5px,#03020c 238.5px,#05000c 282.5px,#100917 283.5px,#6d1f78 284.5px,#782a83 285.5px,#6e288a 286.5px,#5c1578 287.5px,#30185d 288.5px,#260e53 289.5px,#141030 290.5px,#02020c 295.5px,#03020a 297.5px,#0b0919 299.5px,#010108 310.5px,#050002 336.5px,#252022 337.5px,#e3ac76 338.5px,#ffcc96 339.5px,#ffc188 341.5px,#ee7c82 342.5px,#bf4d53 343.5px,#822c87 344.5px,#6a156f 345.5px,#3f156f 346.5px,#271749 352.5px,#171231 370.5px)"></i><i style="background:linear-gradient(90deg,#010108 0.5px,#040207 57.5px,#120b0f 59.5px,#3d1012 60.5px,#66393a 61.5px,#753a49 62.5px,#3a0c33 69.5px,#0c031f 80.5px,#07020d 89.5px,#290605 90.5px,#2d0711 97.5px,#0e031f 105.5px,#020109 106.5px,#010108 229.5px,#0b0028 230.5px,#22143f 231.5px,#281357 232.5px,#230f53 233.5px,#140f32 234.5px,#03020c 238.5px,#05000c 282.5px,#0e0715 283.5px,#63146e 284.5px,#621c7e 286.5px,#530d6f 287.5px,#2b1258 288.5px,#21094f 289.5px,#100c2d 290.5px,#010109 296.5px,#050002 336.5px,#221e1f 337.5px,#d59e68 338.5px,#f2bc86 339.5px,#f6b87f 341.5px,#ff8e95 342.5px,#ca575e 343.5px,#87318c 344.5px,#6e1873 345.5px,#3e146e 346.5px,#130137 350.5px,#05001f 370.5px)"></i><i style="background:linear-gradient(90deg,#010108 0.5px,#030104 56.5px,#1a171a 57.5px,#9c7e65 58.5px,#bc9f84 59.5px,#b0896b 61.5px,#783647 67.5px,#682449 69.5px,#4f2846 70.5px,#2c2423 77.5px,#330d0e 81.5px,#24061d 87.5px,#2c0605 88.5px,#2c0605 89.5px,#4a0a0c 90.5px,#894749 91.5px,#a54b5d 92.5px,#9a486a 95.5px,#884474 96.5px,#3a1755 101.5px,#160e2e 105.5px,#05040b 106.5px,#010108 229.5px,#0c0028 230.5px,#251741 231.5px,#2c165a 232.5px,#271155 233.5px,#161134 234.5px,#03030e 238.5px,#05000c 282.5px,#0d0714 283.5px,#5b106b 284.5px,#5a1779 286.5px,#4d0a6c 287.5px,#261152 288.5px,#1e0849 289.5px,#0e0a2a 290.5px,#010108 296.5px,#070002 336.5px,#221a1d 337.5px,#e4825a 338.5px,#ff9d75 339.5px,#ff9573 341.5px,#e979a3 342.5px,#ba4973 343.5px,#72308d 344.5px,#5b1976 345.5px,#301a5a 346.5px,#261050 347.5px,#141030 348.5px,#02020c 353.5px,#020109 370.5px)"></i><i style="background:linear-gradient(90deg,#010108 0.5px,#050205 57.5px,#42240e 58.5px,#dabca0 59.5px,#f3d7b7 60.5px,#eec0bf 64.5px,#b77684 67.5px,#955175 69.5px,#8c6480 70.5px,#e1b9d2 71.5px,#e3d5d9 72.5px,#d6cfc8 77.5px,#a07977 81.5px,#67445e 86.5px,#6a4761 87.5px,#986e6c 88.5px,#bd7b7c 91.5px,#c56c7c 92.5px,#934164 95.5px,#411e5c 100.5px,#191031 105.5px,#06050c 106.5px,#010108 229.5px,#261054 232.5px,#210b50 233.5px,#110c2f 234.5px,#02020d 239.5px,#05000c 282.5px,#100917 283.5px,#6a1f7a 284.5px,#752a85 285.5px,#6b288a 286.5px,#591678 287.5px,#2e185a 288.5px,#240f50 289.5px,#130f2f 290.5px,#010108 296.5px,#070002 336.5px,#20171a 337.5px,#d6744c 338.5px,#ee8d65 339.5px,#f48563 340.5px,#df704e 341.5px,#b3436c 342.5px,#95244e 343.5px,#591673 344.5px,#4a0865 345.5px,#250f4f 346.5px,#1c0647 347.5px,#0d0928 348.5px,#02010b 354.5px,#020109 370.5px)"></i><i style="background:linear-gradient(90deg,#010108 0.5px,#010108 54.5px,#100a0d 66.5px,#140f14 73.5px,#381129 75.5px,#29071a 83.5px,#1c0522 87.5px,#290612 88.5px,#3d1626 89.5px,#b25a57 90.5px,#c5696a 92.5px,#ad607c 97.5px,#5a356b 102.5px,#381f4d 105.5px,#0c0a14 106.5px,#010108 141.5px,#070615 149.5px,#010108 159.5px,#03020e 172.5px,#0a091a 175.5px,#010108 178.5px,#010108 229.5px,#210849 232.5px,#1d0445 233.5px,#0d072a 234.5px,#040215 237.5px,#0a0915 240.5px,#010108 247.5px,#04000c 282.5px,#0e0916 283.5px,#5f1c79 284.5px,#692683 285.5px,#4e1574 287.5px,#291852 288.5px,#200f49 289.5px,#110e2b 290.5px,#02010a 295.5px,#090004 336.5px,#1f141a 337.5px,#da5759 338.5px,#f06d6f 339.5px,#f4666b 341.5px,#d0568c 342.5px,#ae346a 343.5px,#652585 344.5px,#511172 345.5px,#291654 346.5px,#120e2e 348.5px,#080715 368.5px,#080715 370.5px)"></i><i style="background:linear-gradient(90deg,#010108 0.5px,#0c090b 63.5px,#0b050b 72.5px,#171217 73.5px,#694258 74.5px,#764d64 77.5px,#6c445a 83.5px,#472c4c 87.5px,#583140 88.5px,#8c6572 89.5px,#c16965 90.5px,#b85c5d 93.5px,#7c2f4d 97.5px,#39144b 102.5px,#240b3a 105.5px,#06040f 106.5px,#03020a 159.5px,#090817 161.5px,#010108 171.5px,#02020d 194.5px,#090814 198.5px,#010108 208.5px,#010108 229.5px,#0e0026 230.5px,#2a1a41 231.5px,#32195a 232.5px,#2c1455 233.5px,#1a1437 234.5px,#060518 237.5px,#010108 250.5px,#04000c 282.5px,#0b0513 283.5px,#4d0a68 284.5px,#4b1271 286.5px,#410867 287.5px,#200f49 288.5px,#180741 289.5px,#0b0824 290.5px,#01010a 295.5px,#070611 302.5px,#090004 336.5px,#1b1017 337.5px,#c74446 338.5px,#da5759 339.5px,#dd5055 341.5px,#bc4278 342.5px,#a0265c 343.5px,#5b1c7c 344.5px,#4b0b6b 345.5px,#24124f 346.5px,#1c0947 347.5px,#0e0a29 348.5px,#020011 356.5px,#01000f 370.5px)"></i><i style="background:linear-gradient(90deg,#010108 0.5px,#040106 59.5px,#3e0a1a 60.5px,#945d6e 61.5px,#b76878 62.5px,#b1627c 70.5px,#a0516c 71.5px,#68346e 74.5px,#281642 81.5px,#0e0a1e 87.5px,#390810 90.5px,#2c070f 101.5px,#16041e 105.5px,#03010a 107.5px,#03030c 229.5px,#06021c 233.5px,#010108 242.5px,#04000c 282.5px,#0a0513 283.5px,#450966 284.5px,#3a0863 287.5px,#1b0e42 288.5px,#030311 292.5px,#070009 336.5px,#170e19 337.5px,#a13476 338.5px,#b04385 339.5px,#974496 340.5px,#812e7f 341.5px,#4b276f 342.5px,#180e38 345.5px,#060511 348.5px,#010108 370.5px)"></i><i style="background:linear-gradient(90deg,#010108 0.5px,#050208 58.5px,#1c191d 59.5px,#7a4355 60.5px,#8c5566 61.5px,#9e4f5f 63.5px,#984964 70.5px,#8e3f5a 71.5px,#65326c 74.5px,#1e1435 83.5px,#110d22 87.5px,#351927 88.5px,#7a5e69 89.5px,#99666d 90.5px,#8e606f 100.5px,#402746 105.5px,#0e0c15 106.5px,#010108 136.5px,#010109 229.5px,#0d0a23 233.5px,#010108 239.5px,#04000c 282.5px,#0d0816 283.5px,#551976 284.5px,#54227e 286.5px,#45136f 287.5px,#24174b 288.5px,#060513 292.5px,#010108 324.5px,#070009 336.5px,#150b16 337.5px,#912465 338.5px,#8e2163 339.5px,#671465 340.5px,#590557 341.5px,#2e0a52 342.5px,#050318 346.5px,#010108 358.5px,#020109 370.5px)"></i><i style="background:linear-gradient(90deg,#010108 0.5px,#010106 57.5px,#291e26 58.5px,#c2b7ba 59.5px,#efd7de 60.5px,#e6dcd9 67.5px,#eae3cb 69.5px,#d6b396 70.5px,#a8846a 71.5px,#967a65 72.5px,#dabfa7 73.5px,#e1d5aa 74.5px,#ddcca3 77.5px,#db9390 78.5px,#ab6362 79.5px,#7c4377 80.5px,#41255b 82.5px,#1b1332 85.5px,#181317 86.5px,#2e282b 87.5px,#976b56 88.5px,#ac7f6a 89.5px,#ae7c67 95.5px,#6f2f43 101.5px,#44103d 105.5px,#0b0715 106.5px,#010108 155.5px,#030211 230.5px,#0c0a20 233.5px,#010108 239.5px,#03000d 282.5px,#090513 283.5px,#3f0b67 284.5px,#340a61 287.5px,#19103c 288.5px,#030310 292.5px,#030009 336.5px,#0e0a14 337.5px,#552c5b 338.5px,#59305f 339.5px,#1b1632 342.5px,#03020d 347.5px,#070611 369.5px,#080715 370.5px)"></i><i style="background:linear-gradient(90deg,#010108 0.5px,#03020a 7.5px,#0c0b1c 9.5px,#010109 14.5px,#080716 19.5px,#010108 24.5px,#010106 57.5px,#12070f 58.5px,#3d3239 59.5px,#4f3844 61.5px,#342a2d 67.5px,#4d4634 68.5px,#d3ccb4 69.5px,#f4dcbe 70.5px,#f5e5ba 76.5px,#e9d9af 77.5px,#ce8684 78.5px,#9a5352 79.5px,#6d3368 80.5px,#34184f 82.5px,#110928 85.5px,#2f292c 86.5px,#c8c2c0 87.5px,#f5dbc3 88.5px,#f2d1c7 97.5px,#b87789 101.5px,#84517b 104.5px,#713d68 105.5px,#1a1523 106.5px,#070614 110.5px,#040310 117.5px,#020209 155.5px,#070714 157.5px,#010108 168.5px,#01000f 230.5px,#01000e 235.5px,#03020e 254.5px,#03020e 257.5px,#03000d 282.5px,#0a0614 283.5px,#44106c 284.5px,#431970 286.5px,#380e65 287.5px,#1d1340 288.5px,#040411 292.5px,#04000a 337.5px,#1d0023 338.5px,#100029 341.5px,#01010b 346.5px,#01000f 370.5px)"></i><i style="background:linear-gradient(90deg,#010108 0.5px,#03020d 17.5px,#060502 58.5px,#262112 61.5px,#7c5551 62.5px,#8f5f5c 64.5px,#8a4658 66.5px,#773345 67.5px,#5e2454 68.5px,#1c122f 75.5px,#030209 84.5px,#020209 85.5px,#271914 86.5px,#a2948b 87.5px,#c8ac94 88.5px,#d9bc91 93.5px,#d5ad85 95.5px,#ca7d74 96.5px,#af615a 97.5px,#974969 98.5px,#873959 99.5px,#491d55 102.5px,#2a0e3e 105.5px,#080510 106.5px,#02010e 129.5px,#06050f 197.5px,#06050f 327.5px,#010108 370.5px)"></i><i style="background:linear-gradient(90deg,#010108 0.5px,#070611 39.5px,#030307 57.5px,#2f2e26 58.5px,#c7c6b9 59.5px,#ebe6cf 60.5px,#f4d8d1 64.5px,#f0c9c2 65.5px,#b77383 67.5px,#935a87 68.5px,#3e2952 72.5px,#0f0b19 79.5px,#03030a 85.5px,#260a06 88.5px,#4d311e 89.5px,#e7cba0 90.5px,#f7e9bd 91.5px,#f4ddb3 94.5px,#eec89f 95.5px,#cc7e76 97.5px,#b16281 98.5px,#a05271 99.5px,#85477b 100.5px,#3c1f4f 105.5px,#0d0a15 106.5px,#03020a 127.5px,#090817 135.5px,#010108 139.5px,#010108 370.5px)"></i><i style="background:linear-gradient(90deg,#010108 0.5px,#03020e 6.5px,#03020e 9.5px,#020104 56.5px,#201f20 57.5px,#b4aa95 58.5px,#dcd2bb 59.5px,#daccb5 67.5px,#dbbbb3 69.5px,#d491a1 70.5px,#b77385 71.5px,#7e3e73 74.5px,#31124e 81.5px,#110928 87.5px,#30202c 88.5px,#aa9aa1 89.5px,#ebb6b3 90.5px,#e4a9ae 92.5px,#ac6b85 95.5px,#603f67 100.5px,#331f44 105.5px,#0c0a13 106.5px,#010108 199.5px,#010108 370.5px)"></i><i style="background:linear-gradient(90deg,#010108 0.5px,#03030a 23.5px,#0d0b1d 25.5px,#0b091b 27.5px,#010108 29.5px,#040306 57.5px,#211507 60.5px,#221407 67.5px,#361614 68.5px,#634440 69.5px,#823e51 70.5px,#723268 75.5px,#2f1a4c 83.5px,#1e1635 87.5px,#261522 88.5px,#352531 89.5px,#7c4748 90.5px,#7f444d 92.5px,#4b113b 97.5px,#170529 104.5px,#150527 105.5px,#03020b 106.5px,#02010c 242.5px,#020209 275.5px,#070613 277.5px,#020209 285.5px,#070614 289.5px,#010108 303.5px,#010108 370.5px)"></i><i style="background:linear-gradient(90deg,#010108 0.5px,#030105 57.5px,#220911 58.5px,#6b5156 59.5px,#895962 60.5px,#835460 67.5px,#4e3349 72.5px,#47202e 77.5px,#13062b 86.5px,#010106 106.5px,#010108 362.5px,#010108 370.5px)"></i><i style="background:linear-gradient(90deg,#010108 0.5px,#0c090d 57.5px,#33070f 61.5px,#2c071d 69.5px,#240723 71.5px,#3f243b 72.5px,#d3b8ca 73.5px,#f0d9e1 74.5px,#ead3db 75.5px,#a26e87 78.5px,#683f66 81.5px,#271a3e 87.5px,#0a0811 99.5px,#010108 158.5px,#02020d 224.5px,#090814 228.5px,#010108 257.5px,#010108 370.5px)"></i><i style="background:linear-gradient(90deg,#010108 0.5px,#050006 54.5px,#161316 55.5px,#865d5a 56.5px,#9a6e6b 58.5px,#996b6a 65.5px,#7b4e5d 67.5px,#785b5b 68.5px,#c1a3a2 69.5px,#e5b790 70.5px,#bf7d62 73.5px,#87484d 77.5px,#7e3758 78.5px,#732c4d 79.5px,#5a2560 80.5px,#281843 85.5px,#2b2628 86.5px,#2f2a26 89.5px,#6a4a4e 90.5px,#714f54 99.5px,#430e2e 105.5px,#0b0614 106.5px,#020209 131.5px,#070611 134.5px,#03020e 318.5px,#0d0b1e 321.5px,#010108 326.5px,#010108 370.5px)"></i><i style="background:linear-gradient(90deg,#010108 0.5px,#050105 55.5px,#280505 56.5px,#2b0710 67.5px,#210507 68.5px,#402225 69.5px,#ca9d76 70.5px,#e3b68e 71.5px,#e7aa8e 73.5px,#e2a3a5 76.5px,#da9b9d 77.5px,#bd7695 78.5px,#9a5474 79.5px,#743f79 80.5px,#291944 84.5px,#40305a 85.5px,#c3bdbb 86.5px,#dfdad6 87.5px,#e0dbd1 89.5px,#f4d7d7 91.5px,#f3d1d2 99.5px,#804b69 105.5px,#1e1926 106.5px,#0a0913 109.5px,#010108 225.5px,#02010d 319.5px,#03020e 340.5px,#090817 343.5px,#010108 347.5px,#020109 370.5px)"></i><i style="background:linear-gradient(90deg,#010108 0.5px,#03020a 18.5px,#040406 55.5px,#1d0d05 58.5px,#1b0b05 59.5px,#3a080f 60.5px,#5f2933 61.5px,#6d2855 62.5px,#572a64 68.5px,#70437c 69.5px,#e3c2c5 70.5px,#f6dddf 71.5px,#f5d9d1 73.5px,#f3d3cd 75.5px,#e6b0ba 76.5px,#a76e8c 78.5px,#56395f 82.5px,#482150 85.5px,#502054 87.5px,#462355 89.5px,#6f3f75 90.5px,#704677 93.5px,#2a213c 101.5px,#161120 105.5px,#020207 107.5px,#03020a 183.5px,#090817 185.5px,#010108 189.5px,#03020a 225.5px,#090817 227.5px,#010108 231.5px,#03020a 369.5px,#0a0818 370.5px)"></i><i style="background:linear-gradient(90deg,#010108 0.5px,#010106 54.5px,#222223 55.5px,#babaa4 56.5px,#d8d7c1 57.5px,#d4c3ad 58.5px,#b8a892 59.5px,#b58087 60.5px,#a57077 61.5px,#9c5782 62.5px,#4c1f59 69.5px,#55333b 70.5px,#7d5c63 71.5px,#926560 73.5px,#855958 75.5px,#622c3a 77.5px,#30092e 81.5px,#1f0629 83.5px,#2e0936 84.5px,#633c6a 85.5px,#744477 86.5px,#4e2b5d 89.5px,#16062c 99.5px,#010106 108.5px,#03020c 131.5px,#0a0919 133.5px,#010108 136.5px,#03020a 235.5px,#0a0919 237.5px,#010108 243.5px,#0a0819 247.5px,#010108 250.5px,#010010 370.5px)"></i><i style="background:linear-gradient(90deg,#010108 0.5px,#040308 55.5px,#1c1a13 59.5px,#382119 60.5px,#755d53 61.5px,#8e6262 62.5px,#96485f 66.5px,#893b53 67.5px,#713060 68.5px,#522059 70.5px,#55235c 71.5px,#7a3f73 72.5px,#6f3d71 75.5px,#301e46 82.5px,#302244 85.5px,#563858 86.5px,#543553 97.5px,#181227 105.5px,#05050b 106.5px,#02020d 120.5px,#050412 125.5px,#03030a 207.5px,#03020e 209.5px,#010108 370.5px)"></i><i style="background:linear-gradient(90deg,#010108 0.5px,#050408 57.5px,#27251e 58.5px,#bebbaf 59.5px,#eed6c8 60.5px,#f3d1cd 63.5px,#dca2a2 65.5px,#ae6076 67.5px,#985786 68.5px,#6c3972 71.5px,#130428 84.5px,#230621 93.5px,#070217 105.5px,#010106 108.5px,#010108 181.5px,#010108 370.5px)"></i><i style="background:linear-gradient(90deg,#010108 0.5px,#02020a 7.5px,#09071d 9.5px,#010108 14.5px,#010106 55.5px,#160522 56.5px,#392344 57.5px,#592e6a 59.5px,#552965 65.5px,#4b255b 66.5px,#633c72 67.5px,#d9d2af 68.5px,#f4edca 69.5px,#eeedc2 75.5px,#f4ddb5 76.5px,#cfb48f 77.5px,#c67379 78.5px,#a6545b 79.5px,#824070 80.5px,#331a51 84.5px,#1a1134 87.5px,#3e2620 88.5px,#b29b91 89.5px,#dfad87 90.5px,#d4a27c 91.5px,#ba695d 93.5px,#a9536c 94.5px,#9d4760 95.5px,#85406c 96.5px,#271144 105.5px,#080610 106.5px,#020110 110.5px,#02010f 226.5px,#030312 246.5px,#010108 370.5px)"></i></div>
<svg width="685" height="416" viewBox="0 0 685 416" font-family="Liberation Sans">
<rect x="0" y="39" width="1" height="319" fill="#9a9a9a"/>
<rect x="0" y="368" width="1" height="41" fill="#9a9a9a"/>
<text x="-0.3" y="10.6" font-size="15.5" font-weight="bold" fill="#000">a</text>
<text x="396.2" y="10.8" font-size="15" font-weight="bold" fill="#000">b</text>
<text x="396.5" y="219" font-size="15.5" font-weight="bold" fill="#000">c</text>
<text x="4.0" y="28.2" font-size="12.2" fill="#111" textLength="48.6" lengthAdjust="spacingAndGlyphs" >Brushes</text>
<text x="66.2" y="28.6" font-size="12.2" fill="#111" textLength="47.5" lengthAdjust="spacingAndGlyphs" >Pinches</text>
<text x="227.8" y="11.0" font-size="12.2" fill="#111" textLength="28.8" lengthAdjust="spacingAndGlyphs" >Heat</text>
<text x="124.6" y="34.3" font-size="12.2" fill="#111" textLength="15.6" lengthAdjust="spacingAndGlyphs" >37</text>
<text x="178.8" y="34.3" font-size="12.2" fill="#111" textLength="15.6" lengthAdjust="spacingAndGlyphs" >39</text>
<text x="235.2" y="34.3" font-size="12.2" fill="#111" textLength="15.6" lengthAdjust="spacingAndGlyphs" >42</text>
<text x="287.0" y="34.3" font-size="12.2" fill="#111" textLength="15.6" lengthAdjust="spacingAndGlyphs" >45</text>
<text x="339.6" y="34.3" font-size="12.2" fill="#111" textLength="32.4" lengthAdjust="spacingAndGlyphs" >50 °C</text>
<rect x="7" y="33" width="45.4" height="1" fill="#222"/>
<rect x="63.1" y="33" width="50.8" height="1" fill="#222"/>
<rect x="113" y="14.8" width="259" height="1" fill="#222"/>
<defs><linearGradient id="mg" x1="0" y1="1" x2="0" y2="0">
<stop offset="0.0" stop-color="#000004"/>
<stop offset="0.1" stop-color="#140e36"/>
<stop offset="0.2" stop-color="#3b0f70"/>
<stop offset="0.3" stop-color="#641a80"/>
<stop offset="0.4" stop-color="#8c2981"/>
<stop offset="0.5" stop-color="#b73779"/>
<stop offset="0.6" stop-color="#de4968"/>
<stop offset="0.7" stop-color="#f7705c"/>
<stop offset="0.8" stop-color="#fe9f6d"/>
<stop offset="0.9" stop-color="#fecf92"/>
<stop offset="1.0" stop-color="#fcfdbf"/>
</linearGradient></defs>
<rect x="5.2" y="59.1" width="7.4" height="73.6" fill="url(#mg)" stroke="#bdbdbd" stroke-width="0.9"/>
<text x="16.2" y="64.8" font-size="12.4" fill="#fff" textLength="17.4" lengthAdjust="spacingAndGlyphs" >100</text>
<text x="16.2" y="135.7" font-size="12.4" fill="#fff" textLength="6.4" lengthAdjust="spacingAndGlyphs" >0</text>
<text transform="translate(50.1,116.6) rotate(-90)" font-size="14.2" fill="#fff" textLength="42.5" lengthAdjust="spacingAndGlyphs"><tspan>% Δ</tspan><tspan font-style="italic">F</tspan><tspan>/</tspan><tspan font-style="italic">F</tspan></text>
<text x="222" y="352.8" font-size="12.2" fill="#fff" textLength="146.3" lengthAdjust="spacingAndGlyphs"><tspan font-style="italic">Mrgprd-CreER</tspan> NP1 cells</text>
<text x="179.8" y="406" font-size="12.2" fill="#fff" textLength="187.3" lengthAdjust="spacingAndGlyphs"><tspan font-style="italic">Mrgprb4-tdT-2a-Cre</tspan> NP2B cells</text>
<rect x="7.8" y="405.5" width="13" height="2.2" fill="#fff"/>
<rect x="446.2" y="19.0" width="1.5" height="145.5" fill="#b8b8b8"/>
<rect x="442.4" y="164.00" width="4.3" height="1" fill="#333"/>
<text x="430.8" y="169.1" font-size="12.8" fill="#111" textLength="7.1000000000000005" lengthAdjust="spacingAndGlyphs" >0</text>
<rect x="442.4" y="135.40" width="4.3" height="1" fill="#333"/>
<text x="422.6" y="140.5" font-size="12.8" fill="#111" textLength="15.3" lengthAdjust="spacingAndGlyphs" >20</text>
<rect x="442.4" y="106.80" width="4.3" height="1" fill="#333"/>
<text x="422.6" y="111.9" font-size="12.8" fill="#111" textLength="15.3" lengthAdjust="spacingAndGlyphs" >40</text>
<rect x="442.4" y="78.20" width="4.3" height="1" fill="#333"/>
<text x="422.6" y="83.3" font-size="12.8" fill="#111" textLength="15.3" lengthAdjust="spacingAndGlyphs" >60</text>
<rect x="442.4" y="49.60" width="4.3" height="1" fill="#333"/>
<text x="422.6" y="54.7" font-size="12.8" fill="#111" textLength="15.3" lengthAdjust="spacingAndGlyphs" >80</text>
<rect x="442.4" y="21.00" width="4.3" height="1" fill="#333"/>
<text x="416.1" y="26.1" font-size="12.8" fill="#111" textLength="21.799999999999997" lengthAdjust="spacingAndGlyphs" >100</text>
<text transform="translate(406.3,92.2) rotate(-90)" font-size="12.2" text-anchor="middle" fill="#111" textLength="91" lengthAdjust="spacingAndGlyphs">Responsive (%)</text>
<line x1="460.15" y1="141.48" x2="460.15" y2="144.77" stroke="#222" stroke-width="1"/>
<line x1="456.75" y1="141.48" x2="463.55" y2="141.48" stroke="#222" stroke-width="1"/>
<rect x="455.70" y="144.77" width="8.9" height="19.73" fill="#d3d3d3" stroke="#262626" stroke-width="1"/>
<line x1="469.55" y1="136.33" x2="469.55" y2="147.34" stroke="#222" stroke-width="1"/>
<line x1="466.15" y1="136.33" x2="472.95" y2="136.33" stroke="#222" stroke-width="1"/>
<rect x="464.60" y="147.34" width="9.9" height="17.16" fill="#7f7f7f" stroke="#262626" stroke-width="1"/>
<circle cx="460.1" cy="120.2" r="0.85" fill="#666"/>
<circle cx="460.1" cy="124.5" r="0.85" fill="#666"/>
<circle cx="460.1" cy="130.2" r="0.85" fill="#666"/>
<circle cx="460.1" cy="140.2" r="0.85" fill="#666"/>
<circle cx="460.1" cy="144.5" r="0.85" fill="#666"/>
<circle cx="460.1" cy="148.8" r="0.85" fill="#666"/>
<circle cx="460.1" cy="153.1" r="0.85" fill="#666"/>
<circle cx="460.1" cy="160.2" r="0.85" fill="#666"/>
<circle cx="469.6" cy="115.9" r="0.85" fill="#666"/>
<circle cx="469.6" cy="153.1" r="0.85" fill="#666"/>
<circle cx="469.6" cy="155.9" r="0.85" fill="#666"/>
<circle cx="469.6" cy="163.1" r="0.85" fill="#666"/>
<line x1="485.89" y1="34.51" x2="485.89" y2="38.66" stroke="#222" stroke-width="1"/>
<line x1="482.49" y1="34.51" x2="489.29" y2="34.51" stroke="#222" stroke-width="1"/>
<rect x="481.44" y="38.66" width="8.9" height="125.84" fill="#d3d3d3" stroke="#262626" stroke-width="1"/>
<line x1="495.29" y1="34.08" x2="495.29" y2="39.52" stroke="#222" stroke-width="1"/>
<line x1="491.89" y1="34.08" x2="498.69" y2="34.08" stroke="#222" stroke-width="1"/>
<rect x="490.34" y="39.52" width="9.9" height="124.98" fill="#7f7f7f" stroke="#262626" stroke-width="1"/>
<circle cx="485.9" cy="21.5" r="0.85" fill="#666"/>
<circle cx="485.9" cy="24.4" r="0.85" fill="#666"/>
<circle cx="485.9" cy="27.2" r="0.85" fill="#666"/>
<circle cx="485.9" cy="31.5" r="0.85" fill="#666"/>
<circle cx="485.9" cy="37.2" r="0.85" fill="#666"/>
<circle cx="485.9" cy="43.0" r="0.85" fill="#666"/>
<circle cx="485.9" cy="50.1" r="0.85" fill="#666"/>
<circle cx="485.9" cy="75.8" r="0.85" fill="#666"/>
<circle cx="485.9" cy="90.1" r="0.85" fill="#666"/>
<circle cx="495.3" cy="24.4" r="0.85" fill="#666"/>
<circle cx="495.3" cy="45.8" r="0.85" fill="#666"/>
<circle cx="495.3" cy="78.7" r="0.85" fill="#666"/>
<line x1="511.63" y1="160.50" x2="511.63" y2="163.36" stroke="#222" stroke-width="1"/>
<line x1="508.23" y1="160.50" x2="515.03" y2="160.50" stroke="#222" stroke-width="1"/>
<rect x="507.18" y="163.36" width="8.9" height="1.14" fill="#d3d3d3" stroke="#262626" stroke-width="1"/>
<line x1="521.03" y1="160.78" x2="521.03" y2="161.64" stroke="#222" stroke-width="1"/>
<line x1="517.63" y1="160.78" x2="524.43" y2="160.78" stroke="#222" stroke-width="1"/>
<rect x="516.08" y="161.64" width="9.9" height="2.86" fill="#7f7f7f" stroke="#262626" stroke-width="1"/>
<circle cx="511.6" cy="158.8" r="0.85" fill="#666"/>
<circle cx="511.6" cy="161.6" r="0.85" fill="#666"/>
<circle cx="511.6" cy="163.1" r="0.85" fill="#666"/>
<circle cx="511.6" cy="164.5" r="0.85" fill="#666"/>
<circle cx="521.0" cy="160.2" r="0.85" fill="#666"/>
<circle cx="521.0" cy="161.6" r="0.85" fill="#666"/>
<circle cx="521.0" cy="163.1" r="0.85" fill="#666"/>
<line x1="537.37" y1="156.63" x2="537.37" y2="160.21" stroke="#222" stroke-width="1"/>
<line x1="533.97" y1="156.63" x2="540.77" y2="156.63" stroke="#222" stroke-width="1"/>
<rect x="532.92" y="160.21" width="8.9" height="4.29" fill="#d3d3d3" stroke="#262626" stroke-width="1"/>
<line x1="546.77" y1="148.77" x2="546.77" y2="151.92" stroke="#222" stroke-width="1"/>
<line x1="543.37" y1="148.77" x2="550.17" y2="148.77" stroke="#222" stroke-width="1"/>
<rect x="541.82" y="151.92" width="9.9" height="12.58" fill="#7f7f7f" stroke="#262626" stroke-width="1"/>
<circle cx="537.4" cy="143.1" r="0.85" fill="#666"/>
<circle cx="537.4" cy="150.2" r="0.85" fill="#666"/>
<circle cx="537.4" cy="155.9" r="0.85" fill="#666"/>
<circle cx="537.4" cy="160.2" r="0.85" fill="#666"/>
<circle cx="537.4" cy="163.1" r="0.85" fill="#666"/>
<circle cx="546.8" cy="147.3" r="0.85" fill="#666"/>
<circle cx="546.8" cy="150.2" r="0.85" fill="#666"/>
<circle cx="546.8" cy="154.5" r="0.85" fill="#666"/>
<line x1="563.11" y1="137.76" x2="563.11" y2="143.34" stroke="#222" stroke-width="1"/>
<line x1="559.71" y1="137.76" x2="566.51" y2="137.76" stroke="#222" stroke-width="1"/>
<rect x="558.66" y="143.34" width="8.9" height="21.16" fill="#d3d3d3" stroke="#262626" stroke-width="1"/>
<line x1="572.51" y1="116.59" x2="572.51" y2="121.60" stroke="#222" stroke-width="1"/>
<line x1="569.11" y1="116.59" x2="575.91" y2="116.59" stroke="#222" stroke-width="1"/>
<rect x="567.56" y="121.60" width="9.9" height="42.90" fill="#7f7f7f" stroke="#262626" stroke-width="1"/>
<circle cx="563.1" cy="84.4" r="0.85" fill="#666"/>
<circle cx="563.1" cy="133.0" r="0.85" fill="#666"/>
<circle cx="563.1" cy="138.8" r="0.85" fill="#666"/>
<circle cx="563.1" cy="144.5" r="0.85" fill="#666"/>
<circle cx="563.1" cy="150.2" r="0.85" fill="#666"/>
<circle cx="563.1" cy="155.9" r="0.85" fill="#666"/>
<circle cx="572.5" cy="105.9" r="0.85" fill="#666"/>
<circle cx="572.5" cy="121.6" r="0.85" fill="#666"/>
<circle cx="572.5" cy="124.5" r="0.85" fill="#666"/>
<line x1="588.85" y1="112.16" x2="588.85" y2="117.60" stroke="#222" stroke-width="1"/>
<line x1="585.45" y1="112.16" x2="592.25" y2="112.16" stroke="#222" stroke-width="1"/>
<rect x="584.40" y="117.60" width="8.9" height="46.90" fill="#d3d3d3" stroke="#262626" stroke-width="1"/>
<line x1="598.25" y1="88.57" x2="598.25" y2="94.14" stroke="#222" stroke-width="1"/>
<line x1="594.85" y1="88.57" x2="601.65" y2="88.57" stroke="#222" stroke-width="1"/>
<rect x="593.30" y="94.14" width="9.9" height="70.36" fill="#7f7f7f" stroke="#262626" stroke-width="1"/>
<circle cx="588.9" cy="74.4" r="0.85" fill="#666"/>
<circle cx="588.9" cy="94.4" r="0.85" fill="#666"/>
<circle cx="588.9" cy="114.5" r="0.85" fill="#666"/>
<circle cx="588.9" cy="121.6" r="0.85" fill="#666"/>
<circle cx="588.9" cy="128.8" r="0.85" fill="#666"/>
<circle cx="588.9" cy="140.2" r="0.85" fill="#666"/>
<circle cx="588.9" cy="153.1" r="0.85" fill="#666"/>
<circle cx="598.2" cy="78.7" r="0.85" fill="#666"/>
<circle cx="598.2" cy="93.0" r="0.85" fill="#666"/>
<circle cx="598.2" cy="103.0" r="0.85" fill="#666"/>
<line x1="614.59" y1="83.85" x2="614.59" y2="89.00" stroke="#222" stroke-width="1"/>
<line x1="611.19" y1="83.85" x2="617.99" y2="83.85" stroke="#222" stroke-width="1"/>
<rect x="610.14" y="89.00" width="8.9" height="75.50" fill="#d3d3d3" stroke="#262626" stroke-width="1"/>
<line x1="623.99" y1="73.27" x2="623.99" y2="81.56" stroke="#222" stroke-width="1"/>
<line x1="620.59" y1="73.27" x2="627.39" y2="73.27" stroke="#222" stroke-width="1"/>
<rect x="619.04" y="81.56" width="9.9" height="82.94" fill="#7f7f7f" stroke="#262626" stroke-width="1"/>
<circle cx="614.6" cy="50.1" r="0.85" fill="#666"/>
<circle cx="614.6" cy="74.4" r="0.85" fill="#666"/>
<circle cx="614.6" cy="83.0" r="0.85" fill="#666"/>
<circle cx="614.6" cy="93.0" r="0.85" fill="#666"/>
<circle cx="614.6" cy="100.2" r="0.85" fill="#666"/>
<circle cx="614.6" cy="107.3" r="0.85" fill="#666"/>
<circle cx="624.0" cy="63.0" r="0.85" fill="#666"/>
<circle cx="624.0" cy="85.9" r="0.85" fill="#666"/>
<circle cx="624.0" cy="104.4" r="0.85" fill="#666"/>
<rect x="442.4" y="164.00" width="196" height="1" fill="#555"/>
<text transform="translate(468.8,174.4) rotate(-45)" font-size="13" text-anchor="end" fill="#111">Brush</text>
<text transform="translate(494.5,174.4) rotate(-45)" font-size="13" text-anchor="end" fill="#111">Pinch</text>
<text transform="translate(522.8,176.6) rotate(-45)" font-size="13" text-anchor="end" fill="#111">37</text>
<text transform="translate(548.5,176.6) rotate(-45)" font-size="13" text-anchor="end" fill="#111">39</text>
<text transform="translate(574.3,176.6) rotate(-45)" font-size="13" text-anchor="end" fill="#111">42</text>
<text transform="translate(600.0,176.6) rotate(-45)" font-size="13" text-anchor="end" fill="#111">45</text>
<text transform="translate(625.7,176.6) rotate(-45)" font-size="13" text-anchor="end" fill="#111">50</text>
<rect x="628.5" y="18.0" width="13" height="9" fill="#d6d6d6" stroke="#555" stroke-width="1"/>
<rect x="628.5" y="34.5" width="13" height="9" fill="#7e7e7e" stroke="#555" stroke-width="1"/>
<text x="647.2" y="27.4" font-size="12.8" fill="#111" textLength="21.3" lengthAdjust="spacingAndGlyphs" >ISH</text>
<text x="647.2" y="43.9" font-size="12.8" fill="#111" >CreER</text>
<rect x="446.2" y="235.9" width="1.5" height="145.5" fill="#b8b8b8"/>
<rect x="442.4" y="380.90" width="4.3" height="1" fill="#333"/>
<text x="430.8" y="386.0" font-size="12.8" fill="#111" textLength="7.1000000000000005" lengthAdjust="spacingAndGlyphs" >0</text>
<rect x="442.4" y="352.30" width="4.3" height="1" fill="#333"/>
<text x="422.6" y="357.4" font-size="12.8" fill="#111" textLength="15.3" lengthAdjust="spacingAndGlyphs" >20</text>
<rect x="442.4" y="323.70" width="4.3" height="1" fill="#333"/>
<text x="422.6" y="328.8" font-size="12.8" fill="#111" textLength="15.3" lengthAdjust="spacingAndGlyphs" >40</text>
<rect x="442.4" y="295.10" width="4.3" height="1" fill="#333"/>
<text x="422.6" y="300.2" font-size="12.8" fill="#111" textLength="15.3" lengthAdjust="spacingAndGlyphs" >60</text>
<rect x="442.4" y="266.50" width="4.3" height="1" fill="#333"/>
<text x="422.6" y="271.6" font-size="12.8" fill="#111" textLength="15.3" lengthAdjust="spacingAndGlyphs" >80</text>
<rect x="442.4" y="237.90" width="4.3" height="1" fill="#333"/>
<text x="416.1" y="243.0" font-size="12.8" fill="#111" textLength="21.799999999999997" lengthAdjust="spacingAndGlyphs" >100</text>
<text transform="translate(406.3,309.1) rotate(-90)" font-size="12.2" text-anchor="middle" fill="#111" textLength="91" lengthAdjust="spacingAndGlyphs">Responsive (%)</text>
<line x1="460.15" y1="366.24" x2="460.15" y2="371.39" stroke="#222" stroke-width="1"/>
<line x1="456.75" y1="366.24" x2="463.55" y2="366.24" stroke="#222" stroke-width="1"/>
<rect x="455.70" y="371.39" width="8.9" height="10.01" fill="#d3d3d3" stroke="#262626" stroke-width="1"/>
<line x1="469.55" y1="378.54" x2="469.55" y2="380.40" stroke="#222" stroke-width="1"/>
<line x1="466.15" y1="378.54" x2="472.95" y2="378.54" stroke="#222" stroke-width="1"/>
<rect x="464.60" y="380.40" width="9.9" height="1.00" fill="#7f7f7f" stroke="#262626" stroke-width="1"/>
<circle cx="460.1" cy="334.2" r="0.85" fill="#666"/>
<circle cx="460.1" cy="345.6" r="0.85" fill="#666"/>
<circle cx="460.1" cy="352.8" r="0.85" fill="#666"/>
<circle cx="460.1" cy="374.2" r="0.85" fill="#666"/>
<circle cx="469.6" cy="377.1" r="0.85" fill="#666"/>
<circle cx="469.6" cy="380.0" r="0.85" fill="#666"/>
<circle cx="469.6" cy="381.4" r="0.85" fill="#666"/>
<line x1="485.89" y1="259.13" x2="485.89" y2="263.85" stroke="#222" stroke-width="1"/>
<line x1="482.49" y1="259.13" x2="489.29" y2="259.13" stroke="#222" stroke-width="1"/>
<rect x="481.44" y="263.85" width="8.9" height="117.55" fill="#d3d3d3" stroke="#262626" stroke-width="1"/>
<line x1="495.29" y1="248.41" x2="495.29" y2="254.56" stroke="#222" stroke-width="1"/>
<line x1="491.89" y1="248.41" x2="498.69" y2="248.41" stroke="#222" stroke-width="1"/>
<rect x="490.34" y="254.56" width="9.9" height="126.84" fill="#7f7f7f" stroke="#262626" stroke-width="1"/>
<circle cx="485.9" cy="238.4" r="0.85" fill="#666"/>
<circle cx="485.9" cy="255.6" r="0.85" fill="#666"/>
<circle cx="485.9" cy="267.0" r="0.85" fill="#666"/>
<circle cx="485.9" cy="281.3" r="0.85" fill="#666"/>
<circle cx="485.9" cy="295.6" r="0.85" fill="#666"/>
<circle cx="485.9" cy="302.8" r="0.85" fill="#666"/>
<circle cx="495.3" cy="245.5" r="0.85" fill="#666"/>
<circle cx="495.3" cy="255.6" r="0.85" fill="#666"/>
<circle cx="495.3" cy="267.0" r="0.85" fill="#666"/>
<line x1="507.68" y1="380.90" x2="515.68" y2="380.90" stroke="#262626" stroke-width="1"/>
<line x1="516.58" y1="380.90" x2="524.58" y2="380.90" stroke="#262626" stroke-width="1"/>
<circle cx="511.6" cy="381.4" r="0.85" fill="#666"/>
<circle cx="521.0" cy="381.4" r="0.85" fill="#666"/>
<line x1="537.37" y1="368.10" x2="537.37" y2="372.10" stroke="#222" stroke-width="1"/>
<line x1="533.97" y1="368.10" x2="540.77" y2="368.10" stroke="#222" stroke-width="1"/>
<rect x="532.92" y="372.10" width="8.9" height="9.29" fill="#d3d3d3" stroke="#262626" stroke-width="1"/>
<line x1="546.77" y1="378.54" x2="546.77" y2="379.97" stroke="#222" stroke-width="1"/>
<line x1="543.37" y1="378.54" x2="550.17" y2="378.54" stroke="#222" stroke-width="1"/>
<rect x="541.82" y="379.97" width="9.9" height="1.43" fill="#7f7f7f" stroke="#262626" stroke-width="1"/>
<circle cx="537.4" cy="339.9" r="0.85" fill="#666"/>
<circle cx="537.4" cy="364.2" r="0.85" fill="#666"/>
<circle cx="537.4" cy="371.4" r="0.85" fill="#666"/>
<circle cx="537.4" cy="377.1" r="0.85" fill="#666"/>
<circle cx="546.8" cy="378.5" r="0.85" fill="#666"/>
<circle cx="546.8" cy="380.0" r="0.85" fill="#666"/>
<circle cx="546.8" cy="381.4" r="0.85" fill="#666"/>
<line x1="563.11" y1="345.94" x2="563.11" y2="353.94" stroke="#222" stroke-width="1"/>
<line x1="559.71" y1="345.94" x2="566.51" y2="345.94" stroke="#222" stroke-width="1"/>
<rect x="558.66" y="353.94" width="8.9" height="27.46" fill="#d3d3d3" stroke="#262626" stroke-width="1"/>
<line x1="572.51" y1="331.35" x2="572.51" y2="338.64" stroke="#222" stroke-width="1"/>
<line x1="569.11" y1="331.35" x2="575.91" y2="331.35" stroke="#222" stroke-width="1"/>
<rect x="567.56" y="338.64" width="9.9" height="42.76" fill="#7f7f7f" stroke="#262626" stroke-width="1"/>
<circle cx="563.1" cy="319.9" r="0.85" fill="#666"/>
<circle cx="563.1" cy="327.1" r="0.85" fill="#666"/>
<circle cx="563.1" cy="345.6" r="0.85" fill="#666"/>
<circle cx="563.1" cy="352.8" r="0.85" fill="#666"/>
<circle cx="563.1" cy="359.9" r="0.85" fill="#666"/>
<circle cx="563.1" cy="367.1" r="0.85" fill="#666"/>
<circle cx="563.1" cy="374.2" r="0.85" fill="#666"/>
<circle cx="563.1" cy="381.4" r="0.85" fill="#666"/>
<circle cx="572.5" cy="335.6" r="0.85" fill="#666"/>
<circle cx="572.5" cy="341.4" r="0.85" fill="#666"/>
<circle cx="572.5" cy="352.8" r="0.85" fill="#666"/>
<line x1="588.85" y1="311.90" x2="588.85" y2="324.20" stroke="#222" stroke-width="1"/>
<line x1="585.45" y1="311.90" x2="592.25" y2="311.90" stroke="#222" stroke-width="1"/>
<rect x="584.40" y="324.20" width="8.9" height="57.20" fill="#d3d3d3" stroke="#262626" stroke-width="1"/>
<line x1="598.25" y1="306.18" x2="598.25" y2="317.05" stroke="#222" stroke-width="1"/>
<line x1="594.85" y1="306.18" x2="601.65" y2="306.18" stroke="#222" stroke-width="1"/>
<rect x="593.30" y="317.05" width="9.9" height="64.35" fill="#7f7f7f" stroke="#262626" stroke-width="1"/>
<circle cx="588.9" cy="274.1" r="0.85" fill="#666"/>
<circle cx="588.9" cy="278.4" r="0.85" fill="#666"/>
<circle cx="588.9" cy="288.4" r="0.85" fill="#666"/>
<circle cx="588.9" cy="295.6" r="0.85" fill="#666"/>
<circle cx="588.9" cy="299.9" r="0.85" fill="#666"/>
<circle cx="588.9" cy="309.9" r="0.85" fill="#666"/>
<circle cx="588.9" cy="317.0" r="0.85" fill="#666"/>
<circle cx="588.9" cy="327.1" r="0.85" fill="#666"/>
<circle cx="588.9" cy="352.8" r="0.85" fill="#666"/>
<circle cx="598.2" cy="295.6" r="0.85" fill="#666"/>
<circle cx="598.2" cy="307.0" r="0.85" fill="#666"/>
<circle cx="598.2" cy="338.5" r="0.85" fill="#666"/>
<line x1="614.59" y1="291.45" x2="614.59" y2="306.18" stroke="#222" stroke-width="1"/>
<line x1="611.19" y1="291.45" x2="617.99" y2="291.45" stroke="#222" stroke-width="1"/>
<rect x="610.14" y="306.18" width="8.9" height="75.22" fill="#d3d3d3" stroke="#262626" stroke-width="1"/>
<line x1="623.99" y1="271.29" x2="623.99" y2="285.02" stroke="#222" stroke-width="1"/>
<line x1="620.59" y1="271.29" x2="627.39" y2="271.29" stroke="#222" stroke-width="1"/>
<rect x="619.04" y="285.02" width="9.9" height="96.38" fill="#7f7f7f" stroke="#262626" stroke-width="1"/>
<circle cx="614.6" cy="238.4" r="0.85" fill="#666"/>
<circle cx="614.6" cy="245.5" r="0.85" fill="#666"/>
<circle cx="614.6" cy="257.0" r="0.85" fill="#666"/>
<circle cx="614.6" cy="267.0" r="0.85" fill="#666"/>
<circle cx="614.6" cy="274.1" r="0.85" fill="#666"/>
<circle cx="614.6" cy="288.4" r="0.85" fill="#666"/>
<circle cx="614.6" cy="302.8" r="0.85" fill="#666"/>
<circle cx="614.6" cy="309.9" r="0.85" fill="#666"/>
<circle cx="614.6" cy="327.1" r="0.85" fill="#666"/>
<circle cx="624.0" cy="259.8" r="0.85" fill="#666"/>
<circle cx="624.0" cy="281.3" r="0.85" fill="#666"/>
<circle cx="624.0" cy="302.8" r="0.85" fill="#666"/>
<rect x="442.4" y="380.90" width="196" height="1" fill="#555"/>
<text transform="translate(468.8,391.3) rotate(-45)" font-size="13" text-anchor="end" fill="#111">Brush</text>
<text transform="translate(494.5,391.3) rotate(-45)" font-size="13" text-anchor="end" fill="#111">Pinch</text>
<text transform="translate(522.8,393.5) rotate(-45)" font-size="13" text-anchor="end" fill="#111">37</text>
<text transform="translate(548.5,393.5) rotate(-45)" font-size="13" text-anchor="end" fill="#111">39</text>
<text transform="translate(574.3,393.5) rotate(-45)" font-size="13" text-anchor="end" fill="#111">42</text>
<text transform="translate(600.0,393.5) rotate(-45)" font-size="13" text-anchor="end" fill="#111">45</text>
<text transform="translate(625.7,393.5) rotate(-45)" font-size="13" text-anchor="end" fill="#111">50</text>
<rect x="628.5" y="220.5" width="13" height="9" fill="#d6d6d6" stroke="#555" stroke-width="1"/>
<rect x="628.5" y="237.0" width="13" height="9" fill="#7e7e7e" stroke="#555" stroke-width="1"/>
<text x="647.2" y="229.9" font-size="12.8" fill="#111" textLength="21.3" lengthAdjust="spacingAndGlyphs" >ISH</text>
<text x="647.2" y="246.4" font-size="12.8" fill="#111" >tdT</text>
</svg>
</body></html>
